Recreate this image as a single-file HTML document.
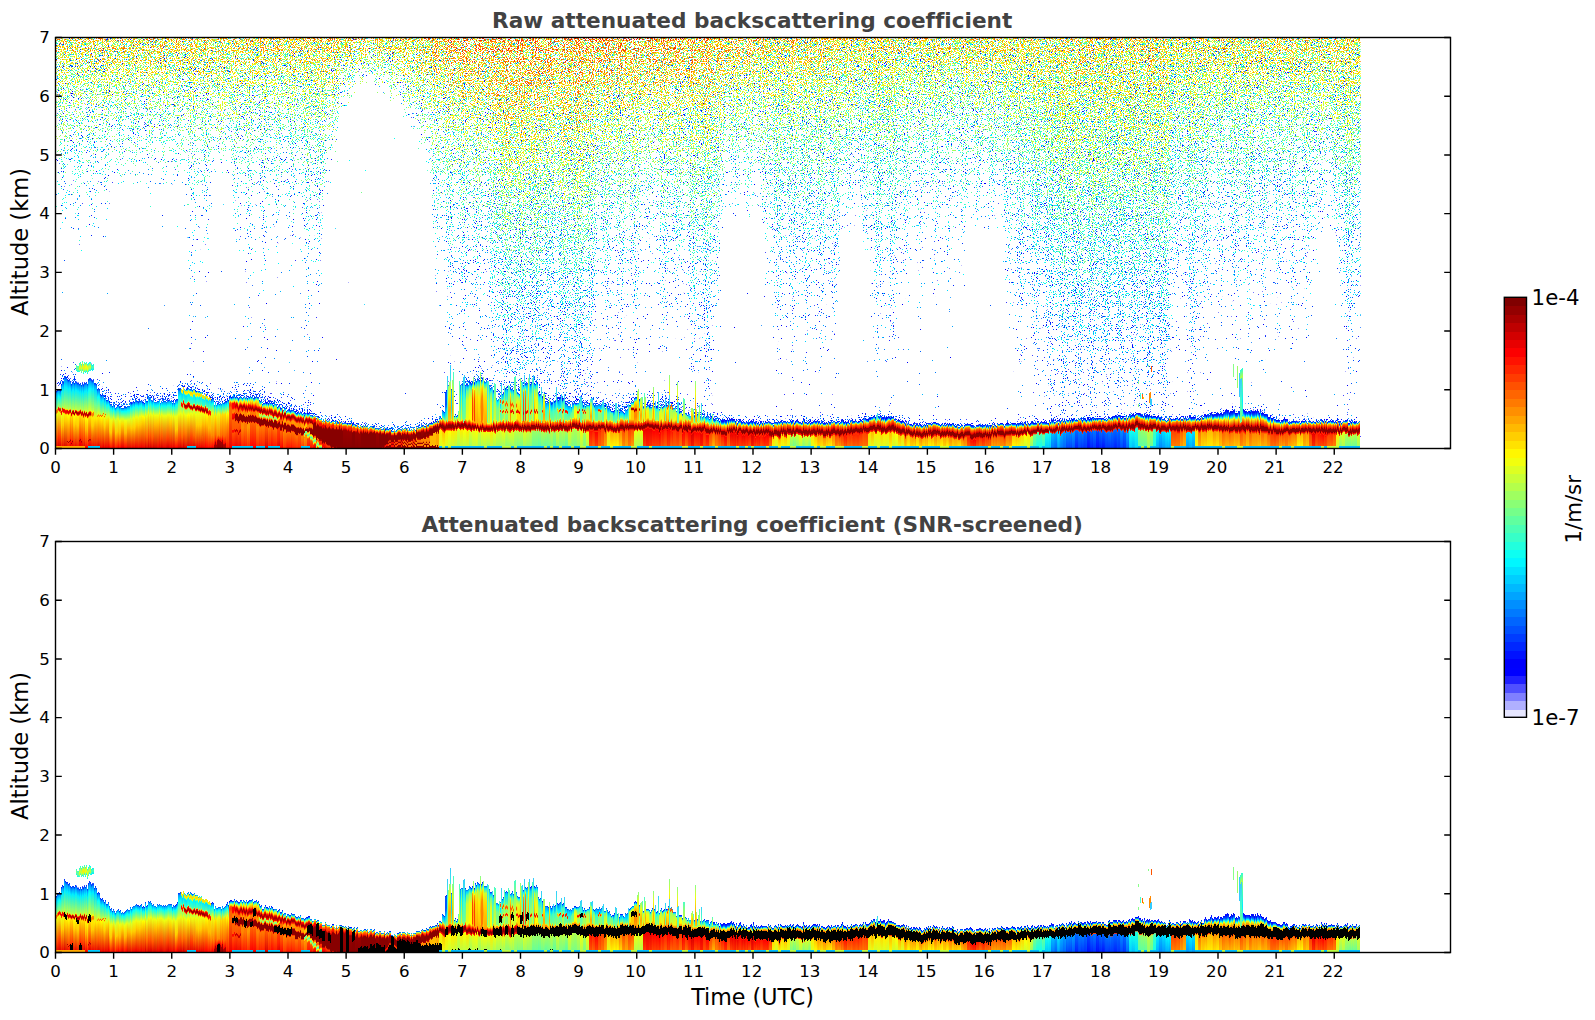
<!DOCTYPE html>
<html><head><meta charset="utf-8"><title>Attenuated backscattering coefficient</title>
<style>html,body{margin:0;padding:0;background:#fff;overflow:hidden}svg{display:block}text{font-family:"DejaVu Sans","Liberation Sans",sans-serif;font-variant-ligatures:none}</style></head><body>
<svg width="1595" height="1020" viewBox="0 0 1595 1020">
<defs>
<linearGradient id="vg" x1="0" y1="0" x2="0" y2="1"/>
<filter id="nz" filterUnits="userSpaceOnUse" x="25.5" y="32.5" width="1365.2" height="421" color-interpolation-filters="sRGB">
<feGaussianBlur in="SourceGraphic" stdDeviation="2.5 0" result="s"/>
<feTurbulence type="fractalNoise" baseFrequency="0.93 0.91" numOctaves="1" seed="11" result="n"/>
<feComponentTransfer in="n" result="n2"><feFuncR type="table" tableValues="1 1 1 1 1 1 1 1 1 1 1 1 1 1 1 1 1 1 1 1 1 1 1 1 1 1 1 1 1 1 1 1 1 1 1 1 1 1 1 1 1 1 1 1 1 1 1 1 1 1 1 1 1 1 1 1 1 1 1 1 1 1 1 0.997 0.993 0.99 0.987 0.984 0.98 0.977 0.973 0.97 0.966 0.962 0.959 0.955 0.951 0.947 0.943 0.939 0.934 0.93 0.926 0.921 0.916 0.912 0.907 0.902 0.897 0.892 0.886 0.881 0.875 0.869 0.863 0.857 0.851 0.844 0.837 0.83 0.823 0.815 0.806 0.796 0.786 0.776 0.765 0.754 0.742 0.73 0.716 0.703 0.688 0.672 0.655 0.637 0.617 0.595 0.572 0.545 0.515 0.481 0.442 0.394 0.335 0.255 0.133 0 0 0.133 0.255 0.335 0.394 0.442 0.481 0.515 0.545 0.572 0.595 0.617 0.637 0.655 0.672 0.688 0.703 0.716 0.73 0.742 0.754 0.765 0.776 0.786 0.796 0.806 0.815 0.823 0.83 0.837 0.844 0.851 0.857 0.863 0.869 0.875 0.881 0.886 0.892 0.897 0.902 0.907 0.912 0.916 0.921 0.926 0.93 0.934 0.939 0.943 0.947 0.951 0.955 0.959 0.962 0.966 0.97 0.973 0.977 0.98 0.984 0.987 0.99 0.993 0.997 1 1 1 1 1 1 1 1 1 1 1 1 1 1 1 1 1 1 1 1 1 1 1 1 1 1 1 1 1 1 1 1 1 1 1 1 1 1 1 1 1 1 1 1 1 1 1 1 1 1 1 1 1 1 1 1 1 1 1 1 1 1 1"/><feFuncA type="linear" slope="0" intercept="1"/></feComponentTransfer>
<feComposite in="n2" in2="s" operator="arithmetic" k1="0" k2="0.5" k3="0.5" k4="0" result="u"/>
<feColorMatrix in="u" type="matrix" values="1 0 0 0 0 1 0 0 0 0 1 0 0 0 0 0 0 0 0 1" result="ur"/>
<feComponentTransfer in="ur" result="col"><feFuncR type="table" tableValues="1 1 1 1 1 1 1 1 1 1 1 1 1 1 1 1 1 1 1 1 1 1 1 1 1 1 1 1 1 1 1 1 1 1 1 1 1 1 1 1 0.902 0.902 0.69 0.69 0.69 0.502 0.502 0.314 0.314 0.314 0.125 0.125 0.125 0 0 0 0 0 0 0 0 0 0 0 0 0 0 0 0 0 0 0 0 0 0 0 0 0 0 0 0 0 0 0 0 0 0 0 0 0.051 0.051 0.051 0.133 0.133 0.216 0.216 0.216 0.294 0.294 0.294 0.376 0.376 0.459 0.459 0.459 0.541 0.541 0.624 0.624 0.624 0.706 0.706 0.706 0.784 0.784 0.867 0.867 0.867 0.949 0.949 1 1 1 1 1 1 1 1 1 1 1 1 1 1 1 1 1 1 1 1 1 1 1 1 1 1 1 1 1 1 1 1 0.988 0.988 0.91 0.91 0.91 0.827 0.827 0.745"/><feFuncG type="table" tableValues="1 1 1 1 1 1 1 1 1 1 1 1 1 1 1 1 1 1 1 1 1 1 1 1 1 1 1 1 1 1 1 1 1 1 1 1 1 1 1 1 0.902 0.902 0.69 0.69 0.69 0.502 0.502 0.314 0.314 0.314 0.125 0.125 0.125 0 0 0 0 0 0.071 0.071 0.153 0.153 0.153 0.235 0.235 0.235 0.318 0.318 0.396 0.396 0.396 0.478 0.478 0.561 0.561 0.561 0.643 0.643 0.643 0.725 0.725 0.808 0.808 0.808 0.886 0.886 0.886 0.969 0.969 1 1 1 1 1 1 1 1 1 1 1 1 1 1 1 1 1 1 1 1 1 1 1 1 1 1 1 1 1 1 1 0.969 0.969 0.969 0.886 0.886 0.886 0.808 0.808 0.725 0.725 0.725 0.643 0.643 0.561 0.561 0.561 0.478 0.478 0.478 0.396 0.396 0.318 0.318 0.318 0.235 0.235 0.153 0.153 0.153 0.071 0.071 0.071 0 0 0 0 0 0 0 0"/><feFuncB type="table" tableValues="1 1 1 1 1 1 1 1 1 1 1 1 1 1 1 1 1 1 1 1 1 1 1 1 1 1 1 1 1 1 1 1 1 1 1 1 1 1 1 1 1 1 1 1 1 1 1 1 1 1 1 1 1 1 1 0.988 0.988 0.988 1 1 1 1 1 1 1 1 1 1 1 1 1 1 1 1 1 1 1 1 1 1 1 1 1 1 1 1 1 1 1 0.949 0.949 0.949 0.867 0.867 0.784 0.784 0.784 0.706 0.706 0.706 0.624 0.624 0.541 0.541 0.541 0.459 0.459 0.376 0.376 0.376 0.294 0.294 0.294 0.216 0.216 0.133 0.133 0.133 0.051 0.051 0 0 0 0 0 0 0 0 0 0 0 0 0 0 0 0 0 0 0 0 0 0 0 0 0 0 0 0 0 0 0 0 0 0 0 0 0 0 0 0"/></feComponentTransfer>
<feColorMatrix in="u" type="matrix" values="0 0 0 0 0 0 0 0 0 0 0 0 0 0 0 0 200 0 0 -80" result="m"/>
<feComposite in="col" in2="m" operator="in"/>
</filter>
<clipPath id="c1"><rect x="55.5" y="37.5" width="1305.2" height="411"/></clipPath>
<linearGradient id="n0" href="#vg"><stop offset="0" stop-color="#cd5200"/><stop offset=".143" stop-color="#944100"/><stop offset=".286" stop-color="#633000"/><stop offset=".429" stop-color="#3d1e00"/><stop offset=".536" stop-color="#270d00"/><stop offset=".571" stop-color="#210000"/><stop offset=".786" stop-color="#020000"/><stop offset=".929" stop-color="#000"/><stop offset="1" stop-color="#000"/></linearGradient>
<linearGradient id="n1" href="#vg"><stop offset="0" stop-color="#cd5200"/><stop offset=".143" stop-color="#914000"/><stop offset=".321" stop-color="#542600"/><stop offset=".429" stop-color="#381400"/><stop offset=".464" stop-color="#310500"/><stop offset=".5" stop-color="#2b0000"/><stop offset=".786" stop-color="#020000"/><stop offset=".929" stop-color="#000"/><stop offset="1" stop-color="#000"/></linearGradient>
<linearGradient id="n2" href="#vg"><stop offset="0" stop-color="#cd5200"/><stop offset=".214" stop-color="#783800"/><stop offset=".321" stop-color="#512300"/><stop offset=".357" stop-color="#451900"/><stop offset=".393" stop-color="#3b0000"/><stop offset=".786" stop-color="#020000"/><stop offset=".929" stop-color="#000"/><stop offset="1" stop-color="#000"/></linearGradient>
<linearGradient id="n3" href="#vg"><stop offset="0" stop-color="#cd5200"/><stop offset=".143" stop-color="#934100"/><stop offset=".321" stop-color="#582b00"/><stop offset=".464" stop-color="#341800"/><stop offset=".536" stop-color="#270c00"/><stop offset=".571" stop-color="#210000"/><stop offset=".786" stop-color="#020000"/><stop offset=".929" stop-color="#000"/><stop offset="1" stop-color="#000"/></linearGradient>
<linearGradient id="n4" href="#vg"><stop offset="0" stop-color="#cd5200"/><stop offset=".143" stop-color="#954200"/><stop offset=".321" stop-color="#5d2f00"/><stop offset=".464" stop-color="#3a2000"/><stop offset=".607" stop-color="#1e1600"/><stop offset=".821" stop-color="#001600"/><stop offset="1" stop-color="#001600"/></linearGradient>
<linearGradient id="n5" href="#vg"><stop offset="0" stop-color="#cd5200"/><stop offset=".143" stop-color="#934100"/><stop offset=".321" stop-color="#582a00"/><stop offset=".464" stop-color="#341700"/><stop offset=".5" stop-color="#2d1100"/><stop offset=".536" stop-color="#260000"/><stop offset=".786" stop-color="#020000"/><stop offset=".929" stop-color="#000"/><stop offset="1" stop-color="#000"/></linearGradient>
<linearGradient id="n6" href="#vg"><stop offset="0" stop-color="#cd5200"/><stop offset=".179" stop-color="#8e3e00"/><stop offset=".25" stop-color="#733100"/><stop offset=".321" stop-color="#571c00"/><stop offset=".357" stop-color="#4c0000"/><stop offset=".857" stop-color="#000"/><stop offset="1" stop-color="#000"/></linearGradient>
<linearGradient id="n7" href="#vg"><stop offset="0" stop-color="#cd5200"/><stop offset=".143" stop-color="#954200"/><stop offset=".321" stop-color="#5d2f00"/><stop offset=".464" stop-color="#3a2000"/><stop offset=".607" stop-color="#1e1500"/><stop offset=".821" stop-color="#001500"/><stop offset="1" stop-color="#001500"/></linearGradient>
<linearGradient id="n8" href="#vg"><stop offset="0" stop-color="#cd5200"/><stop offset=".107" stop-color="#a14500"/><stop offset=".25" stop-color="#703600"/><stop offset=".393" stop-color="#492500"/><stop offset=".536" stop-color="#291700"/><stop offset=".679" stop-color="#131500"/><stop offset=".821" stop-color="#001500"/><stop offset="1" stop-color="#001500"/></linearGradient>
<linearGradient id="n9" href="#vg"><stop offset="0" stop-color="#cd5200"/><stop offset=".143" stop-color="#924100"/><stop offset=".286" stop-color="#633000"/><stop offset=".429" stop-color="#3e2000"/><stop offset=".571" stop-color="#221200"/><stop offset=".786" stop-color="#041200"/><stop offset=".821" stop-color="#001200"/><stop offset="1" stop-color="#001200"/></linearGradient>
<linearGradient id="n10" href="#vg"><stop offset="0" stop-color="#cd5200"/><stop offset=".143" stop-color="#984300"/><stop offset=".286" stop-color="#6a3600"/><stop offset=".429" stop-color="#442700"/><stop offset=".607" stop-color="#1e1600"/><stop offset=".643" stop-color="#181200"/><stop offset=".821" stop-color="#001200"/><stop offset="1" stop-color="#001200"/></linearGradient>
<linearGradient id="n11" href="#vg"><stop offset="0" stop-color="#cd5200"/><stop offset=".179" stop-color="#914300"/><stop offset=".357" stop-color="#5d3400"/><stop offset=".571" stop-color="#2a2100"/><stop offset=".643" stop-color="#1c1c00"/><stop offset=".821" stop-color="#031c00"/><stop offset=".893" stop-color="#001c00"/><stop offset="1" stop-color="#001c00"/></linearGradient>
<linearGradient id="n12" href="#vg"><stop offset="0" stop-color="#cd5200"/><stop offset=".179" stop-color="#8f4200"/><stop offset=".357" stop-color="#583000"/><stop offset=".536" stop-color="#2c1c00"/><stop offset=".607" stop-color="#1d1200"/><stop offset=".643" stop-color="#170700"/><stop offset=".679" stop-color="#100"/><stop offset=".786" stop-color="#020000"/><stop offset=".929" stop-color="#000"/><stop offset="1" stop-color="#000"/></linearGradient>
<linearGradient id="n13" href="#vg"><stop offset="0" stop-color="#cd5200"/><stop offset=".25" stop-color="#753a00"/><stop offset=".393" stop-color="#462300"/><stop offset=".429" stop-color="#3b1a00"/><stop offset=".464" stop-color="#310000"/><stop offset=".786" stop-color="#020000"/><stop offset=".929" stop-color="#000"/><stop offset="1" stop-color="#000"/></linearGradient>
<linearGradient id="n14" href="#vg"><stop offset="0" stop-color="#cd5200"/><stop offset=".25" stop-color="#793600"/><stop offset=".321" stop-color="#602800"/><stop offset=".357" stop-color="#541f00"/><stop offset=".393" stop-color="#470000"/><stop offset=".857" stop-color="#000"/><stop offset="1" stop-color="#000"/></linearGradient>
<linearGradient id="n15" href="#vg"><stop offset="0" stop-color="#cd5200"/><stop offset=".179" stop-color="#8d3d00"/><stop offset=".25" stop-color="#712e00"/><stop offset=".286" stop-color="#612400"/><stop offset=".321" stop-color="#510000"/><stop offset=".857" stop-color="#000"/><stop offset="1" stop-color="#000"/></linearGradient>
<linearGradient id="n16" href="#vg"><stop offset="0" stop-color="#cd5200"/><stop offset=".143" stop-color="#8f3c00"/><stop offset=".179" stop-color="#7e3200"/><stop offset=".214" stop-color="#6c2400"/><stop offset=".25" stop-color="#5b0000"/><stop offset=".643" stop-color="#210000"/><stop offset=".857" stop-color="#000"/><stop offset="1" stop-color="#000"/></linearGradient>
<linearGradient id="n17" href="#vg"><stop offset="0" stop-color="#cd5200"/><stop offset=".107" stop-color="#963d00"/><stop offset=".143" stop-color="#823200"/><stop offset=".179" stop-color="#6c1e00"/><stop offset=".214" stop-color="#600000"/><stop offset=".571" stop-color="#2c0000"/><stop offset=".857" stop-color="#000"/><stop offset="1" stop-color="#000"/></linearGradient>
<linearGradient id="n18" href="#vg"><stop offset="0" stop-color="#cd5200"/><stop offset=".071" stop-color="#a64300"/><stop offset=".107" stop-color="#903a00"/><stop offset=".143" stop-color="#792a00"/><stop offset=".179" stop-color="#640000"/><stop offset=".5" stop-color="#370000"/><stop offset=".857" stop-color="#000"/><stop offset="1" stop-color="#000"/></linearGradient>
<linearGradient id="n19" href="#vg"><stop offset="0" stop-color="#cd5200"/><stop offset=".071" stop-color="#a14100"/><stop offset=".107" stop-color="#893300"/><stop offset=".143" stop-color="#6c1700"/><stop offset=".179" stop-color="#640000"/><stop offset=".5" stop-color="#370000"/><stop offset=".857" stop-color="#000"/><stop offset="1" stop-color="#000"/></linearGradient>
<linearGradient id="n20" href="#vg"><stop offset="0" stop-color="#cd5200"/><stop offset=".071" stop-color="#9a3d00"/><stop offset=".107" stop-color="#7d2900"/><stop offset=".143" stop-color="#690000"/><stop offset=".5" stop-color="#370000"/><stop offset=".857" stop-color="#000"/><stop offset="1" stop-color="#000"/></linearGradient>
<linearGradient id="n21" href="#vg"><stop offset="0" stop-color="#cd5200"/><stop offset=".071" stop-color="#983b00"/><stop offset=".107" stop-color="#792400"/><stop offset=".143" stop-color="#690000"/><stop offset=".5" stop-color="#370000"/><stop offset=".857" stop-color="#000"/><stop offset="1" stop-color="#000"/></linearGradient>
<linearGradient id="n22" href="#vg"><stop offset="0" stop-color="#cd5200"/><stop offset=".071" stop-color="#9b3e00"/><stop offset=".107" stop-color="#7f2b00"/><stop offset=".143" stop-color="#690000"/><stop offset=".5" stop-color="#370000"/><stop offset=".857" stop-color="#000"/><stop offset="1" stop-color="#000"/></linearGradient>
<linearGradient id="n23" href="#vg"><stop offset="0" stop-color="#cd5200"/><stop offset=".071" stop-color="#9e3f00"/><stop offset=".107" stop-color="#853000"/><stop offset=".143" stop-color="#690000"/><stop offset=".5" stop-color="#370000"/><stop offset=".857" stop-color="#000"/><stop offset="1" stop-color="#000"/></linearGradient>
<linearGradient id="n24" href="#vg"><stop offset="0" stop-color="#cd5200"/><stop offset=".071" stop-color="#a14100"/><stop offset=".107" stop-color="#893400"/><stop offset=".143" stop-color="#6d1900"/><stop offset=".179" stop-color="#640000"/><stop offset=".5" stop-color="#370000"/><stop offset=".857" stop-color="#000"/><stop offset="1" stop-color="#000"/></linearGradient>
<linearGradient id="n25" href="#vg"><stop offset="0" stop-color="#cd5200"/><stop offset=".071" stop-color="#a34200"/><stop offset=".107" stop-color="#8d3700"/><stop offset=".143" stop-color="#742300"/><stop offset=".179" stop-color="#640000"/><stop offset=".5" stop-color="#370000"/><stop offset=".857" stop-color="#000"/><stop offset="1" stop-color="#000"/></linearGradient>
<linearGradient id="n26" href="#vg"><stop offset="0" stop-color="#cd5200"/><stop offset=".071" stop-color="#a54300"/><stop offset=".107" stop-color="#903900"/><stop offset=".143" stop-color="#792900"/><stop offset=".179" stop-color="#640000"/><stop offset=".5" stop-color="#370000"/><stop offset=".857" stop-color="#000"/><stop offset="1" stop-color="#000"/></linearGradient>
<linearGradient id="n27" href="#vg"><stop offset="0" stop-color="#cd5200"/><stop offset=".107" stop-color="#953d00"/><stop offset=".143" stop-color="#813000"/><stop offset=".179" stop-color="#6a1b00"/><stop offset=".214" stop-color="#600000"/><stop offset=".571" stop-color="#2c0000"/><stop offset=".857" stop-color="#000"/><stop offset="1" stop-color="#000"/></linearGradient>
<linearGradient id="n28" href="#vg"><stop offset="0" stop-color="#cd5200"/><stop offset=".143" stop-color="#8a3800"/><stop offset=".179" stop-color="#772b00"/><stop offset=".214" stop-color="#600000"/><stop offset=".571" stop-color="#2c0000"/><stop offset=".857" stop-color="#000"/><stop offset="1" stop-color="#000"/></linearGradient>
<linearGradient id="n29" href="#vg"><stop offset="0" stop-color="#cd5200"/><stop offset=".143" stop-color="#903c00"/><stop offset=".179" stop-color="#7f3300"/><stop offset=".214" stop-color="#6d2600"/><stop offset=".25" stop-color="#5b0000"/><stop offset=".643" stop-color="#210000"/><stop offset=".857" stop-color="#000"/><stop offset="1" stop-color="#000"/></linearGradient>
<linearGradient id="n30" href="#vg"><stop offset="0" stop-color="#cd5200"/><stop offset=".179" stop-color="#883a00"/><stop offset=".214" stop-color="#793200"/><stop offset=".25" stop-color="#682500"/><stop offset=".286" stop-color="#560000"/><stop offset=".75" stop-color="#100000"/><stop offset=".857" stop-color="#000"/><stop offset="1" stop-color="#000"/></linearGradient>
<linearGradient id="n31" href="#vg"><stop offset="0" stop-color="#d15200"/><stop offset=".179" stop-color="#923e00"/><stop offset=".25" stop-color="#763100"/><stop offset=".286" stop-color="#672800"/><stop offset=".321" stop-color="#571800"/><stop offset=".357" stop-color="#4e0000"/><stop offset=".857" stop-color="#000"/><stop offset="1" stop-color="#000"/></linearGradient>
<linearGradient id="n32" href="#vg"><stop offset="0" stop-color="#d55200"/><stop offset=".25" stop-color="#7b3a00"/><stop offset=".357" stop-color="#582c00"/><stop offset=".464" stop-color="#371700"/><stop offset=".5" stop-color="#2e0000"/><stop offset=".786" stop-color="#030000"/><stop offset=".857" stop-color="#000"/><stop offset="1" stop-color="#000"/></linearGradient>
<linearGradient id="n33" href="#vg"><stop offset="0" stop-color="#d85200"/><stop offset=".214" stop-color="#8b3f00"/><stop offset=".429" stop-color="#4b2a00"/><stop offset=".607" stop-color="#211600"/><stop offset=".643" stop-color="#1a1100"/><stop offset=".679" stop-color="#130200"/><stop offset=".786" stop-color="#030000"/><stop offset=".857" stop-color="#000"/><stop offset="1" stop-color="#000"/></linearGradient>
<linearGradient id="n34" href="#vg"><stop offset="0" stop-color="#dd5200"/><stop offset=".214" stop-color="#924100"/><stop offset=".429" stop-color="#532f00"/><stop offset=".607" stop-color="#271f00"/><stop offset=".75" stop-color="#0a1200"/><stop offset=".821" stop-color="#001200"/><stop offset="1" stop-color="#001200"/></linearGradient>
<linearGradient id="n35" href="#vg"><stop offset="0" stop-color="#e15200"/><stop offset=".214" stop-color="#974200"/><stop offset=".429" stop-color="#583200"/><stop offset=".607" stop-color="#2b2300"/><stop offset=".75" stop-color="#0e1900"/><stop offset=".821" stop-color="#031900"/><stop offset=".893" stop-color="#001900"/><stop offset="1" stop-color="#001900"/></linearGradient>
<linearGradient id="n36" href="#vg"><stop offset="0" stop-color="#e65200"/><stop offset=".179" stop-color="#a74500"/><stop offset=".429" stop-color="#5b3300"/><stop offset=".643" stop-color="#252100"/><stop offset=".75" stop-color="#0e1900"/><stop offset=".821" stop-color="#031900"/><stop offset=".893" stop-color="#001900"/><stop offset="1" stop-color="#001900"/></linearGradient>
<linearGradient id="n37" href="#vg"><stop offset="0" stop-color="#e85200"/><stop offset=".25" stop-color="#934100"/><stop offset=".464" stop-color="#543100"/><stop offset=".679" stop-color="#1e2000"/><stop offset=".786" stop-color="#091900"/><stop offset=".857" stop-color="#001900"/><stop offset="1" stop-color="#001900"/></linearGradient>
<linearGradient id="n38" href="#vg"><stop offset="0" stop-color="#e85200"/><stop offset=".214" stop-color="#9f4300"/><stop offset=".429" stop-color="#5e3500"/><stop offset=".643" stop-color="#272400"/><stop offset=".75" stop-color="#0f1b00"/><stop offset=".857" stop-color="#001a00"/><stop offset="1" stop-color="#001a00"/></linearGradient>
<linearGradient id="n39" href="#vg"><stop offset="0" stop-color="#e85200"/><stop offset=".429" stop-color="#6e3f00"/><stop offset=".679" stop-color="#2d3000"/><stop offset=".857" stop-color="#022000"/><stop offset=".929" stop-color="#001a00"/><stop offset="1" stop-color="#001a00"/></linearGradient>
<linearGradient id="n40" href="#vg"><stop offset="0" stop-color="#e85200"/><stop offset=".286" stop-color="#a54800"/><stop offset=".643" stop-color="#493900"/><stop offset=".714" stop-color="#373500"/><stop offset="1" stop-color="#043500"/></linearGradient>
<linearGradient id="n41" href="#vg"><stop offset="0" stop-color="#e85200"/><stop offset=".286" stop-color="#a44800"/><stop offset=".607" stop-color="#503a00"/><stop offset=".75" stop-color="#2a3000"/><stop offset="1" stop-color="#003000"/></linearGradient>
<linearGradient id="n42" href="#vg"><stop offset="0" stop-color="#e85200"/><stop offset=".393" stop-color="#763f00"/><stop offset=".643" stop-color="#333000"/><stop offset=".821" stop-color="#082000"/><stop offset=".857" stop-color="#011e00"/><stop offset="1" stop-color="#001e00"/></linearGradient>
<linearGradient id="n43" href="#vg"><stop offset="0" stop-color="#e85200"/><stop offset=".321" stop-color="#9b4600"/><stop offset=".643" stop-color="#463700"/><stop offset=".75" stop-color="#2a3000"/><stop offset="1" stop-color="#003000"/></linearGradient>
<linearGradient id="n44" href="#vg"><stop offset="0" stop-color="#e85200"/><stop offset=".286" stop-color="#a54800"/><stop offset=".643" stop-color="#493900"/><stop offset=".786" stop-color="#243000"/><stop offset="1" stop-color="#003000"/></linearGradient>
<linearGradient id="n45" href="#vg"><stop offset="0" stop-color="#e85200"/><stop offset=".464" stop-color="#653e00"/><stop offset=".679" stop-color="#2e3000"/><stop offset=".893" stop-color="#0b3000"/><stop offset=".964" stop-color="#023000"/><stop offset="1" stop-color="#003000"/></linearGradient>
<linearGradient id="n46" href="#vg"><stop offset="0" stop-color="#e85200"/><stop offset=".25" stop-color="#954200"/><stop offset=".464" stop-color="#563300"/><stop offset=".679" stop-color="#202200"/><stop offset=".786" stop-color="#091900"/><stop offset=".857" stop-color="#001900"/><stop offset="1" stop-color="#001900"/></linearGradient>
<linearGradient id="n47" href="#vg"><stop offset="0" stop-color="#e85200"/><stop offset=".179" stop-color="#a74400"/><stop offset=".357" stop-color="#6e3600"/><stop offset=".536" stop-color="#3c2600"/><stop offset=".714" stop-color="#131600"/><stop offset=".75" stop-color="#0c1200"/><stop offset=".821" stop-color="#011200"/><stop offset="1" stop-color="#001200"/></linearGradient>
<linearGradient id="n48" href="#vg"><stop offset="0" stop-color="#e85200"/><stop offset=".143" stop-color="#af4400"/><stop offset=".321" stop-color="#713300"/><stop offset=".5" stop-color="#3f2200"/><stop offset=".643" stop-color="#1e1400"/><stop offset=".821" stop-color="#011200"/><stop offset="1" stop-color="#001200"/></linearGradient>
<linearGradient id="n49" href="#vg"><stop offset="0" stop-color="#e85200"/><stop offset=".214" stop-color="#9a4100"/><stop offset=".429" stop-color="#582f00"/><stop offset=".607" stop-color="#2a1f00"/><stop offset=".75" stop-color="#0c1200"/><stop offset=".821" stop-color="#011200"/><stop offset="1" stop-color="#001200"/></linearGradient>
<linearGradient id="n50" href="#vg"><stop offset="0" stop-color="#e85200"/><stop offset=".214" stop-color="#9f4300"/><stop offset=".464" stop-color="#543200"/><stop offset=".679" stop-color="#1f2000"/><stop offset=".821" stop-color="#011400"/><stop offset="1" stop-color="#001200"/></linearGradient>
<linearGradient id="n51" href="#vg"><stop offset="0" stop-color="#e85200"/><stop offset=".25" stop-color="#934100"/><stop offset=".5" stop-color="#4a2e00"/><stop offset=".714" stop-color="#171d00"/><stop offset=".821" stop-color="#011400"/><stop offset="1" stop-color="#001200"/></linearGradient>
<linearGradient id="n52" href="#vg"><stop offset="0" stop-color="#e75200"/><stop offset=".25" stop-color="#924100"/><stop offset=".464" stop-color="#533100"/><stop offset=".714" stop-color="#161d00"/><stop offset=".821" stop-color="#011400"/><stop offset="1" stop-color="#001200"/></linearGradient>
<linearGradient id="n53" href="#vg"><stop offset="0" stop-color="#e65200"/><stop offset=".179" stop-color="#a84500"/><stop offset=".357" stop-color="#713a00"/><stop offset=".536" stop-color="#402b00"/><stop offset=".714" stop-color="#161d00"/><stop offset=".821" stop-color="#011300"/><stop offset="1" stop-color="#001200"/></linearGradient>
<linearGradient id="n54" href="#vg"><stop offset="0" stop-color="#e45200"/><stop offset=".25" stop-color="#904100"/><stop offset=".5" stop-color="#482e00"/><stop offset=".679" stop-color="#1d1f00"/><stop offset=".821" stop-color="#011300"/><stop offset="1" stop-color="#001200"/></linearGradient>
<linearGradient id="n55" href="#vg"><stop offset="0" stop-color="#e35200"/><stop offset=".25" stop-color="#8f4000"/><stop offset=".464" stop-color="#513000"/><stop offset=".679" stop-color="#1d1f00"/><stop offset=".821" stop-color="#011300"/><stop offset="1" stop-color="#001200"/></linearGradient>
<linearGradient id="n56" href="#vg"><stop offset="0" stop-color="#e25200"/><stop offset=".286" stop-color="#874000"/><stop offset=".5" stop-color="#4b3100"/><stop offset=".714" stop-color="#182000"/><stop offset=".821" stop-color="#021700"/><stop offset=".893" stop-color="#001200"/><stop offset="1" stop-color="#001200"/></linearGradient>
<linearGradient id="n57" href="#vg"><stop offset="0" stop-color="#df5200"/><stop offset=".393" stop-color="#713f00"/><stop offset=".643" stop-color="#313000"/><stop offset=".857" stop-color="#001e00"/><stop offset="1" stop-color="#001e00"/></linearGradient>
<linearGradient id="n58" href="#vg"><stop offset="0" stop-color="#db5200"/><stop offset=".393" stop-color="#633800"/><stop offset=".536" stop-color="#3b2a00"/><stop offset=".643" stop-color="#1e1b00"/><stop offset=".679" stop-color="#161300"/><stop offset=".714" stop-color="#0e0000"/><stop offset=".786" stop-color="#030000"/><stop offset=".857" stop-color="#000"/><stop offset="1" stop-color="#000"/></linearGradient>
<linearGradient id="n59" href="#vg"><stop offset="0" stop-color="#d65200"/><stop offset=".25" stop-color="#793900"/><stop offset=".393" stop-color="#492000"/><stop offset=".429" stop-color="#3d1700"/><stop offset=".464" stop-color="#340000"/><stop offset=".786" stop-color="#030000"/><stop offset=".857" stop-color="#000"/><stop offset="1" stop-color="#000"/></linearGradient>
<linearGradient id="n60" href="#vg"><stop offset="0" stop-color="#d05200"/><stop offset=".321" stop-color="#6d3b00"/><stop offset=".571" stop-color="#2a2000"/><stop offset=".643" stop-color="#1a1700"/><stop offset=".679" stop-color="#130f00"/><stop offset=".714" stop-color="#0c0000"/><stop offset=".786" stop-color="#020000"/><stop offset=".929" stop-color="#000"/><stop offset="1" stop-color="#000"/></linearGradient>
<linearGradient id="n61" href="#vg"><stop offset="0" stop-color="#cb5200"/><stop offset=".214" stop-color="#8b4300"/><stop offset=".429" stop-color="#523500"/><stop offset=".643" stop-color="#212400"/><stop offset=".821" stop-color="#001400"/><stop offset="1" stop-color="#001200"/></linearGradient>
<linearGradient id="n62" href="#vg"><stop offset="0" stop-color="#c75200"/><stop offset=".321" stop-color="#693b00"/><stop offset=".571" stop-color="#2a2300"/><stop offset=".714" stop-color="#0c0f00"/><stop offset=".786" stop-color="#020f00"/><stop offset=".929" stop-color="#000f00"/><stop offset="1" stop-color="#000f00"/></linearGradient>
<linearGradient id="n63" href="#vg"><stop offset="0" stop-color="#c65200"/><stop offset=".286" stop-color="#673700"/><stop offset=".429" stop-color="#3c2000"/><stop offset=".464" stop-color="#321800"/><stop offset=".5" stop-color="#290000"/><stop offset=".786" stop-color="#010000"/><stop offset="1" stop-color="#000"/></linearGradient>
<linearGradient id="n64" href="#vg"><stop offset="0" stop-color="#c45200"/><stop offset=".357" stop-color="#5e3900"/><stop offset=".607" stop-color="#211e00"/><stop offset=".714" stop-color="#0c0f00"/><stop offset=".786" stop-color="#020f00"/><stop offset=".929" stop-color="#000f00"/><stop offset="1" stop-color="#000f00"/></linearGradient>
<linearGradient id="n65" href="#vg"><stop offset="0" stop-color="#c45200"/><stop offset=".286" stop-color="#733f00"/><stop offset=".571" stop-color="#2e2a00"/><stop offset=".786" stop-color="#051700"/><stop offset=".821" stop-color="#001400"/><stop offset="1" stop-color="#001200"/></linearGradient>
<linearGradient id="n66" href="#vg"><stop offset="0" stop-color="#c45200"/><stop offset=".214" stop-color="#804000"/><stop offset=".393" stop-color="#503100"/><stop offset=".571" stop-color="#282200"/><stop offset=".75" stop-color="#081200"/><stop offset=".821" stop-color="#001200"/><stop offset="1" stop-color="#001200"/></linearGradient>
<linearGradient id="n67" href="#vg"><stop offset="0" stop-color="#c45200"/><stop offset=".143" stop-color="#914300"/><stop offset=".321" stop-color="#5b3200"/><stop offset=".5" stop-color="#322100"/><stop offset=".643" stop-color="#171500"/><stop offset=".714" stop-color="#0c0f00"/><stop offset=".786" stop-color="#020f00"/><stop offset=".929" stop-color="#000f00"/><stop offset="1" stop-color="#000f00"/></linearGradient>
<linearGradient id="n68" href="#vg"><stop offset="0" stop-color="#c45200"/><stop offset=".143" stop-color="#904300"/><stop offset=".321" stop-color="#5b3200"/><stop offset=".5" stop-color="#312100"/><stop offset=".679" stop-color="#110"/><stop offset=".786" stop-color="#020f00"/><stop offset=".929" stop-color="#000f00"/><stop offset="1" stop-color="#000f00"/></linearGradient>
<linearGradient id="n69" href="#vg"><stop offset="0" stop-color="#c45200"/><stop offset=".143" stop-color="#904300"/><stop offset=".286" stop-color="#653500"/><stop offset=".464" stop-color="#392400"/><stop offset=".607" stop-color="#1d1700"/><stop offset=".714" stop-color="#0c0f00"/><stop offset=".786" stop-color="#020f00"/><stop offset=".929" stop-color="#000f00"/><stop offset="1" stop-color="#000f00"/></linearGradient>
<linearGradient id="n70" href="#vg"><stop offset="0" stop-color="#c45200"/><stop offset=".143" stop-color="#904300"/><stop offset=".286" stop-color="#643500"/><stop offset=".464" stop-color="#392400"/><stop offset=".607" stop-color="#1d1700"/><stop offset=".714" stop-color="#0c0f00"/><stop offset=".786" stop-color="#020f00"/><stop offset=".929" stop-color="#000f00"/><stop offset="1" stop-color="#000f00"/></linearGradient>
<linearGradient id="n71" href="#vg"><stop offset="0" stop-color="#c45200"/><stop offset=".143" stop-color="#904300"/><stop offset=".286" stop-color="#643500"/><stop offset=".464" stop-color="#382300"/><stop offset=".679" stop-color="#110"/><stop offset=".786" stop-color="#020f00"/><stop offset=".929" stop-color="#000f00"/><stop offset="1" stop-color="#000f00"/></linearGradient>
<linearGradient id="n72" href="#vg"><stop offset="0" stop-color="#c45200"/><stop offset=".143" stop-color="#904300"/><stop offset=".321" stop-color="#5a3100"/><stop offset=".5" stop-color="#312000"/><stop offset=".679" stop-color="#110"/><stop offset=".786" stop-color="#020f00"/><stop offset=".929" stop-color="#000f00"/><stop offset="1" stop-color="#000f00"/></linearGradient>
<linearGradient id="n73" href="#vg"><stop offset="0" stop-color="#c45200"/><stop offset=".143" stop-color="#904300"/><stop offset=".321" stop-color="#5a3100"/><stop offset=".5" stop-color="#312000"/><stop offset=".643" stop-color="#161300"/><stop offset=".714" stop-color="#0c0f00"/><stop offset=".786" stop-color="#020f00"/><stop offset=".929" stop-color="#000f00"/><stop offset="1" stop-color="#000f00"/></linearGradient>
<linearGradient id="n74" href="#vg"><stop offset="0" stop-color="#c45200"/><stop offset=".143" stop-color="#8f4300"/><stop offset=".286" stop-color="#633500"/><stop offset=".429" stop-color="#402500"/><stop offset=".571" stop-color="#231900"/><stop offset=".714" stop-color="#0c0f00"/><stop offset=".786" stop-color="#020f00"/><stop offset=".929" stop-color="#000f00"/><stop offset="1" stop-color="#000f00"/></linearGradient>
<linearGradient id="n75" href="#vg"><stop offset="0" stop-color="#c45200"/><stop offset=".179" stop-color="#833f00"/><stop offset=".357" stop-color="#502d00"/><stop offset=".536" stop-color="#291c00"/><stop offset=".679" stop-color="#111000"/><stop offset=".786" stop-color="#020f00"/><stop offset=".929" stop-color="#000f00"/><stop offset="1" stop-color="#000f00"/></linearGradient>
<linearGradient id="n76" href="#vg"><stop offset="0" stop-color="#c45200"/><stop offset=".143" stop-color="#8f4200"/><stop offset=".321" stop-color="#593000"/><stop offset=".5" stop-color="#301f00"/><stop offset=".679" stop-color="#111000"/><stop offset=".786" stop-color="#020f00"/><stop offset=".929" stop-color="#000f00"/><stop offset="1" stop-color="#000f00"/></linearGradient>
<linearGradient id="n77" href="#vg"><stop offset="0" stop-color="#c45200"/><stop offset=".179" stop-color="#833f00"/><stop offset=".321" stop-color="#582f00"/><stop offset=".464" stop-color="#351f00"/><stop offset=".607" stop-color="#1a0e00"/><stop offset=".643" stop-color="#140000"/><stop offset=".786" stop-color="#010000"/><stop offset="1" stop-color="#000"/></linearGradient>
<linearGradient id="n78" href="#vg"><stop offset="0" stop-color="#c45200"/><stop offset=".25" stop-color="#763e00"/><stop offset=".464" stop-color="#3d2900"/><stop offset=".679" stop-color="#100f00"/><stop offset=".786" stop-color="#020f00"/><stop offset=".929" stop-color="#000f00"/><stop offset="1" stop-color="#000f00"/></linearGradient>
<linearGradient id="n79" href="#vg"><stop offset="0" stop-color="#c45200"/><stop offset=".25" stop-color="#7c4100"/><stop offset=".5" stop-color="#3d2e00"/><stop offset=".75" stop-color="#0b1a00"/><stop offset=".821" stop-color="#001300"/><stop offset="1" stop-color="#001200"/></linearGradient>
<linearGradient id="n80" href="#vg"><stop offset="0" stop-color="#c45200"/><stop offset=".286" stop-color="#733f00"/><stop offset=".536" stop-color="#362c00"/><stop offset=".786" stop-color="#051800"/><stop offset=".821" stop-color="#001400"/><stop offset="1" stop-color="#001200"/></linearGradient>
<linearGradient id="n81" href="#vg"><stop offset="0" stop-color="#c45200"/><stop offset=".286" stop-color="#743f00"/><stop offset=".5" stop-color="#403000"/><stop offset=".714" stop-color="#121f00"/><stop offset=".821" stop-color="#001600"/><stop offset=".857" stop-color="#001200"/><stop offset="1" stop-color="#001200"/></linearGradient>
<linearGradient id="n82" href="#vg"><stop offset="0" stop-color="#c45200"/><stop offset=".321" stop-color="#6c3e00"/><stop offset=".607" stop-color="#292900"/><stop offset=".786" stop-color="#061a00"/><stop offset=".821" stop-color="#001700"/><stop offset=".893" stop-color="#001200"/><stop offset="1" stop-color="#001200"/></linearGradient>
<linearGradient id="n83" href="#vg"><stop offset="0" stop-color="#c45200"/><stop offset=".429" stop-color="#583b00"/><stop offset=".714" stop-color="#182600"/><stop offset=".821" stop-color="#031d00"/><stop offset=".893" stop-color="#001800"/><stop offset="1" stop-color="#001800"/></linearGradient>
<linearGradient id="n84" href="#vg"><stop offset="0" stop-color="#c45200"/><stop offset=".429" stop-color="#5a3c00"/><stop offset=".714" stop-color="#192800"/><stop offset=".821" stop-color="#031e00"/><stop offset=".893" stop-color="#001e00"/><stop offset="1" stop-color="#001e00"/></linearGradient>
<linearGradient id="n85" href="#vg"><stop offset="0" stop-color="#c45200"/><stop offset=".536" stop-color="#433700"/><stop offset=".786" stop-color="#0c2300"/><stop offset=".857" stop-color="#001e00"/><stop offset="1" stop-color="#001e00"/></linearGradient>
<linearGradient id="n86" href="#vg"><stop offset="0" stop-color="#c45200"/><stop offset=".571" stop-color="#413900"/><stop offset=".714" stop-color="#223000"/><stop offset=".964" stop-color="#023000"/><stop offset="1" stop-color="#003000"/></linearGradient>
<linearGradient id="n87" href="#vg"><stop offset="0" stop-color="#c45200"/><stop offset=".286" stop-color="#904800"/><stop offset=".643" stop-color="#413900"/><stop offset=".893" stop-color="#062500"/><stop offset=".929" stop-color="#012500"/><stop offset="1" stop-color="#002500"/></linearGradient>
<linearGradient id="n88" href="#vg"><stop offset="0" stop-color="#c45200"/><stop offset=".393" stop-color="#613e00"/><stop offset=".679" stop-color="#1f2900"/><stop offset=".821" stop-color="#011a00"/><stop offset="1" stop-color="#001800"/></linearGradient>
<linearGradient id="n89" href="#vg"><stop offset="0" stop-color="#c45200"/><stop offset=".214" stop-color="#824100"/><stop offset=".429" stop-color="#492f00"/><stop offset=".643" stop-color="#1a1c00"/><stop offset=".75" stop-color="#071200"/><stop offset=".821" stop-color="#001200"/><stop offset="1" stop-color="#001200"/></linearGradient>
<linearGradient id="n90" href="#vg"><stop offset="0" stop-color="#c45200"/><stop offset=".321" stop-color="#693c00"/><stop offset=".607" stop-color="#262500"/><stop offset=".786" stop-color="#041500"/><stop offset=".821" stop-color="#001200"/><stop offset="1" stop-color="#001200"/></linearGradient>
<linearGradient id="n91" href="#vg"><stop offset="0" stop-color="#c45200"/><stop offset=".429" stop-color="#5a3c00"/><stop offset=".714" stop-color="#1a2800"/><stop offset=".821" stop-color="#041e00"/><stop offset=".857" stop-color="#001e00"/><stop offset="1" stop-color="#001e00"/></linearGradient>
<linearGradient id="n92" href="#vg"><stop offset="0" stop-color="#c45200"/><stop offset=".25" stop-color="#7c4100"/><stop offset=".464" stop-color="#463100"/><stop offset=".679" stop-color="#182000"/><stop offset=".786" stop-color="#041700"/><stop offset=".821" stop-color="#001300"/><stop offset="1" stop-color="#001200"/></linearGradient>
<linearGradient id="n93" href="#vg"><stop offset="0" stop-color="#c45200"/><stop offset=".25" stop-color="#773e00"/><stop offset=".464" stop-color="#412c00"/><stop offset=".643" stop-color="#1b1e00"/><stop offset=".786" stop-color="#031200"/><stop offset=".857" stop-color="#001200"/><stop offset="1" stop-color="#001200"/></linearGradient>
<linearGradient id="n94" href="#vg"><stop offset="0" stop-color="#c45200"/><stop offset=".25" stop-color="#793f00"/><stop offset=".464" stop-color="#432e00"/><stop offset=".679" stop-color="#161d00"/><stop offset=".786" stop-color="#031400"/><stop offset=".857" stop-color="#001200"/><stop offset="1" stop-color="#001200"/></linearGradient>
<linearGradient id="n95" href="#vg"><stop offset="0" stop-color="#c45200"/><stop offset=".25" stop-color="#7b4000"/><stop offset=".464" stop-color="#453000"/><stop offset=".679" stop-color="#171f00"/><stop offset=".786" stop-color="#041600"/><stop offset=".821" stop-color="#001300"/><stop offset="1" stop-color="#001200"/></linearGradient>
<linearGradient id="n96" href="#vg"><stop offset="0" stop-color="#c45200"/><stop offset=".179" stop-color="#8d4400"/><stop offset=".393" stop-color="#533300"/><stop offset=".643" stop-color="#1c1f00"/><stop offset=".786" stop-color="#031300"/><stop offset=".857" stop-color="#001200"/><stop offset="1" stop-color="#001200"/></linearGradient>
<linearGradient id="n97" href="#vg"><stop offset="0" stop-color="#c45200"/><stop offset=".214" stop-color="#804000"/><stop offset=".393" stop-color="#503200"/><stop offset=".607" stop-color="#211f00"/><stop offset=".786" stop-color="#031200"/><stop offset=".857" stop-color="#001200"/><stop offset="1" stop-color="#001200"/></linearGradient>
<linearGradient id="n98" href="#vg"><stop offset="0" stop-color="#c45200"/><stop offset=".214" stop-color="#7d3f00"/><stop offset=".429" stop-color="#422900"/><stop offset=".607" stop-color="#1c1500"/><stop offset=".643" stop-color="#161000"/><stop offset=".679" stop-color="#100100"/><stop offset=".786" stop-color="#010000"/><stop offset="1" stop-color="#000"/></linearGradient>
<linearGradient id="n99" href="#vg"><stop offset="0" stop-color="#c45200"/><stop offset=".393" stop-color="#573700"/><stop offset=".643" stop-color="#1a1c00"/><stop offset=".714" stop-color="#0c0f00"/><stop offset=".786" stop-color="#020f00"/><stop offset=".929" stop-color="#000f00"/><stop offset="1" stop-color="#000f00"/></linearGradient>
<linearGradient id="n100" href="#vg"><stop offset="0" stop-color="#c45200"/><stop offset=".464" stop-color="#4f3900"/><stop offset=".786" stop-color="#091f00"/><stop offset=".821" stop-color="#021c00"/><stop offset=".857" stop-color="#001800"/><stop offset="1" stop-color="#001800"/></linearGradient>
<linearGradient id="sp0" href="#vg"><stop offset="0" stop-color="#3cf"/><stop offset=".5" stop-color="#4fc"/><stop offset="1" stop-color="#7f8"/></linearGradient>
<linearGradient id="sp1" href="#vg"><stop offset="0" stop-color="#4fc"/><stop offset=".4" stop-color="#9f6"/><stop offset="1" stop-color="#df2"/></linearGradient>
<linearGradient id="sp2" href="#vg"><stop offset="0" stop-color="#8f8"/><stop offset=".3" stop-color="#ef1"/><stop offset=".7" stop-color="#fa0"/><stop offset="1" stop-color="#fc0"/></linearGradient>
<linearGradient id="d0" href="#vg"><stop offset=".005" stop-color="#01f"/><stop offset=".041" stop-color="#0af"/><stop offset=".097" stop-color="#0df"/><stop offset=".281" stop-color="#8f7"/><stop offset=".299" stop-color="#fd0"/><stop offset=".309" stop-color="#f70"/><stop offset=".346" stop-color="#f60"/><stop offset=".373" stop-color="#ef1"/><stop offset=".76" stop-color="#f40"/><stop offset=".917" stop-color="#d00"/></linearGradient>
<linearGradient id="d1" href="#vg"><stop offset=".005" stop-color="#03f"/><stop offset=".033" stop-color="#09f"/><stop offset=".116" stop-color="#0ff"/><stop offset=".284" stop-color="#9f6"/><stop offset=".293" stop-color="#fb0"/><stop offset=".302" stop-color="#f30"/><stop offset=".312" stop-color="#e00"/><stop offset=".339" stop-color="#e00"/><stop offset=".358" stop-color="#fc0"/><stop offset=".367" stop-color="#ef1"/><stop offset=".767" stop-color="#f30"/><stop offset=".916" stop-color="#d00"/></linearGradient>
<linearGradient id="d2" href="#vg"><stop offset=".004" stop-color="#02f"/><stop offset=".037" stop-color="#09f"/><stop offset=".111" stop-color="#0ef"/><stop offset=".358" stop-color="#af5"/><stop offset=".366" stop-color="#ef1"/><stop offset=".383" stop-color="#e00"/><stop offset=".407" stop-color="#e00"/><stop offset=".424" stop-color="#f20"/><stop offset=".44" stop-color="#ef1"/><stop offset=".605" stop-color="#fc0"/><stop offset=".926" stop-color="#e00"/></linearGradient>
<linearGradient id="d3" href="#vg"><stop offset=".004" stop-color="#02f"/><stop offset=".042" stop-color="#09f"/><stop offset=".134" stop-color="#0ef"/><stop offset=".418" stop-color="#bf4"/><stop offset=".425" stop-color="#fd0"/><stop offset=".441" stop-color="#e00"/><stop offset=".464" stop-color="#e00"/><stop offset=".479" stop-color="#f30"/><stop offset=".494" stop-color="#fe0"/><stop offset=".578" stop-color="#fc0"/><stop offset=".931" stop-color="#d00"/></linearGradient>
<linearGradient id="d4" href="#vg"><stop offset=".004" stop-color="#01f"/><stop offset=".043" stop-color="#09f"/><stop offset=".129" stop-color="#0ef"/><stop offset=".404" stop-color="#bf4"/><stop offset=".412" stop-color="#fd0"/><stop offset=".42" stop-color="#f50"/><stop offset=".427" stop-color="#d00"/><stop offset=".459" stop-color="#e00"/><stop offset=".474" stop-color="#fc0"/><stop offset=".482" stop-color="#ff0"/><stop offset=".827" stop-color="#f40"/><stop offset=".835" stop-color="#a00"/><stop offset=".843" stop-color="#a00"/><stop offset=".851" stop-color="#f30"/><stop offset=".929" stop-color="#e00"/></linearGradient>
<linearGradient id="d5" href="#vg"><stop offset=".004" stop-color="#02f"/><stop offset=".037" stop-color="#08f"/><stop offset=".118" stop-color="#0ef"/><stop offset=".388" stop-color="#bf4"/><stop offset=".396" stop-color="#fe0"/><stop offset=".404" stop-color="#f60"/><stop offset=".412" stop-color="#d00"/><stop offset=".42" stop-color="#a00"/><stop offset=".429" stop-color="#a00"/><stop offset=".445" stop-color="#f00"/><stop offset=".461" stop-color="#fd0"/><stop offset=".804" stop-color="#f30"/><stop offset=".82" stop-color="#f00"/><stop offset=".828" stop-color="#900"/><stop offset=".837" stop-color="#900"/><stop offset=".845" stop-color="#e00"/><stop offset=".853" stop-color="#f10"/><stop offset=".926" stop-color="#d00"/></linearGradient>
<linearGradient id="d6" href="#vg"><stop offset=".004" stop-color="#01f"/><stop offset=".045" stop-color="#09f"/><stop offset=".127" stop-color="#0ef"/><stop offset=".396" stop-color="#bf4"/><stop offset=".404" stop-color="#fe0"/><stop offset=".42" stop-color="#d00"/><stop offset=".437" stop-color="#900"/><stop offset=".445" stop-color="#900"/><stop offset=".453" stop-color="#f00"/><stop offset=".461" stop-color="#fc0"/><stop offset=".469" stop-color="#ff0"/><stop offset=".6" stop-color="#fc0"/><stop offset=".926" stop-color="#e00"/></linearGradient>
<linearGradient id="d7" href="#vg"><stop offset=".003" stop-color="#1fe"/><stop offset=".016" stop-color="#5fa"/><stop offset=".043" stop-color="#7f8"/><stop offset=".069" stop-color="#1fe"/><stop offset=".076" stop-color="#fff"/><stop offset=".188" stop-color="#fff"/><stop offset=".195" stop-color="#02f"/><stop offset=".221" stop-color="#08f"/><stop offset=".287" stop-color="#0ef"/><stop offset=".505" stop-color="#bf4"/><stop offset=".511" stop-color="#fe0"/><stop offset=".518" stop-color="#f60"/><stop offset=".525" stop-color="#c00"/><stop offset=".544" stop-color="#900"/><stop offset=".558" stop-color="#f10"/><stop offset=".571" stop-color="#fe0"/><stop offset=".676" stop-color="#fc0"/><stop offset=".94" stop-color="#e00"/></linearGradient>
<linearGradient id="d8" href="#vg"><stop offset=".003" stop-color="#2fd"/><stop offset=".016" stop-color="#7f8"/><stop offset=".042" stop-color="#df2"/><stop offset=".068" stop-color="#bf4"/><stop offset=".094" stop-color="#2fd"/><stop offset=".101" stop-color="#fff"/><stop offset=".225" stop-color="#fff"/><stop offset=".231" stop-color="#03f"/><stop offset=".257" stop-color="#09f"/><stop offset=".322" stop-color="#0ef"/><stop offset=".518" stop-color="#bf4"/><stop offset=".524" stop-color="#fa0"/><stop offset=".531" stop-color="#f10"/><stop offset=".544" stop-color="#c00"/><stop offset=".55" stop-color="#900"/><stop offset=".563" stop-color="#b00"/><stop offset=".57" stop-color="#f40"/><stop offset=".576" stop-color="#fa0"/><stop offset=".583" stop-color="#fd0"/><stop offset=".831" stop-color="#f30"/><stop offset=".85" stop-color="#f10"/><stop offset=".857" stop-color="#900"/><stop offset=".863" stop-color="#900"/><stop offset=".87" stop-color="#f00"/><stop offset=".941" stop-color="#d00"/></linearGradient>
<linearGradient id="d9" href="#vg"><stop offset=".003" stop-color="#1fe"/><stop offset=".029" stop-color="#cf3"/><stop offset=".055" stop-color="#fe0"/><stop offset=".081" stop-color="#cf3"/><stop offset=".107" stop-color="#1fe"/><stop offset=".113" stop-color="#fff"/><stop offset=".223" stop-color="#fff"/><stop offset=".23" stop-color="#01f"/><stop offset=".262" stop-color="#09f"/><stop offset=".327" stop-color="#0ef"/><stop offset=".527" stop-color="#bf4"/><stop offset=".54" stop-color="#fc0"/><stop offset=".547" stop-color="#f40"/><stop offset=".553" stop-color="#b00"/><stop offset=".566" stop-color="#900"/><stop offset=".586" stop-color="#f10"/><stop offset=".599" stop-color="#fd0"/><stop offset=".832" stop-color="#f40"/><stop offset=".942" stop-color="#d00"/></linearGradient>
<linearGradient id="d10" href="#vg"><stop offset=".003" stop-color="#0ff"/><stop offset=".029" stop-color="#cf3"/><stop offset=".055" stop-color="#ff0"/><stop offset=".081" stop-color="#cf3"/><stop offset=".107" stop-color="#0ff"/><stop offset=".113" stop-color="#fff"/><stop offset=".217" stop-color="#fff"/><stop offset=".223" stop-color="#02f"/><stop offset=".249" stop-color="#09f"/><stop offset=".314" stop-color="#0ef"/><stop offset=".534" stop-color="#cf3"/><stop offset=".547" stop-color="#fe0"/><stop offset=".553" stop-color="#f50"/><stop offset=".56" stop-color="#b00"/><stop offset=".566" stop-color="#900"/><stop offset=".579" stop-color="#c00"/><stop offset=".586" stop-color="#c00"/><stop offset=".592" stop-color="#f10"/><stop offset=".605" stop-color="#ff0"/><stop offset=".741" stop-color="#fb0"/><stop offset=".942" stop-color="#f00"/></linearGradient>
<linearGradient id="d11" href="#vg"><stop offset=".003" stop-color="#0ff"/><stop offset=".016" stop-color="#6f9"/><stop offset=".042" stop-color="#cf3"/><stop offset=".068" stop-color="#af5"/><stop offset=".094" stop-color="#0ff"/><stop offset=".101" stop-color="#fff"/><stop offset=".173" stop-color="#fff"/><stop offset=".179" stop-color="#02f"/><stop offset=".212" stop-color="#09f"/><stop offset=".296" stop-color="#0ff"/><stop offset=".537" stop-color="#df2"/><stop offset=".55" stop-color="#f20"/><stop offset=".557" stop-color="#d00"/><stop offset=".57" stop-color="#900"/><stop offset=".576" stop-color="#900"/><stop offset=".583" stop-color="#d00"/><stop offset=".603" stop-color="#fd0"/><stop offset=".85" stop-color="#f30"/><stop offset=".857" stop-color="#a00"/><stop offset=".863" stop-color="#a00"/><stop offset=".87" stop-color="#f20"/><stop offset=".941" stop-color="#d00"/></linearGradient>
<linearGradient id="d12" href="#vg"><stop offset=".003" stop-color="#0ef"/><stop offset=".036" stop-color="#5fa"/><stop offset=".069" stop-color="#0ef"/><stop offset=".076" stop-color="#fff"/><stop offset=".175" stop-color="#fff"/><stop offset=".181" stop-color="#02f"/><stop offset=".214" stop-color="#09f"/><stop offset=".28" stop-color="#0ef"/><stop offset=".518" stop-color="#bf4"/><stop offset=".538" stop-color="#ff0"/><stop offset=".551" stop-color="#f80"/><stop offset=".577" stop-color="#f70"/><stop offset=".597" stop-color="#fe0"/><stop offset=".696" stop-color="#fc0"/><stop offset=".94" stop-color="#e00"/></linearGradient>
<linearGradient id="d13" href="#vg"><stop offset=".004" stop-color="#03f"/><stop offset=".038" stop-color="#09f"/><stop offset=".105" stop-color="#0df"/><stop offset=".297" stop-color="#6f9"/><stop offset=".489" stop-color="#fe0"/><stop offset=".925" stop-color="#e00"/></linearGradient>
<linearGradient id="d14" href="#vg"><stop offset=".005" stop-color="#01f"/><stop offset=".041" stop-color="#08f"/><stop offset=".131" stop-color="#0ff"/><stop offset=".403" stop-color="#df2"/><stop offset=".421" stop-color="#f80"/><stop offset=".43" stop-color="#f80"/><stop offset=".439" stop-color="#fd0"/><stop offset=".448" stop-color="#fe0"/><stop offset=".756" stop-color="#f50"/><stop offset=".918" stop-color="#d00"/></linearGradient>
<linearGradient id="d15" href="#vg"><stop offset=".005" stop-color="#01f"/><stop offset=".034" stop-color="#08f"/><stop offset=".113" stop-color="#0ef"/><stop offset=".34" stop-color="#bf4"/><stop offset=".35" stop-color="#fa0"/><stop offset=".36" stop-color="#f40"/><stop offset=".369" stop-color="#f70"/><stop offset=".379" stop-color="#ff0"/><stop offset=".448" stop-color="#fd0"/><stop offset=".911" stop-color="#e00"/></linearGradient>
<linearGradient id="d16" href="#vg"><stop offset=".005" stop-color="#01f"/><stop offset=".036" stop-color="#09f"/><stop offset=".098" stop-color="#0ef"/><stop offset=".306" stop-color="#af5"/><stop offset=".316" stop-color="#ef1"/><stop offset=".326" stop-color="#f60"/><stop offset=".337" stop-color="#f40"/><stop offset=".347" stop-color="#fd0"/><stop offset=".357" stop-color="#ef1"/><stop offset=".523" stop-color="#fc0"/><stop offset=".907" stop-color="#e00"/></linearGradient>
<linearGradient id="d17" href="#vg"><stop offset=".005" stop-color="#02f"/><stop offset=".038" stop-color="#0af"/><stop offset=".104" stop-color="#0ff"/><stop offset=".322" stop-color="#df2"/><stop offset=".388" stop-color="#fd0"/><stop offset=".901" stop-color="#e00"/></linearGradient>
<linearGradient id="d18" href="#vg"><stop offset=".006" stop-color="#01f"/><stop offset=".029" stop-color="#08f"/><stop offset=".098" stop-color="#0ff"/><stop offset=".318" stop-color="#ef1"/><stop offset=".572" stop-color="#fc0"/><stop offset=".896" stop-color="#f00"/></linearGradient>
<linearGradient id="d19" href="#vg"><stop offset=".006" stop-color="#03f"/><stop offset=".03" stop-color="#0af"/><stop offset=".091" stop-color="#0ff"/><stop offset=".273" stop-color="#df2"/><stop offset=".394" stop-color="#fc0"/><stop offset=".891" stop-color="#e00"/></linearGradient>
<linearGradient id="d20" href="#vg"><stop offset=".006" stop-color="#05f"/><stop offset=".019" stop-color="#08f"/><stop offset=".069" stop-color="#0ef"/><stop offset=".27" stop-color="#df2"/><stop offset=".547" stop-color="#fc0"/><stop offset=".887" stop-color="#f10"/></linearGradient>
<linearGradient id="d21" href="#vg"><stop offset=".006" stop-color="#03f"/><stop offset=".031" stop-color="#0af"/><stop offset=".081" stop-color="#0ef"/><stop offset=".292" stop-color="#ef1"/><stop offset=".553" stop-color="#fb0"/><stop offset=".888" stop-color="#f00"/></linearGradient>
<linearGradient id="d22" href="#vg"><stop offset=".007" stop-color="#02f"/><stop offset=".033" stop-color="#0af"/><stop offset=".085" stop-color="#0ff"/><stop offset=".255" stop-color="#df2"/><stop offset=".359" stop-color="#fd0"/><stop offset=".882" stop-color="#e00"/></linearGradient>
<linearGradient id="d23" href="#vg"><stop offset=".006" stop-color="#04f"/><stop offset=".032" stop-color="#0bf"/><stop offset=".083" stop-color="#0ff"/><stop offset=".287" stop-color="#ef1"/><stop offset=".554" stop-color="#fb0"/><stop offset=".885" stop-color="#f00"/></linearGradient>
<linearGradient id="d24" href="#vg"><stop offset=".006" stop-color="#02f"/><stop offset=".03" stop-color="#09f"/><stop offset=".102" stop-color="#0ff"/><stop offset=".293" stop-color="#df2"/><stop offset=".461" stop-color="#fb0"/><stop offset=".892" stop-color="#d00"/></linearGradient>
<linearGradient id="d25" href="#vg"><stop offset=".006" stop-color="#04f"/><stop offset=".029" stop-color="#0af"/><stop offset=".098" stop-color="#0ff"/><stop offset=".306" stop-color="#df2"/><stop offset=".491" stop-color="#fc0"/><stop offset=".896" stop-color="#e00"/></linearGradient>
<linearGradient id="d26" href="#vg"><stop offset=".006" stop-color="#03f"/><stop offset=".028" stop-color="#09f"/><stop offset=".096" stop-color="#0ff"/><stop offset=".311" stop-color="#ef1"/><stop offset=".503" stop-color="#fc0"/><stop offset=".898" stop-color="#e00"/></linearGradient>
<linearGradient id="d27" href="#vg"><stop offset=".006" stop-color="#02f"/><stop offset=".028" stop-color="#08f"/><stop offset=".095" stop-color="#0ff"/><stop offset=".307" stop-color="#ef1"/><stop offset=".452" stop-color="#fc0"/><stop offset=".899" stop-color="#e00"/></linearGradient>
<linearGradient id="d28" href="#vg"><stop offset=".006" stop-color="#02f"/><stop offset=".028" stop-color="#09f"/><stop offset=".095" stop-color="#0ff"/><stop offset=".296" stop-color="#ef1"/><stop offset=".452" stop-color="#fc0"/><stop offset=".899" stop-color="#e00"/></linearGradient>
<linearGradient id="d29" href="#vg"><stop offset=".006" stop-color="#01f"/><stop offset=".029" stop-color="#09f"/><stop offset=".097" stop-color="#0ff"/><stop offset=".28" stop-color="#ff0"/><stop offset=".897" stop-color="#e00"/></linearGradient>
<linearGradient id="d30" href="#vg"><stop offset=".005" stop-color="#01f"/><stop offset=".038" stop-color="#0af"/><stop offset=".104" stop-color="#0ff"/><stop offset=".29" stop-color="#ef1"/><stop offset=".672" stop-color="#f60"/><stop offset=".901" stop-color="#d00"/></linearGradient>
<linearGradient id="d31" href="#vg"><stop offset=".005" stop-color="#03f"/><stop offset=".026" stop-color="#09f"/><stop offset=".101" stop-color="#0ff"/><stop offset=".302" stop-color="#ef1"/><stop offset=".693" stop-color="#f50"/><stop offset=".905" stop-color="#d00"/></linearGradient>
<linearGradient id="d32" href="#vg"><stop offset=".005" stop-color="#03f"/><stop offset=".027" stop-color="#0af"/><stop offset=".093" stop-color="#0ff"/><stop offset=".279" stop-color="#ef1"/><stop offset=".705" stop-color="#f50"/><stop offset=".901" stop-color="#d00"/></linearGradient>
<linearGradient id="d33" href="#vg"><stop offset=".006" stop-color="#04f"/><stop offset=".028" stop-color="#0bf"/><stop offset=".085" stop-color="#0ff"/><stop offset=".265" stop-color="#ef1"/><stop offset=".446" stop-color="#fb0"/><stop offset=".898" stop-color="#d00"/></linearGradient>
<linearGradient id="d34" href="#vg"><stop offset=".006" stop-color="#04f"/><stop offset=".028" stop-color="#0af"/><stop offset=".084" stop-color="#0ff"/><stop offset=".274" stop-color="#ef1"/><stop offset=".408" stop-color="#fc0"/><stop offset=".899" stop-color="#e00"/></linearGradient>
<linearGradient id="d35" href="#vg"><stop offset=".006" stop-color="#03f"/><stop offset=".028" stop-color="#0af"/><stop offset=".085" stop-color="#0ff"/><stop offset=".265" stop-color="#ef1"/><stop offset=".683" stop-color="#f50"/><stop offset=".898" stop-color="#d00"/></linearGradient>
<linearGradient id="d36" href="#vg"><stop offset=".006" stop-color="#03f"/><stop offset=".028" stop-color="#0af"/><stop offset=".095" stop-color="#0ff"/><stop offset=".285" stop-color="#ef1"/><stop offset=".899" stop-color="#e00"/></linearGradient>
<linearGradient id="d37" href="#vg"><stop offset=".006" stop-color="#04f"/><stop offset=".028" stop-color="#0af"/><stop offset=".096" stop-color="#1fe"/><stop offset=".277" stop-color="#ef1"/><stop offset=".717" stop-color="#f40"/><stop offset=".898" stop-color="#d00"/></linearGradient>
<linearGradient id="d38" href="#vg"><stop offset=".006" stop-color="#03f"/><stop offset=".028" stop-color="#0af"/><stop offset=".095" stop-color="#0ff"/><stop offset=".285" stop-color="#ef1"/><stop offset=".419" stop-color="#fc0"/><stop offset=".899" stop-color="#e00"/></linearGradient>
<linearGradient id="d39" href="#vg"><stop offset=".006" stop-color="#01f"/><stop offset=".028" stop-color="#08f"/><stop offset=".096" stop-color="#0ff"/><stop offset=".277" stop-color="#ef1"/><stop offset=".898" stop-color="#e00"/></linearGradient>
<linearGradient id="d40" href="#vg"><stop offset=".006" stop-color="#02f"/><stop offset=".028" stop-color="#08f"/><stop offset=".094" stop-color="#0ff"/><stop offset=".304" stop-color="#ef1"/><stop offset=".569" stop-color="#fc0"/><stop offset=".9" stop-color="#f00"/></linearGradient>
<linearGradient id="d41" href="#vg"><stop offset=".005" stop-color="#02f"/><stop offset=".041" stop-color="#09f"/><stop offset=".131" stop-color="#0ff"/><stop offset=".394" stop-color="#ef1"/><stop offset=".774" stop-color="#f40"/><stop offset=".918" stop-color="#d00"/></linearGradient>
<linearGradient id="d42" href="#vg"><stop offset=".005" stop-color="#8f7"/><stop offset=".014" stop-color="#fd0"/><stop offset=".023" stop-color="#fd0"/><stop offset=".05" stop-color="#ff0"/><stop offset=".068" stop-color="#2fd"/><stop offset=".077" stop-color="#0cf"/><stop offset=".086" stop-color="#0df"/><stop offset=".195" stop-color="#3fc"/><stop offset=".204" stop-color="#cf3"/><stop offset=".213" stop-color="#f90"/><stop offset=".222" stop-color="#f00"/><stop offset=".267" stop-color="#f00"/><stop offset=".285" stop-color="#ff0"/><stop offset=".294" stop-color="#8f7"/><stop offset=".394" stop-color="#ef1"/><stop offset=".737" stop-color="#f60"/><stop offset=".918" stop-color="#d00"/></linearGradient>
<linearGradient id="d43" href="#vg"><stop offset=".005" stop-color="#01f"/><stop offset=".014" stop-color="#0df"/><stop offset=".023" stop-color="#8f7"/><stop offset=".032" stop-color="#fd0"/><stop offset=".05" stop-color="#fd0"/><stop offset=".068" stop-color="#ff0"/><stop offset=".086" stop-color="#2fd"/><stop offset=".095" stop-color="#0df"/><stop offset=".195" stop-color="#3fc"/><stop offset=".213" stop-color="#6f9"/><stop offset=".222" stop-color="#ff0"/><stop offset=".231" stop-color="#f60"/><stop offset=".24" stop-color="#c00"/><stop offset=".249" stop-color="#900"/><stop offset=".258" stop-color="#900"/><stop offset=".276" stop-color="#c00"/><stop offset=".294" stop-color="#f20"/><stop offset=".312" stop-color="#df2"/><stop offset=".321" stop-color="#9f6"/><stop offset=".394" stop-color="#ef1"/><stop offset=".683" stop-color="#f70"/><stop offset=".918" stop-color="#d00"/></linearGradient>
<linearGradient id="d44" href="#vg"><stop offset=".005" stop-color="#03f"/><stop offset=".023" stop-color="#0af"/><stop offset=".032" stop-color="#4fb"/><stop offset=".041" stop-color="#cf3"/><stop offset=".059" stop-color="#fd0"/><stop offset=".077" stop-color="#ff0"/><stop offset=".095" stop-color="#2fd"/><stop offset=".104" stop-color="#0ef"/><stop offset=".204" stop-color="#3fc"/><stop offset=".213" stop-color="#bf4"/><stop offset=".222" stop-color="#f90"/><stop offset=".231" stop-color="#f00"/><stop offset=".249" stop-color="#e00"/><stop offset=".267" stop-color="#900"/><stop offset=".285" stop-color="#a00"/><stop offset=".294" stop-color="#f00"/><stop offset=".312" stop-color="#ff0"/><stop offset=".321" stop-color="#9f6"/><stop offset=".412" stop-color="#ff0"/><stop offset=".918" stop-color="#d00"/></linearGradient>
<linearGradient id="d45" href="#vg"><stop offset=".005" stop-color="#03f"/><stop offset=".023" stop-color="#07f"/><stop offset=".032" stop-color="#0cf"/><stop offset=".041" stop-color="#6f9"/><stop offset=".05" stop-color="#df2"/><stop offset=".059" stop-color="#fd0"/><stop offset=".086" stop-color="#fd0"/><stop offset=".104" stop-color="#ff0"/><stop offset=".113" stop-color="#9f6"/><stop offset=".131" stop-color="#0ff"/><stop offset=".24" stop-color="#5fa"/><stop offset=".249" stop-color="#cf3"/><stop offset=".258" stop-color="#f90"/><stop offset=".267" stop-color="#f10"/><stop offset=".276" stop-color="#b00"/><stop offset=".294" stop-color="#900"/><stop offset=".312" stop-color="#f00"/><stop offset=".33" stop-color="#fd0"/><stop offset=".339" stop-color="#bf4"/><stop offset=".385" stop-color="#ef1"/><stop offset=".774" stop-color="#f30"/><stop offset=".918" stop-color="#d00"/></linearGradient>
<linearGradient id="d46" href="#vg"><stop offset=".005" stop-color="#08f"/><stop offset=".014" stop-color="#4fb"/><stop offset=".023" stop-color="#df2"/><stop offset=".042" stop-color="#fd0"/><stop offset=".07" stop-color="#ff0"/><stop offset=".088" stop-color="#3fc"/><stop offset=".098" stop-color="#0ef"/><stop offset=".219" stop-color="#4fb"/><stop offset=".228" stop-color="#df2"/><stop offset=".246" stop-color="#f00"/><stop offset=".265" stop-color="#a00"/><stop offset=".284" stop-color="#900"/><stop offset=".293" stop-color="#c00"/><stop offset=".302" stop-color="#f30"/><stop offset=".321" stop-color="#df2"/><stop offset=".33" stop-color="#bf4"/><stop offset=".367" stop-color="#ef1"/><stop offset=".73" stop-color="#f60"/><stop offset=".916" stop-color="#d00"/></linearGradient>
<linearGradient id="d47" href="#vg"><stop offset=".005" stop-color="#03f"/><stop offset=".014" stop-color="#0af"/><stop offset=".024" stop-color="#5fa"/><stop offset=".033" stop-color="#ef1"/><stop offset=".043" stop-color="#fd0"/><stop offset=".062" stop-color="#fd0"/><stop offset=".081" stop-color="#ef1"/><stop offset=".1" stop-color="#3fc"/><stop offset=".109" stop-color="#0ff"/><stop offset=".213" stop-color="#5fa"/><stop offset=".223" stop-color="#ef1"/><stop offset=".242" stop-color="#e00"/><stop offset=".251" stop-color="#e00"/><stop offset=".27" stop-color="#900"/><stop offset=".289" stop-color="#900"/><stop offset=".299" stop-color="#c00"/><stop offset=".308" stop-color="#f30"/><stop offset=".327" stop-color="#ef1"/><stop offset=".336" stop-color="#cf3"/><stop offset=".365" stop-color="#ef1"/><stop offset=".554" stop-color="#fc0"/><stop offset=".915" stop-color="#e00"/></linearGradient>
<linearGradient id="d48" href="#vg"><stop offset=".005" stop-color="#05f"/><stop offset=".014" stop-color="#1fe"/><stop offset=".024" stop-color="#bf4"/><stop offset=".034" stop-color="#fd0"/><stop offset=".063" stop-color="#fd0"/><stop offset=".072" stop-color="#bf4"/><stop offset=".092" stop-color="#0ef"/><stop offset=".208" stop-color="#5fa"/><stop offset=".217" stop-color="#bf4"/><stop offset=".227" stop-color="#fb0"/><stop offset=".237" stop-color="#f20"/><stop offset=".256" stop-color="#e00"/><stop offset=".275" stop-color="#900"/><stop offset=".295" stop-color="#900"/><stop offset=".304" stop-color="#c00"/><stop offset=".314" stop-color="#f30"/><stop offset=".333" stop-color="#ff0"/><stop offset=".353" stop-color="#ef1"/><stop offset=".546" stop-color="#fc0"/><stop offset=".913" stop-color="#e00"/></linearGradient>
<linearGradient id="d49" href="#vg"><stop offset=".005" stop-color="#0ff"/><stop offset=".015" stop-color="#af5"/><stop offset=".025" stop-color="#fd0"/><stop offset=".055" stop-color="#fd0"/><stop offset=".065" stop-color="#af5"/><stop offset=".085" stop-color="#0ef"/><stop offset=".194" stop-color="#4fb"/><stop offset=".204" stop-color="#bf4"/><stop offset=".214" stop-color="#fb0"/><stop offset=".224" stop-color="#f20"/><stop offset=".234" stop-color="#e00"/><stop offset=".254" stop-color="#900"/><stop offset=".274" stop-color="#900"/><stop offset=".293" stop-color="#f00"/><stop offset=".303" stop-color="#f60"/><stop offset=".323" stop-color="#ef1"/><stop offset=".502" stop-color="#fb0"/><stop offset=".91" stop-color="#e00"/></linearGradient>
<linearGradient id="d50" href="#vg"><stop offset=".005" stop-color="#fd0"/><stop offset=".046" stop-color="#fe0"/><stop offset=".066" stop-color="#3fc"/><stop offset=".076" stop-color="#0df"/><stop offset=".198" stop-color="#5fa"/><stop offset=".208" stop-color="#ef1"/><stop offset=".228" stop-color="#f00"/><stop offset=".239" stop-color="#e00"/><stop offset=".259" stop-color="#b00"/><stop offset=".289" stop-color="#a00"/><stop offset=".299" stop-color="#f00"/><stop offset=".31" stop-color="#f70"/><stop offset=".33" stop-color="#ff0"/><stop offset=".513" stop-color="#fb0"/><stop offset=".908" stop-color="#f00"/></linearGradient>
<linearGradient id="d51" href="#vg"><stop offset=".005" stop-color="#fd0"/><stop offset=".036" stop-color="#fe0"/><stop offset=".057" stop-color="#3fc"/><stop offset=".067" stop-color="#0df"/><stop offset=".078" stop-color="#0ef"/><stop offset=".212" stop-color="#7f8"/><stop offset=".223" stop-color="#cf3"/><stop offset=".243" stop-color="#f30"/><stop offset=".254" stop-color="#f10"/><stop offset=".295" stop-color="#f10"/><stop offset=".326" stop-color="#fd0"/><stop offset=".544" stop-color="#fb0"/><stop offset=".907" stop-color="#f00"/></linearGradient>
<linearGradient id="d52" href="#vg"><stop offset=".005" stop-color="#01f"/><stop offset=".027" stop-color="#08f"/><stop offset=".092" stop-color="#0ff"/><stop offset=".276" stop-color="#ef1"/><stop offset=".676" stop-color="#f80"/><stop offset=".903" stop-color="#f00"/></linearGradient>
<linearGradient id="d53" href="#vg"><stop offset=".006" stop-color="#05f"/><stop offset=".017" stop-color="#09f"/><stop offset=".064" stop-color="#0ff"/><stop offset=".237" stop-color="#fe0"/><stop offset=".653" stop-color="#f60"/><stop offset=".78" stop-color="#f00"/><stop offset=".792" stop-color="#a00"/><stop offset=".896" stop-color="#900"/></linearGradient>
<linearGradient id="d54" href="#vg"><stop offset=".006" stop-color="#03f"/><stop offset=".03" stop-color="#0bf"/><stop offset=".065" stop-color="#0ff"/><stop offset=".207" stop-color="#ef1"/><stop offset=".645" stop-color="#f80"/><stop offset=".728" stop-color="#f10"/><stop offset=".74" stop-color="#a00"/><stop offset=".893" stop-color="#800"/></linearGradient>
<linearGradient id="d55" href="#vg"><stop offset=".006" stop-color="#03f"/><stop offset=".017" stop-color="#08f"/><stop offset=".052" stop-color="#0df"/><stop offset=".144" stop-color="#6f9"/><stop offset=".237" stop-color="#fd0"/><stop offset=".653" stop-color="#f60"/><stop offset=".746" stop-color="#f00"/><stop offset=".757" stop-color="#a00"/><stop offset=".896" stop-color="#800"/></linearGradient>
<linearGradient id="d56" href="#vg"><stop offset=".006" stop-color="#02f"/><stop offset=".029" stop-color="#0bf"/><stop offset=".064" stop-color="#0ef"/><stop offset=".191" stop-color="#bf4"/><stop offset=".237" stop-color="#fd0"/><stop offset=".665" stop-color="#f60"/><stop offset=".815" stop-color="#f00"/><stop offset=".826" stop-color="#a00"/><stop offset=".896" stop-color="#a00"/></linearGradient>
<linearGradient id="d57" href="#vg"><stop offset=".006" stop-color="#01f"/><stop offset=".028" stop-color="#09f"/><stop offset=".083" stop-color="#0ff"/><stop offset=".249" stop-color="#ff0"/><stop offset=".47" stop-color="#f90"/><stop offset=".9" stop-color="#f10"/></linearGradient>
<linearGradient id="d58" href="#vg"><stop offset=".005" stop-color="#00f"/><stop offset=".037" stop-color="#0df"/><stop offset=".047" stop-color="#3fc"/><stop offset=".079" stop-color="#ff0"/><stop offset=".11" stop-color="#f50"/><stop offset=".152" stop-color="#f30"/><stop offset=".204" stop-color="#f60"/><stop offset=".33" stop-color="#f60"/><stop offset=".906" stop-color="#e00"/></linearGradient>
<linearGradient id="d59" href="#vg"><stop offset=".005" stop-color="#01f"/><stop offset=".036" stop-color="#0ef"/><stop offset=".067" stop-color="#bf4"/><stop offset=".088" stop-color="#fd0"/><stop offset=".119" stop-color="#f00"/><stop offset=".202" stop-color="#f00"/><stop offset=".233" stop-color="#f70"/><stop offset=".285" stop-color="#f80"/><stop offset=".306" stop-color="#f10"/><stop offset=".389" stop-color="#e00"/><stop offset=".409" stop-color="#f60"/><stop offset=".585" stop-color="#f50"/><stop offset=".596" stop-color="#f00"/><stop offset=".627" stop-color="#f10"/><stop offset=".637" stop-color="#f50"/><stop offset=".907" stop-color="#f00"/></linearGradient>
<linearGradient id="d60" href="#vg"><stop offset=".005" stop-color="#03f"/><stop offset=".037" stop-color="#1fe"/><stop offset=".079" stop-color="#ff0"/><stop offset=".12" stop-color="#e00"/><stop offset=".162" stop-color="#b00"/><stop offset=".194" stop-color="#f00"/><stop offset=".225" stop-color="#f60"/><stop offset=".288" stop-color="#f60"/><stop offset=".298" stop-color="#d00"/><stop offset=".309" stop-color="#800"/><stop offset=".414" stop-color="#900"/><stop offset=".424" stop-color="#f10"/><stop offset=".434" stop-color="#f60"/><stop offset=".571" stop-color="#f50"/><stop offset=".581" stop-color="#f10"/><stop offset=".592" stop-color="#b00"/><stop offset=".612" stop-color="#c00"/><stop offset=".623" stop-color="#f20"/><stop offset=".633" stop-color="#f40"/><stop offset=".906" stop-color="#e00"/></linearGradient>
<linearGradient id="d61" href="#vg"><stop offset=".005" stop-color="#03f"/><stop offset=".037" stop-color="#2fd"/><stop offset=".068" stop-color="#df2"/><stop offset=".089" stop-color="#fd0"/><stop offset=".141" stop-color="#f00"/><stop offset=".152" stop-color="#c00"/><stop offset=".173" stop-color="#900"/><stop offset=".204" stop-color="#e00"/><stop offset=".236" stop-color="#f60"/><stop offset=".288" stop-color="#f70"/><stop offset=".298" stop-color="#f30"/><stop offset=".309" stop-color="#b00"/><stop offset=".319" stop-color="#800"/><stop offset=".414" stop-color="#800"/><stop offset=".424" stop-color="#f00"/><stop offset=".434" stop-color="#f60"/><stop offset=".581" stop-color="#f40"/><stop offset=".592" stop-color="#e00"/><stop offset=".602" stop-color="#b00"/><stop offset=".623" stop-color="#b00"/><stop offset=".633" stop-color="#f10"/><stop offset=".644" stop-color="#f40"/><stop offset=".906" stop-color="#e00"/></linearGradient>
<linearGradient id="d62" href="#vg"><stop offset=".005" stop-color="#01f"/><stop offset=".036" stop-color="#0ff"/><stop offset=".078" stop-color="#ef1"/><stop offset=".109" stop-color="#fc0"/><stop offset=".14" stop-color="#f00"/><stop offset=".15" stop-color="#b00"/><stop offset=".171" stop-color="#900"/><stop offset=".192" stop-color="#c00"/><stop offset=".223" stop-color="#f00"/><stop offset=".254" stop-color="#f80"/><stop offset=".295" stop-color="#f90"/><stop offset=".306" stop-color="#f30"/><stop offset=".316" stop-color="#900"/><stop offset=".326" stop-color="#800"/><stop offset=".42" stop-color="#800"/><stop offset=".43" stop-color="#b00"/><stop offset=".44" stop-color="#f40"/><stop offset=".451" stop-color="#f80"/><stop offset=".544" stop-color="#f80"/><stop offset=".907" stop-color="#f10"/></linearGradient>
<linearGradient id="d63" href="#vg"><stop offset=".005" stop-color="#02f"/><stop offset=".036" stop-color="#1fe"/><stop offset=".078" stop-color="#ff0"/><stop offset=".109" stop-color="#fb0"/><stop offset=".15" stop-color="#f00"/><stop offset=".181" stop-color="#900"/><stop offset=".202" stop-color="#900"/><stop offset=".223" stop-color="#e00"/><stop offset=".264" stop-color="#f80"/><stop offset=".326" stop-color="#f80"/><stop offset=".337" stop-color="#f20"/><stop offset=".347" stop-color="#900"/><stop offset=".357" stop-color="#800"/><stop offset=".43" stop-color="#800"/><stop offset=".44" stop-color="#f00"/><stop offset=".451" stop-color="#f70"/><stop offset=".544" stop-color="#f70"/><stop offset=".907" stop-color="#f10"/></linearGradient>
<linearGradient id="d64" href="#vg"><stop offset=".005" stop-color="#02f"/><stop offset=".037" stop-color="#0ff"/><stop offset=".079" stop-color="#ef1"/><stop offset=".11" stop-color="#fc0"/><stop offset=".141" stop-color="#f10"/><stop offset=".162" stop-color="#e00"/><stop offset=".183" stop-color="#b00"/><stop offset=".204" stop-color="#900"/><stop offset=".236" stop-color="#f10"/><stop offset=".267" stop-color="#fa0"/><stop offset=".319" stop-color="#f90"/><stop offset=".33" stop-color="#f00"/><stop offset=".34" stop-color="#800"/><stop offset=".445" stop-color="#900"/><stop offset=".455" stop-color="#f20"/><stop offset=".466" stop-color="#f90"/><stop offset=".539" stop-color="#f90"/><stop offset=".906" stop-color="#f20"/></linearGradient>
<linearGradient id="d65" href="#vg"><stop offset=".005" stop-color="#01f"/><stop offset=".036" stop-color="#0ef"/><stop offset=".078" stop-color="#ef1"/><stop offset=".14" stop-color="#f80"/><stop offset=".171" stop-color="#f00"/><stop offset=".202" stop-color="#900"/><stop offset=".223" stop-color="#900"/><stop offset=".243" stop-color="#f00"/><stop offset=".275" stop-color="#f70"/><stop offset=".326" stop-color="#f70"/><stop offset=".337" stop-color="#f10"/><stop offset=".347" stop-color="#900"/><stop offset=".44" stop-color="#800"/><stop offset=".451" stop-color="#b00"/><stop offset=".461" stop-color="#f40"/><stop offset=".471" stop-color="#f60"/><stop offset=".907" stop-color="#f00"/></linearGradient>
<linearGradient id="d66" href="#vg"><stop offset=".005" stop-color="#02f"/><stop offset=".037" stop-color="#1fe"/><stop offset=".069" stop-color="#df2"/><stop offset=".09" stop-color="#fe0"/><stop offset=".153" stop-color="#f20"/><stop offset=".175" stop-color="#e00"/><stop offset=".206" stop-color="#900"/><stop offset=".227" stop-color="#a00"/><stop offset=".238" stop-color="#f00"/><stop offset=".259" stop-color="#f70"/><stop offset=".323" stop-color="#f70"/><stop offset=".333" stop-color="#f10"/><stop offset=".344" stop-color="#900"/><stop offset=".439" stop-color="#800"/><stop offset=".45" stop-color="#d00"/><stop offset=".46" stop-color="#f50"/><stop offset=".471" stop-color="#f60"/><stop offset=".905" stop-color="#f00"/></linearGradient>
<linearGradient id="d67" href="#vg"><stop offset=".005" stop-color="#03f"/><stop offset=".016" stop-color="#07f"/><stop offset=".037" stop-color="#3fc"/><stop offset=".068" stop-color="#ef1"/><stop offset=".152" stop-color="#f90"/><stop offset=".183" stop-color="#f00"/><stop offset=".204" stop-color="#a00"/><stop offset=".236" stop-color="#900"/><stop offset=".246" stop-color="#d00"/><stop offset=".257" stop-color="#f40"/><stop offset=".277" stop-color="#f90"/><stop offset=".351" stop-color="#f90"/><stop offset=".372" stop-color="#c00"/><stop offset=".382" stop-color="#800"/><stop offset=".455" stop-color="#800"/><stop offset=".466" stop-color="#d00"/><stop offset=".476" stop-color="#f70"/><stop offset=".539" stop-color="#f80"/><stop offset=".906" stop-color="#f20"/></linearGradient>
<linearGradient id="d68" href="#vg"><stop offset=".006" stop-color="#03f"/><stop offset=".039" stop-color="#1fe"/><stop offset=".072" stop-color="#df2"/><stop offset=".094" stop-color="#fe0"/><stop offset=".127" stop-color="#f20"/><stop offset=".149" stop-color="#e00"/><stop offset=".171" stop-color="#900"/><stop offset=".193" stop-color="#900"/><stop offset=".226" stop-color="#f00"/><stop offset=".249" stop-color="#ef1"/><stop offset=".26" stop-color="#af5"/><stop offset=".282" stop-color="#af5"/><stop offset=".293" stop-color="#df2"/><stop offset=".326" stop-color="#f50"/><stop offset=".337" stop-color="#c00"/><stop offset=".348" stop-color="#800"/><stop offset=".458" stop-color="#800"/><stop offset=".47" stop-color="#e00"/><stop offset=".481" stop-color="#f60"/><stop offset=".503" stop-color="#f70"/><stop offset=".9" stop-color="#f10"/></linearGradient>
<linearGradient id="d69" href="#vg"><stop offset=".006" stop-color="#00f"/><stop offset=".04" stop-color="#0df"/><stop offset=".052" stop-color="#3fc"/><stop offset=".087" stop-color="#fd0"/><stop offset=".098" stop-color="#f80"/><stop offset=".121" stop-color="#e00"/><stop offset=".133" stop-color="#e00"/><stop offset=".156" stop-color="#900"/><stop offset=".191" stop-color="#a00"/><stop offset=".202" stop-color="#f00"/><stop offset=".214" stop-color="#f40"/><stop offset=".237" stop-color="#df2"/><stop offset=".249" stop-color="#8f8"/><stop offset=".272" stop-color="#9f6"/><stop offset=".283" stop-color="#fe0"/><stop offset=".295" stop-color="#f80"/><stop offset=".306" stop-color="#f70"/><stop offset=".318" stop-color="#e00"/><stop offset=".329" stop-color="#800"/><stop offset=".41" stop-color="#800"/><stop offset=".433" stop-color="#f30"/><stop offset=".445" stop-color="#f70"/><stop offset=".48" stop-color="#f70"/><stop offset=".896" stop-color="#f10"/></linearGradient>
<linearGradient id="d70" href="#vg"><stop offset=".006" stop-color="#00f"/><stop offset=".04" stop-color="#0df"/><stop offset=".051" stop-color="#3fc"/><stop offset=".086" stop-color="#ef1"/><stop offset=".109" stop-color="#fc0"/><stop offset=".143" stop-color="#f10"/><stop offset=".166" stop-color="#c00"/><stop offset=".189" stop-color="#900"/><stop offset=".211" stop-color="#c00"/><stop offset=".234" stop-color="#f00"/><stop offset=".246" stop-color="#f50"/><stop offset=".257" stop-color="#ef1"/><stop offset=".269" stop-color="#8f8"/><stop offset=".291" stop-color="#af5"/><stop offset=".303" stop-color="#fc0"/><stop offset=".314" stop-color="#f60"/><stop offset=".326" stop-color="#f50"/><stop offset=".337" stop-color="#d00"/><stop offset=".349" stop-color="#800"/><stop offset=".451" stop-color="#800"/><stop offset=".463" stop-color="#f00"/><stop offset=".474" stop-color="#f50"/><stop offset=".52" stop-color="#f50"/><stop offset=".897" stop-color="#d00"/></linearGradient>
<linearGradient id="d71" href="#vg"><stop offset=".006" stop-color="#00f"/><stop offset=".04" stop-color="#0df"/><stop offset=".052" stop-color="#3fc"/><stop offset=".075" stop-color="#af5"/><stop offset=".098" stop-color="#ff0"/><stop offset=".144" stop-color="#f00"/><stop offset=".168" stop-color="#b00"/><stop offset=".191" stop-color="#900"/><stop offset=".214" stop-color="#d00"/><stop offset=".237" stop-color="#f30"/><stop offset=".249" stop-color="#fa0"/><stop offset=".26" stop-color="#bf4"/><stop offset=".272" stop-color="#8f8"/><stop offset=".295" stop-color="#9f6"/><stop offset=".306" stop-color="#fe0"/><stop offset=".318" stop-color="#f80"/><stop offset=".341" stop-color="#f80"/><stop offset=".353" stop-color="#f10"/><stop offset=".364" stop-color="#800"/><stop offset=".457" stop-color="#800"/><stop offset=".468" stop-color="#d00"/><stop offset=".48" stop-color="#f60"/><stop offset=".491" stop-color="#f70"/><stop offset=".896" stop-color="#f10"/></linearGradient>
<linearGradient id="d72" href="#vg"><stop offset=".006" stop-color="#01f"/><stop offset=".041" stop-color="#0ef"/><stop offset=".088" stop-color="#ef1"/><stop offset=".111" stop-color="#fd0"/><stop offset=".146" stop-color="#f20"/><stop offset=".17" stop-color="#b00"/><stop offset=".193" stop-color="#900"/><stop offset=".216" stop-color="#c00"/><stop offset=".251" stop-color="#f10"/><stop offset=".263" stop-color="#fb0"/><stop offset=".275" stop-color="#9f6"/><stop offset=".298" stop-color="#8f8"/><stop offset=".31" stop-color="#af5"/><stop offset=".322" stop-color="#fc0"/><stop offset=".345" stop-color="#f00"/><stop offset=".357" stop-color="#800"/><stop offset=".474" stop-color="#800"/><stop offset=".485" stop-color="#f00"/><stop offset=".497" stop-color="#f60"/><stop offset=".895" stop-color="#f00"/></linearGradient>
<linearGradient id="d73" href="#vg"><stop offset=".006" stop-color="#03f"/><stop offset=".042" stop-color="#2fd"/><stop offset=".078" stop-color="#df2"/><stop offset=".114" stop-color="#fc0"/><stop offset=".15" stop-color="#f10"/><stop offset=".174" stop-color="#b00"/><stop offset=".21" stop-color="#900"/><stop offset=".245" stop-color="#f00"/><stop offset=".257" stop-color="#f60"/><stop offset=".269" stop-color="#ef1"/><stop offset=".281" stop-color="#8f8"/><stop offset=".305" stop-color="#8f8"/><stop offset=".317" stop-color="#cf3"/><stop offset=".329" stop-color="#f70"/><stop offset=".341" stop-color="#c00"/><stop offset=".353" stop-color="#800"/><stop offset=".473" stop-color="#800"/><stop offset=".485" stop-color="#d00"/><stop offset=".497" stop-color="#f60"/><stop offset=".509" stop-color="#f70"/><stop offset=".892" stop-color="#f10"/></linearGradient>
<linearGradient id="d74" href="#vg"><stop offset=".006" stop-color="#02f"/><stop offset=".043" stop-color="#1fe"/><stop offset=".081" stop-color="#cf3"/><stop offset=".106" stop-color="#fd0"/><stop offset=".143" stop-color="#f00"/><stop offset=".155" stop-color="#c00"/><stop offset=".18" stop-color="#900"/><stop offset=".23" stop-color="#f10"/><stop offset=".255" stop-color="#fe0"/><stop offset=".279" stop-color="#fe0"/><stop offset=".304" stop-color="#f50"/><stop offset=".329" stop-color="#f50"/><stop offset=".342" stop-color="#f00"/><stop offset=".354" stop-color="#800"/><stop offset=".416" stop-color="#800"/><stop offset=".453" stop-color="#a00"/><stop offset=".466" stop-color="#f10"/><stop offset=".478" stop-color="#f40"/><stop offset=".689" stop-color="#f20"/><stop offset=".888" stop-color="#d00"/></linearGradient>
<linearGradient id="d75" href="#vg"><stop offset=".006" stop-color="#02f"/><stop offset=".045" stop-color="#0ff"/><stop offset=".083" stop-color="#df2"/><stop offset=".121" stop-color="#f00"/><stop offset=".146" stop-color="#b00"/><stop offset=".172" stop-color="#900"/><stop offset=".197" stop-color="#b00"/><stop offset=".223" stop-color="#e00"/><stop offset=".261" stop-color="#f60"/><stop offset=".312" stop-color="#f70"/><stop offset=".338" stop-color="#f40"/><stop offset=".35" stop-color="#c00"/><stop offset=".363" stop-color="#800"/><stop offset=".465" stop-color="#800"/><stop offset=".478" stop-color="#d00"/><stop offset=".49" stop-color="#f50"/><stop offset=".503" stop-color="#f60"/><stop offset=".885" stop-color="#f00"/></linearGradient>
<linearGradient id="d76" href="#vg"><stop offset=".007" stop-color="#01f"/><stop offset=".046" stop-color="#0ef"/><stop offset=".085" stop-color="#bf4"/><stop offset=".098" stop-color="#fb0"/><stop offset=".111" stop-color="#f50"/><stop offset=".124" stop-color="#c00"/><stop offset=".137" stop-color="#900"/><stop offset=".176" stop-color="#b00"/><stop offset=".216" stop-color="#f00"/><stop offset=".255" stop-color="#fa0"/><stop offset=".32" stop-color="#fa0"/><stop offset=".333" stop-color="#f50"/><stop offset=".346" stop-color="#b00"/><stop offset=".359" stop-color="#800"/><stop offset=".464" stop-color="#800"/><stop offset=".477" stop-color="#a00"/><stop offset=".49" stop-color="#f40"/><stop offset=".503" stop-color="#f80"/><stop offset=".882" stop-color="#f30"/></linearGradient>
<linearGradient id="d77" href="#vg"><stop offset=".007" stop-color="#01f"/><stop offset=".047" stop-color="#0ef"/><stop offset=".06" stop-color="#4fb"/><stop offset=".087" stop-color="#df2"/><stop offset=".127" stop-color="#f00"/><stop offset=".154" stop-color="#900"/><stop offset=".181" stop-color="#900"/><stop offset=".208" stop-color="#e00"/><stop offset=".262" stop-color="#f90"/><stop offset=".329" stop-color="#f70"/><stop offset=".342" stop-color="#e00"/><stop offset=".356" stop-color="#800"/><stop offset=".49" stop-color="#900"/><stop offset=".503" stop-color="#f10"/><stop offset=".517" stop-color="#f70"/><stop offset=".879" stop-color="#f10"/></linearGradient>
<linearGradient id="d78" href="#vg"><stop offset=".007" stop-color="#03f"/><stop offset=".048" stop-color="#2fd"/><stop offset=".075" stop-color="#bf4"/><stop offset=".088" stop-color="#fa0"/><stop offset=".116" stop-color="#f00"/><stop offset=".143" stop-color="#900"/><stop offset=".17" stop-color="#900"/><stop offset=".211" stop-color="#e00"/><stop offset=".265" stop-color="#f90"/><stop offset=".333" stop-color="#f80"/><stop offset=".347" stop-color="#f30"/><stop offset=".36" stop-color="#a00"/><stop offset=".374" stop-color="#800"/><stop offset=".483" stop-color="#800"/><stop offset=".496" stop-color="#f10"/><stop offset=".51" stop-color="#f70"/><stop offset=".877" stop-color="#f10"/></linearGradient>
<linearGradient id="d79" href="#vg"><stop offset=".007" stop-color="#02f"/><stop offset=".048" stop-color="#1fe"/><stop offset=".062" stop-color="#5fa"/><stop offset=".09" stop-color="#fc0"/><stop offset=".117" stop-color="#f10"/><stop offset=".145" stop-color="#a00"/><stop offset=".172" stop-color="#900"/><stop offset=".214" stop-color="#f10"/><stop offset=".255" stop-color="#f90"/><stop offset=".324" stop-color="#f90"/><stop offset=".338" stop-color="#f50"/><stop offset=".352" stop-color="#c00"/><stop offset=".365" stop-color="#800"/><stop offset=".434" stop-color="#800"/><stop offset=".49" stop-color="#900"/><stop offset=".503" stop-color="#f20"/><stop offset=".517" stop-color="#f70"/><stop offset=".876" stop-color="#f20"/></linearGradient>
<linearGradient id="d80" href="#vg"><stop offset=".007" stop-color="#03f"/><stop offset=".05" stop-color="#1fe"/><stop offset=".078" stop-color="#bf4"/><stop offset=".092" stop-color="#fb0"/><stop offset=".121" stop-color="#f00"/><stop offset=".163" stop-color="#900"/><stop offset=".191" stop-color="#900"/><stop offset=".22" stop-color="#f10"/><stop offset=".248" stop-color="#f80"/><stop offset=".333" stop-color="#f90"/><stop offset=".347" stop-color="#f40"/><stop offset=".362" stop-color="#b00"/><stop offset=".376" stop-color="#800"/><stop offset=".518" stop-color="#800"/><stop offset=".532" stop-color="#f00"/><stop offset=".546" stop-color="#f70"/><stop offset=".872" stop-color="#f20"/></linearGradient>
<linearGradient id="d81" href="#vg"><stop offset=".007" stop-color="#00f"/><stop offset=".049" stop-color="#0df"/><stop offset=".077" stop-color="#7f8"/><stop offset=".105" stop-color="#fd0"/><stop offset=".119" stop-color="#f70"/><stop offset=".147" stop-color="#e00"/><stop offset=".175" stop-color="#900"/><stop offset=".203" stop-color="#900"/><stop offset=".231" stop-color="#e00"/><stop offset=".273" stop-color="#f80"/><stop offset=".357" stop-color="#f80"/><stop offset=".371" stop-color="#f40"/><stop offset=".385" stop-color="#b00"/><stop offset=".399" stop-color="#800"/><stop offset=".496" stop-color="#800"/><stop offset=".51" stop-color="#e00"/><stop offset=".524" stop-color="#f60"/><stop offset=".874" stop-color="#f20"/></linearGradient>
<linearGradient id="d82" href="#vg"><stop offset=".007" stop-color="#02f"/><stop offset=".05" stop-color="#1fe"/><stop offset=".079" stop-color="#af5"/><stop offset=".094" stop-color="#fb0"/><stop offset=".122" stop-color="#f00"/><stop offset=".151" stop-color="#e00"/><stop offset=".18" stop-color="#900"/><stop offset=".209" stop-color="#900"/><stop offset=".237" stop-color="#f20"/><stop offset=".266" stop-color="#f90"/><stop offset=".324" stop-color="#fa0"/><stop offset=".367" stop-color="#f70"/><stop offset=".381" stop-color="#e00"/><stop offset=".396" stop-color="#800"/><stop offset=".511" stop-color="#800"/><stop offset=".525" stop-color="#b00"/><stop offset=".539" stop-color="#f40"/><stop offset=".554" stop-color="#f80"/><stop offset=".87" stop-color="#f30"/></linearGradient>
<linearGradient id="d83" href="#vg"><stop offset=".007" stop-color="#03f"/><stop offset=".051" stop-color="#2fd"/><stop offset=".095" stop-color="#df2"/><stop offset=".139" stop-color="#f20"/><stop offset=".168" stop-color="#a00"/><stop offset=".197" stop-color="#900"/><stop offset=".241" stop-color="#f10"/><stop offset=".285" stop-color="#fc0"/><stop offset=".358" stop-color="#fb0"/><stop offset=".372" stop-color="#f60"/><stop offset=".387" stop-color="#c00"/><stop offset=".401" stop-color="#800"/><stop offset=".431" stop-color="#800"/><stop offset=".445" stop-color="#9f6"/><stop offset=".474" stop-color="#4fb"/><stop offset=".518" stop-color="#fe0"/><stop offset=".547" stop-color="#f70"/><stop offset=".562" stop-color="#f90"/><stop offset=".868" stop-color="#f50"/></linearGradient>
<linearGradient id="d84" href="#vg"><stop offset=".007" stop-color="#00f"/><stop offset=".051" stop-color="#0df"/><stop offset=".066" stop-color="#3fc"/><stop offset=".095" stop-color="#cf3"/><stop offset=".109" stop-color="#fa0"/><stop offset=".139" stop-color="#f00"/><stop offset=".182" stop-color="#a00"/><stop offset=".212" stop-color="#900"/><stop offset=".241" stop-color="#e00"/><stop offset=".299" stop-color="#f80"/><stop offset=".358" stop-color="#f70"/><stop offset=".372" stop-color="#f40"/><stop offset=".387" stop-color="#b00"/><stop offset=".401" stop-color="#800"/><stop offset=".46" stop-color="#800"/><stop offset=".474" stop-color="#f80"/><stop offset=".504" stop-color="#ef1"/><stop offset=".547" stop-color="#3fc"/><stop offset=".591" stop-color="#ff0"/><stop offset=".635" stop-color="#f40"/><stop offset=".868" stop-color="#f10"/></linearGradient>
<linearGradient id="d85" href="#vg"><stop offset=".008" stop-color="#03f"/><stop offset=".054" stop-color="#2fd"/><stop offset=".07" stop-color="#6f9"/><stop offset=".085" stop-color="#ff0"/><stop offset=".116" stop-color="#f20"/><stop offset=".132" stop-color="#e00"/><stop offset=".163" stop-color="#a00"/><stop offset=".209" stop-color="#900"/><stop offset=".225" stop-color="#e00"/><stop offset=".24" stop-color="#f60"/><stop offset=".256" stop-color="#f80"/><stop offset=".333" stop-color="#f80"/><stop offset=".364" stop-color="#c00"/><stop offset=".38" stop-color="#800"/><stop offset=".504" stop-color="#800"/><stop offset=".519" stop-color="#f70"/><stop offset=".55" stop-color="#ff0"/><stop offset=".597" stop-color="#4fb"/><stop offset=".612" stop-color="#5fa"/><stop offset=".643" stop-color="#df2"/><stop offset=".69" stop-color="#f50"/><stop offset=".86" stop-color="#f10"/></linearGradient>
<linearGradient id="d86" href="#vg"><stop offset=".008" stop-color="#04f"/><stop offset=".023" stop-color="#0bf"/><stop offset=".039" stop-color="#8f7"/><stop offset=".054" stop-color="#fe0"/><stop offset=".07" stop-color="#f90"/><stop offset=".132" stop-color="#f00"/><stop offset=".178" stop-color="#f00"/><stop offset=".225" stop-color="#800"/><stop offset=".519" stop-color="#800"/><stop offset=".55" stop-color="#a00"/><stop offset=".566" stop-color="#f40"/><stop offset=".597" stop-color="#f60"/><stop offset=".628" stop-color="#fe0"/><stop offset=".659" stop-color="#9f6"/><stop offset=".69" stop-color="#4fb"/><stop offset=".736" stop-color="#fe0"/><stop offset=".783" stop-color="#f20"/><stop offset=".86" stop-color="#e00"/></linearGradient>
<linearGradient id="d87" href="#vg"><stop offset=".008" stop-color="#05f"/><stop offset=".024" stop-color="#0ef"/><stop offset=".041" stop-color="#bf4"/><stop offset=".057" stop-color="#fd0"/><stop offset=".073" stop-color="#f80"/><stop offset=".106" stop-color="#f40"/><stop offset=".187" stop-color="#f40"/><stop offset=".203" stop-color="#c00"/><stop offset=".236" stop-color="#800"/><stop offset=".561" stop-color="#800"/><stop offset=".593" stop-color="#a00"/><stop offset=".61" stop-color="#f70"/><stop offset=".658" stop-color="#f40"/><stop offset=".707" stop-color="#df2"/><stop offset=".756" stop-color="#3fc"/><stop offset=".805" stop-color="#ff0"/><stop offset=".853" stop-color="#f30"/></linearGradient>
<linearGradient id="d88" href="#vg"><stop offset=".008" stop-color="#05f"/><stop offset=".025" stop-color="#0df"/><stop offset=".042" stop-color="#af5"/><stop offset=".059" stop-color="#fd0"/><stop offset=".076" stop-color="#f80"/><stop offset=".143" stop-color="#f10"/><stop offset=".193" stop-color="#f10"/><stop offset=".244" stop-color="#800"/><stop offset=".58" stop-color="#800"/><stop offset=".63" stop-color="#b00"/><stop offset=".647" stop-color="#f30"/><stop offset=".731" stop-color="#f20"/><stop offset=".781" stop-color="#ff0"/><stop offset=".832" stop-color="#4fb"/><stop offset=".849" stop-color="#6f9"/></linearGradient>
<linearGradient id="d89" href="#vg"><stop offset=".009" stop-color="#03f"/><stop offset=".026" stop-color="#0af"/><stop offset=".043" stop-color="#7f8"/><stop offset=".061" stop-color="#fe0"/><stop offset=".078" stop-color="#f90"/><stop offset=".113" stop-color="#f50"/><stop offset=".148" stop-color="#e00"/><stop offset=".2" stop-color="#e00"/><stop offset=".252" stop-color="#800"/><stop offset=".652" stop-color="#800"/><stop offset=".704" stop-color="#f10"/><stop offset=".808" stop-color="#e00"/><stop offset=".843" stop-color="#fa0"/></linearGradient>
<linearGradient id="d90" href="#vg"><stop offset=".009" stop-color="#03f"/><stop offset=".026" stop-color="#0af"/><stop offset=".043" stop-color="#7f8"/><stop offset=".061" stop-color="#fe0"/><stop offset=".078" stop-color="#f90"/><stop offset=".13" stop-color="#f40"/><stop offset=".217" stop-color="#f20"/><stop offset=".235" stop-color="#b00"/><stop offset=".269" stop-color="#800"/><stop offset=".687" stop-color="#800"/><stop offset=".722" stop-color="#a00"/><stop offset=".739" stop-color="#f40"/><stop offset=".843" stop-color="#f10"/></linearGradient>
<linearGradient id="d91" href="#vg"><stop offset=".009" stop-color="#06f"/><stop offset=".027" stop-color="#1fe"/><stop offset=".045" stop-color="#df2"/><stop offset=".081" stop-color="#f70"/><stop offset=".117" stop-color="#f40"/><stop offset=".189" stop-color="#f30"/><stop offset=".207" stop-color="#b00"/><stop offset=".243" stop-color="#800"/><stop offset=".712" stop-color="#800"/><stop offset=".748" stop-color="#a00"/><stop offset=".766" stop-color="#f40"/><stop offset=".838" stop-color="#f20"/></linearGradient>
<linearGradient id="d92" href="#vg"><stop offset=".009" stop-color="#00f"/><stop offset=".044" stop-color="#2fd"/><stop offset=".062" stop-color="#ef1"/><stop offset=".097" stop-color="#f70"/><stop offset=".15" stop-color="#f10"/><stop offset=".203" stop-color="#f10"/><stop offset=".257" stop-color="#800"/><stop offset=".787" stop-color="#800"/><stop offset=".823" stop-color="#f10"/><stop offset=".84" stop-color="#f00"/></linearGradient>
<linearGradient id="d93" href="#vg"><stop offset=".009" stop-color="#04f"/><stop offset=".028" stop-color="#0cf"/><stop offset=".046" stop-color="#9f6"/><stop offset=".064" stop-color="#fd0"/><stop offset=".101" stop-color="#f60"/><stop offset=".193" stop-color="#f30"/><stop offset=".211" stop-color="#b00"/><stop offset=".248" stop-color="#800"/><stop offset=".798" stop-color="#800"/><stop offset=".835" stop-color="#a00"/></linearGradient>
<linearGradient id="d94" href="#vg"><stop offset=".009" stop-color="#01f"/><stop offset=".028" stop-color="#08f"/><stop offset=".046" stop-color="#4fb"/><stop offset=".064" stop-color="#ff0"/><stop offset=".101" stop-color="#f60"/><stop offset=".193" stop-color="#f30"/><stop offset=".211" stop-color="#c00"/><stop offset=".248" stop-color="#800"/><stop offset=".835" stop-color="#800"/></linearGradient>
<linearGradient id="d95" href="#vg"><stop offset=".009" stop-color="#02f"/><stop offset=".028" stop-color="#09f"/><stop offset=".047" stop-color="#5fa"/><stop offset=".065" stop-color="#ff0"/><stop offset=".103" stop-color="#f60"/><stop offset=".14" stop-color="#f40"/><stop offset=".196" stop-color="#f20"/><stop offset=".252" stop-color="#800"/><stop offset=".832" stop-color="#800"/></linearGradient>
<linearGradient id="d96" href="#vg"><stop offset=".01" stop-color="#02f"/><stop offset=".029" stop-color="#09f"/><stop offset=".048" stop-color="#5fa"/><stop offset=".067" stop-color="#ff0"/><stop offset=".105" stop-color="#f60"/><stop offset=".162" stop-color="#f20"/><stop offset=".2" stop-color="#d00"/><stop offset=".238" stop-color="#900"/><stop offset=".828" stop-color="#800"/></linearGradient>
<linearGradient id="d97" href="#vg"><stop offset=".01" stop-color="#00f"/><stop offset=".048" stop-color="#2fd"/><stop offset=".067" stop-color="#ef1"/><stop offset=".105" stop-color="#f70"/><stop offset=".181" stop-color="#f30"/><stop offset=".219" stop-color="#d00"/><stop offset=".257" stop-color="#900"/><stop offset=".828" stop-color="#800"/></linearGradient>
<linearGradient id="d98" href="#vg"><stop offset=".01" stop-color="#01f"/><stop offset=".029" stop-color="#08f"/><stop offset=".049" stop-color="#4fb"/><stop offset=".068" stop-color="#ff0"/><stop offset=".107" stop-color="#f60"/><stop offset=".165" stop-color="#f20"/><stop offset=".223" stop-color="#f20"/><stop offset=".281" stop-color="#900"/><stop offset=".825" stop-color="#800"/></linearGradient>
<linearGradient id="d99" href="#vg"><stop offset=".01" stop-color="#06f"/><stop offset=".03" stop-color="#0ff"/><stop offset=".05" stop-color="#df2"/><stop offset=".091" stop-color="#f70"/><stop offset=".111" stop-color="#f50"/><stop offset=".212" stop-color="#f30"/><stop offset=".232" stop-color="#b00"/><stop offset=".273" stop-color="#800"/><stop offset=".818" stop-color="#800"/></linearGradient>
<linearGradient id="d100" href="#vg"><stop offset=".01" stop-color="#04f"/><stop offset=".03" stop-color="#0bf"/><stop offset=".05" stop-color="#9f6"/><stop offset=".071" stop-color="#fe0"/><stop offset=".111" stop-color="#f60"/><stop offset=".192" stop-color="#f30"/><stop offset=".212" stop-color="#d00"/><stop offset=".252" stop-color="#900"/><stop offset=".818" stop-color="#800"/></linearGradient>
<linearGradient id="d101" href="#vg"><stop offset=".01" stop-color="#06f"/><stop offset=".031" stop-color="#0ff"/><stop offset=".052" stop-color="#cf3"/><stop offset=".093" stop-color="#f70"/><stop offset=".196" stop-color="#f20"/><stop offset=".258" stop-color="#900"/><stop offset=".814" stop-color="#800"/></linearGradient>
<linearGradient id="d102" href="#vg"><stop offset=".011" stop-color="#04f"/><stop offset=".032" stop-color="#0bf"/><stop offset=".053" stop-color="#8f7"/><stop offset=".074" stop-color="#fe0"/><stop offset=".095" stop-color="#f90"/><stop offset=".179" stop-color="#f20"/><stop offset=".221" stop-color="#c00"/><stop offset=".263" stop-color="#800"/><stop offset=".81" stop-color="#800"/></linearGradient>
<linearGradient id="d103" href="#vg"><stop offset=".011" stop-color="#04f"/><stop offset=".032" stop-color="#0cf"/><stop offset=".054" stop-color="#9f6"/><stop offset=".075" stop-color="#fd0"/><stop offset=".097" stop-color="#f80"/><stop offset=".204" stop-color="#f20"/><stop offset=".269" stop-color="#800"/><stop offset=".806" stop-color="#800"/></linearGradient>
<linearGradient id="d104" href="#vg"><stop offset=".011" stop-color="#05f"/><stop offset=".033" stop-color="#0ef"/><stop offset=".055" stop-color="#bf4"/><stop offset=".077" stop-color="#fd0"/><stop offset=".099" stop-color="#f80"/><stop offset=".187" stop-color="#f10"/><stop offset=".253" stop-color="#800"/><stop offset=".802" stop-color="#800"/></linearGradient>
<linearGradient id="d105" href="#vg"><stop offset=".011" stop-color="#03f"/><stop offset=".033" stop-color="#0af"/><stop offset=".055" stop-color="#6f9"/><stop offset=".077" stop-color="#fe0"/><stop offset=".121" stop-color="#f60"/><stop offset=".187" stop-color="#f20"/><stop offset=".253" stop-color="#800"/><stop offset=".802" stop-color="#800"/></linearGradient>
<linearGradient id="d106" href="#vg"><stop offset=".011" stop-color="#04f"/><stop offset=".034" stop-color="#0cf"/><stop offset=".056" stop-color="#9f6"/><stop offset=".079" stop-color="#fd0"/><stop offset=".101" stop-color="#f80"/><stop offset=".168" stop-color="#f30"/><stop offset=".191" stop-color="#b00"/><stop offset=".236" stop-color="#800"/><stop offset=".797" stop-color="#800"/></linearGradient>
<linearGradient id="d107" href="#vg"><stop offset=".011" stop-color="#03f"/><stop offset=".034" stop-color="#0af"/><stop offset=".057" stop-color="#6f9"/><stop offset=".08" stop-color="#fe0"/><stop offset=".103" stop-color="#fa0"/><stop offset=".149" stop-color="#f50"/><stop offset=".172" stop-color="#d00"/><stop offset=".218" stop-color="#900"/><stop offset=".793" stop-color="#800"/></linearGradient>
<linearGradient id="d108" href="#vg"><stop offset=".011" stop-color="#03f"/><stop offset=".034" stop-color="#0af"/><stop offset=".057" stop-color="#7f8"/><stop offset=".08" stop-color="#fe0"/><stop offset=".103" stop-color="#f90"/><stop offset=".149" stop-color="#f50"/><stop offset=".195" stop-color="#c00"/><stop offset=".241" stop-color="#800"/><stop offset=".793" stop-color="#800"/></linearGradient>
<linearGradient id="d109" href="#vg"><stop offset=".012" stop-color="#00f"/><stop offset=".059" stop-color="#2fd"/><stop offset=".082" stop-color="#ef1"/><stop offset=".129" stop-color="#f70"/><stop offset=".176" stop-color="#f40"/><stop offset=".2" stop-color="#c00"/><stop offset=".247" stop-color="#800"/><stop offset=".717" stop-color="#800"/><stop offset=".788" stop-color="#b00"/></linearGradient>
<linearGradient id="d110" href="#vg"><stop offset=".012" stop-color="#05f"/><stop offset=".036" stop-color="#0cf"/><stop offset=".06" stop-color="#af5"/><stop offset=".084" stop-color="#fd0"/><stop offset=".108" stop-color="#f80"/><stop offset=".157" stop-color="#f50"/><stop offset=".181" stop-color="#c00"/><stop offset=".229" stop-color="#800"/><stop offset=".59" stop-color="#800"/><stop offset=".638" stop-color="#f10"/><stop offset=".686" stop-color="#f10"/><stop offset=".711" stop-color="#800"/><stop offset=".783" stop-color="#800"/></linearGradient>
<linearGradient id="d111" href="#vg"><stop offset=".012" stop-color="#01f"/><stop offset=".036" stop-color="#08f"/><stop offset=".06" stop-color="#3fc"/><stop offset=".084" stop-color="#ef1"/><stop offset=".132" stop-color="#f60"/><stop offset=".157" stop-color="#f50"/><stop offset=".181" stop-color="#d00"/><stop offset=".229" stop-color="#900"/><stop offset=".446" stop-color="#800"/><stop offset=".494" stop-color="#a00"/><stop offset=".518" stop-color="#f40"/><stop offset=".542" stop-color="#f40"/><stop offset=".566" stop-color="#900"/><stop offset=".59" stop-color="#900"/><stop offset=".614" stop-color="#f40"/><stop offset=".686" stop-color="#f40"/><stop offset=".711" stop-color="#800"/><stop offset=".783" stop-color="#800"/></linearGradient>
<linearGradient id="d112" href="#vg"><stop offset=".012" stop-color="#01f"/><stop offset=".037" stop-color="#08f"/><stop offset=".062" stop-color="#3fc"/><stop offset=".086" stop-color="#ef1"/><stop offset=".136" stop-color="#f60"/><stop offset=".16" stop-color="#f50"/><stop offset=".185" stop-color="#d00"/><stop offset=".234" stop-color="#900"/><stop offset=".457" stop-color="#800"/><stop offset=".506" stop-color="#f10"/><stop offset=".531" stop-color="#f10"/><stop offset=".555" stop-color="#900"/><stop offset=".58" stop-color="#900"/><stop offset=".605" stop-color="#f10"/><stop offset=".679" stop-color="#f10"/><stop offset=".703" stop-color="#800"/><stop offset=".777" stop-color="#800"/></linearGradient>
<linearGradient id="d113" href="#vg"><stop offset=".012" stop-color="#05f"/><stop offset=".037" stop-color="#0df"/><stop offset=".062" stop-color="#af5"/><stop offset=".086" stop-color="#fd0"/><stop offset=".111" stop-color="#f80"/><stop offset=".16" stop-color="#f50"/><stop offset=".185" stop-color="#c00"/><stop offset=".234" stop-color="#800"/><stop offset=".407" stop-color="#800"/><stop offset=".457" stop-color="#a00"/><stop offset=".481" stop-color="#f40"/><stop offset=".531" stop-color="#f40"/><stop offset=".555" stop-color="#900"/><stop offset=".58" stop-color="#900"/><stop offset=".605" stop-color="#f40"/><stop offset=".679" stop-color="#f40"/><stop offset=".703" stop-color="#800"/><stop offset=".777" stop-color="#800"/></linearGradient>
<linearGradient id="d114" href="#vg"><stop offset=".012" stop-color="#02f"/><stop offset=".036" stop-color="#09f"/><stop offset=".06" stop-color="#5fa"/><stop offset=".084" stop-color="#ff0"/><stop offset=".108" stop-color="#fa0"/><stop offset=".157" stop-color="#f50"/><stop offset=".181" stop-color="#d00"/><stop offset=".229" stop-color="#900"/><stop offset=".422" stop-color="#800"/><stop offset=".47" stop-color="#a00"/><stop offset=".494" stop-color="#f40"/><stop offset=".542" stop-color="#f40"/><stop offset=".566" stop-color="#900"/><stop offset=".59" stop-color="#900"/><stop offset=".614" stop-color="#f40"/><stop offset=".686" stop-color="#f40"/><stop offset=".711" stop-color="#800"/><stop offset=".783" stop-color="#800"/></linearGradient>
<linearGradient id="d115" href="#vg"><stop offset=".012" stop-color="#06f"/><stop offset=".036" stop-color="#0ff"/><stop offset=".06" stop-color="#cf3"/><stop offset=".084" stop-color="#fc0"/><stop offset=".108" stop-color="#f70"/><stop offset=".181" stop-color="#f30"/><stop offset=".205" stop-color="#c00"/><stop offset=".253" stop-color="#800"/><stop offset=".446" stop-color="#800"/><stop offset=".494" stop-color="#f20"/><stop offset=".542" stop-color="#f20"/><stop offset=".566" stop-color="#900"/><stop offset=".59" stop-color="#900"/><stop offset=".614" stop-color="#f20"/><stop offset=".686" stop-color="#f20"/><stop offset=".711" stop-color="#800"/><stop offset=".783" stop-color="#800"/></linearGradient>
<linearGradient id="d116" href="#vg"><stop offset=".012" stop-color="#00f"/><stop offset=".059" stop-color="#2fd"/><stop offset=".082" stop-color="#ef1"/><stop offset=".129" stop-color="#f70"/><stop offset=".2" stop-color="#f20"/><stop offset=".247" stop-color="#900"/><stop offset=".412" stop-color="#800"/><stop offset=".482" stop-color="#b00"/><stop offset=".506" stop-color="#f60"/><stop offset=".553" stop-color="#f60"/><stop offset=".576" stop-color="#900"/><stop offset=".6" stop-color="#900"/><stop offset=".623" stop-color="#f60"/><stop offset=".694" stop-color="#f60"/><stop offset=".717" stop-color="#800"/><stop offset=".788" stop-color="#800"/></linearGradient>
<linearGradient id="d117" href="#vg"><stop offset=".012" stop-color="#05f"/><stop offset=".035" stop-color="#0df"/><stop offset=".059" stop-color="#af5"/><stop offset=".082" stop-color="#fd0"/><stop offset=".106" stop-color="#f80"/><stop offset=".153" stop-color="#f40"/><stop offset=".2" stop-color="#c00"/><stop offset=".247" stop-color="#800"/><stop offset=".412" stop-color="#800"/><stop offset=".482" stop-color="#b00"/><stop offset=".506" stop-color="#f50"/><stop offset=".553" stop-color="#f50"/><stop offset=".576" stop-color="#900"/><stop offset=".6" stop-color="#900"/><stop offset=".623" stop-color="#f50"/><stop offset=".694" stop-color="#f50"/><stop offset=".717" stop-color="#800"/><stop offset=".788" stop-color="#800"/></linearGradient>
<linearGradient id="d118" href="#vg"><stop offset=".012" stop-color="#02f"/><stop offset=".035" stop-color="#09f"/><stop offset=".059" stop-color="#5fa"/><stop offset=".082" stop-color="#ff0"/><stop offset=".106" stop-color="#fa0"/><stop offset=".153" stop-color="#f50"/><stop offset=".2" stop-color="#d00"/><stop offset=".247" stop-color="#900"/><stop offset=".412" stop-color="#800"/><stop offset=".482" stop-color="#b00"/><stop offset=".506" stop-color="#f70"/><stop offset=".553" stop-color="#f70"/><stop offset=".576" stop-color="#900"/><stop offset=".6" stop-color="#900"/><stop offset=".623" stop-color="#f70"/><stop offset=".694" stop-color="#f70"/><stop offset=".717" stop-color="#800"/><stop offset=".788" stop-color="#800"/></linearGradient>
<linearGradient id="d119" href="#vg"><stop offset=".012" stop-color="#03f"/><stop offset=".035" stop-color="#0af"/><stop offset=".059" stop-color="#6f9"/><stop offset=".082" stop-color="#fe0"/><stop offset=".129" stop-color="#f60"/><stop offset=".176" stop-color="#f40"/><stop offset=".2" stop-color="#b00"/><stop offset=".223" stop-color="#900"/><stop offset=".388" stop-color="#800"/><stop offset=".459" stop-color="#b00"/><stop offset=".482" stop-color="#f40"/><stop offset=".553" stop-color="#f40"/><stop offset=".576" stop-color="#900"/><stop offset=".6" stop-color="#900"/><stop offset=".623" stop-color="#f40"/><stop offset=".694" stop-color="#f40"/><stop offset=".717" stop-color="#800"/><stop offset=".788" stop-color="#800"/></linearGradient>
<linearGradient id="d120" href="#vg"><stop offset=".011" stop-color="#02f"/><stop offset=".034" stop-color="#09f"/><stop offset=".057" stop-color="#6f9"/><stop offset=".08" stop-color="#ff0"/><stop offset=".103" stop-color="#fa0"/><stop offset=".149" stop-color="#f50"/><stop offset=".172" stop-color="#c00"/><stop offset=".218" stop-color="#800"/><stop offset=".379" stop-color="#800"/><stop offset=".448" stop-color="#c00"/><stop offset=".471" stop-color="#f80"/><stop offset=".563" stop-color="#f80"/><stop offset=".586" stop-color="#900"/><stop offset=".609" stop-color="#900"/><stop offset=".632" stop-color="#f80"/><stop offset=".701" stop-color="#f80"/><stop offset=".724" stop-color="#800"/><stop offset=".793" stop-color="#800"/></linearGradient>
<linearGradient id="d121" href="#vg"><stop offset=".011" stop-color="#02f"/><stop offset=".033" stop-color="#09f"/><stop offset=".055" stop-color="#6f9"/><stop offset=".077" stop-color="#ff0"/><stop offset=".121" stop-color="#f60"/><stop offset=".165" stop-color="#f40"/><stop offset=".187" stop-color="#b00"/><stop offset=".231" stop-color="#800"/><stop offset=".406" stop-color="#800"/><stop offset=".472" stop-color="#b00"/><stop offset=".494" stop-color="#f70"/><stop offset=".582" stop-color="#f70"/><stop offset=".604" stop-color="#900"/><stop offset=".626" stop-color="#900"/><stop offset=".648" stop-color="#f70"/><stop offset=".714" stop-color="#f70"/><stop offset=".736" stop-color="#800"/><stop offset=".802" stop-color="#800"/></linearGradient>
<linearGradient id="d122" href="#vg"><stop offset=".011" stop-color="#06f"/><stop offset=".032" stop-color="#1fe"/><stop offset=".054" stop-color="#df2"/><stop offset=".097" stop-color="#f70"/><stop offset=".14" stop-color="#f40"/><stop offset=".161" stop-color="#d00"/><stop offset=".204" stop-color="#900"/><stop offset=".419" stop-color="#800"/><stop offset=".462" stop-color="#a00"/><stop offset=".484" stop-color="#f80"/><stop offset=".591" stop-color="#f80"/><stop offset=".613" stop-color="#900"/><stop offset=".634" stop-color="#900"/><stop offset=".656" stop-color="#f80"/><stop offset=".72" stop-color="#f80"/><stop offset=".742" stop-color="#800"/><stop offset=".806" stop-color="#800"/></linearGradient>
<linearGradient id="d123" href="#vg"><stop offset=".01" stop-color="#00f"/><stop offset=".052" stop-color="#2fd"/><stop offset=".072" stop-color="#ef1"/><stop offset=".113" stop-color="#f70"/><stop offset=".175" stop-color="#f10"/><stop offset=".237" stop-color="#800"/><stop offset=".381" stop-color="#800"/><stop offset=".443" stop-color="#b00"/><stop offset=".464" stop-color="#f80"/><stop offset=".608" stop-color="#f80"/><stop offset=".629" stop-color="#900"/><stop offset=".649" stop-color="#900"/><stop offset=".67" stop-color="#f80"/><stop offset=".732" stop-color="#f80"/><stop offset=".752" stop-color="#800"/><stop offset=".814" stop-color="#800"/></linearGradient>
<linearGradient id="d124" href="#vg"><stop offset=".01" stop-color="#04f"/><stop offset=".03" stop-color="#0bf"/><stop offset=".05" stop-color="#8f7"/><stop offset=".071" stop-color="#fe0"/><stop offset=".091" stop-color="#f90"/><stop offset=".131" stop-color="#f50"/><stop offset=".172" stop-color="#f00"/><stop offset=".232" stop-color="#800"/><stop offset=".353" stop-color="#800"/><stop offset=".414" stop-color="#c00"/><stop offset=".434" stop-color="#f80"/><stop offset=".616" stop-color="#f80"/><stop offset=".636" stop-color="#900"/><stop offset=".656" stop-color="#900"/><stop offset=".677" stop-color="#f80"/><stop offset=".737" stop-color="#f80"/><stop offset=".757" stop-color="#800"/><stop offset=".818" stop-color="#800"/></linearGradient>
<linearGradient id="d125" href="#vg"><stop offset=".01" stop-color="#03f"/><stop offset=".029" stop-color="#0af"/><stop offset=".049" stop-color="#6f9"/><stop offset=".068" stop-color="#fe0"/><stop offset=".107" stop-color="#f60"/><stop offset=".146" stop-color="#f40"/><stop offset=".165" stop-color="#c00"/><stop offset=".204" stop-color="#800"/><stop offset=".359" stop-color="#800"/><stop offset=".398" stop-color="#a00"/><stop offset=".417" stop-color="#fb0"/><stop offset=".747" stop-color="#fb0"/><stop offset=".767" stop-color="#800"/><stop offset=".825" stop-color="#800"/></linearGradient>
<linearGradient id="d126" href="#vg"><stop offset=".009" stop-color="#04f"/><stop offset=".028" stop-color="#0bf"/><stop offset=".047" stop-color="#8f7"/><stop offset=".065" stop-color="#fe0"/><stop offset=".084" stop-color="#f90"/><stop offset=".121" stop-color="#f50"/><stop offset=".14" stop-color="#c00"/><stop offset=".178" stop-color="#800"/><stop offset=".29" stop-color="#800"/><stop offset=".346" stop-color="#900"/><stop offset=".364" stop-color="#fb0"/><stop offset=".757" stop-color="#fb0"/><stop offset=".775" stop-color="#800"/><stop offset=".832" stop-color="#800"/></linearGradient>
<linearGradient id="d127" href="#vg"><stop offset=".009" stop-color="#00f"/><stop offset=".044" stop-color="#2fd"/><stop offset=".062" stop-color="#ef1"/><stop offset=".097" stop-color="#f70"/><stop offset=".133" stop-color="#f40"/><stop offset=".15" stop-color="#c00"/><stop offset=".186" stop-color="#800"/><stop offset=".31" stop-color="#800"/><stop offset=".363" stop-color="#b00"/><stop offset=".38" stop-color="#fa0"/><stop offset=".77" stop-color="#fa0"/><stop offset=".787" stop-color="#800"/><stop offset=".84" stop-color="#800"/></linearGradient>
<linearGradient id="d128" href="#vg"><stop offset=".008" stop-color="#01f"/><stop offset=".041" stop-color="#1fe"/><stop offset=".058" stop-color="#9f6"/><stop offset=".074" stop-color="#ef1"/><stop offset=".091" stop-color="#fb0"/><stop offset=".174" stop-color="#e00"/><stop offset=".207" stop-color="#800"/><stop offset=".273" stop-color="#800"/><stop offset=".289" stop-color="#d00"/><stop offset=".322" stop-color="#f20"/><stop offset=".339" stop-color="#fc0"/><stop offset=".355" stop-color="#fe0"/><stop offset=".851" stop-color="#df2"/></linearGradient>
<linearGradient id="d129" href="#vg"><stop offset=".007" stop-color="#01f"/><stop offset=".034" stop-color="#09f"/><stop offset=".117" stop-color="#0df"/><stop offset=".186" stop-color="#7f8"/><stop offset=".214" stop-color="#fe0"/><stop offset=".228" stop-color="#fa0"/><stop offset=".31" stop-color="#e00"/><stop offset=".352" stop-color="#800"/><stop offset=".421" stop-color="#800"/><stop offset=".448" stop-color="#c00"/><stop offset=".49" stop-color="#f30"/><stop offset=".503" stop-color="#fa0"/><stop offset=".517" stop-color="#fc0"/><stop offset=".876" stop-color="#ef1"/></linearGradient>
<linearGradient id="d130" href="#vg"><stop offset=".005" stop-color="#01f"/><stop offset=".023" stop-color="#05f"/><stop offset=".211" stop-color="#05f"/><stop offset=".343" stop-color="#0df"/><stop offset=".465" stop-color="#8f7"/><stop offset=".483" stop-color="#fd0"/><stop offset=".53" stop-color="#f00"/><stop offset=".559" stop-color="#800"/><stop offset=".596" stop-color="#900"/><stop offset=".606" stop-color="#d00"/><stop offset=".624" stop-color="#f20"/><stop offset=".634" stop-color="#fc0"/><stop offset=".643" stop-color="#fe0"/><stop offset=".915" stop-color="#df2"/></linearGradient>
<linearGradient id="d131" href="#vg"><stop offset=".005" stop-color="#02f"/><stop offset=".023" stop-color="#0af"/><stop offset=".267" stop-color="#0ef"/><stop offset=".475" stop-color="#7f8"/><stop offset=".493" stop-color="#ff0"/><stop offset=".502" stop-color="#fa0"/><stop offset=".547" stop-color="#f00"/><stop offset=".575" stop-color="#800"/><stop offset=".62" stop-color="#800"/><stop offset=".638" stop-color="#e00"/><stop offset=".656" stop-color="#f30"/><stop offset=".665" stop-color="#fe0"/><stop offset=".674" stop-color="#ff0"/><stop offset=".918" stop-color="#cf3"/></linearGradient>
<linearGradient id="d132" href="#vg"><stop offset=".005" stop-color="#03f"/><stop offset=".023" stop-color="#0af"/><stop offset=".251" stop-color="#0df"/><stop offset=".461" stop-color="#7f8"/><stop offset=".479" stop-color="#ff0"/><stop offset=".489" stop-color="#fb0"/><stop offset=".534" stop-color="#f00"/><stop offset=".562" stop-color="#800"/><stop offset=".607" stop-color="#800"/><stop offset=".625" stop-color="#e00"/><stop offset=".644" stop-color="#f30"/><stop offset=".653" stop-color="#fd0"/><stop offset=".662" stop-color="#fe0"/><stop offset=".918" stop-color="#cf3"/></linearGradient>
<linearGradient id="d133" href="#vg"><stop offset=".008" stop-color="#00f"/><stop offset=".023" stop-color="#04f"/><stop offset=".038" stop-color="#3fc"/><stop offset=".053" stop-color="#6f9"/><stop offset=".13" stop-color="#af5"/><stop offset=".145" stop-color="#ef1"/><stop offset=".16" stop-color="#fb0"/><stop offset=".237" stop-color="#e00"/><stop offset=".267" stop-color="#800"/><stop offset=".328" stop-color="#900"/><stop offset=".343" stop-color="#d00"/><stop offset=".374" stop-color="#f30"/><stop offset=".389" stop-color="#fe0"/><stop offset=".862" stop-color="#bf4"/></linearGradient>
<linearGradient id="d134" href="#vg"><stop offset=".008" stop-color="#01f"/><stop offset=".038" stop-color="#0af"/><stop offset=".053" stop-color="#0bf"/><stop offset=".084" stop-color="#2fd"/><stop offset=".13" stop-color="#ff0"/><stop offset=".145" stop-color="#fa0"/><stop offset=".206" stop-color="#f10"/><stop offset=".252" stop-color="#800"/><stop offset=".313" stop-color="#800"/><stop offset=".328" stop-color="#d00"/><stop offset=".359" stop-color="#f20"/><stop offset=".374" stop-color="#ff0"/><stop offset=".389" stop-color="#df2"/><stop offset=".862" stop-color="#af5"/></linearGradient>
<linearGradient id="d135" href="#vg"><stop offset=".004" stop-color="#01f"/><stop offset=".021" stop-color="#0af"/><stop offset=".047" stop-color="#0af"/><stop offset=".174" stop-color="#0ef"/><stop offset=".506" stop-color="#7f8"/><stop offset=".523" stop-color="#fd0"/><stop offset=".566" stop-color="#f00"/><stop offset=".591" stop-color="#800"/><stop offset=".625" stop-color="#800"/><stop offset=".642" stop-color="#d00"/><stop offset=".659" stop-color="#f20"/><stop offset=".668" stop-color="#fe0"/><stop offset=".923" stop-color="#bf4"/></linearGradient>
<linearGradient id="d136" href="#vg"><stop offset=".004" stop-color="#02f"/><stop offset=".021" stop-color="#0af"/><stop offset=".047" stop-color="#0af"/><stop offset=".133" stop-color="#0df"/><stop offset=".219" stop-color="#4fb"/><stop offset=".485" stop-color="#8f7"/><stop offset=".493" stop-color="#df2"/><stop offset=".502" stop-color="#fc0"/><stop offset=".545" stop-color="#f00"/><stop offset=".571" stop-color="#800"/><stop offset=".605" stop-color="#800"/><stop offset=".622" stop-color="#d00"/><stop offset=".639" stop-color="#f20"/><stop offset=".648" stop-color="#fd0"/><stop offset=".657" stop-color="#ff0"/><stop offset=".923" stop-color="#bf4"/></linearGradient>
<linearGradient id="d137" href="#vg"><stop offset=".004" stop-color="#03f"/><stop offset=".021" stop-color="#0bf"/><stop offset=".038" stop-color="#0df"/><stop offset=".089" stop-color="#6f9"/><stop offset=".217" stop-color="#cf3"/><stop offset=".506" stop-color="#ef1"/><stop offset=".566" stop-color="#f00"/><stop offset=".591" stop-color="#800"/><stop offset=".625" stop-color="#900"/><stop offset=".634" stop-color="#d00"/><stop offset=".651" stop-color="#f20"/><stop offset=".659" stop-color="#fe0"/><stop offset=".923" stop-color="#bf4"/></linearGradient>
<linearGradient id="d138" href="#vg"><stop offset=".004" stop-color="#03f"/><stop offset=".013" stop-color="#07f"/><stop offset=".038" stop-color="#0df"/><stop offset=".096" stop-color="#8f7"/><stop offset=".222" stop-color="#ef1"/><stop offset=".523" stop-color="#ff0"/><stop offset=".582" stop-color="#f00"/><stop offset=".607" stop-color="#800"/><stop offset=".64" stop-color="#800"/><stop offset=".657" stop-color="#e00"/><stop offset=".674" stop-color="#f40"/><stop offset=".682" stop-color="#df2"/><stop offset=".925" stop-color="#9f6"/></linearGradient>
<linearGradient id="d139" href="#vg"><stop offset=".004" stop-color="#01f"/><stop offset=".013" stop-color="#05f"/><stop offset=".038" stop-color="#0ff"/><stop offset=".088" stop-color="#ff0"/><stop offset=".105" stop-color="#fa0"/><stop offset=".23" stop-color="#f40"/><stop offset=".531" stop-color="#f30"/><stop offset=".556" stop-color="#fa0"/><stop offset=".59" stop-color="#f00"/><stop offset=".615" stop-color="#800"/><stop offset=".64" stop-color="#800"/><stop offset=".657" stop-color="#e00"/><stop offset=".674" stop-color="#f40"/><stop offset=".682" stop-color="#ef1"/><stop offset=".925" stop-color="#bf4"/></linearGradient>
<linearGradient id="d140" href="#vg"><stop offset=".004" stop-color="#03f"/><stop offset=".012" stop-color="#07f"/><stop offset=".036" stop-color="#0ef"/><stop offset=".108" stop-color="#cf3"/><stop offset=".237" stop-color="#fd0"/><stop offset=".59" stop-color="#fa0"/><stop offset=".614" stop-color="#f10"/><stop offset=".622" stop-color="#d00"/><stop offset=".63" stop-color="#800"/><stop offset=".655" stop-color="#800"/><stop offset=".663" stop-color="#e00"/><stop offset=".671" stop-color="#f20"/><stop offset=".679" stop-color="#ff0"/><stop offset=".928" stop-color="#bf4"/></linearGradient>
<linearGradient id="d141" href="#vg"><stop offset=".004" stop-color="#04f"/><stop offset=".012" stop-color="#08f"/><stop offset=".036" stop-color="#0df"/><stop offset=".107" stop-color="#af5"/><stop offset=".241" stop-color="#fe0"/><stop offset=".494" stop-color="#fc0"/><stop offset=".605" stop-color="#fa0"/><stop offset=".636" stop-color="#f00"/><stop offset=".652" stop-color="#800"/><stop offset=".676" stop-color="#800"/><stop offset=".692" stop-color="#e00"/><stop offset=".7" stop-color="#f20"/><stop offset=".707" stop-color="#ef1"/><stop offset=".715" stop-color="#cf3"/><stop offset=".929" stop-color="#9f6"/></linearGradient>
<linearGradient id="d142" href="#vg"><stop offset=".004" stop-color="#01f"/><stop offset=".012" stop-color="#05f"/><stop offset=".036" stop-color="#0ef"/><stop offset=".083" stop-color="#af5"/><stop offset=".115" stop-color="#fd0"/><stop offset=".241" stop-color="#f80"/><stop offset=".557" stop-color="#f70"/><stop offset=".589" stop-color="#fa0"/><stop offset=".62" stop-color="#f00"/><stop offset=".636" stop-color="#900"/><stop offset=".668" stop-color="#800"/><stop offset=".676" stop-color="#d00"/><stop offset=".692" stop-color="#f30"/><stop offset=".7" stop-color="#ef1"/><stop offset=".929" stop-color="#af5"/></linearGradient>
<linearGradient id="d143" href="#vg"><stop offset=".004" stop-color="#03f"/><stop offset=".012" stop-color="#07f"/><stop offset=".037" stop-color="#0ef"/><stop offset=".11" stop-color="#cf3"/><stop offset=".241" stop-color="#fd0"/><stop offset=".592" stop-color="#fa0"/><stop offset=".616" stop-color="#f40"/><stop offset=".633" stop-color="#e00"/><stop offset=".649" stop-color="#800"/><stop offset=".673" stop-color="#800"/><stop offset=".69" stop-color="#e00"/><stop offset=".698" stop-color="#f20"/><stop offset=".706" stop-color="#fe0"/><stop offset=".714" stop-color="#ef1"/><stop offset=".926" stop-color="#af5"/></linearGradient>
<linearGradient id="d144" href="#vg"><stop offset=".004" stop-color="#02f"/><stop offset=".021" stop-color="#0af"/><stop offset=".064" stop-color="#0df"/><stop offset=".226" stop-color="#6f9"/><stop offset=".557" stop-color="#af5"/><stop offset=".566" stop-color="#ef1"/><stop offset=".608" stop-color="#f00"/><stop offset=".634" stop-color="#800"/><stop offset=".659" stop-color="#800"/><stop offset=".668" stop-color="#d00"/><stop offset=".685" stop-color="#f30"/><stop offset=".694" stop-color="#ef1"/><stop offset=".923" stop-color="#9f6"/></linearGradient>
<linearGradient id="d145" href="#vg"><stop offset=".004" stop-color="#04f"/><stop offset=".013" stop-color="#08f"/><stop offset=".04" stop-color="#0ef"/><stop offset=".093" stop-color="#7f8"/><stop offset=".227" stop-color="#df2"/><stop offset=".52" stop-color="#ff0"/><stop offset=".547" stop-color="#fb0"/><stop offset=".582" stop-color="#f00"/><stop offset=".6" stop-color="#900"/><stop offset=".609" stop-color="#800"/><stop offset=".635" stop-color="#900"/><stop offset=".644" stop-color="#e00"/><stop offset=".653" stop-color="#f10"/><stop offset=".662" stop-color="#fe0"/><stop offset=".92" stop-color="#bf4"/></linearGradient>
<linearGradient id="d146" href="#vg"><stop offset=".005" stop-color="#04f"/><stop offset=".015" stop-color="#08f"/><stop offset=".054" stop-color="#0ef"/><stop offset=".19" stop-color="#7f8"/><stop offset=".463" stop-color="#9f6"/><stop offset=".473" stop-color="#df2"/><stop offset=".532" stop-color="#f00"/><stop offset=".561" stop-color="#800"/><stop offset=".61" stop-color="#800"/><stop offset=".629" stop-color="#f00"/><stop offset=".649" stop-color="#f40"/><stop offset=".658" stop-color="#ef1"/><stop offset=".912" stop-color="#af5"/></linearGradient>
<linearGradient id="d147" href="#vg"><stop offset=".005" stop-color="#04f"/><stop offset=".016" stop-color="#08f"/><stop offset=".059" stop-color="#0ff"/><stop offset=".176" stop-color="#7f8"/><stop offset=".401" stop-color="#8f7"/><stop offset=".422" stop-color="#ff0"/><stop offset=".433" stop-color="#fa0"/><stop offset=".476" stop-color="#f10"/><stop offset=".508" stop-color="#800"/><stop offset=".54" stop-color="#800"/><stop offset=".561" stop-color="#d00"/><stop offset=".583" stop-color="#f30"/><stop offset=".593" stop-color="#df2"/><stop offset=".904" stop-color="#9f6"/></linearGradient>
<linearGradient id="d148" href="#vg"><stop offset=".005" stop-color="#01f"/><stop offset=".016" stop-color="#06f"/><stop offset=".027" stop-color="#5fa"/><stop offset=".037" stop-color="#fe0"/><stop offset=".048" stop-color="#f40"/><stop offset=".07" stop-color="#f40"/><stop offset=".091" stop-color="#f60"/><stop offset=".102" stop-color="#ef1"/><stop offset=".112" stop-color="#4fb"/><stop offset=".123" stop-color="#0cf"/><stop offset=".209" stop-color="#2fd"/><stop offset=".219" stop-color="#df2"/><stop offset=".23" stop-color="#f30"/><stop offset=".251" stop-color="#f10"/><stop offset=".262" stop-color="#f60"/><stop offset=".273" stop-color="#bf4"/><stop offset=".283" stop-color="#4fb"/><stop offset=".401" stop-color="#8f7"/><stop offset=".412" stop-color="#df2"/><stop offset=".422" stop-color="#fc0"/><stop offset=".476" stop-color="#f00"/><stop offset=".497" stop-color="#900"/><stop offset=".54" stop-color="#800"/><stop offset=".561" stop-color="#e00"/><stop offset=".583" stop-color="#f40"/><stop offset=".593" stop-color="#df2"/><stop offset=".904" stop-color="#9f6"/></linearGradient>
<linearGradient id="d149" href="#vg"><stop offset=".005" stop-color="#02f"/><stop offset=".025" stop-color="#0af"/><stop offset=".044" stop-color="#0cf"/><stop offset=".103" stop-color="#3fc"/><stop offset=".123" stop-color="#fd0"/><stop offset=".133" stop-color="#f50"/><stop offset=".163" stop-color="#f50"/><stop offset=".172" stop-color="#fc0"/><stop offset=".182" stop-color="#cf3"/><stop offset=".192" stop-color="#7f8"/><stop offset=".271" stop-color="#8f7"/><stop offset=".281" stop-color="#ef1"/><stop offset=".291" stop-color="#f60"/><stop offset=".3" stop-color="#f10"/><stop offset=".31" stop-color="#f10"/><stop offset=".32" stop-color="#f40"/><stop offset=".33" stop-color="#fe0"/><stop offset=".34" stop-color="#8f7"/><stop offset=".389" stop-color="#8f7"/><stop offset=".438" stop-color="#af5"/><stop offset=".448" stop-color="#ff0"/><stop offset=".458" stop-color="#fb0"/><stop offset=".507" stop-color="#f00"/><stop offset=".537" stop-color="#800"/><stop offset=".586" stop-color="#900"/><stop offset=".596" stop-color="#c00"/><stop offset=".626" stop-color="#f40"/><stop offset=".635" stop-color="#ef1"/><stop offset=".911" stop-color="#9f6"/></linearGradient>
<linearGradient id="d150" href="#vg"><stop offset=".004" stop-color="#02f"/><stop offset=".022" stop-color="#0af"/><stop offset=".058" stop-color="#0df"/><stop offset=".202" stop-color="#6f9"/><stop offset=".211" stop-color="#df2"/><stop offset=".229" stop-color="#f50"/><stop offset=".256" stop-color="#f50"/><stop offset=".274" stop-color="#df2"/><stop offset=".282" stop-color="#8f7"/><stop offset=".318" stop-color="#8f7"/><stop offset=".327" stop-color="#cf3"/><stop offset=".336" stop-color="#f80"/><stop offset=".345" stop-color="#f10"/><stop offset=".363" stop-color="#f10"/><stop offset=".372" stop-color="#fc0"/><stop offset=".381" stop-color="#8f7"/><stop offset=".489" stop-color="#8f7"/><stop offset=".507" stop-color="#fc0"/><stop offset=".551" stop-color="#f00"/><stop offset=".569" stop-color="#900"/><stop offset=".605" stop-color="#800"/><stop offset=".623" stop-color="#e00"/><stop offset=".641" stop-color="#f40"/><stop offset=".65" stop-color="#cf3"/><stop offset=".919" stop-color="#8f7"/></linearGradient>
<linearGradient id="d151" href="#vg"><stop offset=".005" stop-color="#04f"/><stop offset=".032" stop-color="#0ef"/><stop offset=".086" stop-color="#ef1"/><stop offset=".176" stop-color="#fb0"/><stop offset=".213" stop-color="#f70"/><stop offset=".24" stop-color="#f40"/><stop offset=".276" stop-color="#f80"/><stop offset=".321" stop-color="#f80"/><stop offset=".339" stop-color="#f20"/><stop offset=".366" stop-color="#f20"/><stop offset=".385" stop-color="#f80"/><stop offset=".502" stop-color="#fa0"/><stop offset=".547" stop-color="#f00"/><stop offset=".575" stop-color="#900"/><stop offset=".629" stop-color="#800"/><stop offset=".647" stop-color="#e00"/><stop offset=".674" stop-color="#f40"/><stop offset=".683" stop-color="#df2"/><stop offset=".918" stop-color="#8f7"/></linearGradient>
<linearGradient id="d152" href="#vg"><stop offset=".005" stop-color="#04f"/><stop offset=".014" stop-color="#08f"/><stop offset=".041" stop-color="#0df"/><stop offset=".087" stop-color="#5fa"/><stop offset=".196" stop-color="#af5"/><stop offset=".215" stop-color="#df2"/><stop offset=".242" stop-color="#f40"/><stop offset=".26" stop-color="#f50"/><stop offset=".278" stop-color="#fe0"/><stop offset=".288" stop-color="#cf3"/><stop offset=".315" stop-color="#cf3"/><stop offset=".324" stop-color="#fb0"/><stop offset=".333" stop-color="#f10"/><stop offset=".361" stop-color="#d00"/><stop offset=".37" stop-color="#f80"/><stop offset=".379" stop-color="#df2"/><stop offset=".479" stop-color="#cf3"/><stop offset=".498" stop-color="#ff0"/><stop offset=".552" stop-color="#f00"/><stop offset=".58" stop-color="#800"/><stop offset=".616" stop-color="#800"/><stop offset=".625" stop-color="#d00"/><stop offset=".644" stop-color="#f20"/><stop offset=".653" stop-color="#ef1"/><stop offset=".662" stop-color="#df2"/><stop offset=".918" stop-color="#9f6"/></linearGradient>
<linearGradient id="d153" href="#vg"><stop offset=".005" stop-color="#02f"/><stop offset=".023" stop-color="#0af"/><stop offset=".041" stop-color="#0df"/><stop offset=".086" stop-color="#7f8"/><stop offset=".222" stop-color="#ef1"/><stop offset=".249" stop-color="#f40"/><stop offset=".276" stop-color="#f50"/><stop offset=".303" stop-color="#ef1"/><stop offset=".33" stop-color="#ef1"/><stop offset=".348" stop-color="#f00"/><stop offset=".366" stop-color="#d00"/><stop offset=".376" stop-color="#f60"/><stop offset=".385" stop-color="#ff0"/><stop offset=".466" stop-color="#ef1"/><stop offset=".538" stop-color="#f00"/><stop offset=".566" stop-color="#800"/><stop offset=".611" stop-color="#800"/><stop offset=".629" stop-color="#e00"/><stop offset=".647" stop-color="#f30"/><stop offset=".656" stop-color="#df2"/><stop offset=".665" stop-color="#bf4"/><stop offset=".918" stop-color="#8f7"/></linearGradient>
<linearGradient id="d154" href="#vg"><stop offset=".005" stop-color="#02f"/><stop offset=".014" stop-color="#06f"/><stop offset=".043" stop-color="#0ff"/><stop offset=".082" stop-color="#9f6"/><stop offset=".14" stop-color="#df2"/><stop offset=".285" stop-color="#fd0"/><stop offset=".304" stop-color="#d00"/><stop offset=".324" stop-color="#f00"/><stop offset=".343" stop-color="#fd0"/><stop offset=".449" stop-color="#fd0"/><stop offset=".517" stop-color="#f00"/><stop offset=".546" stop-color="#800"/><stop offset=".584" stop-color="#800"/><stop offset=".604" stop-color="#e00"/><stop offset=".623" stop-color="#f30"/><stop offset=".633" stop-color="#cf3"/><stop offset=".642" stop-color="#bf4"/><stop offset=".913" stop-color="#7f8"/></linearGradient>
<linearGradient id="d155" href="#vg"><stop offset=".005" stop-color="#03f"/><stop offset=".032" stop-color="#0df"/><stop offset=".095" stop-color="#ff0"/><stop offset=".185" stop-color="#fb0"/><stop offset=".33" stop-color="#f90"/><stop offset=".348" stop-color="#e00"/><stop offset=".366" stop-color="#d00"/><stop offset=".385" stop-color="#f90"/><stop offset=".511" stop-color="#fa0"/><stop offset=".538" stop-color="#f60"/><stop offset=".575" stop-color="#d00"/><stop offset=".584" stop-color="#800"/><stop offset=".62" stop-color="#800"/><stop offset=".629" stop-color="#d00"/><stop offset=".647" stop-color="#f30"/><stop offset=".656" stop-color="#bf4"/><stop offset=".918" stop-color="#7f8"/></linearGradient>
<linearGradient id="d156" href="#vg"><stop offset=".004" stop-color="#02f"/><stop offset=".013" stop-color="#06f"/><stop offset=".038" stop-color="#0ff"/><stop offset=".089" stop-color="#ff0"/><stop offset=".105" stop-color="#fa0"/><stop offset=".215" stop-color="#f60"/><stop offset=".375" stop-color="#f40"/><stop offset=".392" stop-color="#f10"/><stop offset=".418" stop-color="#d00"/><stop offset=".435" stop-color="#f40"/><stop offset=".519" stop-color="#f40"/><stop offset=".544" stop-color="#fa0"/><stop offset=".603" stop-color="#d00"/><stop offset=".612" stop-color="#800"/><stop offset=".654" stop-color="#800"/><stop offset=".662" stop-color="#e00"/><stop offset=".679" stop-color="#f40"/><stop offset=".688" stop-color="#df2"/><stop offset=".924" stop-color="#9f6"/></linearGradient>
<linearGradient id="d157" href="#vg"><stop offset=".004" stop-color="#01f"/><stop offset=".021" stop-color="#0af"/><stop offset=".079" stop-color="#1fe"/><stop offset=".212" stop-color="#8f7"/><stop offset=".378" stop-color="#af5"/><stop offset=".386" stop-color="#fb0"/><stop offset=".394" stop-color="#f00"/><stop offset=".402" stop-color="#d00"/><stop offset=".419" stop-color="#e00"/><stop offset=".427" stop-color="#fa0"/><stop offset=".436" stop-color="#af5"/><stop offset=".519" stop-color="#bf4"/><stop offset=".527" stop-color="#ff0"/><stop offset=".543" stop-color="#f90"/><stop offset=".602" stop-color="#d00"/><stop offset=".61" stop-color="#800"/><stop offset=".651" stop-color="#800"/><stop offset=".668" stop-color="#f00"/><stop offset=".685" stop-color="#f40"/><stop offset=".693" stop-color="#cf3"/><stop offset=".925" stop-color="#8f7"/></linearGradient>
<linearGradient id="d158" href="#vg"><stop offset=".004" stop-color="#00f"/><stop offset=".021" stop-color="#08f"/><stop offset=".063" stop-color="#0df"/><stop offset=".172" stop-color="#5fa"/><stop offset=".381" stop-color="#af5"/><stop offset=".389" stop-color="#f80"/><stop offset=".397" stop-color="#d00"/><stop offset=".423" stop-color="#f20"/><stop offset=".431" stop-color="#fd0"/><stop offset=".439" stop-color="#8f7"/><stop offset=".523" stop-color="#9f6"/><stop offset=".531" stop-color="#df2"/><stop offset=".54" stop-color="#fc0"/><stop offset=".582" stop-color="#f30"/><stop offset=".607" stop-color="#c00"/><stop offset=".615" stop-color="#800"/><stop offset=".657" stop-color="#800"/><stop offset=".665" stop-color="#d00"/><stop offset=".682" stop-color="#f30"/><stop offset=".69" stop-color="#df2"/><stop offset=".699" stop-color="#bf4"/><stop offset=".925" stop-color="#8f7"/></linearGradient>
<linearGradient id="d159" href="#vg"><stop offset=".004" stop-color="#01f"/><stop offset=".021" stop-color="#09f"/><stop offset=".046" stop-color="#0ff"/><stop offset=".105" stop-color="#cf3"/><stop offset=".205" stop-color="#fe0"/><stop offset=".364" stop-color="#fb0"/><stop offset=".381" stop-color="#f90"/><stop offset=".389" stop-color="#f20"/><stop offset=".397" stop-color="#d00"/><stop offset=".423" stop-color="#f00"/><stop offset=".439" stop-color="#fb0"/><stop offset=".54" stop-color="#fb0"/><stop offset=".607" stop-color="#e00"/><stop offset=".615" stop-color="#800"/><stop offset=".657" stop-color="#800"/><stop offset=".665" stop-color="#d00"/><stop offset=".682" stop-color="#f30"/><stop offset=".69" stop-color="#bf4"/><stop offset=".699" stop-color="#9f6"/><stop offset=".925" stop-color="#6f9"/></linearGradient>
<linearGradient id="d160" href="#vg"><stop offset=".004" stop-color="#00f"/><stop offset=".021" stop-color="#09f"/><stop offset=".046" stop-color="#0ef"/><stop offset=".095" stop-color="#6f9"/><stop offset=".22" stop-color="#df2"/><stop offset=".394" stop-color="#ef1"/><stop offset=".411" stop-color="#e00"/><stop offset=".427" stop-color="#d00"/><stop offset=".444" stop-color="#ff0"/><stop offset=".535" stop-color="#ff0"/><stop offset=".585" stop-color="#f40"/><stop offset=".61" stop-color="#d00"/><stop offset=".618" stop-color="#800"/><stop offset=".651" stop-color="#800"/><stop offset=".668" stop-color="#f00"/><stop offset=".676" stop-color="#f20"/><stop offset=".685" stop-color="#bf4"/><stop offset=".693" stop-color="#9f6"/><stop offset=".925" stop-color="#6f9"/></linearGradient>
<linearGradient id="d161" href="#vg"><stop offset=".005" stop-color="#02f"/><stop offset=".025" stop-color="#0af"/><stop offset=".054" stop-color="#0ef"/><stop offset=".182" stop-color="#7f8"/><stop offset=".429" stop-color="#9f6"/><stop offset=".438" stop-color="#ef1"/><stop offset=".448" stop-color="#fc0"/><stop offset=".517" stop-color="#e00"/><stop offset=".527" stop-color="#800"/><stop offset=".576" stop-color="#800"/><stop offset=".586" stop-color="#e00"/><stop offset=".606" stop-color="#f30"/><stop offset=".616" stop-color="#9f6"/><stop offset=".911" stop-color="#5fa"/></linearGradient>
<linearGradient id="d162" href="#vg"><stop offset=".005" stop-color="#01f"/><stop offset=".026" stop-color="#0af"/><stop offset=".047" stop-color="#0af"/><stop offset=".12" stop-color="#0df"/><stop offset=".215" stop-color="#7f8"/><stop offset=".225" stop-color="#fb0"/><stop offset=".236" stop-color="#f10"/><stop offset=".257" stop-color="#f10"/><stop offset=".267" stop-color="#f80"/><stop offset=".277" stop-color="#af5"/><stop offset=".288" stop-color="#6f9"/><stop offset=".393" stop-color="#7f8"/><stop offset=".414" stop-color="#fd0"/><stop offset=".424" stop-color="#fa0"/><stop offset=".445" stop-color="#f60"/><stop offset=".497" stop-color="#d00"/><stop offset=".508" stop-color="#800"/><stop offset=".56" stop-color="#800"/><stop offset=".571" stop-color="#d00"/><stop offset=".592" stop-color="#f30"/><stop offset=".602" stop-color="#cf3"/><stop offset=".612" stop-color="#af5"/><stop offset=".906" stop-color="#6f9"/></linearGradient>
<linearGradient id="d163" href="#vg"><stop offset=".006" stop-color="#01f"/><stop offset=".028" stop-color="#0af"/><stop offset=".085" stop-color="#0cf"/><stop offset=".153" stop-color="#2fd"/><stop offset=".345" stop-color="#7f8"/><stop offset=".367" stop-color="#fd0"/><stop offset=".378" stop-color="#f90"/><stop offset=".458" stop-color="#d00"/><stop offset=".469" stop-color="#800"/><stop offset=".525" stop-color="#800"/><stop offset=".548" stop-color="#f00"/><stop offset=".571" stop-color="#f40"/><stop offset=".582" stop-color="#af5"/><stop offset=".898" stop-color="#5fa"/></linearGradient>
<linearGradient id="d164" href="#vg"><stop offset=".006" stop-color="#02f"/><stop offset=".029" stop-color="#0af"/><stop offset=".051" stop-color="#0af"/><stop offset=".109" stop-color="#0ef"/><stop offset=".166" stop-color="#4fb"/><stop offset=".36" stop-color="#9f6"/><stop offset=".371" stop-color="#ef1"/><stop offset=".383" stop-color="#fc0"/><stop offset=".463" stop-color="#e00"/><stop offset=".474" stop-color="#800"/><stop offset=".531" stop-color="#800"/><stop offset=".543" stop-color="#d00"/><stop offset=".566" stop-color="#f30"/><stop offset=".577" stop-color="#af5"/><stop offset=".588" stop-color="#9f6"/><stop offset=".897" stop-color="#6f9"/></linearGradient>
<linearGradient id="d165" href="#vg"><stop offset=".006" stop-color="#03f"/><stop offset=".029" stop-color="#0af"/><stop offset=".041" stop-color="#0af"/><stop offset=".099" stop-color="#0ef"/><stop offset=".158" stop-color="#4fb"/><stop offset=".333" stop-color="#7f8"/><stop offset=".357" stop-color="#ff0"/><stop offset=".368" stop-color="#fa0"/><stop offset=".439" stop-color="#e00"/><stop offset=".45" stop-color="#900"/><stop offset=".462" stop-color="#800"/><stop offset=".509" stop-color="#800"/><stop offset=".52" stop-color="#e00"/><stop offset=".544" stop-color="#f40"/><stop offset=".555" stop-color="#bf4"/><stop offset=".895" stop-color="#7f8"/></linearGradient>
<linearGradient id="d166" href="#vg"><stop offset=".006" stop-color="#01f"/><stop offset=".028" stop-color="#0af"/><stop offset=".095" stop-color="#0cf"/><stop offset=".162" stop-color="#4fb"/><stop offset=".363" stop-color="#9f6"/><stop offset=".374" stop-color="#ef1"/><stop offset=".385" stop-color="#fb0"/><stop offset=".464" stop-color="#e00"/><stop offset=".475" stop-color="#900"/><stop offset=".486" stop-color="#800"/><stop offset=".542" stop-color="#900"/><stop offset=".553" stop-color="#f00"/><stop offset=".575" stop-color="#f40"/><stop offset=".586" stop-color="#9f6"/><stop offset=".899" stop-color="#5fa"/></linearGradient>
<linearGradient id="d167" href="#vg"><stop offset=".005" stop-color="#01f"/><stop offset=".027" stop-color="#09f"/><stop offset=".059" stop-color="#0af"/><stop offset=".113" stop-color="#0ef"/><stop offset=".178" stop-color="#5fa"/><stop offset=".189" stop-color="#df2"/><stop offset=".2" stop-color="#fb0"/><stop offset=".211" stop-color="#fb0"/><stop offset=".232" stop-color="#fd0"/><stop offset=".254" stop-color="#7f8"/><stop offset=".384" stop-color="#8f7"/><stop offset=".395" stop-color="#cf3"/><stop offset=".416" stop-color="#f90"/><stop offset=".481" stop-color="#e00"/><stop offset=".492" stop-color="#800"/><stop offset=".546" stop-color="#800"/><stop offset=".557" stop-color="#d00"/><stop offset=".578" stop-color="#f30"/><stop offset=".589" stop-color="#df2"/><stop offset=".6" stop-color="#cf3"/><stop offset=".903" stop-color="#8f7"/></linearGradient>
<linearGradient id="d168" href="#vg"><stop offset=".005" stop-color="#04f"/><stop offset=".027" stop-color="#0af"/><stop offset=".178" stop-color="#1fe"/><stop offset=".189" stop-color="#cf3"/><stop offset=".2" stop-color="#f30"/><stop offset=".211" stop-color="#e00"/><stop offset=".222" stop-color="#e00"/><stop offset=".232" stop-color="#fb0"/><stop offset=".243" stop-color="#5fa"/><stop offset=".254" stop-color="#4fb"/><stop offset=".362" stop-color="#8f7"/><stop offset=".373" stop-color="#df2"/><stop offset=".395" stop-color="#f90"/><stop offset=".47" stop-color="#e00"/><stop offset=".481" stop-color="#800"/><stop offset=".546" stop-color="#800"/><stop offset=".557" stop-color="#d00"/><stop offset=".578" stop-color="#f20"/><stop offset=".589" stop-color="#cf3"/><stop offset=".6" stop-color="#af5"/><stop offset=".903" stop-color="#7f8"/></linearGradient>
<linearGradient id="d169" href="#vg"><stop offset=".005" stop-color="#02f"/><stop offset=".027" stop-color="#0af"/><stop offset=".07" stop-color="#3fc"/><stop offset=".178" stop-color="#9f6"/><stop offset=".189" stop-color="#fe0"/><stop offset=".2" stop-color="#f40"/><stop offset=".211" stop-color="#e00"/><stop offset=".232" stop-color="#f00"/><stop offset=".243" stop-color="#fa0"/><stop offset=".254" stop-color="#af5"/><stop offset=".362" stop-color="#af5"/><stop offset=".384" stop-color="#df2"/><stop offset=".405" stop-color="#fa0"/><stop offset=".47" stop-color="#e00"/><stop offset=".481" stop-color="#900"/><stop offset=".492" stop-color="#800"/><stop offset=".535" stop-color="#800"/><stop offset=".546" stop-color="#d00"/><stop offset=".567" stop-color="#f30"/><stop offset=".578" stop-color="#bf4"/><stop offset=".903" stop-color="#6f9"/></linearGradient>
<linearGradient id="d170" href="#vg"><stop offset=".006" stop-color="#02f"/><stop offset=".029" stop-color="#0af"/><stop offset=".041" stop-color="#0af"/><stop offset=".123" stop-color="#0ff"/><stop offset=".134" stop-color="#fe0"/><stop offset=".146" stop-color="#e00"/><stop offset=".181" stop-color="#f10"/><stop offset=".193" stop-color="#ff0"/><stop offset=".205" stop-color="#4fb"/><stop offset=".322" stop-color="#7f8"/><stop offset=".345" stop-color="#ff0"/><stop offset=".357" stop-color="#fa0"/><stop offset=".439" stop-color="#e00"/><stop offset=".462" stop-color="#800"/><stop offset=".52" stop-color="#800"/><stop offset=".532" stop-color="#d00"/><stop offset=".555" stop-color="#f30"/><stop offset=".567" stop-color="#af5"/><stop offset=".579" stop-color="#9f6"/><stop offset=".895" stop-color="#5fa"/></linearGradient>
<linearGradient id="d171" href="#vg"><stop offset=".006" stop-color="#03f"/><stop offset=".03" stop-color="#0af"/><stop offset=".102" stop-color="#0ef"/><stop offset=".293" stop-color="#8f7"/><stop offset=".305" stop-color="#df2"/><stop offset=".317" stop-color="#fc0"/><stop offset=".401" stop-color="#e00"/><stop offset=".425" stop-color="#800"/><stop offset=".485" stop-color="#900"/><stop offset=".497" stop-color="#f00"/><stop offset=".521" stop-color="#f40"/><stop offset=".533" stop-color="#df2"/><stop offset=".892" stop-color="#9f6"/></linearGradient>
<linearGradient id="d172" href="#vg"><stop offset=".006" stop-color="#02f"/><stop offset=".03" stop-color="#0af"/><stop offset=".078" stop-color="#0df"/><stop offset=".138" stop-color="#6f9"/><stop offset=".233" stop-color="#7f8"/><stop offset=".293" stop-color="#9f6"/><stop offset=".305" stop-color="#ef1"/><stop offset=".317" stop-color="#fb0"/><stop offset=".341" stop-color="#f70"/><stop offset=".401" stop-color="#d00"/><stop offset=".413" stop-color="#800"/><stop offset=".473" stop-color="#800"/><stop offset=".485" stop-color="#f00"/><stop offset=".509" stop-color="#f40"/><stop offset=".521" stop-color="#bf4"/><stop offset=".892" stop-color="#7f8"/></linearGradient>
<linearGradient id="d173" href="#vg"><stop offset=".006" stop-color="#02f"/><stop offset=".041" stop-color="#0ff"/><stop offset=".064" stop-color="#9f6"/><stop offset=".134" stop-color="#ef1"/><stop offset=".298" stop-color="#ff0"/><stop offset=".368" stop-color="#f50"/><stop offset=".415" stop-color="#d00"/><stop offset=".427" stop-color="#800"/><stop offset=".45" stop-color="#800"/><stop offset=".485" stop-color="#900"/><stop offset=".497" stop-color="#f00"/><stop offset=".509" stop-color="#f20"/><stop offset=".52" stop-color="#cf3"/><stop offset=".532" stop-color="#af5"/><stop offset=".895" stop-color="#7f8"/></linearGradient>
<linearGradient id="d174" href="#vg"><stop offset=".006" stop-color="#03f"/><stop offset=".017" stop-color="#07f"/><stop offset=".051" stop-color="#2fd"/><stop offset=".153" stop-color="#af5"/><stop offset=".164" stop-color="#fc0"/><stop offset=".175" stop-color="#f10"/><stop offset=".198" stop-color="#e00"/><stop offset=".209" stop-color="#f70"/><stop offset=".22" stop-color="#cf3"/><stop offset=".232" stop-color="#af5"/><stop offset=".311" stop-color="#af5"/><stop offset=".322" stop-color="#df2"/><stop offset=".345" stop-color="#fa0"/><stop offset=".424" stop-color="#e00"/><stop offset=".435" stop-color="#800"/><stop offset=".503" stop-color="#800"/><stop offset=".514" stop-color="#e00"/><stop offset=".537" stop-color="#f30"/><stop offset=".548" stop-color="#df2"/><stop offset=".559" stop-color="#bf4"/><stop offset=".898" stop-color="#8f7"/></linearGradient>
<linearGradient id="d175" href="#vg"><stop offset=".006" stop-color="#01f"/><stop offset=".029" stop-color="#0af"/><stop offset=".04" stop-color="#0af"/><stop offset=".121" stop-color="#1fe"/><stop offset=".133" stop-color="#5fa"/><stop offset=".144" stop-color="#f90"/><stop offset=".156" stop-color="#b00"/><stop offset=".168" stop-color="#b00"/><stop offset=".179" stop-color="#f00"/><stop offset=".191" stop-color="#fe0"/><stop offset=".202" stop-color="#7f8"/><stop offset=".341" stop-color="#8f7"/><stop offset=".353" stop-color="#df2"/><stop offset=".376" stop-color="#f90"/><stop offset=".445" stop-color="#e00"/><stop offset=".457" stop-color="#800"/><stop offset=".514" stop-color="#800"/><stop offset=".526" stop-color="#f00"/><stop offset=".537" stop-color="#f20"/><stop offset=".549" stop-color="#ff0"/><stop offset=".561" stop-color="#ef1"/><stop offset=".896" stop-color="#af5"/></linearGradient>
<linearGradient id="d176" href="#vg"><stop offset=".006" stop-color="#01f"/><stop offset=".041" stop-color="#0df"/><stop offset=".065" stop-color="#3fc"/><stop offset=".101" stop-color="#6f9"/><stop offset=".112" stop-color="#fb0"/><stop offset=".124" stop-color="#d00"/><stop offset=".148" stop-color="#f00"/><stop offset=".16" stop-color="#fb0"/><stop offset=".172" stop-color="#9f6"/><stop offset=".314" stop-color="#af5"/><stop offset=".337" stop-color="#fc0"/><stop offset=".42" stop-color="#f00"/><stop offset=".444" stop-color="#800"/><stop offset=".503" stop-color="#800"/><stop offset=".515" stop-color="#e00"/><stop offset=".538" stop-color="#f30"/><stop offset=".55" stop-color="#cf3"/><stop offset=".562" stop-color="#af5"/><stop offset=".893" stop-color="#7f8"/></linearGradient>
<linearGradient id="d177" href="#vg"><stop offset=".006" stop-color="#03f"/><stop offset=".042" stop-color="#1fe"/><stop offset=".054" stop-color="#5fa"/><stop offset=".126" stop-color="#bf4"/><stop offset=".293" stop-color="#cf3"/><stop offset=".317" stop-color="#fc0"/><stop offset=".365" stop-color="#f50"/><stop offset=".425" stop-color="#d00"/><stop offset=".437" stop-color="#800"/><stop offset=".509" stop-color="#800"/><stop offset=".521" stop-color="#e00"/><stop offset=".545" stop-color="#f20"/><stop offset=".557" stop-color="#ff0"/><stop offset=".569" stop-color="#ef1"/><stop offset=".892" stop-color="#af5"/></linearGradient>
<linearGradient id="d178" href="#vg"><stop offset=".006" stop-color="#01f"/><stop offset=".055" stop-color="#0ff"/><stop offset=".139" stop-color="#7f8"/><stop offset=".309" stop-color="#8f7"/><stop offset=".333" stop-color="#ff0"/><stop offset=".345" stop-color="#fb0"/><stop offset=".418" stop-color="#f00"/><stop offset=".442" stop-color="#800"/><stop offset=".491" stop-color="#800"/><stop offset=".503" stop-color="#d00"/><stop offset=".527" stop-color="#f30"/><stop offset=".539" stop-color="#f10"/><stop offset=".891" stop-color="#f50"/></linearGradient>
<linearGradient id="d179" href="#vg"><stop offset=".006" stop-color="#03f"/><stop offset=".042" stop-color="#0ff"/><stop offset=".055" stop-color="#4fb"/><stop offset=".127" stop-color="#af5"/><stop offset=".297" stop-color="#bf4"/><stop offset=".309" stop-color="#ef1"/><stop offset=".358" stop-color="#f60"/><stop offset=".418" stop-color="#d00"/><stop offset=".43" stop-color="#800"/><stop offset=".491" stop-color="#800"/><stop offset=".503" stop-color="#d00"/><stop offset=".527" stop-color="#f30"/><stop offset=".539" stop-color="#f00"/><stop offset=".551" stop-color="#f20"/><stop offset=".891" stop-color="#f60"/></linearGradient>
<linearGradient id="d180" href="#vg"><stop offset=".006" stop-color="#02f"/><stop offset=".03" stop-color="#0af"/><stop offset=".09" stop-color="#0cf"/><stop offset=".15" stop-color="#3fc"/><stop offset=".329" stop-color="#7f8"/><stop offset=".353" stop-color="#ef1"/><stop offset=".365" stop-color="#fb0"/><stop offset=".401" stop-color="#f50"/><stop offset=".449" stop-color="#d00"/><stop offset=".461" stop-color="#800"/><stop offset=".521" stop-color="#800"/><stop offset=".533" stop-color="#f00"/><stop offset=".557" stop-color="#f40"/><stop offset=".569" stop-color="#f00"/><stop offset=".892" stop-color="#f40"/></linearGradient>
<linearGradient id="d181" href="#vg"><stop offset=".006" stop-color="#01f"/><stop offset=".03" stop-color="#09f"/><stop offset=".054" stop-color="#0af"/><stop offset=".102" stop-color="#0ef"/><stop offset=".114" stop-color="#ff0"/><stop offset=".126" stop-color="#f10"/><stop offset=".15" stop-color="#f10"/><stop offset=".162" stop-color="#fb0"/><stop offset=".174" stop-color="#8f7"/><stop offset=".329" stop-color="#8f7"/><stop offset=".341" stop-color="#df2"/><stop offset=".365" stop-color="#f90"/><stop offset=".437" stop-color="#d00"/><stop offset=".449" stop-color="#800"/><stop offset=".497" stop-color="#800"/><stop offset=".521" stop-color="#f00"/><stop offset=".533" stop-color="#f30"/><stop offset=".545" stop-color="#f10"/><stop offset=".557" stop-color="#f30"/><stop offset=".892" stop-color="#f60"/></linearGradient>
<linearGradient id="d182" href="#vg"><stop offset=".006" stop-color="#03f"/><stop offset=".03" stop-color="#0af"/><stop offset=".041" stop-color="#0af"/><stop offset=".101" stop-color="#0ff"/><stop offset=".124" stop-color="#fe0"/><stop offset=".148" stop-color="#fa0"/><stop offset=".16" stop-color="#ff0"/><stop offset=".172" stop-color="#9f6"/><stop offset=".183" stop-color="#7f8"/><stop offset=".314" stop-color="#9f6"/><stop offset=".325" stop-color="#ef1"/><stop offset=".337" stop-color="#fc0"/><stop offset=".408" stop-color="#f00"/><stop offset=".432" stop-color="#800"/><stop offset=".479" stop-color="#800"/><stop offset=".491" stop-color="#e00"/><stop offset=".515" stop-color="#f40"/><stop offset=".893" stop-color="#f70"/></linearGradient>
<linearGradient id="d183" href="#vg"><stop offset=".006" stop-color="#02f"/><stop offset=".043" stop-color="#0ff"/><stop offset=".055" stop-color="#5fa"/><stop offset=".129" stop-color="#bf4"/><stop offset=".264" stop-color="#df2"/><stop offset=".313" stop-color="#ef1"/><stop offset=".374" stop-color="#f50"/><stop offset=".423" stop-color="#d00"/><stop offset=".435" stop-color="#800"/><stop offset=".497" stop-color="#800"/><stop offset=".509" stop-color="#e00"/><stop offset=".558" stop-color="#f70"/><stop offset=".889" stop-color="#fa0"/></linearGradient>
<linearGradient id="d184" href="#vg"><stop offset=".006" stop-color="#01f"/><stop offset=".031" stop-color="#09f"/><stop offset=".082" stop-color="#0df"/><stop offset=".132" stop-color="#3fc"/><stop offset=".283" stop-color="#7f8"/><stop offset=".296" stop-color="#cf3"/><stop offset=".321" stop-color="#f90"/><stop offset=".396" stop-color="#e00"/><stop offset=".421" stop-color="#800"/><stop offset=".446" stop-color="#800"/><stop offset=".484" stop-color="#a00"/><stop offset=".497" stop-color="#f00"/><stop offset=".522" stop-color="#f40"/><stop offset=".534" stop-color="#fd0"/><stop offset=".887" stop-color="#df2"/></linearGradient>
<linearGradient id="d185" href="#vg"><stop offset=".007" stop-color="#00f"/><stop offset=".02" stop-color="#04f"/><stop offset=".047" stop-color="#0ff"/><stop offset=".06" stop-color="#4fb"/><stop offset=".101" stop-color="#7f8"/><stop offset=".221" stop-color="#9f6"/><stop offset=".248" stop-color="#fe0"/><stop offset=".262" stop-color="#fa0"/><stop offset=".302" stop-color="#f50"/><stop offset=".356" stop-color="#d00"/><stop offset=".369" stop-color="#800"/><stop offset=".436" stop-color="#800"/><stop offset=".45" stop-color="#e00"/><stop offset=".476" stop-color="#f40"/><stop offset=".49" stop-color="#fa0"/><stop offset=".879" stop-color="#ff0"/></linearGradient>
<linearGradient id="d186" href="#vg"><stop offset=".007" stop-color="#01f"/><stop offset=".034" stop-color="#09f"/><stop offset=".116" stop-color="#2fd"/><stop offset=".252" stop-color="#7f8"/><stop offset=".279" stop-color="#fe0"/><stop offset=".292" stop-color="#fa0"/><stop offset=".374" stop-color="#f00"/><stop offset=".401" stop-color="#800"/><stop offset=".442" stop-color="#800"/><stop offset=".469" stop-color="#a00"/><stop offset=".483" stop-color="#f00"/><stop offset=".496" stop-color="#f20"/><stop offset=".51" stop-color="#fa0"/><stop offset=".524" stop-color="#fb0"/><stop offset=".877" stop-color="#ff0"/></linearGradient>
<linearGradient id="d187" href="#vg"><stop offset=".007" stop-color="#03f"/><stop offset=".034" stop-color="#0af"/><stop offset=".076" stop-color="#0df"/><stop offset=".214" stop-color="#7f8"/><stop offset=".241" stop-color="#ef1"/><stop offset=".255" stop-color="#fb0"/><stop offset=".352" stop-color="#e00"/><stop offset=".379" stop-color="#800"/><stop offset=".448" stop-color="#800"/><stop offset=".462" stop-color="#d00"/><stop offset=".49" stop-color="#f30"/><stop offset=".503" stop-color="#fa0"/><stop offset=".517" stop-color="#fb0"/><stop offset=".876" stop-color="#ff0"/></linearGradient>
<linearGradient id="d188" href="#vg"><stop offset=".007" stop-color="#00f"/><stop offset=".034" stop-color="#09f"/><stop offset=".103" stop-color="#0ef"/><stop offset=".186" stop-color="#7f8"/><stop offset=".214" stop-color="#ef1"/><stop offset=".228" stop-color="#fb0"/><stop offset=".338" stop-color="#e00"/><stop offset=".352" stop-color="#800"/><stop offset=".434" stop-color="#800"/><stop offset=".462" stop-color="#f00"/><stop offset=".49" stop-color="#f30"/><stop offset=".503" stop-color="#f80"/><stop offset=".876" stop-color="#fd0"/></linearGradient>
<linearGradient id="d189" href="#vg"><stop offset=".007" stop-color="#03f"/><stop offset=".021" stop-color="#08f"/><stop offset=".064" stop-color="#0ef"/><stop offset=".177" stop-color="#8f7"/><stop offset=".191" stop-color="#cf3"/><stop offset=".22" stop-color="#f90"/><stop offset=".319" stop-color="#e00"/><stop offset=".333" stop-color="#800"/><stop offset=".418" stop-color="#800"/><stop offset=".433" stop-color="#d00"/><stop offset=".489" stop-color="#f50"/><stop offset=".872" stop-color="#f90"/></linearGradient>
<linearGradient id="d190" href="#vg"><stop offset=".007" stop-color="#03f"/><stop offset=".034" stop-color="#0af"/><stop offset=".114" stop-color="#0df"/><stop offset=".221" stop-color="#7f8"/><stop offset=".248" stop-color="#fe0"/><stop offset=".262" stop-color="#fa0"/><stop offset=".289" stop-color="#f70"/><stop offset=".356" stop-color="#d00"/><stop offset=".369" stop-color="#800"/><stop offset=".436" stop-color="#800"/><stop offset=".45" stop-color="#e00"/><stop offset=".503" stop-color="#f70"/><stop offset=".879" stop-color="#fa0"/></linearGradient>
<linearGradient id="d191" href="#vg"><stop offset=".006" stop-color="#03f"/><stop offset=".03" stop-color="#0cf"/><stop offset=".055" stop-color="#af5"/><stop offset=".103" stop-color="#df2"/><stop offset=".285" stop-color="#fe0"/><stop offset=".406" stop-color="#e00"/><stop offset=".418" stop-color="#800"/><stop offset=".479" stop-color="#800"/><stop offset=".491" stop-color="#e00"/><stop offset=".527" stop-color="#f40"/><stop offset=".891" stop-color="#f80"/></linearGradient>
<linearGradient id="d192" href="#vg"><stop offset=".006" stop-color="#02f"/><stop offset=".04" stop-color="#0ff"/><stop offset=".073" stop-color="#cf3"/><stop offset=".107" stop-color="#ef1"/><stop offset=".119" stop-color="#f50"/><stop offset=".13" stop-color="#a00"/><stop offset=".153" stop-color="#900"/><stop offset=".164" stop-color="#f20"/><stop offset=".175" stop-color="#fb0"/><stop offset=".186" stop-color="#fc0"/><stop offset=".345" stop-color="#fc0"/><stop offset=".446" stop-color="#e00"/><stop offset=".458" stop-color="#800"/><stop offset=".514" stop-color="#800"/><stop offset=".525" stop-color="#e00"/><stop offset=".559" stop-color="#f50"/><stop offset=".898" stop-color="#fa0"/></linearGradient>
<linearGradient id="d193" href="#vg"><stop offset=".005" stop-color="#02f"/><stop offset=".037" stop-color="#0ff"/><stop offset=".079" stop-color="#fe0"/><stop offset=".183" stop-color="#f90"/><stop offset=".194" stop-color="#f40"/><stop offset=".204" stop-color="#b00"/><stop offset=".215" stop-color="#900"/><stop offset=".236" stop-color="#c00"/><stop offset=".246" stop-color="#f40"/><stop offset=".257" stop-color="#f80"/><stop offset=".34" stop-color="#f80"/><stop offset=".424" stop-color="#fa0"/><stop offset=".487" stop-color="#f00"/><stop offset=".508" stop-color="#800"/><stop offset=".55" stop-color="#800"/><stop offset=".56" stop-color="#e00"/><stop offset=".581" stop-color="#f40"/><stop offset=".592" stop-color="#ef1"/><stop offset=".906" stop-color="#af5"/></linearGradient>
<linearGradient id="d194" href="#vg"><stop offset=".005" stop-color="#01f"/><stop offset=".027" stop-color="#0af"/><stop offset=".049" stop-color="#0ef"/><stop offset=".148" stop-color="#7f8"/><stop offset=".158" stop-color="#fa0"/><stop offset=".169" stop-color="#b00"/><stop offset=".191" stop-color="#900"/><stop offset=".202" stop-color="#f50"/><stop offset=".213" stop-color="#cf3"/><stop offset=".224" stop-color="#9f6"/><stop offset=".377" stop-color="#9f6"/><stop offset=".388" stop-color="#df2"/><stop offset=".41" stop-color="#f90"/><stop offset=".475" stop-color="#e00"/><stop offset=".486" stop-color="#800"/><stop offset=".541" stop-color="#800"/><stop offset=".552" stop-color="#f00"/><stop offset=".563" stop-color="#f20"/><stop offset=".574" stop-color="#ff0"/><stop offset=".585" stop-color="#df2"/><stop offset=".901" stop-color="#af5"/></linearGradient>
<linearGradient id="d195" href="#vg"><stop offset=".006" stop-color="#02f"/><stop offset=".018" stop-color="#06f"/><stop offset=".041" stop-color="#3fc"/><stop offset=".053" stop-color="#bf4"/><stop offset=".065" stop-color="#fc0"/><stop offset=".136" stop-color="#f80"/><stop offset=".302" stop-color="#f60"/><stop offset=".337" stop-color="#f90"/><stop offset=".42" stop-color="#e00"/><stop offset=".432" stop-color="#800"/><stop offset=".491" stop-color="#800"/><stop offset=".503" stop-color="#f00"/><stop offset=".515" stop-color="#f20"/><stop offset=".527" stop-color="#fe0"/><stop offset=".538" stop-color="#ef1"/><stop offset=".893" stop-color="#af5"/></linearGradient>
<linearGradient id="d196" href="#vg"><stop offset=".006" stop-color="#01f"/><stop offset=".031" stop-color="#09f"/><stop offset=".044" stop-color="#4fb"/><stop offset=".057" stop-color="#bf4"/><stop offset=".094" stop-color="#ef1"/><stop offset=".245" stop-color="#fd0"/><stop offset=".371" stop-color="#e00"/><stop offset=".396" stop-color="#800"/><stop offset=".459" stop-color="#800"/><stop offset=".472" stop-color="#d00"/><stop offset=".497" stop-color="#f30"/><stop offset=".509" stop-color="#e00"/><stop offset=".887" stop-color="#f40"/></linearGradient>
<linearGradient id="d197" href="#vg"><stop offset=".006" stop-color="#00f"/><stop offset=".043" stop-color="#0ef"/><stop offset=".055" stop-color="#7f8"/><stop offset=".067" stop-color="#af5"/><stop offset=".117" stop-color="#ef1"/><stop offset=".276" stop-color="#fe0"/><stop offset=".386" stop-color="#e00"/><stop offset=".399" stop-color="#800"/><stop offset=".448" stop-color="#800"/><stop offset=".46" stop-color="#d00"/><stop offset=".485" stop-color="#f30"/><stop offset=".497" stop-color="#e00"/><stop offset=".889" stop-color="#f20"/></linearGradient>
<linearGradient id="d198" href="#vg"><stop offset=".006" stop-color="#03f"/><stop offset=".019" stop-color="#07f"/><stop offset=".044" stop-color="#2fd"/><stop offset=".057" stop-color="#5fa"/><stop offset=".107" stop-color="#9f6"/><stop offset=".233" stop-color="#bf4"/><stop offset=".27" stop-color="#df2"/><stop offset=".296" stop-color="#fa0"/><stop offset=".371" stop-color="#e00"/><stop offset=".384" stop-color="#800"/><stop offset=".434" stop-color="#800"/><stop offset=".446" stop-color="#d00"/><stop offset=".472" stop-color="#f30"/><stop offset=".484" stop-color="#e00"/><stop offset=".887" stop-color="#f30"/></linearGradient>
<linearGradient id="d199" href="#vg"><stop offset=".006" stop-color="#03f"/><stop offset=".031" stop-color="#0df"/><stop offset=".056" stop-color="#af5"/><stop offset=".106" stop-color="#ef1"/><stop offset=".267" stop-color="#fe0"/><stop offset=".391" stop-color="#e00"/><stop offset=".416" stop-color="#800"/><stop offset=".478" stop-color="#800"/><stop offset=".491" stop-color="#e00"/><stop offset=".515" stop-color="#f30"/><stop offset=".528" stop-color="#f00"/><stop offset=".888" stop-color="#f40"/></linearGradient>
<linearGradient id="d200" href="#vg"><stop offset=".006" stop-color="#03f"/><stop offset=".045" stop-color="#0ff"/><stop offset=".108" stop-color="#6f9"/><stop offset=".274" stop-color="#9f6"/><stop offset=".287" stop-color="#ef1"/><stop offset=".299" stop-color="#fb0"/><stop offset=".376" stop-color="#e00"/><stop offset=".388" stop-color="#a00"/><stop offset=".401" stop-color="#800"/><stop offset=".452" stop-color="#800"/><stop offset=".465" stop-color="#f00"/><stop offset=".478" stop-color="#f20"/><stop offset=".49" stop-color="#d00"/><stop offset=".503" stop-color="#f00"/><stop offset=".885" stop-color="#f40"/></linearGradient>
<linearGradient id="d201" href="#vg"><stop offset=".006" stop-color="#03f"/><stop offset=".031" stop-color="#0df"/><stop offset=".057" stop-color="#bf4"/><stop offset=".094" stop-color="#df2"/><stop offset=".27" stop-color="#fe0"/><stop offset=".396" stop-color="#e00"/><stop offset=".421" stop-color="#800"/><stop offset=".484" stop-color="#800"/><stop offset=".509" stop-color="#f00"/><stop offset=".534" stop-color="#f30"/><stop offset=".547" stop-color="#f00"/><stop offset=".887" stop-color="#f40"/></linearGradient>
<linearGradient id="d202" href="#vg"><stop offset=".006" stop-color="#02f"/><stop offset=".043" stop-color="#1fe"/><stop offset=".056" stop-color="#6f9"/><stop offset=".13" stop-color="#cf3"/><stop offset=".304" stop-color="#ef1"/><stop offset=".404" stop-color="#e00"/><stop offset=".416" stop-color="#900"/><stop offset=".478" stop-color="#800"/><stop offset=".491" stop-color="#f00"/><stop offset=".503" stop-color="#f20"/><stop offset=".515" stop-color="#f00"/><stop offset=".528" stop-color="#f10"/><stop offset=".888" stop-color="#f50"/></linearGradient>
<linearGradient id="d203" href="#vg"><stop offset=".006" stop-color="#00f"/><stop offset=".042" stop-color="#0ef"/><stop offset=".067" stop-color="#df2"/><stop offset=".115" stop-color="#fe0"/><stop offset=".212" stop-color="#fb0"/><stop offset=".345" stop-color="#f90"/><stop offset=".418" stop-color="#d00"/><stop offset=".43" stop-color="#800"/><stop offset=".479" stop-color="#800"/><stop offset=".503" stop-color="#f10"/><stop offset=".515" stop-color="#f30"/><stop offset=".527" stop-color="#f10"/><stop offset=".539" stop-color="#f20"/><stop offset=".891" stop-color="#f60"/></linearGradient>
<linearGradient id="d204" href="#vg"><stop offset=".006" stop-color="#03f"/><stop offset=".03" stop-color="#0bf"/><stop offset=".041" stop-color="#af5"/><stop offset=".053" stop-color="#f70"/><stop offset=".077" stop-color="#f40"/><stop offset=".101" stop-color="#fd0"/><stop offset=".112" stop-color="#ff0"/><stop offset=".136" stop-color="#fe0"/><stop offset=".325" stop-color="#fc0"/><stop offset=".408" stop-color="#f00"/><stop offset=".432" stop-color="#800"/><stop offset=".479" stop-color="#800"/><stop offset=".491" stop-color="#e00"/><stop offset=".503" stop-color="#f20"/><stop offset=".515" stop-color="#d00"/><stop offset=".527" stop-color="#f00"/><stop offset=".893" stop-color="#f40"/></linearGradient>
<linearGradient id="d205" href="#vg"><stop offset=".006" stop-color="#01f"/><stop offset=".018" stop-color="#06f"/><stop offset=".03" stop-color="#7f8"/><stop offset=".042" stop-color="#f70"/><stop offset=".054" stop-color="#f40"/><stop offset=".078" stop-color="#f40"/><stop offset=".09" stop-color="#fb0"/><stop offset=".102" stop-color="#af5"/><stop offset=".114" stop-color="#8f7"/><stop offset=".138" stop-color="#af5"/><stop offset=".317" stop-color="#cf3"/><stop offset=".341" stop-color="#fb0"/><stop offset=".425" stop-color="#d00"/><stop offset=".437" stop-color="#800"/><stop offset=".497" stop-color="#800"/><stop offset=".509" stop-color="#e00"/><stop offset=".533" stop-color="#f30"/><stop offset=".545" stop-color="#f10"/><stop offset=".892" stop-color="#f60"/></linearGradient>
<linearGradient id="d206" href="#vg"><stop offset=".006" stop-color="#04f"/><stop offset=".031" stop-color="#0df"/><stop offset=".057" stop-color="#7f8"/><stop offset=".107" stop-color="#bf4"/><stop offset=".283" stop-color="#ef1"/><stop offset=".384" stop-color="#e00"/><stop offset=".396" stop-color="#800"/><stop offset=".459" stop-color="#800"/><stop offset=".472" stop-color="#f00"/><stop offset=".509" stop-color="#f30"/><stop offset=".887" stop-color="#f60"/></linearGradient>
<linearGradient id="d207" href="#vg"><stop offset=".007" stop-color="#04f"/><stop offset=".021" stop-color="#08f"/><stop offset=".034" stop-color="#5fa"/><stop offset=".048" stop-color="#cf3"/><stop offset=".09" stop-color="#fe0"/><stop offset=".214" stop-color="#fd0"/><stop offset=".352" stop-color="#e00"/><stop offset=".365" stop-color="#800"/><stop offset=".448" stop-color="#800"/><stop offset=".462" stop-color="#e00"/><stop offset=".49" stop-color="#f30"/><stop offset=".503" stop-color="#f20"/><stop offset=".876" stop-color="#f60"/></linearGradient>
<linearGradient id="d208" href="#vg"><stop offset=".007" stop-color="#01f"/><stop offset=".035" stop-color="#09f"/><stop offset=".05" stop-color="#9f6"/><stop offset=".092" stop-color="#ef1"/><stop offset=".191" stop-color="#ff0"/><stop offset=".319" stop-color="#f00"/><stop offset=".347" stop-color="#800"/><stop offset=".404" stop-color="#800"/><stop offset=".418" stop-color="#d00"/><stop offset=".447" stop-color="#f30"/><stop offset=".872" stop-color="#f70"/></linearGradient>
<linearGradient id="d209" href="#vg"><stop offset=".007" stop-color="#02f"/><stop offset=".035" stop-color="#0af"/><stop offset=".05" stop-color="#7f8"/><stop offset=".092" stop-color="#cf3"/><stop offset=".206" stop-color="#df2"/><stop offset=".234" stop-color="#fc0"/><stop offset=".333" stop-color="#f00"/><stop offset=".362" stop-color="#800"/><stop offset=".433" stop-color="#800"/><stop offset=".447" stop-color="#e00"/><stop offset=".475" stop-color="#f40"/><stop offset=".489" stop-color="#f00"/><stop offset=".872" stop-color="#f40"/></linearGradient>
<linearGradient id="d210" href="#vg"><stop offset=".007" stop-color="#03f"/><stop offset=".022" stop-color="#07f"/><stop offset=".037" stop-color="#4fb"/><stop offset=".067" stop-color="#8f7"/><stop offset=".141" stop-color="#af5"/><stop offset=".156" stop-color="#ef1"/><stop offset=".185" stop-color="#f90"/><stop offset=".304" stop-color="#d00"/><stop offset=".318" stop-color="#800"/><stop offset=".422" stop-color="#800"/><stop offset=".437" stop-color="#d00"/><stop offset=".467" stop-color="#f20"/><stop offset=".866" stop-color="#f70"/></linearGradient>
<linearGradient id="d211" href="#vg"><stop offset=".008" stop-color="#03f"/><stop offset=".023" stop-color="#0bf"/><stop offset=".039" stop-color="#0df"/><stop offset=".116" stop-color="#8f7"/><stop offset=".132" stop-color="#df2"/><stop offset=".163" stop-color="#f90"/><stop offset=".271" stop-color="#d00"/><stop offset=".287" stop-color="#800"/><stop offset=".364" stop-color="#800"/><stop offset=".395" stop-color="#f00"/><stop offset=".426" stop-color="#f40"/><stop offset=".442" stop-color="#f00"/><stop offset=".86" stop-color="#f40"/></linearGradient>
<linearGradient id="d212" href="#vg"><stop offset=".008" stop-color="#03f"/><stop offset=".038" stop-color="#0bf"/><stop offset=".084" stop-color="#3fc"/><stop offset=".176" stop-color="#7f8"/><stop offset=".206" stop-color="#fe0"/><stop offset=".221" stop-color="#fa0"/><stop offset=".313" stop-color="#f00"/><stop offset=".343" stop-color="#800"/><stop offset=".404" stop-color="#800"/><stop offset=".435" stop-color="#f00"/><stop offset=".45" stop-color="#f20"/><stop offset=".466" stop-color="#d00"/><stop offset=".862" stop-color="#f20"/></linearGradient>
<linearGradient id="d213" href="#vg"><stop offset=".008" stop-color="#03f"/><stop offset=".055" stop-color="#0ef"/><stop offset=".165" stop-color="#8f7"/><stop offset=".181" stop-color="#df2"/><stop offset=".197" stop-color="#fc0"/><stop offset=".291" stop-color="#e00"/><stop offset=".307" stop-color="#800"/><stop offset=".37" stop-color="#800"/><stop offset=".401" stop-color="#f10"/><stop offset=".417" stop-color="#f30"/><stop offset=".433" stop-color="#f00"/><stop offset=".858" stop-color="#f50"/></linearGradient>
<linearGradient id="d214" href="#vg"><stop offset=".008" stop-color="#02f"/><stop offset=".023" stop-color="#06f"/><stop offset=".069" stop-color="#1fe"/><stop offset=".099" stop-color="#6f9"/><stop offset=".191" stop-color="#7f8"/><stop offset=".221" stop-color="#ff0"/><stop offset=".237" stop-color="#fa0"/><stop offset=".328" stop-color="#e00"/><stop offset=".343" stop-color="#800"/><stop offset=".404" stop-color="#800"/><stop offset=".42" stop-color="#d00"/><stop offset=".45" stop-color="#f40"/><stop offset=".466" stop-color="#f00"/><stop offset=".862" stop-color="#f40"/></linearGradient>
<linearGradient id="d215" href="#vg"><stop offset=".008" stop-color="#02f"/><stop offset=".024" stop-color="#0af"/><stop offset=".056" stop-color="#0bf"/><stop offset=".088" stop-color="#2fd"/><stop offset=".136" stop-color="#ef1"/><stop offset=".152" stop-color="#fb0"/><stop offset=".264" stop-color="#e00"/><stop offset=".296" stop-color="#800"/><stop offset=".376" stop-color="#800"/><stop offset=".408" stop-color="#f00"/><stop offset=".44" stop-color="#f40"/><stop offset=".456" stop-color="#e00"/><stop offset=".856" stop-color="#f20"/></linearGradient>
<linearGradient id="d216" href="#vg"><stop offset=".008" stop-color="#03f"/><stop offset=".039" stop-color="#0df"/><stop offset=".071" stop-color="#4fb"/><stop offset=".134" stop-color="#7f8"/><stop offset=".165" stop-color="#ef1"/><stop offset=".181" stop-color="#fb0"/><stop offset=".276" stop-color="#f00"/><stop offset=".307" stop-color="#800"/><stop offset=".37" stop-color="#800"/><stop offset=".386" stop-color="#d00"/><stop offset=".417" stop-color="#f30"/><stop offset=".433" stop-color="#f10"/><stop offset=".449" stop-color="#f20"/><stop offset=".858" stop-color="#f50"/></linearGradient>
<linearGradient id="d217" href="#vg"><stop offset=".008" stop-color="#03f"/><stop offset=".039" stop-color="#0af"/><stop offset=".071" stop-color="#0af"/><stop offset=".118" stop-color="#0ff"/><stop offset=".165" stop-color="#6f9"/><stop offset=".197" stop-color="#ff0"/><stop offset=".213" stop-color="#fa0"/><stop offset=".323" stop-color="#e00"/><stop offset=".354" stop-color="#800"/><stop offset=".433" stop-color="#800"/><stop offset=".464" stop-color="#f00"/><stop offset=".496" stop-color="#f40"/><stop offset=".512" stop-color="#f00"/><stop offset=".858" stop-color="#f40"/></linearGradient>
<linearGradient id="d218" href="#vg"><stop offset=".008" stop-color="#03f"/><stop offset=".058" stop-color="#0ff"/><stop offset=".157" stop-color="#7f8"/><stop offset=".19" stop-color="#fd0"/><stop offset=".207" stop-color="#f90"/><stop offset=".306" stop-color="#e00"/><stop offset=".322" stop-color="#800"/><stop offset=".405" stop-color="#800"/><stop offset=".421" stop-color="#e00"/><stop offset=".454" stop-color="#f40"/><stop offset=".851" stop-color="#f80"/></linearGradient>
<linearGradient id="d219" href="#vg"><stop offset=".008" stop-color="#00f"/><stop offset=".076" stop-color="#06f"/><stop offset=".109" stop-color="#0ff"/><stop offset=".16" stop-color="#ff0"/><stop offset=".176" stop-color="#fb0"/><stop offset=".277" stop-color="#e00"/><stop offset=".294" stop-color="#800"/><stop offset=".361" stop-color="#800"/><stop offset=".395" stop-color="#f10"/><stop offset=".428" stop-color="#f60"/><stop offset=".849" stop-color="#fb0"/></linearGradient>
<linearGradient id="d220" href="#vg"><stop offset=".008" stop-color="#00f"/><stop offset=".025" stop-color="#04f"/><stop offset=".042" stop-color="#0cf"/><stop offset=".059" stop-color="#1fe"/><stop offset=".076" stop-color="#6f9"/><stop offset=".143" stop-color="#7f8"/><stop offset=".176" stop-color="#fe0"/><stop offset=".193" stop-color="#fa0"/><stop offset=".294" stop-color="#e00"/><stop offset=".311" stop-color="#800"/><stop offset=".395" stop-color="#800"/><stop offset=".412" stop-color="#e00"/><stop offset=".462" stop-color="#f50"/><stop offset=".849" stop-color="#f80"/></linearGradient>
<linearGradient id="d221" href="#vg"><stop offset=".009" stop-color="#00f"/><stop offset=".044" stop-color="#0bf"/><stop offset=".08" stop-color="#0ff"/><stop offset=".115" stop-color="#8f7"/><stop offset=".15" stop-color="#fc0"/><stop offset=".203" stop-color="#f60"/><stop offset=".274" stop-color="#d00"/><stop offset=".292" stop-color="#800"/><stop offset=".363" stop-color="#800"/><stop offset=".38" stop-color="#d00"/><stop offset=".416" stop-color="#f30"/><stop offset=".84" stop-color="#f70"/></linearGradient>
<linearGradient id="d222" href="#vg"><stop offset=".009" stop-color="#11f"/><stop offset=".027" stop-color="#00f"/><stop offset=".08" stop-color="#06f"/><stop offset=".115" stop-color="#0ff"/><stop offset=".15" stop-color="#df2"/><stop offset=".186" stop-color="#fb0"/><stop offset=".31" stop-color="#e00"/><stop offset=".327" stop-color="#800"/><stop offset=".416" stop-color="#800"/><stop offset=".451" stop-color="#f00"/><stop offset=".469" stop-color="#f20"/><stop offset=".487" stop-color="#f10"/><stop offset=".504" stop-color="#f20"/><stop offset=".84" stop-color="#f60"/></linearGradient>
<linearGradient id="d223" href="#vg"><stop offset=".009" stop-color="#00f"/><stop offset=".077" stop-color="#05f"/><stop offset=".128" stop-color="#2fd"/><stop offset=".162" stop-color="#ef1"/><stop offset=".248" stop-color="#f60"/><stop offset=".333" stop-color="#d00"/><stop offset=".35" stop-color="#800"/><stop offset=".436" stop-color="#800"/><stop offset=".453" stop-color="#e00"/><stop offset=".487" stop-color="#f30"/><stop offset=".504" stop-color="#f00"/><stop offset=".846" stop-color="#f40"/></linearGradient>
<linearGradient id="d224" href="#vg"><stop offset=".009" stop-color="#00f"/><stop offset=".077" stop-color="#06f"/><stop offset=".111" stop-color="#0ff"/><stop offset=".145" stop-color="#df2"/><stop offset=".162" stop-color="#fe0"/><stop offset=".282" stop-color="#e00"/><stop offset=".299" stop-color="#900"/><stop offset=".367" stop-color="#800"/><stop offset=".402" stop-color="#f10"/><stop offset=".419" stop-color="#f30"/><stop offset=".846" stop-color="#f70"/></linearGradient>
<linearGradient id="d225" href="#vg"><stop offset=".009" stop-color="#11f"/><stop offset=".026" stop-color="#00f"/><stop offset=".077" stop-color="#07f"/><stop offset=".111" stop-color="#3fc"/><stop offset=".145" stop-color="#ff0"/><stop offset=".162" stop-color="#fc0"/><stop offset=".282" stop-color="#e00"/><stop offset=".299" stop-color="#900"/><stop offset=".385" stop-color="#800"/><stop offset=".419" stop-color="#f00"/><stop offset=".436" stop-color="#f20"/><stop offset=".453" stop-color="#e00"/><stop offset=".846" stop-color="#f40"/></linearGradient>
<linearGradient id="d226" href="#vg"><stop offset=".009" stop-color="#00e"/><stop offset=".044" stop-color="#04f"/><stop offset=".08" stop-color="#0cf"/><stop offset=".097" stop-color="#4fb"/><stop offset=".115" stop-color="#cf3"/><stop offset=".133" stop-color="#fe0"/><stop offset=".15" stop-color="#fb0"/><stop offset=".239" stop-color="#e00"/><stop offset=".257" stop-color="#800"/><stop offset=".274" stop-color="#800"/><stop offset=".327" stop-color="#a00"/><stop offset=".345" stop-color="#f10"/><stop offset=".363" stop-color="#f30"/><stop offset=".38" stop-color="#e00"/><stop offset=".84" stop-color="#f30"/></linearGradient>
<linearGradient id="d227" href="#vg"><stop offset=".009" stop-color="#00f"/><stop offset=".063" stop-color="#08f"/><stop offset=".081" stop-color="#0ff"/><stop offset=".117" stop-color="#ff0"/><stop offset=".135" stop-color="#fb0"/><stop offset=".243" stop-color="#e00"/><stop offset=".261" stop-color="#800"/><stop offset=".351" stop-color="#800"/><stop offset=".369" stop-color="#f00"/><stop offset=".387" stop-color="#f20"/><stop offset=".405" stop-color="#e00"/><stop offset=".838" stop-color="#f40"/></linearGradient>
<linearGradient id="d228" href="#vg"><stop offset=".009" stop-color="#11f"/><stop offset=".027" stop-color="#00f"/><stop offset=".08" stop-color="#07f"/><stop offset=".097" stop-color="#0df"/><stop offset=".115" stop-color="#5fa"/><stop offset=".133" stop-color="#df2"/><stop offset=".15" stop-color="#fd0"/><stop offset=".257" stop-color="#e00"/><stop offset=".274" stop-color="#800"/><stop offset=".327" stop-color="#800"/><stop offset=".363" stop-color="#f10"/><stop offset=".38" stop-color="#f40"/><stop offset=".398" stop-color="#f00"/><stop offset=".84" stop-color="#f40"/></linearGradient>
<linearGradient id="d229" href="#vg"><stop offset=".009" stop-color="#00f"/><stop offset=".028" stop-color="#01f"/><stop offset=".064" stop-color="#07f"/><stop offset=".083" stop-color="#0df"/><stop offset=".119" stop-color="#ef1"/><stop offset=".156" stop-color="#f90"/><stop offset=".266" stop-color="#e00"/><stop offset=".284" stop-color="#800"/><stop offset=".376" stop-color="#800"/><stop offset=".394" stop-color="#d00"/><stop offset=".431" stop-color="#f30"/><stop offset=".449" stop-color="#e00"/><stop offset=".835" stop-color="#f40"/></linearGradient>
<linearGradient id="d230" href="#vg"><stop offset=".01" stop-color="#01f"/><stop offset=".048" stop-color="#0af"/><stop offset=".067" stop-color="#5fa"/><stop offset=".086" stop-color="#ff0"/><stop offset=".105" stop-color="#fa0"/><stop offset=".2" stop-color="#f00"/><stop offset=".238" stop-color="#800"/><stop offset=".314" stop-color="#800"/><stop offset=".333" stop-color="#d00"/><stop offset=".371" stop-color="#f30"/><stop offset=".39" stop-color="#f00"/><stop offset=".828" stop-color="#f40"/></linearGradient>
<linearGradient id="d231" href="#vg"><stop offset=".009" stop-color="#00f"/><stop offset=".047" stop-color="#04f"/><stop offset=".084" stop-color="#1fe"/><stop offset=".103" stop-color="#bf4"/><stop offset=".121" stop-color="#fd0"/><stop offset=".14" stop-color="#f90"/><stop offset=".252" stop-color="#e00"/><stop offset=".29" stop-color="#800"/><stop offset=".383" stop-color="#800"/><stop offset=".402" stop-color="#e00"/><stop offset=".439" stop-color="#f30"/><stop offset=".458" stop-color="#f10"/><stop offset=".832" stop-color="#f60"/></linearGradient>
<linearGradient id="d232" href="#vg"><stop offset=".009" stop-color="#11f"/><stop offset=".027" stop-color="#00f"/><stop offset=".08" stop-color="#06f"/><stop offset=".115" stop-color="#0ef"/><stop offset=".15" stop-color="#cf3"/><stop offset=".168" stop-color="#fe0"/><stop offset=".292" stop-color="#e00"/><stop offset=".31" stop-color="#800"/><stop offset=".38" stop-color="#800"/><stop offset=".398" stop-color="#f00"/><stop offset=".416" stop-color="#f20"/><stop offset=".434" stop-color="#d00"/><stop offset=".84" stop-color="#f20"/></linearGradient>
<linearGradient id="d233" href="#vg"><stop offset=".009" stop-color="#00f"/><stop offset=".028" stop-color="#02f"/><stop offset=".065" stop-color="#0bf"/><stop offset=".084" stop-color="#5fa"/><stop offset=".103" stop-color="#ef1"/><stop offset=".14" stop-color="#f80"/><stop offset=".252" stop-color="#e00"/><stop offset=".29" stop-color="#800"/><stop offset=".383" stop-color="#800"/><stop offset=".42" stop-color="#f00"/><stop offset=".458" stop-color="#f40"/><stop offset=".476" stop-color="#f00"/><stop offset=".832" stop-color="#f50"/></linearGradient>
<linearGradient id="d234" href="#vg"><stop offset=".01" stop-color="#00f"/><stop offset=".049" stop-color="#0af"/><stop offset=".068" stop-color="#6f9"/><stop offset=".087" stop-color="#fe0"/><stop offset=".107" stop-color="#f90"/><stop offset=".146" stop-color="#f50"/><stop offset=".223" stop-color="#d00"/><stop offset=".243" stop-color="#800"/><stop offset=".34" stop-color="#800"/><stop offset=".359" stop-color="#e00"/><stop offset=".398" stop-color="#f40"/><stop offset=".417" stop-color="#f00"/><stop offset=".825" stop-color="#f40"/></linearGradient>
<linearGradient id="d235" href="#vg"><stop offset=".009" stop-color="#11f"/><stop offset=".028" stop-color="#01f"/><stop offset=".047" stop-color="#04f"/><stop offset=".084" stop-color="#1fe"/><stop offset=".103" stop-color="#cf3"/><stop offset=".121" stop-color="#fd0"/><stop offset=".178" stop-color="#f50"/><stop offset=".252" stop-color="#d00"/><stop offset=".271" stop-color="#800"/><stop offset=".364" stop-color="#800"/><stop offset=".383" stop-color="#f00"/><stop offset=".42" stop-color="#f40"/><stop offset=".439" stop-color="#f10"/><stop offset=".832" stop-color="#f50"/></linearGradient>
<linearGradient id="d236" href="#vg"><stop offset=".009" stop-color="#00f"/><stop offset=".028" stop-color="#02f"/><stop offset=".064" stop-color="#0cf"/><stop offset=".083" stop-color="#5fa"/><stop offset=".101" stop-color="#ef1"/><stop offset=".138" stop-color="#f80"/><stop offset=".248" stop-color="#d00"/><stop offset=".266" stop-color="#800"/><stop offset=".358" stop-color="#800"/><stop offset=".394" stop-color="#f00"/><stop offset=".431" stop-color="#f40"/><stop offset=".449" stop-color="#f00"/><stop offset=".835" stop-color="#f40"/></linearGradient>
<linearGradient id="d237" href="#vg"><stop offset=".009" stop-color="#00f"/><stop offset=".028" stop-color="#01f"/><stop offset=".083" stop-color="#2fd"/><stop offset=".101" stop-color="#cf3"/><stop offset=".119" stop-color="#fd0"/><stop offset=".138" stop-color="#f90"/><stop offset=".248" stop-color="#e00"/><stop offset=".266" stop-color="#800"/><stop offset=".358" stop-color="#800"/><stop offset=".394" stop-color="#f00"/><stop offset=".413" stop-color="#f20"/><stop offset=".431" stop-color="#d00"/><stop offset=".449" stop-color="#f00"/><stop offset=".835" stop-color="#f40"/></linearGradient>
<linearGradient id="d238" href="#vg"><stop offset=".009" stop-color="#00e"/><stop offset=".028" stop-color="#02f"/><stop offset=".083" stop-color="#2fd"/><stop offset=".101" stop-color="#cf3"/><stop offset=".119" stop-color="#fd0"/><stop offset=".174" stop-color="#f60"/><stop offset=".284" stop-color="#d00"/><stop offset=".303" stop-color="#800"/><stop offset=".358" stop-color="#800"/><stop offset=".431" stop-color="#900"/><stop offset=".449" stop-color="#e00"/><stop offset=".523" stop-color="#f40"/><stop offset=".835" stop-color="#f80"/></linearGradient>
<linearGradient id="d239" href="#vg"><stop offset=".01" stop-color="#00f"/><stop offset=".048" stop-color="#07f"/><stop offset=".067" stop-color="#0ef"/><stop offset=".086" stop-color="#af5"/><stop offset=".105" stop-color="#fe0"/><stop offset=".124" stop-color="#f90"/><stop offset=".257" stop-color="#d00"/><stop offset=".276" stop-color="#800"/><stop offset=".39" stop-color="#800"/><stop offset=".409" stop-color="#e00"/><stop offset=".447" stop-color="#f30"/><stop offset=".467" stop-color="#fb0"/><stop offset=".486" stop-color="#fd0"/><stop offset=".828" stop-color="#ef1"/></linearGradient>
<linearGradient id="d240" href="#vg"><stop offset=".009" stop-color="#00f"/><stop offset=".046" stop-color="#04f"/><stop offset=".083" stop-color="#1fe"/><stop offset=".101" stop-color="#bf4"/><stop offset=".119" stop-color="#fe0"/><stop offset=".138" stop-color="#fa0"/><stop offset=".266" stop-color="#d00"/><stop offset=".284" stop-color="#800"/><stop offset=".394" stop-color="#800"/><stop offset=".413" stop-color="#e00"/><stop offset=".449" stop-color="#f30"/><stop offset=".468" stop-color="#fc0"/><stop offset=".486" stop-color="#fe0"/><stop offset=".835" stop-color="#cf3"/></linearGradient>
<linearGradient id="d241" href="#vg"><stop offset=".009" stop-color="#00e"/><stop offset=".027" stop-color="#02f"/><stop offset=".081" stop-color="#1fe"/><stop offset=".099" stop-color="#bf4"/><stop offset=".117" stop-color="#fe0"/><stop offset=".135" stop-color="#fa0"/><stop offset=".279" stop-color="#e00"/><stop offset=".315" stop-color="#800"/><stop offset=".441" stop-color="#800"/><stop offset=".477" stop-color="#e00"/><stop offset=".531" stop-color="#f40"/><stop offset=".549" stop-color="#fb0"/><stop offset=".838" stop-color="#ff0"/></linearGradient>
<linearGradient id="d242" href="#vg"><stop offset=".009" stop-color="#00f"/><stop offset=".047" stop-color="#09f"/><stop offset=".065" stop-color="#4fb"/><stop offset=".084" stop-color="#ff0"/><stop offset=".103" stop-color="#fa0"/><stop offset=".215" stop-color="#e00"/><stop offset=".252" stop-color="#800"/><stop offset=".346" stop-color="#800"/><stop offset=".364" stop-color="#e00"/><stop offset=".402" stop-color="#f30"/><stop offset=".42" stop-color="#fc0"/><stop offset=".439" stop-color="#fd0"/><stop offset=".832" stop-color="#ef1"/></linearGradient>
<linearGradient id="d243" href="#vg"><stop offset=".009" stop-color="#00f"/><stop offset=".045" stop-color="#06f"/><stop offset=".063" stop-color="#0df"/><stop offset=".099" stop-color="#fe0"/><stop offset=".117" stop-color="#fa0"/><stop offset=".261" stop-color="#e00"/><stop offset=".279" stop-color="#900"/><stop offset=".405" stop-color="#800"/><stop offset=".441" stop-color="#e00"/><stop offset=".495" stop-color="#f40"/><stop offset=".513" stop-color="#fc0"/><stop offset=".838" stop-color="#ef1"/></linearGradient>
<linearGradient id="d244" href="#vg"><stop offset=".009" stop-color="#00f"/><stop offset=".046" stop-color="#07f"/><stop offset=".064" stop-color="#2fd"/><stop offset=".083" stop-color="#ef1"/><stop offset=".119" stop-color="#f70"/><stop offset=".229" stop-color="#d00"/><stop offset=".248" stop-color="#800"/><stop offset=".358" stop-color="#900"/><stop offset=".376" stop-color="#e00"/><stop offset=".413" stop-color="#f30"/><stop offset=".431" stop-color="#fd0"/><stop offset=".449" stop-color="#fe0"/><stop offset=".835" stop-color="#df2"/></linearGradient>
<linearGradient id="d245" href="#vg"><stop offset=".009" stop-color="#11f"/><stop offset=".027" stop-color="#00f"/><stop offset=".063" stop-color="#07f"/><stop offset=".081" stop-color="#0ff"/><stop offset=".099" stop-color="#af5"/><stop offset=".117" stop-color="#fe0"/><stop offset=".135" stop-color="#fa0"/><stop offset=".261" stop-color="#d00"/><stop offset=".279" stop-color="#800"/><stop offset=".387" stop-color="#800"/><stop offset=".405" stop-color="#d00"/><stop offset=".459" stop-color="#f40"/><stop offset=".477" stop-color="#bf4"/><stop offset=".838" stop-color="#7f8"/></linearGradient>
<linearGradient id="d246" href="#vg"><stop offset=".009" stop-color="#11f"/><stop offset=".028" stop-color="#01f"/><stop offset=".064" stop-color="#0af"/><stop offset=".083" stop-color="#4fb"/><stop offset=".101" stop-color="#ef1"/><stop offset=".138" stop-color="#f80"/><stop offset=".248" stop-color="#e00"/><stop offset=".284" stop-color="#800"/><stop offset=".394" stop-color="#800"/><stop offset=".413" stop-color="#e00"/><stop offset=".449" stop-color="#f20"/><stop offset=".468" stop-color="#cf3"/><stop offset=".486" stop-color="#af5"/><stop offset=".835" stop-color="#6f9"/></linearGradient>
<linearGradient id="d247" href="#vg"><stop offset=".009" stop-color="#11f"/><stop offset=".027" stop-color="#01f"/><stop offset=".063" stop-color="#07f"/><stop offset=".081" stop-color="#0ef"/><stop offset=".117" stop-color="#ff0"/><stop offset=".153" stop-color="#f80"/><stop offset=".243" stop-color="#f00"/><stop offset=".279" stop-color="#800"/><stop offset=".369" stop-color="#800"/><stop offset=".387" stop-color="#e00"/><stop offset=".423" stop-color="#f40"/><stop offset=".441" stop-color="#cf3"/><stop offset=".838" stop-color="#8f7"/></linearGradient>
<linearGradient id="d248" href="#vg"><stop offset=".009" stop-color="#11f"/><stop offset=".028" stop-color="#01f"/><stop offset=".064" stop-color="#09f"/><stop offset=".083" stop-color="#3fc"/><stop offset=".101" stop-color="#ef1"/><stop offset=".138" stop-color="#f70"/><stop offset=".229" stop-color="#f00"/><stop offset=".266" stop-color="#800"/><stop offset=".358" stop-color="#800"/><stop offset=".376" stop-color="#e00"/><stop offset=".413" stop-color="#f30"/><stop offset=".431" stop-color="#ef1"/><stop offset=".835" stop-color="#af5"/></linearGradient>
<linearGradient id="d249" href="#vg"><stop offset=".009" stop-color="#11f"/><stop offset=".027" stop-color="#00f"/><stop offset=".044" stop-color="#03f"/><stop offset=".097" stop-color="#1fe"/><stop offset=".115" stop-color="#af5"/><stop offset=".133" stop-color="#fe0"/><stop offset=".168" stop-color="#f80"/><stop offset=".292" stop-color="#e00"/><stop offset=".31" stop-color="#800"/><stop offset=".434" stop-color="#800"/><stop offset=".451" stop-color="#e00"/><stop offset=".487" stop-color="#f30"/><stop offset=".504" stop-color="#df2"/><stop offset=".522" stop-color="#bf4"/><stop offset=".84" stop-color="#8f7"/></linearGradient>
<linearGradient id="d250" href="#vg"><stop offset=".009" stop-color="#00f"/><stop offset=".047" stop-color="#0af"/><stop offset=".065" stop-color="#6f9"/><stop offset=".084" stop-color="#fe0"/><stop offset=".103" stop-color="#f90"/><stop offset=".234" stop-color="#e00"/><stop offset=".252" stop-color="#800"/><stop offset=".308" stop-color="#800"/><stop offset=".383" stop-color="#900"/><stop offset=".402" stop-color="#e00"/><stop offset=".439" stop-color="#f30"/><stop offset=".458" stop-color="#ef1"/><stop offset=".476" stop-color="#cf3"/><stop offset=".832" stop-color="#9f6"/></linearGradient>
<linearGradient id="d251" href="#vg"><stop offset=".009" stop-color="#11f"/><stop offset=".028" stop-color="#01f"/><stop offset=".064" stop-color="#07f"/><stop offset=".083" stop-color="#0ff"/><stop offset=".101" stop-color="#9f6"/><stop offset=".119" stop-color="#fe0"/><stop offset=".156" stop-color="#f80"/><stop offset=".266" stop-color="#d00"/><stop offset=".284" stop-color="#800"/><stop offset=".394" stop-color="#800"/><stop offset=".413" stop-color="#e00"/><stop offset=".449" stop-color="#f30"/><stop offset=".468" stop-color="#cf3"/><stop offset=".835" stop-color="#7f8"/></linearGradient>
<linearGradient id="d252" href="#vg"><stop offset=".009" stop-color="#00f"/><stop offset=".047" stop-color="#06f"/><stop offset=".065" stop-color="#0df"/><stop offset=".084" stop-color="#9f6"/><stop offset=".103" stop-color="#fe0"/><stop offset=".121" stop-color="#f90"/><stop offset=".234" stop-color="#e00"/><stop offset=".252" stop-color="#900"/><stop offset=".364" stop-color="#800"/><stop offset=".383" stop-color="#e00"/><stop offset=".42" stop-color="#f30"/><stop offset=".439" stop-color="#fd0"/><stop offset=".458" stop-color="#fe0"/><stop offset=".832" stop-color="#df2"/></linearGradient>
<linearGradient id="d253" href="#vg"><stop offset=".009" stop-color="#11f"/><stop offset=".027" stop-color="#00f"/><stop offset=".045" stop-color="#03f"/><stop offset=".081" stop-color="#0bf"/><stop offset=".099" stop-color="#4fb"/><stop offset=".117" stop-color="#df2"/><stop offset=".153" stop-color="#f90"/><stop offset=".261" stop-color="#f00"/><stop offset=".315" stop-color="#800"/><stop offset=".423" stop-color="#800"/><stop offset=".441" stop-color="#e00"/><stop offset=".477" stop-color="#f30"/><stop offset=".495" stop-color="#fa0"/><stop offset=".513" stop-color="#fc0"/><stop offset=".838" stop-color="#ff0"/></linearGradient>
<linearGradient id="d254" href="#vg"><stop offset=".009" stop-color="#11f"/><stop offset=".028" stop-color="#01f"/><stop offset=".065" stop-color="#0af"/><stop offset=".084" stop-color="#4fb"/><stop offset=".103" stop-color="#ff0"/><stop offset=".14" stop-color="#f80"/><stop offset=".252" stop-color="#d00"/><stop offset=".271" stop-color="#800"/><stop offset=".364" stop-color="#800"/><stop offset=".402" stop-color="#f00"/><stop offset=".439" stop-color="#f40"/><stop offset=".458" stop-color="#f90"/><stop offset=".832" stop-color="#fd0"/></linearGradient>
<linearGradient id="d255" href="#vg"><stop offset=".009" stop-color="#11f"/><stop offset=".028" stop-color="#01f"/><stop offset=".064" stop-color="#0bf"/><stop offset=".083" stop-color="#6f9"/><stop offset=".101" stop-color="#ff0"/><stop offset=".119" stop-color="#fa0"/><stop offset=".229" stop-color="#e00"/><stop offset=".266" stop-color="#800"/><stop offset=".358" stop-color="#800"/><stop offset=".376" stop-color="#d00"/><stop offset=".413" stop-color="#f30"/><stop offset=".431" stop-color="#f90"/><stop offset=".449" stop-color="#fa0"/><stop offset=".835" stop-color="#fe0"/></linearGradient>
<linearGradient id="d256" href="#vg"><stop offset=".009" stop-color="#00f"/><stop offset=".047" stop-color="#07f"/><stop offset=".065" stop-color="#1fe"/><stop offset=".084" stop-color="#cf3"/><stop offset=".103" stop-color="#fc0"/><stop offset=".121" stop-color="#f80"/><stop offset=".252" stop-color="#e00"/><stop offset=".271" stop-color="#900"/><stop offset=".402" stop-color="#800"/><stop offset=".42" stop-color="#d00"/><stop offset=".476" stop-color="#f40"/><stop offset=".495" stop-color="#f90"/><stop offset=".832" stop-color="#fd0"/></linearGradient>
<linearGradient id="d257" href="#vg"><stop offset=".009" stop-color="#00e"/><stop offset=".047" stop-color="#08f"/><stop offset=".065" stop-color="#4fb"/><stop offset=".084" stop-color="#ff0"/><stop offset=".103" stop-color="#fa0"/><stop offset=".234" stop-color="#d00"/><stop offset=".252" stop-color="#800"/><stop offset=".364" stop-color="#800"/><stop offset=".402" stop-color="#f00"/><stop offset=".439" stop-color="#f30"/><stop offset=".458" stop-color="#fa0"/><stop offset=".832" stop-color="#fe0"/></linearGradient>
<linearGradient id="d258" href="#vg"><stop offset=".009" stop-color="#11f"/><stop offset=".027" stop-color="#00f"/><stop offset=".045" stop-color="#03f"/><stop offset=".081" stop-color="#0cf"/><stop offset=".099" stop-color="#5fa"/><stop offset=".117" stop-color="#ef1"/><stop offset=".153" stop-color="#f80"/><stop offset=".261" stop-color="#f00"/><stop offset=".315" stop-color="#800"/><stop offset=".423" stop-color="#800"/><stop offset=".441" stop-color="#d00"/><stop offset=".459" stop-color="#f00"/><stop offset=".495" stop-color="#f30"/><stop offset=".513" stop-color="#fb0"/><stop offset=".838" stop-color="#ff0"/></linearGradient>
<linearGradient id="d259" href="#vg"><stop offset=".009" stop-color="#00e"/><stop offset=".046" stop-color="#08f"/><stop offset=".064" stop-color="#4fb"/><stop offset=".083" stop-color="#ff0"/><stop offset=".101" stop-color="#fa0"/><stop offset=".211" stop-color="#f00"/><stop offset=".266" stop-color="#800"/><stop offset=".376" stop-color="#800"/><stop offset=".394" stop-color="#e00"/><stop offset=".449" stop-color="#f40"/><stop offset=".468" stop-color="#f80"/><stop offset=".835" stop-color="#fc0"/></linearGradient>
<linearGradient id="d260" href="#vg"><stop offset=".009" stop-color="#00f"/><stop offset=".027" stop-color="#02f"/><stop offset=".063" stop-color="#0af"/><stop offset=".081" stop-color="#4fb"/><stop offset=".099" stop-color="#ef1"/><stop offset=".135" stop-color="#f80"/><stop offset=".243" stop-color="#e00"/><stop offset=".279" stop-color="#800"/><stop offset=".369" stop-color="#800"/><stop offset=".405" stop-color="#f00"/><stop offset=".459" stop-color="#f50"/><stop offset=".838" stop-color="#f90"/></linearGradient>
<linearGradient id="d261" href="#vg"><stop offset=".009" stop-color="#00f"/><stop offset=".028" stop-color="#01f"/><stop offset=".064" stop-color="#0bf"/><stop offset=".083" stop-color="#6f9"/><stop offset=".101" stop-color="#ff0"/><stop offset=".138" stop-color="#f80"/><stop offset=".266" stop-color="#d00"/><stop offset=".284" stop-color="#800"/><stop offset=".413" stop-color="#800"/><stop offset=".431" stop-color="#d00"/><stop offset=".504" stop-color="#f50"/><stop offset=".835" stop-color="#fa0"/></linearGradient>
<linearGradient id="d262" href="#vg"><stop offset=".009" stop-color="#00e"/><stop offset=".062" stop-color="#06f"/><stop offset=".097" stop-color="#0ef"/><stop offset=".133" stop-color="#df2"/><stop offset=".168" stop-color="#fb0"/><stop offset=".292" stop-color="#e00"/><stop offset=".31" stop-color="#900"/><stop offset=".416" stop-color="#800"/><stop offset=".434" stop-color="#e00"/><stop offset=".469" stop-color="#f30"/><stop offset=".84" stop-color="#f80"/></linearGradient>
<linearGradient id="d263" href="#vg"><stop offset=".009" stop-color="#00f"/><stop offset=".028" stop-color="#01f"/><stop offset=".065" stop-color="#08f"/><stop offset=".084" stop-color="#0ff"/><stop offset=".103" stop-color="#af5"/><stop offset=".121" stop-color="#fe0"/><stop offset=".14" stop-color="#fa0"/><stop offset=".252" stop-color="#e00"/><stop offset=".271" stop-color="#800"/><stop offset=".364" stop-color="#800"/><stop offset=".383" stop-color="#e00"/><stop offset=".42" stop-color="#f30"/><stop offset=".439" stop-color="#f10"/><stop offset=".832" stop-color="#f60"/></linearGradient>
<linearGradient id="d264" href="#vg"><stop offset=".009" stop-color="#11f"/><stop offset=".028" stop-color="#01f"/><stop offset=".046" stop-color="#06f"/><stop offset=".064" stop-color="#0ef"/><stop offset=".083" stop-color="#bf4"/><stop offset=".101" stop-color="#fc0"/><stop offset=".138" stop-color="#f60"/><stop offset=".229" stop-color="#d00"/><stop offset=".248" stop-color="#800"/><stop offset=".339" stop-color="#800"/><stop offset=".358" stop-color="#d00"/><stop offset=".376" stop-color="#f10"/><stop offset=".431" stop-color="#f30"/><stop offset=".835" stop-color="#f70"/></linearGradient>
<linearGradient id="d265" href="#vg"><stop offset=".009" stop-color="#01f"/><stop offset=".027" stop-color="#05f"/><stop offset=".045" stop-color="#0bf"/><stop offset=".063" stop-color="#8f7"/><stop offset=".081" stop-color="#fd0"/><stop offset=".099" stop-color="#f80"/><stop offset=".225" stop-color="#e00"/><stop offset=".243" stop-color="#800"/><stop offset=".369" stop-color="#800"/><stop offset=".387" stop-color="#e00"/><stop offset=".441" stop-color="#f40"/><stop offset=".459" stop-color="#f30"/><stop offset=".838" stop-color="#f70"/></linearGradient>
<linearGradient id="d266" href="#vg"><stop offset=".009" stop-color="#11f"/><stop offset=".027" stop-color="#01f"/><stop offset=".063" stop-color="#0af"/><stop offset=".081" stop-color="#5fa"/><stop offset=".099" stop-color="#ff0"/><stop offset=".117" stop-color="#fa0"/><stop offset=".225" stop-color="#e00"/><stop offset=".261" stop-color="#800"/><stop offset=".351" stop-color="#800"/><stop offset=".369" stop-color="#e00"/><stop offset=".405" stop-color="#f40"/><stop offset=".423" stop-color="#f20"/><stop offset=".838" stop-color="#f60"/></linearGradient>
<linearGradient id="d267" href="#vg"><stop offset=".009" stop-color="#00f"/><stop offset=".046" stop-color="#07f"/><stop offset=".064" stop-color="#1fe"/><stop offset=".083" stop-color="#ef1"/><stop offset=".119" stop-color="#f70"/><stop offset=".211" stop-color="#e00"/><stop offset=".229" stop-color="#800"/><stop offset=".321" stop-color="#800"/><stop offset=".358" stop-color="#f00"/><stop offset=".394" stop-color="#f40"/><stop offset=".413" stop-color="#f20"/><stop offset=".835" stop-color="#f60"/></linearGradient>
<linearGradient id="d268" href="#vg"><stop offset=".009" stop-color="#11f"/><stop offset=".026" stop-color="#01f"/><stop offset=".061" stop-color="#0cf"/><stop offset=".078" stop-color="#8f7"/><stop offset=".096" stop-color="#fe0"/><stop offset=".113" stop-color="#f90"/><stop offset=".235" stop-color="#d00"/><stop offset=".252" stop-color="#800"/><stop offset=".356" stop-color="#800"/><stop offset=".374" stop-color="#e00"/><stop offset=".443" stop-color="#f30"/><stop offset=".843" stop-color="#f70"/></linearGradient>
<linearGradient id="d269" href="#vg"><stop offset=".008" stop-color="#11f"/><stop offset=".025" stop-color="#01f"/><stop offset=".042" stop-color="#04f"/><stop offset=".076" stop-color="#2fd"/><stop offset=".092" stop-color="#ef1"/><stop offset=".126" stop-color="#f80"/><stop offset=".227" stop-color="#d00"/><stop offset=".244" stop-color="#800"/><stop offset=".328" stop-color="#800"/><stop offset=".361" stop-color="#f00"/><stop offset=".395" stop-color="#f40"/><stop offset=".849" stop-color="#f70"/></linearGradient>
<linearGradient id="d270" href="#vg"><stop offset=".008" stop-color="#00f"/><stop offset=".025" stop-color="#01f"/><stop offset=".058" stop-color="#07f"/><stop offset=".074" stop-color="#0df"/><stop offset=".107" stop-color="#ef1"/><stop offset=".14" stop-color="#f90"/><stop offset=".24" stop-color="#e00"/><stop offset=".256" stop-color="#800"/><stop offset=".355" stop-color="#800"/><stop offset=".372" stop-color="#e00"/><stop offset=".438" stop-color="#f40"/><stop offset=".851" stop-color="#f70"/></linearGradient>
<linearGradient id="d271" href="#vg"><stop offset=".009" stop-color="#00e"/><stop offset=".043" stop-color="#07f"/><stop offset=".06" stop-color="#1fe"/><stop offset=".077" stop-color="#df2"/><stop offset=".111" stop-color="#f70"/><stop offset=".214" stop-color="#e00"/><stop offset=".231" stop-color="#800"/><stop offset=".333" stop-color="#800"/><stop offset=".35" stop-color="#e00"/><stop offset=".385" stop-color="#f30"/><stop offset=".402" stop-color="#fb0"/><stop offset=".419" stop-color="#fd0"/><stop offset=".846" stop-color="#df2"/></linearGradient>
<linearGradient id="d272" href="#vg"><stop offset=".008" stop-color="#00f"/><stop offset=".056" stop-color="#08f"/><stop offset=".072" stop-color="#0ef"/><stop offset=".104" stop-color="#ef1"/><stop offset=".168" stop-color="#f60"/><stop offset=".248" stop-color="#d00"/><stop offset=".264" stop-color="#800"/><stop offset=".344" stop-color="#800"/><stop offset=".376" stop-color="#f00"/><stop offset=".408" stop-color="#f30"/><stop offset=".424" stop-color="#fb0"/><stop offset=".856" stop-color="#ef1"/></linearGradient>
<linearGradient id="d273" href="#vg"><stop offset=".008" stop-color="#00f"/><stop offset=".055" stop-color="#06f"/><stop offset=".087" stop-color="#3fc"/><stop offset=".102" stop-color="#bf4"/><stop offset=".118" stop-color="#fe0"/><stop offset=".15" stop-color="#f80"/><stop offset=".26" stop-color="#d00"/><stop offset=".276" stop-color="#800"/><stop offset=".291" stop-color="#800"/><stop offset=".386" stop-color="#900"/><stop offset=".401" stop-color="#e00"/><stop offset=".433" stop-color="#f30"/><stop offset=".449" stop-color="#fd0"/><stop offset=".464" stop-color="#fe0"/><stop offset=".858" stop-color="#cf3"/></linearGradient>
<linearGradient id="d274" href="#vg"><stop offset=".008" stop-color="#00f"/><stop offset=".056" stop-color="#08f"/><stop offset=".072" stop-color="#0ff"/><stop offset=".104" stop-color="#ff0"/><stop offset=".136" stop-color="#f80"/><stop offset=".232" stop-color="#e00"/><stop offset=".264" stop-color="#800"/><stop offset=".36" stop-color="#800"/><stop offset=".376" stop-color="#e00"/><stop offset=".408" stop-color="#f30"/><stop offset=".424" stop-color="#fc0"/><stop offset=".44" stop-color="#fe0"/><stop offset=".856" stop-color="#df2"/></linearGradient>
<linearGradient id="d275" href="#vg"><stop offset=".008" stop-color="#11f"/><stop offset=".024" stop-color="#01f"/><stop offset=".041" stop-color="#04f"/><stop offset=".073" stop-color="#1fe"/><stop offset=".089" stop-color="#cf3"/><stop offset=".106" stop-color="#fd0"/><stop offset=".122" stop-color="#f90"/><stop offset=".252" stop-color="#d00"/><stop offset=".268" stop-color="#800"/><stop offset=".382" stop-color="#800"/><stop offset=".415" stop-color="#f00"/><stop offset=".447" stop-color="#f30"/><stop offset=".463" stop-color="#fc0"/><stop offset=".48" stop-color="#fd0"/><stop offset=".853" stop-color="#df2"/></linearGradient>
<linearGradient id="d276" href="#vg"><stop offset=".008" stop-color="#11f"/><stop offset=".024" stop-color="#00f"/><stop offset=".073" stop-color="#07f"/><stop offset=".089" stop-color="#0df"/><stop offset=".106" stop-color="#4fb"/><stop offset=".122" stop-color="#bf4"/><stop offset=".138" stop-color="#fe0"/><stop offset=".154" stop-color="#fb0"/><stop offset=".268" stop-color="#e00"/><stop offset=".301" stop-color="#800"/><stop offset=".382" stop-color="#800"/><stop offset=".398" stop-color="#d00"/><stop offset=".431" stop-color="#f30"/><stop offset=".447" stop-color="#fc0"/><stop offset=".463" stop-color="#fe0"/><stop offset=".853" stop-color="#df2"/></linearGradient>
<linearGradient id="d277" href="#vg"><stop offset=".008" stop-color="#00f"/><stop offset=".057" stop-color="#08f"/><stop offset=".073" stop-color="#0ef"/><stop offset=".106" stop-color="#ff0"/><stop offset=".138" stop-color="#f90"/><stop offset=".252" stop-color="#e00"/><stop offset=".268" stop-color="#900"/><stop offset=".284" stop-color="#800"/><stop offset=".382" stop-color="#900"/><stop offset=".398" stop-color="#e00"/><stop offset=".431" stop-color="#f30"/><stop offset=".447" stop-color="#fd0"/><stop offset=".463" stop-color="#fe0"/><stop offset=".853" stop-color="#cf3"/></linearGradient>
<linearGradient id="d278" href="#vg"><stop offset=".008" stop-color="#00e"/><stop offset=".041" stop-color="#08f"/><stop offset=".057" stop-color="#3fc"/><stop offset=".073" stop-color="#ff0"/><stop offset=".089" stop-color="#fa0"/><stop offset=".203" stop-color="#e00"/><stop offset=".236" stop-color="#800"/><stop offset=".333" stop-color="#800"/><stop offset=".35" stop-color="#d00"/><stop offset=".398" stop-color="#f40"/><stop offset=".415" stop-color="#fb0"/><stop offset=".853" stop-color="#ff0"/></linearGradient>
<linearGradient id="d279" href="#vg"><stop offset=".008" stop-color="#00f"/><stop offset=".04" stop-color="#07f"/><stop offset=".056" stop-color="#2fd"/><stop offset=".072" stop-color="#ef1"/><stop offset=".104" stop-color="#f70"/><stop offset=".2" stop-color="#e00"/><stop offset=".232" stop-color="#800"/><stop offset=".328" stop-color="#800"/><stop offset=".36" stop-color="#f00"/><stop offset=".392" stop-color="#f30"/><stop offset=".408" stop-color="#fe0"/><stop offset=".856" stop-color="#cf3"/></linearGradient>
<linearGradient id="d280" href="#vg"><stop offset=".009" stop-color="#01f"/><stop offset=".043" stop-color="#09f"/><stop offset=".061" stop-color="#3fc"/><stop offset=".078" stop-color="#ef1"/><stop offset=".113" stop-color="#f80"/><stop offset=".217" stop-color="#d00"/><stop offset=".235" stop-color="#800"/><stop offset=".322" stop-color="#800"/><stop offset=".339" stop-color="#d00"/><stop offset=".374" stop-color="#f20"/><stop offset=".391" stop-color="#fd0"/><stop offset=".409" stop-color="#ff0"/><stop offset=".843" stop-color="#cf3"/></linearGradient>
<linearGradient id="d281" href="#vg"><stop offset=".009" stop-color="#00e"/><stop offset=".044" stop-color="#08f"/><stop offset=".062" stop-color="#3fc"/><stop offset=".08" stop-color="#ff0"/><stop offset=".097" stop-color="#fa0"/><stop offset=".221" stop-color="#e00"/><stop offset=".257" stop-color="#800"/><stop offset=".363" stop-color="#800"/><stop offset=".38" stop-color="#d00"/><stop offset=".434" stop-color="#f40"/><stop offset=".451" stop-color="#fb0"/><stop offset=".84" stop-color="#ef1"/></linearGradient>
<linearGradient id="d282" href="#vg"><stop offset=".009" stop-color="#00e"/><stop offset=".047" stop-color="#07f"/><stop offset=".065" stop-color="#3fc"/><stop offset=".084" stop-color="#ff0"/><stop offset=".103" stop-color="#fa0"/><stop offset=".215" stop-color="#f00"/><stop offset=".252" stop-color="#800"/><stop offset=".346" stop-color="#800"/><stop offset=".383" stop-color="#f00"/><stop offset=".42" stop-color="#f40"/><stop offset=".439" stop-color="#fd0"/><stop offset=".832" stop-color="#df2"/></linearGradient>
<linearGradient id="d283" href="#vg"><stop offset=".009" stop-color="#11f"/><stop offset=".028" stop-color="#02f"/><stop offset=".047" stop-color="#06f"/><stop offset=".065" stop-color="#0ef"/><stop offset=".084" stop-color="#cf3"/><stop offset=".103" stop-color="#fc0"/><stop offset=".121" stop-color="#f70"/><stop offset=".234" stop-color="#e00"/><stop offset=".271" stop-color="#800"/><stop offset=".383" stop-color="#800"/><stop offset=".402" stop-color="#d00"/><stop offset=".458" stop-color="#f40"/><stop offset=".476" stop-color="#f90"/><stop offset=".832" stop-color="#fd0"/></linearGradient>
<linearGradient id="d284" href="#vg"><stop offset=".01" stop-color="#01f"/><stop offset=".03" stop-color="#05f"/><stop offset=".049" stop-color="#0df"/><stop offset=".069" stop-color="#af5"/><stop offset=".089" stop-color="#fc0"/><stop offset=".109" stop-color="#f80"/><stop offset=".208" stop-color="#e00"/><stop offset=".228" stop-color="#800"/><stop offset=".327" stop-color="#800"/><stop offset=".346" stop-color="#e00"/><stop offset=".386" stop-color="#f40"/><stop offset=".406" stop-color="#fb0"/><stop offset=".822" stop-color="#ff0"/></linearGradient>
<linearGradient id="d285" href="#vg"><stop offset=".01" stop-color="#00f"/><stop offset=".05" stop-color="#0af"/><stop offset=".071" stop-color="#6f9"/><stop offset=".091" stop-color="#fe0"/><stop offset=".111" stop-color="#f90"/><stop offset=".232" stop-color="#d00"/><stop offset=".252" stop-color="#800"/><stop offset=".353" stop-color="#800"/><stop offset=".374" stop-color="#d00"/><stop offset=".414" stop-color="#f30"/><stop offset=".434" stop-color="#f80"/><stop offset=".454" stop-color="#fa0"/><stop offset=".818" stop-color="#fd0"/></linearGradient>
<linearGradient id="d286" href="#vg"><stop offset=".01" stop-color="#11f"/><stop offset=".029" stop-color="#01f"/><stop offset=".068" stop-color="#0af"/><stop offset=".087" stop-color="#4fb"/><stop offset=".107" stop-color="#ef1"/><stop offset=".146" stop-color="#f80"/><stop offset=".243" stop-color="#f00"/><stop offset=".281" stop-color="#800"/><stop offset=".379" stop-color="#800"/><stop offset=".398" stop-color="#e00"/><stop offset=".437" stop-color="#f30"/><stop offset=".456" stop-color="#f90"/><stop offset=".825" stop-color="#fe0"/></linearGradient>
<linearGradient id="d287" href="#vg"><stop offset=".01" stop-color="#01f"/><stop offset=".03" stop-color="#05f"/><stop offset=".05" stop-color="#0df"/><stop offset=".071" stop-color="#af5"/><stop offset=".091" stop-color="#fc0"/><stop offset=".111" stop-color="#f70"/><stop offset=".232" stop-color="#d00"/><stop offset=".252" stop-color="#800"/><stop offset=".353" stop-color="#800"/><stop offset=".374" stop-color="#d00"/><stop offset=".414" stop-color="#f20"/><stop offset=".434" stop-color="#fa0"/><stop offset=".454" stop-color="#fc0"/><stop offset=".818" stop-color="#ff0"/></linearGradient>
<linearGradient id="d288" href="#vg"><stop offset=".01" stop-color="#00f"/><stop offset=".03" stop-color="#02f"/><stop offset=".071" stop-color="#0bf"/><stop offset=".091" stop-color="#4fb"/><stop offset=".111" stop-color="#ef1"/><stop offset=".151" stop-color="#f90"/><stop offset=".273" stop-color="#d00"/><stop offset=".293" stop-color="#800"/><stop offset=".394" stop-color="#800"/><stop offset=".414" stop-color="#d00"/><stop offset=".454" stop-color="#f30"/><stop offset=".475" stop-color="#f80"/><stop offset=".818" stop-color="#fd0"/></linearGradient>
<linearGradient id="d289" href="#vg"><stop offset=".01" stop-color="#01f"/><stop offset=".031" stop-color="#05f"/><stop offset=".052" stop-color="#0cf"/><stop offset=".072" stop-color="#af5"/><stop offset=".093" stop-color="#fc0"/><stop offset=".113" stop-color="#f80"/><stop offset=".237" stop-color="#d00"/><stop offset=".258" stop-color="#800"/><stop offset=".381" stop-color="#900"/><stop offset=".402" stop-color="#e00"/><stop offset=".443" stop-color="#f30"/><stop offset=".464" stop-color="#fa0"/><stop offset=".814" stop-color="#fe0"/></linearGradient>
<linearGradient id="d290" href="#vg"><stop offset=".01" stop-color="#00f"/><stop offset=".05" stop-color="#06f"/><stop offset=".071" stop-color="#0df"/><stop offset=".091" stop-color="#9f6"/><stop offset=".111" stop-color="#fe0"/><stop offset=".131" stop-color="#f90"/><stop offset=".252" stop-color="#e00"/><stop offset=".273" stop-color="#800"/><stop offset=".374" stop-color="#800"/><stop offset=".394" stop-color="#d00"/><stop offset=".434" stop-color="#f30"/><stop offset=".454" stop-color="#f80"/><stop offset=".475" stop-color="#fa0"/><stop offset=".818" stop-color="#fd0"/></linearGradient>
<linearGradient id="d291" href="#vg"><stop offset=".01" stop-color="#00f"/><stop offset=".049" stop-color="#07f"/><stop offset=".069" stop-color="#2fd"/><stop offset=".089" stop-color="#ff0"/><stop offset=".109" stop-color="#fa0"/><stop offset=".228" stop-color="#e00"/><stop offset=".247" stop-color="#900"/><stop offset=".366" stop-color="#900"/><stop offset=".386" stop-color="#f00"/><stop offset=".426" stop-color="#f40"/><stop offset=".445" stop-color="#fb0"/><stop offset=".822" stop-color="#ff0"/></linearGradient>
<linearGradient id="d292" href="#vg"><stop offset=".01" stop-color="#11f"/><stop offset=".029" stop-color="#01f"/><stop offset=".048" stop-color="#06f"/><stop offset=".067" stop-color="#0ef"/><stop offset=".086" stop-color="#cf3"/><stop offset=".124" stop-color="#f80"/><stop offset=".257" stop-color="#d00"/><stop offset=".276" stop-color="#800"/><stop offset=".409" stop-color="#800"/><stop offset=".428" stop-color="#d00"/><stop offset=".486" stop-color="#f30"/><stop offset=".505" stop-color="#fb0"/><stop offset=".828" stop-color="#ff0"/></linearGradient>
<linearGradient id="d293" href="#vg"><stop offset=".01" stop-color="#00f"/><stop offset=".049" stop-color="#08f"/><stop offset=".068" stop-color="#4fb"/><stop offset=".087" stop-color="#ff0"/><stop offset=".107" stop-color="#fa0"/><stop offset=".146" stop-color="#f60"/><stop offset=".243" stop-color="#d00"/><stop offset=".262" stop-color="#800"/><stop offset=".379" stop-color="#900"/><stop offset=".398" stop-color="#e00"/><stop offset=".437" stop-color="#f30"/><stop offset=".456" stop-color="#f80"/><stop offset=".825" stop-color="#fd0"/></linearGradient>
<linearGradient id="d294" href="#vg"><stop offset=".01" stop-color="#00f"/><stop offset=".049" stop-color="#08f"/><stop offset=".069" stop-color="#4fb"/><stop offset=".089" stop-color="#ff0"/><stop offset=".129" stop-color="#f70"/><stop offset=".228" stop-color="#d00"/><stop offset=".247" stop-color="#800"/><stop offset=".346" stop-color="#800"/><stop offset=".366" stop-color="#e00"/><stop offset=".406" stop-color="#f30"/><stop offset=".426" stop-color="#fa0"/><stop offset=".822" stop-color="#fe0"/></linearGradient>
<linearGradient id="d295" href="#vg"><stop offset=".01" stop-color="#00f"/><stop offset=".03" stop-color="#01f"/><stop offset=".069" stop-color="#0cf"/><stop offset=".089" stop-color="#7f8"/><stop offset=".109" stop-color="#fe0"/><stop offset=".148" stop-color="#f70"/><stop offset=".267" stop-color="#d00"/><stop offset=".287" stop-color="#800"/><stop offset=".406" stop-color="#800"/><stop offset=".426" stop-color="#e00"/><stop offset=".465" stop-color="#f30"/><stop offset=".485" stop-color="#fa0"/><stop offset=".505" stop-color="#fc0"/><stop offset=".822" stop-color="#ff0"/></linearGradient>
<linearGradient id="d296" href="#vg"><stop offset=".01" stop-color="#00f"/><stop offset=".049" stop-color="#0af"/><stop offset=".069" stop-color="#6f9"/><stop offset=".089" stop-color="#fe0"/><stop offset=".109" stop-color="#f90"/><stop offset=".228" stop-color="#e00"/><stop offset=".267" stop-color="#800"/><stop offset=".366" stop-color="#800"/><stop offset=".386" stop-color="#d00"/><stop offset=".426" stop-color="#f30"/><stop offset=".445" stop-color="#f80"/><stop offset=".465" stop-color="#fa0"/><stop offset=".822" stop-color="#fd0"/></linearGradient>
<linearGradient id="d297" href="#vg"><stop offset=".01" stop-color="#01f"/><stop offset=".03" stop-color="#05f"/><stop offset=".05" stop-color="#0df"/><stop offset=".071" stop-color="#af5"/><stop offset=".091" stop-color="#fc0"/><stop offset=".111" stop-color="#f70"/><stop offset=".212" stop-color="#f00"/><stop offset=".252" stop-color="#800"/><stop offset=".353" stop-color="#800"/><stop offset=".374" stop-color="#e00"/><stop offset=".414" stop-color="#f30"/><stop offset=".434" stop-color="#fa0"/><stop offset=".818" stop-color="#ff0"/></linearGradient>
<linearGradient id="d298" href="#vg"><stop offset=".01" stop-color="#00f"/><stop offset=".05" stop-color="#06f"/><stop offset=".071" stop-color="#0df"/><stop offset=".091" stop-color="#8f7"/><stop offset=".111" stop-color="#fe0"/><stop offset=".131" stop-color="#fa0"/><stop offset=".252" stop-color="#e00"/><stop offset=".273" stop-color="#800"/><stop offset=".374" stop-color="#800"/><stop offset=".414" stop-color="#f00"/><stop offset=".475" stop-color="#f80"/><stop offset=".818" stop-color="#fc0"/></linearGradient>
<linearGradient id="d299" href="#vg"><stop offset=".01" stop-color="#00f"/><stop offset=".03" stop-color="#02f"/><stop offset=".069" stop-color="#0cf"/><stop offset=".089" stop-color="#6f9"/><stop offset=".109" stop-color="#ff0"/><stop offset=".129" stop-color="#fa0"/><stop offset=".267" stop-color="#e00"/><stop offset=".287" stop-color="#800"/><stop offset=".406" stop-color="#800"/><stop offset=".426" stop-color="#d00"/><stop offset=".485" stop-color="#f40"/><stop offset=".505" stop-color="#fa0"/><stop offset=".822" stop-color="#fd0"/></linearGradient>
<linearGradient id="d300" href="#vg"><stop offset=".01" stop-color="#00e"/><stop offset=".052" stop-color="#08f"/><stop offset=".072" stop-color="#4fb"/><stop offset=".093" stop-color="#ff0"/><stop offset=".113" stop-color="#fa0"/><stop offset=".237" stop-color="#e00"/><stop offset=".278" stop-color="#800"/><stop offset=".381" stop-color="#800"/><stop offset=".402" stop-color="#d00"/><stop offset=".443" stop-color="#f30"/><stop offset=".464" stop-color="#f80"/><stop offset=".484" stop-color="#fa0"/><stop offset=".814" stop-color="#fd0"/></linearGradient>
<linearGradient id="d301" href="#vg"><stop offset=".011" stop-color="#00f"/><stop offset=".053" stop-color="#08f"/><stop offset=".074" stop-color="#2fd"/><stop offset=".095" stop-color="#ef1"/><stop offset=".137" stop-color="#f80"/><stop offset=".263" stop-color="#e00"/><stop offset=".284" stop-color="#800"/><stop offset=".41" stop-color="#800"/><stop offset=".431" stop-color="#d00"/><stop offset=".474" stop-color="#f30"/><stop offset=".495" stop-color="#fa0"/><stop offset=".516" stop-color="#fb0"/><stop offset=".81" stop-color="#ff0"/></linearGradient>
<linearGradient id="d302" href="#vg"><stop offset=".011" stop-color="#00f"/><stop offset=".053" stop-color="#09f"/><stop offset=".074" stop-color="#5fa"/><stop offset=".095" stop-color="#ff0"/><stop offset=".137" stop-color="#f70"/><stop offset=".263" stop-color="#d00"/><stop offset=".284" stop-color="#800"/><stop offset=".41" stop-color="#800"/><stop offset=".431" stop-color="#e00"/><stop offset=".452" stop-color="#f10"/><stop offset=".516" stop-color="#f80"/><stop offset=".81" stop-color="#fc0"/></linearGradient>
<linearGradient id="d303" href="#vg"><stop offset=".01" stop-color="#00f"/><stop offset=".052" stop-color="#06f"/><stop offset=".072" stop-color="#0ff"/><stop offset=".093" stop-color="#cf3"/><stop offset=".113" stop-color="#fc0"/><stop offset=".134" stop-color="#f80"/><stop offset=".155" stop-color="#f60"/><stop offset=".258" stop-color="#d00"/><stop offset=".278" stop-color="#800"/><stop offset=".381" stop-color="#800"/><stop offset=".402" stop-color="#d00"/><stop offset=".484" stop-color="#f70"/><stop offset=".814" stop-color="#fa0"/></linearGradient>
<linearGradient id="d304" href="#vg"><stop offset=".01" stop-color="#11f"/><stop offset=".03" stop-color="#01f"/><stop offset=".049" stop-color="#06f"/><stop offset=".069" stop-color="#0ef"/><stop offset=".089" stop-color="#cf3"/><stop offset=".109" stop-color="#fc0"/><stop offset=".129" stop-color="#f80"/><stop offset=".247" stop-color="#d00"/><stop offset=".267" stop-color="#800"/><stop offset=".366" stop-color="#800"/><stop offset=".406" stop-color="#f00"/><stop offset=".445" stop-color="#f40"/><stop offset=".465" stop-color="#f20"/><stop offset=".822" stop-color="#f60"/></linearGradient>
<linearGradient id="d305" href="#vg"><stop offset=".01" stop-color="#00f"/><stop offset=".05" stop-color="#04f"/><stop offset=".091" stop-color="#1fe"/><stop offset=".111" stop-color="#cf3"/><stop offset=".131" stop-color="#fd0"/><stop offset=".151" stop-color="#f90"/><stop offset=".293" stop-color="#e00"/><stop offset=".333" stop-color="#800"/><stop offset=".454" stop-color="#800"/><stop offset=".495" stop-color="#f00"/><stop offset=".535" stop-color="#f30"/><stop offset=".555" stop-color="#f10"/><stop offset=".818" stop-color="#f50"/></linearGradient>
<linearGradient id="d306" href="#vg"><stop offset=".011" stop-color="#01f"/><stop offset=".032" stop-color="#05f"/><stop offset=".053" stop-color="#0cf"/><stop offset=".074" stop-color="#9f6"/><stop offset=".095" stop-color="#fd0"/><stop offset=".116" stop-color="#f80"/><stop offset=".242" stop-color="#e00"/><stop offset=".263" stop-color="#900"/><stop offset=".389" stop-color="#800"/><stop offset=".41" stop-color="#d00"/><stop offset=".431" stop-color="#f00"/><stop offset=".474" stop-color="#f40"/><stop offset=".495" stop-color="#f00"/><stop offset=".81" stop-color="#f40"/></linearGradient>
<linearGradient id="d307" href="#vg"><stop offset=".01" stop-color="#00f"/><stop offset=".031" stop-color="#02f"/><stop offset=".052" stop-color="#07f"/><stop offset=".072" stop-color="#1fe"/><stop offset=".093" stop-color="#ef1"/><stop offset=".134" stop-color="#f70"/><stop offset=".258" stop-color="#d00"/><stop offset=".278" stop-color="#800"/><stop offset=".402" stop-color="#800"/><stop offset=".423" stop-color="#d00"/><stop offset=".464" stop-color="#f30"/><stop offset=".484" stop-color="#f00"/><stop offset=".505" stop-color="#f20"/><stop offset=".814" stop-color="#f60"/></linearGradient>
<linearGradient id="d308" href="#vg"><stop offset=".01" stop-color="#11f"/><stop offset=".031" stop-color="#01f"/><stop offset=".052" stop-color="#06f"/><stop offset=".072" stop-color="#0ef"/><stop offset=".093" stop-color="#bf4"/><stop offset=".113" stop-color="#fc0"/><stop offset=".134" stop-color="#f80"/><stop offset=".258" stop-color="#e00"/><stop offset=".299" stop-color="#800"/><stop offset=".34" stop-color="#800"/><stop offset=".423" stop-color="#900"/><stop offset=".443" stop-color="#e00"/><stop offset=".484" stop-color="#f30"/><stop offset=".814" stop-color="#f70"/></linearGradient>
<linearGradient id="d309" href="#vg"><stop offset=".01" stop-color="#00f"/><stop offset=".031" stop-color="#03f"/><stop offset=".072" stop-color="#0cf"/><stop offset=".093" stop-color="#6f9"/><stop offset=".113" stop-color="#ef1"/><stop offset=".155" stop-color="#f80"/><stop offset=".278" stop-color="#d00"/><stop offset=".299" stop-color="#800"/><stop offset=".402" stop-color="#800"/><stop offset=".423" stop-color="#d00"/><stop offset=".464" stop-color="#f30"/><stop offset=".484" stop-color="#f10"/><stop offset=".505" stop-color="#f20"/><stop offset=".814" stop-color="#f60"/></linearGradient>
<linearGradient id="d310" href="#vg"><stop offset=".01" stop-color="#00f"/><stop offset=".052" stop-color="#07f"/><stop offset=".072" stop-color="#0ff"/><stop offset=".093" stop-color="#af5"/><stop offset=".113" stop-color="#fe0"/><stop offset=".134" stop-color="#fa0"/><stop offset=".258" stop-color="#d00"/><stop offset=".278" stop-color="#800"/><stop offset=".381" stop-color="#800"/><stop offset=".402" stop-color="#e00"/><stop offset=".443" stop-color="#f30"/><stop offset=".814" stop-color="#f70"/></linearGradient>
<linearGradient id="d311" href="#vg"><stop offset=".011" stop-color="#01f"/><stop offset=".053" stop-color="#09f"/><stop offset=".074" stop-color="#4fb"/><stop offset=".095" stop-color="#ff0"/><stop offset=".137" stop-color="#f70"/><stop offset=".263" stop-color="#e00"/><stop offset=".284" stop-color="#800"/><stop offset=".41" stop-color="#800"/><stop offset=".431" stop-color="#d00"/><stop offset=".495" stop-color="#f40"/><stop offset=".81" stop-color="#f70"/></linearGradient>
<linearGradient id="d312" href="#vg"><stop offset=".01" stop-color="#00f"/><stop offset=".052" stop-color="#09f"/><stop offset=".072" stop-color="#5fa"/><stop offset=".093" stop-color="#ff0"/><stop offset=".113" stop-color="#fa0"/><stop offset=".175" stop-color="#f40"/><stop offset=".237" stop-color="#d00"/><stop offset=".258" stop-color="#800"/><stop offset=".361" stop-color="#900"/><stop offset=".381" stop-color="#f00"/><stop offset=".443" stop-color="#f60"/><stop offset=".814" stop-color="#fa0"/></linearGradient>
<linearGradient id="d313" href="#vg"><stop offset=".01" stop-color="#00f"/><stop offset=".052" stop-color="#0af"/><stop offset=".072" stop-color="#6f9"/><stop offset=".093" stop-color="#fe0"/><stop offset=".113" stop-color="#f90"/><stop offset=".155" stop-color="#f50"/><stop offset=".237" stop-color="#d00"/><stop offset=".258" stop-color="#800"/><stop offset=".361" stop-color="#800"/><stop offset=".381" stop-color="#e00"/><stop offset=".443" stop-color="#f60"/><stop offset=".814" stop-color="#fa0"/></linearGradient>
<linearGradient id="d314" href="#vg"><stop offset=".01" stop-color="#00f"/><stop offset=".049" stop-color="#0af"/><stop offset=".069" stop-color="#6f9"/><stop offset=".089" stop-color="#fe0"/><stop offset=".109" stop-color="#f90"/><stop offset=".228" stop-color="#e00"/><stop offset=".247" stop-color="#800"/><stop offset=".346" stop-color="#800"/><stop offset=".386" stop-color="#f00"/><stop offset=".445" stop-color="#f60"/><stop offset=".822" stop-color="#fa0"/></linearGradient>
<linearGradient id="d315" href="#vg"><stop offset=".01" stop-color="#01f"/><stop offset=".029" stop-color="#05f"/><stop offset=".049" stop-color="#0df"/><stop offset=".068" stop-color="#bf4"/><stop offset=".087" stop-color="#fc0"/><stop offset=".107" stop-color="#f70"/><stop offset=".223" stop-color="#e00"/><stop offset=".262" stop-color="#800"/><stop offset=".379" stop-color="#800"/><stop offset=".398" stop-color="#e00"/><stop offset=".476" stop-color="#f60"/><stop offset=".825" stop-color="#f90"/></linearGradient>
<linearGradient id="d316" href="#vg"><stop offset=".01" stop-color="#00f"/><stop offset=".052" stop-color="#09f"/><stop offset=".072" stop-color="#6f9"/><stop offset=".093" stop-color="#fe0"/><stop offset=".113" stop-color="#f90"/><stop offset=".237" stop-color="#e00"/><stop offset=".278" stop-color="#800"/><stop offset=".381" stop-color="#800"/><stop offset=".423" stop-color="#f00"/><stop offset=".484" stop-color="#f50"/><stop offset=".814" stop-color="#f90"/></linearGradient>
<linearGradient id="d317" href="#vg"><stop offset=".01" stop-color="#00e"/><stop offset=".068" stop-color="#08f"/><stop offset=".087" stop-color="#0ff"/><stop offset=".107" stop-color="#9f6"/><stop offset=".126" stop-color="#fe0"/><stop offset=".184" stop-color="#f60"/><stop offset=".262" stop-color="#d00"/><stop offset=".281" stop-color="#800"/><stop offset=".359" stop-color="#800"/><stop offset=".379" stop-color="#e00"/><stop offset=".437" stop-color="#f70"/><stop offset=".825" stop-color="#fb0"/></linearGradient>
<linearGradient id="d318" href="#vg"><stop offset=".01" stop-color="#01f"/><stop offset=".049" stop-color="#0bf"/><stop offset=".069" stop-color="#7f8"/><stop offset=".089" stop-color="#fe0"/><stop offset=".109" stop-color="#f90"/><stop offset=".148" stop-color="#f50"/><stop offset=".228" stop-color="#d00"/><stop offset=".247" stop-color="#800"/><stop offset=".346" stop-color="#800"/><stop offset=".366" stop-color="#e00"/><stop offset=".426" stop-color="#f60"/><stop offset=".822" stop-color="#fb0"/></linearGradient>
<linearGradient id="d319" href="#vg"><stop offset=".01" stop-color="#00f"/><stop offset=".05" stop-color="#06f"/><stop offset=".071" stop-color="#0ef"/><stop offset=".091" stop-color="#af5"/><stop offset=".111" stop-color="#fd0"/><stop offset=".131" stop-color="#f80"/><stop offset=".232" stop-color="#f00"/><stop offset=".273" stop-color="#800"/><stop offset=".353" stop-color="#800"/><stop offset=".394" stop-color="#f00"/><stop offset=".414" stop-color="#f20"/><stop offset=".434" stop-color="#fa0"/><stop offset=".454" stop-color="#fc0"/><stop offset=".818" stop-color="#ff0"/></linearGradient>
<linearGradient id="d320" href="#vg"><stop offset=".01" stop-color="#00e"/><stop offset=".069" stop-color="#08f"/><stop offset=".089" stop-color="#0ff"/><stop offset=".109" stop-color="#9f6"/><stop offset=".129" stop-color="#fe0"/><stop offset=".148" stop-color="#fb0"/><stop offset=".247" stop-color="#f00"/><stop offset=".287" stop-color="#800"/><stop offset=".346" stop-color="#800"/><stop offset=".386" stop-color="#f00"/><stop offset=".406" stop-color="#f30"/><stop offset=".426" stop-color="#fb0"/><stop offset=".822" stop-color="#ff0"/></linearGradient>
<linearGradient id="d321" href="#vg"><stop offset=".01" stop-color="#00e"/><stop offset=".067" stop-color="#07f"/><stop offset=".086" stop-color="#0ef"/><stop offset=".124" stop-color="#ef1"/><stop offset=".162" stop-color="#f90"/><stop offset=".276" stop-color="#d00"/><stop offset=".295" stop-color="#800"/><stop offset=".39" stop-color="#800"/><stop offset=".409" stop-color="#e00"/><stop offset=".447" stop-color="#f30"/><stop offset=".467" stop-color="#fc0"/><stop offset=".828" stop-color="#ef1"/></linearGradient>
<linearGradient id="d322" href="#vg"><stop offset=".01" stop-color="#00e"/><stop offset=".03" stop-color="#02f"/><stop offset=".069" stop-color="#0cf"/><stop offset=".089" stop-color="#6f9"/><stop offset=".109" stop-color="#ff0"/><stop offset=".129" stop-color="#fb0"/><stop offset=".208" stop-color="#f20"/><stop offset=".247" stop-color="#d00"/><stop offset=".267" stop-color="#800"/><stop offset=".346" stop-color="#800"/><stop offset=".366" stop-color="#e00"/><stop offset=".406" stop-color="#f40"/><stop offset=".426" stop-color="#fd0"/><stop offset=".822" stop-color="#df2"/></linearGradient>
<linearGradient id="d323" href="#vg"><stop offset=".01" stop-color="#01f"/><stop offset=".029" stop-color="#05f"/><stop offset=".049" stop-color="#0cf"/><stop offset=".068" stop-color="#9f6"/><stop offset=".087" stop-color="#fd0"/><stop offset=".107" stop-color="#f80"/><stop offset=".204" stop-color="#e00"/><stop offset=".243" stop-color="#800"/><stop offset=".32" stop-color="#800"/><stop offset=".359" stop-color="#f00"/><stop offset=".379" stop-color="#f20"/><stop offset=".398" stop-color="#fd0"/><stop offset=".417" stop-color="#ff0"/><stop offset=".825" stop-color="#cf3"/></linearGradient>
<linearGradient id="d324" href="#vg"><stop offset=".01" stop-color="#01f"/><stop offset=".049" stop-color="#09f"/><stop offset=".068" stop-color="#3fc"/><stop offset=".087" stop-color="#ef1"/><stop offset=".126" stop-color="#f70"/><stop offset=".204" stop-color="#e00"/><stop offset=".223" stop-color="#800"/><stop offset=".301" stop-color="#800"/><stop offset=".32" stop-color="#f00"/><stop offset=".34" stop-color="#f30"/><stop offset=".359" stop-color="#fc0"/><stop offset=".379" stop-color="#fe0"/><stop offset=".825" stop-color="#df2"/></linearGradient>
<linearGradient id="d325" href="#vg"><stop offset=".009" stop-color="#00e"/><stop offset=".047" stop-color="#05f"/><stop offset=".084" stop-color="#1fe"/><stop offset=".103" stop-color="#af5"/><stop offset=".121" stop-color="#fe0"/><stop offset=".14" stop-color="#fa0"/><stop offset=".252" stop-color="#e00"/><stop offset=".29" stop-color="#800"/><stop offset=".383" stop-color="#900"/><stop offset=".402" stop-color="#f00"/><stop offset=".439" stop-color="#f40"/><stop offset=".458" stop-color="#cf3"/><stop offset=".832" stop-color="#8f7"/></linearGradient>
<linearGradient id="d326" href="#vg"><stop offset=".01" stop-color="#00f"/><stop offset=".049" stop-color="#09f"/><stop offset=".068" stop-color="#5fa"/><stop offset=".087" stop-color="#ff0"/><stop offset=".107" stop-color="#f90"/><stop offset=".204" stop-color="#e00"/><stop offset=".223" stop-color="#800"/><stop offset=".301" stop-color="#800"/><stop offset=".32" stop-color="#e00"/><stop offset=".359" stop-color="#f40"/><stop offset=".379" stop-color="#7f8"/><stop offset=".825" stop-color="#3fc"/></linearGradient>
<linearGradient id="d327" href="#vg"><stop offset=".009" stop-color="#00f"/><stop offset=".047" stop-color="#09f"/><stop offset=".065" stop-color="#5fa"/><stop offset=".084" stop-color="#fe0"/><stop offset=".103" stop-color="#f90"/><stop offset=".196" stop-color="#e00"/><stop offset=".215" stop-color="#800"/><stop offset=".308" stop-color="#800"/><stop offset=".327" stop-color="#e00"/><stop offset=".346" stop-color="#f20"/><stop offset=".364" stop-color="#7f8"/><stop offset=".383" stop-color="#5fa"/><stop offset=".832" stop-color="#1fe"/></linearGradient>
<linearGradient id="d328" href="#vg"><stop offset=".009" stop-color="#11f"/><stop offset=".028" stop-color="#01f"/><stop offset=".047" stop-color="#06f"/><stop offset=".065" stop-color="#0ff"/><stop offset=".084" stop-color="#df2"/><stop offset=".121" stop-color="#f80"/><stop offset=".215" stop-color="#d00"/><stop offset=".234" stop-color="#800"/><stop offset=".327" stop-color="#900"/><stop offset=".346" stop-color="#f00"/><stop offset=".364" stop-color="#f20"/><stop offset=".383" stop-color="#6f9"/><stop offset=".402" stop-color="#4fb"/><stop offset=".832" stop-color="#1fe"/></linearGradient>
<linearGradient id="d329" href="#vg"><stop offset=".009" stop-color="#00f"/><stop offset=".028" stop-color="#03f"/><stop offset=".065" stop-color="#0bf"/><stop offset=".084" stop-color="#4fb"/><stop offset=".103" stop-color="#df2"/><stop offset=".14" stop-color="#f90"/><stop offset=".234" stop-color="#e00"/><stop offset=".252" stop-color="#800"/><stop offset=".327" stop-color="#800"/><stop offset=".346" stop-color="#d00"/><stop offset=".383" stop-color="#f40"/><stop offset=".402" stop-color="#6f9"/><stop offset=".832" stop-color="#2fd"/></linearGradient>
<linearGradient id="d330" href="#vg"><stop offset=".01" stop-color="#00f"/><stop offset=".048" stop-color="#08f"/><stop offset=".067" stop-color="#4fb"/><stop offset=".086" stop-color="#ff0"/><stop offset=".105" stop-color="#fa0"/><stop offset=".2" stop-color="#d00"/><stop offset=".219" stop-color="#800"/><stop offset=".295" stop-color="#800"/><stop offset=".314" stop-color="#f00"/><stop offset=".333" stop-color="#f20"/><stop offset=".352" stop-color="#2fd"/><stop offset=".371" stop-color="#1fe"/><stop offset=".828" stop-color="#0cf"/></linearGradient>
<linearGradient id="d331" href="#vg"><stop offset=".009" stop-color="#00f"/><stop offset=".028" stop-color="#01f"/><stop offset=".065" stop-color="#0cf"/><stop offset=".084" stop-color="#6f9"/><stop offset=".103" stop-color="#ff0"/><stop offset=".121" stop-color="#fa0"/><stop offset=".178" stop-color="#f30"/><stop offset=".215" stop-color="#d00"/><stop offset=".234" stop-color="#800"/><stop offset=".29" stop-color="#800"/><stop offset=".308" stop-color="#e00"/><stop offset=".327" stop-color="#f20"/><stop offset=".346" stop-color="#2fd"/><stop offset=".364" stop-color="#1fe"/><stop offset=".832" stop-color="#0cf"/></linearGradient>
<linearGradient id="d332" href="#vg"><stop offset=".009" stop-color="#11f"/><stop offset=".026" stop-color="#00f"/><stop offset=".06" stop-color="#04f"/><stop offset=".111" stop-color="#1fe"/><stop offset=".145" stop-color="#ef1"/><stop offset=".265" stop-color="#f00"/><stop offset=".282" stop-color="#a00"/><stop offset=".299" stop-color="#800"/><stop offset=".35" stop-color="#800"/><stop offset=".367" stop-color="#d00"/><stop offset=".402" stop-color="#f40"/><stop offset=".419" stop-color="#0bf"/><stop offset=".846" stop-color="#07f"/></linearGradient>
<linearGradient id="d333" href="#vg"><stop offset=".009" stop-color="#00f"/><stop offset=".046" stop-color="#0af"/><stop offset=".064" stop-color="#6f9"/><stop offset=".083" stop-color="#fe0"/><stop offset=".101" stop-color="#f90"/><stop offset=".193" stop-color="#e00"/><stop offset=".211" stop-color="#900"/><stop offset=".303" stop-color="#800"/><stop offset=".321" stop-color="#e00"/><stop offset=".358" stop-color="#f40"/><stop offset=".376" stop-color="#0af"/><stop offset=".835" stop-color="#06f"/></linearGradient>
<linearGradient id="d334" href="#vg"><stop offset=".009" stop-color="#11f"/><stop offset=".027" stop-color="#01f"/><stop offset=".063" stop-color="#0bf"/><stop offset=".081" stop-color="#6f9"/><stop offset=".099" stop-color="#ff0"/><stop offset=".135" stop-color="#f70"/><stop offset=".207" stop-color="#d00"/><stop offset=".225" stop-color="#800"/><stop offset=".279" stop-color="#800"/><stop offset=".315" stop-color="#f10"/><stop offset=".333" stop-color="#f30"/><stop offset=".351" stop-color="#0df"/><stop offset=".838" stop-color="#09f"/></linearGradient>
<linearGradient id="d335" href="#vg"><stop offset=".009" stop-color="#00f"/><stop offset=".043" stop-color="#06f"/><stop offset=".061" stop-color="#0df"/><stop offset=".078" stop-color="#9f6"/><stop offset=".096" stop-color="#fe0"/><stop offset=".113" stop-color="#f90"/><stop offset=".183" stop-color="#f30"/><stop offset=".235" stop-color="#c00"/><stop offset=".252" stop-color="#800"/><stop offset=".356" stop-color="#900"/><stop offset=".374" stop-color="#e00"/><stop offset=".409" stop-color="#f30"/><stop offset=".426" stop-color="#0cf"/><stop offset=".443" stop-color="#0af"/><stop offset=".843" stop-color="#07f"/></linearGradient>
<linearGradient id="d336" href="#vg"><stop offset=".009" stop-color="#00e"/><stop offset=".045" stop-color="#07f"/><stop offset=".063" stop-color="#1fe"/><stop offset=".081" stop-color="#ef1"/><stop offset=".099" stop-color="#fb0"/><stop offset=".189" stop-color="#e00"/><stop offset=".207" stop-color="#900"/><stop offset=".261" stop-color="#800"/><stop offset=".297" stop-color="#a00"/><stop offset=".315" stop-color="#f00"/><stop offset=".333" stop-color="#f30"/><stop offset=".351" stop-color="#0af"/><stop offset=".369" stop-color="#09f"/><stop offset=".838" stop-color="#06f"/></linearGradient>
<linearGradient id="d337" href="#vg"><stop offset=".009" stop-color="#00f"/><stop offset=".026" stop-color="#02f"/><stop offset=".078" stop-color="#1fe"/><stop offset=".096" stop-color="#bf4"/><stop offset=".113" stop-color="#fe0"/><stop offset=".13" stop-color="#fa0"/><stop offset=".217" stop-color="#f00"/><stop offset=".252" stop-color="#800"/><stop offset=".322" stop-color="#800"/><stop offset=".339" stop-color="#e00"/><stop offset=".356" stop-color="#f20"/><stop offset=".374" stop-color="#09f"/><stop offset=".391" stop-color="#08f"/><stop offset=".843" stop-color="#04f"/></linearGradient>
<linearGradient id="d338" href="#vg"><stop offset=".009" stop-color="#00f"/><stop offset=".06" stop-color="#07f"/><stop offset=".077" stop-color="#0ef"/><stop offset=".111" stop-color="#ff0"/><stop offset=".128" stop-color="#fb0"/><stop offset=".231" stop-color="#e00"/><stop offset=".248" stop-color="#800"/><stop offset=".333" stop-color="#800"/><stop offset=".35" stop-color="#e00"/><stop offset=".385" stop-color="#f40"/><stop offset=".402" stop-color="#08f"/><stop offset=".846" stop-color="#04f"/></linearGradient>
<linearGradient id="d339" href="#vg"><stop offset=".009" stop-color="#00f"/><stop offset=".026" stop-color="#01f"/><stop offset=".06" stop-color="#08f"/><stop offset=".077" stop-color="#0ff"/><stop offset=".094" stop-color="#af5"/><stop offset=".111" stop-color="#fe0"/><stop offset=".128" stop-color="#fa0"/><stop offset=".197" stop-color="#f20"/><stop offset=".231" stop-color="#d00"/><stop offset=".248" stop-color="#800"/><stop offset=".316" stop-color="#800"/><stop offset=".333" stop-color="#d00"/><stop offset=".367" stop-color="#f40"/><stop offset=".385" stop-color="#09f"/><stop offset=".846" stop-color="#05f"/></linearGradient>
<linearGradient id="d340" href="#vg"><stop offset=".009" stop-color="#00f"/><stop offset=".043" stop-color="#07f"/><stop offset=".061" stop-color="#2fd"/><stop offset=".078" stop-color="#ef1"/><stop offset=".096" stop-color="#fa0"/><stop offset=".183" stop-color="#e00"/><stop offset=".2" stop-color="#800"/><stop offset=".269" stop-color="#800"/><stop offset=".287" stop-color="#e00"/><stop offset=".304" stop-color="#f20"/><stop offset=".322" stop-color="#07f"/><stop offset=".339" stop-color="#06f"/><stop offset=".843" stop-color="#02f"/></linearGradient>
<linearGradient id="d341" href="#vg"><stop offset=".008" stop-color="#00f"/><stop offset=".042" stop-color="#0af"/><stop offset=".059" stop-color="#6f9"/><stop offset=".076" stop-color="#fe0"/><stop offset=".092" stop-color="#f90"/><stop offset=".193" stop-color="#e00"/><stop offset=".227" stop-color="#800"/><stop offset=".26" stop-color="#800"/><stop offset=".328" stop-color="#900"/><stop offset=".344" stop-color="#e00"/><stop offset=".378" stop-color="#f30"/><stop offset=".395" stop-color="#08f"/><stop offset=".412" stop-color="#07f"/><stop offset=".849" stop-color="#04f"/></linearGradient>
<linearGradient id="d342" href="#vg"><stop offset=".008" stop-color="#11f"/><stop offset=".041" stop-color="#03f"/><stop offset=".074" stop-color="#0cf"/><stop offset=".091" stop-color="#5fa"/><stop offset=".107" stop-color="#ef1"/><stop offset=".157" stop-color="#f70"/><stop offset=".24" stop-color="#d00"/><stop offset=".256" stop-color="#800"/><stop offset=".339" stop-color="#800"/><stop offset=".355" stop-color="#e00"/><stop offset=".388" stop-color="#f40"/><stop offset=".405" stop-color="#07f"/><stop offset=".851" stop-color="#03f"/></linearGradient>
<linearGradient id="d343" href="#vg"><stop offset=".009" stop-color="#00f"/><stop offset=".026" stop-color="#02f"/><stop offset=".06" stop-color="#0af"/><stop offset=".077" stop-color="#3fc"/><stop offset=".094" stop-color="#df2"/><stop offset=".128" stop-color="#f90"/><stop offset=".214" stop-color="#f00"/><stop offset=".248" stop-color="#800"/><stop offset=".316" stop-color="#800"/><stop offset=".333" stop-color="#c00"/><stop offset=".367" stop-color="#f30"/><stop offset=".385" stop-color="#07f"/><stop offset=".402" stop-color="#06f"/><stop offset=".846" stop-color="#03f"/></linearGradient>
<linearGradient id="d344" href="#vg"><stop offset=".008" stop-color="#00f"/><stop offset=".041" stop-color="#03f"/><stop offset=".074" stop-color="#0cf"/><stop offset=".091" stop-color="#5fa"/><stop offset=".107" stop-color="#ef1"/><stop offset=".223" stop-color="#f00"/><stop offset=".256" stop-color="#800"/><stop offset=".322" stop-color="#800"/><stop offset=".339" stop-color="#f00"/><stop offset=".355" stop-color="#f20"/><stop offset=".372" stop-color="#06f"/><stop offset=".388" stop-color="#04f"/><stop offset=".851" stop-color="#01f"/></linearGradient>
<linearGradient id="d345" href="#vg"><stop offset=".008" stop-color="#11f"/><stop offset=".025" stop-color="#00f"/><stop offset=".058" stop-color="#07f"/><stop offset=".074" stop-color="#0ef"/><stop offset=".107" stop-color="#fe0"/><stop offset=".124" stop-color="#fa0"/><stop offset=".207" stop-color="#f00"/><stop offset=".24" stop-color="#800"/><stop offset=".306" stop-color="#800"/><stop offset=".322" stop-color="#d00"/><stop offset=".355" stop-color="#f40"/><stop offset=".372" stop-color="#06f"/><stop offset=".851" stop-color="#02f"/></linearGradient>
<linearGradient id="d346" href="#vg"><stop offset=".008" stop-color="#11f"/><stop offset=".025" stop-color="#01f"/><stop offset=".042" stop-color="#05f"/><stop offset=".059" stop-color="#0df"/><stop offset=".076" stop-color="#bf4"/><stop offset=".092" stop-color="#fc0"/><stop offset=".109" stop-color="#f80"/><stop offset=".193" stop-color="#e00"/><stop offset=".21" stop-color="#800"/><stop offset=".294" stop-color="#800"/><stop offset=".311" stop-color="#f00"/><stop offset=".344" stop-color="#f40"/><stop offset=".361" stop-color="#07f"/><stop offset=".849" stop-color="#03f"/></linearGradient>
<linearGradient id="d347" href="#vg"><stop offset=".008" stop-color="#00f"/><stop offset=".025" stop-color="#02f"/><stop offset=".059" stop-color="#0bf"/><stop offset=".076" stop-color="#5fa"/><stop offset=".092" stop-color="#ef1"/><stop offset=".126" stop-color="#f80"/><stop offset=".21" stop-color="#f00"/><stop offset=".244" stop-color="#800"/><stop offset=".311" stop-color="#800"/><stop offset=".344" stop-color="#f00"/><stop offset=".361" stop-color="#f20"/><stop offset=".378" stop-color="#06f"/><stop offset=".395" stop-color="#04f"/><stop offset=".849" stop-color="#01f"/></linearGradient>
<linearGradient id="d348" href="#vg"><stop offset=".008" stop-color="#11f"/><stop offset=".025" stop-color="#01f"/><stop offset=".042" stop-color="#06f"/><stop offset=".059" stop-color="#0ef"/><stop offset=".076" stop-color="#cf3"/><stop offset=".092" stop-color="#fc0"/><stop offset=".109" stop-color="#f80"/><stop offset=".21" stop-color="#d00"/><stop offset=".227" stop-color="#800"/><stop offset=".311" stop-color="#800"/><stop offset=".328" stop-color="#d00"/><stop offset=".361" stop-color="#f20"/><stop offset=".378" stop-color="#07f"/><stop offset=".395" stop-color="#06f"/><stop offset=".849" stop-color="#02f"/></linearGradient>
<linearGradient id="d349" href="#vg"><stop offset=".008" stop-color="#00e"/><stop offset=".041" stop-color="#08f"/><stop offset=".058" stop-color="#4fb"/><stop offset=".074" stop-color="#ff0"/><stop offset=".091" stop-color="#fa0"/><stop offset=".174" stop-color="#f00"/><stop offset=".207" stop-color="#800"/><stop offset=".273" stop-color="#800"/><stop offset=".289" stop-color="#d00"/><stop offset=".322" stop-color="#f30"/><stop offset=".339" stop-color="#06f"/><stop offset=".851" stop-color="#01f"/></linearGradient>
<linearGradient id="d350" href="#vg"><stop offset=".008" stop-color="#00f"/><stop offset=".042" stop-color="#07f"/><stop offset=".059" stop-color="#2fd"/><stop offset=".076" stop-color="#ef1"/><stop offset=".109" stop-color="#f70"/><stop offset=".21" stop-color="#d00"/><stop offset=".227" stop-color="#800"/><stop offset=".328" stop-color="#800"/><stop offset=".344" stop-color="#e00"/><stop offset=".378" stop-color="#f30"/><stop offset=".395" stop-color="#08f"/><stop offset=".412" stop-color="#06f"/><stop offset=".849" stop-color="#03f"/></linearGradient>
<linearGradient id="d351" href="#vg"><stop offset=".008" stop-color="#00f"/><stop offset=".024" stop-color="#02f"/><stop offset=".056" stop-color="#0cf"/><stop offset=".072" stop-color="#7f8"/><stop offset=".088" stop-color="#fe0"/><stop offset=".104" stop-color="#fa0"/><stop offset=".216" stop-color="#e00"/><stop offset=".248" stop-color="#800"/><stop offset=".344" stop-color="#800"/><stop offset=".36" stop-color="#e00"/><stop offset=".392" stop-color="#f30"/><stop offset=".408" stop-color="#08f"/><stop offset=".424" stop-color="#07f"/><stop offset=".856" stop-color="#03f"/></linearGradient>
<linearGradient id="d352" href="#vg"><stop offset=".008" stop-color="#11f"/><stop offset=".024" stop-color="#01f"/><stop offset=".04" stop-color="#04f"/><stop offset=".072" stop-color="#2fd"/><stop offset=".088" stop-color="#cf3"/><stop offset=".12" stop-color="#f90"/><stop offset=".216" stop-color="#e00"/><stop offset=".248" stop-color="#800"/><stop offset=".296" stop-color="#800"/><stop offset=".344" stop-color="#900"/><stop offset=".36" stop-color="#e00"/><stop offset=".392" stop-color="#f30"/><stop offset=".408" stop-color="#07f"/><stop offset=".424" stop-color="#06f"/><stop offset=".856" stop-color="#03f"/></linearGradient>
<linearGradient id="d353" href="#vg"><stop offset=".008" stop-color="#00f"/><stop offset=".024" stop-color="#01f"/><stop offset=".055" stop-color="#07f"/><stop offset=".071" stop-color="#0df"/><stop offset=".102" stop-color="#ef1"/><stop offset=".118" stop-color="#fc0"/><stop offset=".213" stop-color="#f00"/><stop offset=".244" stop-color="#800"/><stop offset=".307" stop-color="#800"/><stop offset=".338" stop-color="#f00"/><stop offset=".354" stop-color="#f20"/><stop offset=".37" stop-color="#07f"/><stop offset=".386" stop-color="#06f"/><stop offset=".858" stop-color="#02f"/></linearGradient>
<linearGradient id="d354" href="#vg"><stop offset=".008" stop-color="#00f"/><stop offset=".039" stop-color="#06f"/><stop offset=".055" stop-color="#0ff"/><stop offset=".071" stop-color="#bf4"/><stop offset=".087" stop-color="#fc0"/><stop offset=".102" stop-color="#f80"/><stop offset=".197" stop-color="#e00"/><stop offset=".213" stop-color="#800"/><stop offset=".307" stop-color="#800"/><stop offset=".323" stop-color="#e00"/><stop offset=".354" stop-color="#f30"/><stop offset=".37" stop-color="#08f"/><stop offset=".386" stop-color="#06f"/><stop offset=".858" stop-color="#03f"/></linearGradient>
<linearGradient id="d355" href="#vg"><stop offset=".008" stop-color="#11f"/><stop offset=".024" stop-color="#01f"/><stop offset=".056" stop-color="#0af"/><stop offset=".072" stop-color="#5fa"/><stop offset=".088" stop-color="#ff0"/><stop offset=".104" stop-color="#fb0"/><stop offset=".2" stop-color="#f00"/><stop offset=".232" stop-color="#800"/><stop offset=".312" stop-color="#800"/><stop offset=".328" stop-color="#d00"/><stop offset=".36" stop-color="#f30"/><stop offset=".376" stop-color="#09f"/><stop offset=".392" stop-color="#08f"/><stop offset=".856" stop-color="#04f"/></linearGradient>
<linearGradient id="d356" href="#vg"><stop offset=".008" stop-color="#01f"/><stop offset=".041" stop-color="#09f"/><stop offset=".057" stop-color="#4fb"/><stop offset=".073" stop-color="#ef1"/><stop offset=".106" stop-color="#f80"/><stop offset=".203" stop-color="#e00"/><stop offset=".236" stop-color="#800"/><stop offset=".317" stop-color="#800"/><stop offset=".35" stop-color="#f00"/><stop offset=".382" stop-color="#f30"/><stop offset=".398" stop-color="#07f"/><stop offset=".415" stop-color="#06f"/><stop offset=".853" stop-color="#03f"/></linearGradient>
<linearGradient id="d357" href="#vg"><stop offset=".008" stop-color="#00e"/><stop offset=".04" stop-color="#05f"/><stop offset=".072" stop-color="#1fe"/><stop offset=".088" stop-color="#af5"/><stop offset=".104" stop-color="#fe0"/><stop offset=".12" stop-color="#fa0"/><stop offset=".216" stop-color="#f00"/><stop offset=".264" stop-color="#800"/><stop offset=".344" stop-color="#800"/><stop offset=".376" stop-color="#f00"/><stop offset=".408" stop-color="#f30"/><stop offset=".424" stop-color="#0af"/><stop offset=".856" stop-color="#06f"/></linearGradient>
<linearGradient id="d358" href="#vg"><stop offset=".008" stop-color="#00f"/><stop offset=".038" stop-color="#04f"/><stop offset=".069" stop-color="#0cf"/><stop offset=".084" stop-color="#3fc"/><stop offset=".099" stop-color="#bf4"/><stop offset=".114" stop-color="#fe0"/><stop offset=".13" stop-color="#fb0"/><stop offset=".237" stop-color="#e00"/><stop offset=".252" stop-color="#800"/><stop offset=".328" stop-color="#800"/><stop offset=".359" stop-color="#f00"/><stop offset=".374" stop-color="#f20"/><stop offset=".389" stop-color="#2fd"/><stop offset=".404" stop-color="#1fe"/><stop offset=".862" stop-color="#0cf"/></linearGradient>
<linearGradient id="d359" href="#vg"><stop offset=".008" stop-color="#11f"/><stop offset=".023" stop-color="#01f"/><stop offset=".038" stop-color="#03f"/><stop offset=".068" stop-color="#0cf"/><stop offset=".083" stop-color="#5fa"/><stop offset=".098" stop-color="#ef1"/><stop offset=".128" stop-color="#f90"/><stop offset=".233" stop-color="#e00"/><stop offset=".263" stop-color="#800"/><stop offset=".353" stop-color="#800"/><stop offset=".383" stop-color="#e00"/><stop offset=".413" stop-color="#f30"/><stop offset=".428" stop-color="#1fe"/><stop offset=".864" stop-color="#0bf"/></linearGradient>
<linearGradient id="d360" href="#vg"><stop offset=".008" stop-color="#01f"/><stop offset=".023" stop-color="#05f"/><stop offset=".038" stop-color="#0cf"/><stop offset=".053" stop-color="#8f7"/><stop offset=".068" stop-color="#fd0"/><stop offset=".083" stop-color="#f90"/><stop offset=".188" stop-color="#d00"/><stop offset=".203" stop-color="#800"/><stop offset=".293" stop-color="#800"/><stop offset=".308" stop-color="#d00"/><stop offset=".323" stop-color="#f00"/><stop offset=".353" stop-color="#f40"/><stop offset=".368" stop-color="#2fd"/><stop offset=".864" stop-color="#0df"/></linearGradient>
<linearGradient id="d361" href="#vg"><stop offset=".007" stop-color="#00f"/><stop offset=".036" stop-color="#03f"/><stop offset=".08" stop-color="#2fd"/><stop offset=".095" stop-color="#af5"/><stop offset=".109" stop-color="#fe0"/><stop offset=".139" stop-color="#f80"/><stop offset=".241" stop-color="#e00"/><stop offset=".255" stop-color="#800"/><stop offset=".358" stop-color="#900"/><stop offset=".372" stop-color="#e00"/><stop offset=".401" stop-color="#f30"/><stop offset=".416" stop-color="#af5"/><stop offset=".431" stop-color="#8f7"/><stop offset=".868" stop-color="#5fa"/></linearGradient>
<linearGradient id="d362" href="#vg"><stop offset=".008" stop-color="#11f"/><stop offset=".023" stop-color="#01f"/><stop offset=".053" stop-color="#07f"/><stop offset=".069" stop-color="#0ff"/><stop offset=".084" stop-color="#af5"/><stop offset=".099" stop-color="#fe0"/><stop offset=".114" stop-color="#fa0"/><stop offset=".16" stop-color="#f40"/><stop offset=".221" stop-color="#d00"/><stop offset=".237" stop-color="#800"/><stop offset=".313" stop-color="#800"/><stop offset=".343" stop-color="#f00"/><stop offset=".374" stop-color="#f40"/><stop offset=".389" stop-color="#9f6"/><stop offset=".862" stop-color="#5fa"/></linearGradient>
<linearGradient id="d363" href="#vg"><stop offset=".008" stop-color="#00f"/><stop offset=".038" stop-color="#03f"/><stop offset=".084" stop-color="#1fe"/><stop offset=".114" stop-color="#ff0"/><stop offset=".13" stop-color="#fc0"/><stop offset=".237" stop-color="#e00"/><stop offset=".267" stop-color="#800"/><stop offset=".343" stop-color="#800"/><stop offset=".359" stop-color="#e00"/><stop offset=".389" stop-color="#f30"/><stop offset=".404" stop-color="#af5"/><stop offset=".42" stop-color="#9f6"/><stop offset=".862" stop-color="#5fa"/></linearGradient>
<linearGradient id="d364" href="#vg"><stop offset=".008" stop-color="#00f"/><stop offset=".053" stop-color="#05f"/><stop offset=".098" stop-color="#2fd"/><stop offset=".128" stop-color="#ef1"/><stop offset=".158" stop-color="#fa0"/><stop offset=".263" stop-color="#d00"/><stop offset=".278" stop-color="#800"/><stop offset=".353" stop-color="#800"/><stop offset=".383" stop-color="#f00"/><stop offset=".398" stop-color="#f20"/><stop offset=".413" stop-color="#df2"/><stop offset=".428" stop-color="#bf4"/><stop offset=".864" stop-color="#8f7"/></linearGradient>
<linearGradient id="d365" href="#vg"><stop offset=".008" stop-color="#00f"/><stop offset=".04" stop-color="#06f"/><stop offset=".056" stop-color="#0ff"/><stop offset=".072" stop-color="#cf3"/><stop offset=".088" stop-color="#fc0"/><stop offset=".104" stop-color="#f80"/><stop offset=".216" stop-color="#d00"/><stop offset=".232" stop-color="#800"/><stop offset=".328" stop-color="#800"/><stop offset=".36" stop-color="#f00"/><stop offset=".392" stop-color="#f30"/><stop offset=".408" stop-color="#bf4"/><stop offset=".424" stop-color="#9f6"/><stop offset=".856" stop-color="#6f9"/></linearGradient>
<linearGradient id="d366" href="#vg"><stop offset=".008" stop-color="#00f"/><stop offset=".041" stop-color="#07f"/><stop offset=".057" stop-color="#0ff"/><stop offset=".073" stop-color="#bf4"/><stop offset=".089" stop-color="#fd0"/><stop offset=".106" stop-color="#f90"/><stop offset=".203" stop-color="#d00"/><stop offset=".219" stop-color="#800"/><stop offset=".301" stop-color="#800"/><stop offset=".317" stop-color="#d00"/><stop offset=".35" stop-color="#f30"/><stop offset=".366" stop-color="#6f9"/><stop offset=".382" stop-color="#4fb"/><stop offset=".853" stop-color="#1fe"/></linearGradient>
<linearGradient id="d367" href="#vg"><stop offset=".008" stop-color="#11f"/><stop offset=".024" stop-color="#00f"/><stop offset=".055" stop-color="#05f"/><stop offset=".087" stop-color="#0ff"/><stop offset=".118" stop-color="#ef1"/><stop offset=".134" stop-color="#fc0"/><stop offset=".244" stop-color="#e00"/><stop offset=".26" stop-color="#800"/><stop offset=".338" stop-color="#800"/><stop offset=".37" stop-color="#f00"/><stop offset=".386" stop-color="#f20"/><stop offset=".401" stop-color="#0ff"/><stop offset=".417" stop-color="#0ef"/><stop offset=".858" stop-color="#0af"/></linearGradient>
<linearGradient id="d368" href="#vg"><stop offset=".008" stop-color="#00f"/><stop offset=".025" stop-color="#02f"/><stop offset=".058" stop-color="#0af"/><stop offset=".074" stop-color="#4fb"/><stop offset=".091" stop-color="#ef1"/><stop offset=".124" stop-color="#f80"/><stop offset=".24" stop-color="#d00"/><stop offset=".256" stop-color="#800"/><stop offset=".355" stop-color="#800"/><stop offset=".388" stop-color="#e00"/><stop offset=".421" stop-color="#f30"/><stop offset=".438" stop-color="#0df"/><stop offset=".454" stop-color="#0bf"/><stop offset=".851" stop-color="#08f"/></linearGradient>
<linearGradient id="d369" href="#vg"><stop offset=".008" stop-color="#00f"/><stop offset=".042" stop-color="#07f"/><stop offset=".059" stop-color="#2fd"/><stop offset=".076" stop-color="#ff0"/><stop offset=".092" stop-color="#fa0"/><stop offset=".193" stop-color="#e00"/><stop offset=".21" stop-color="#800"/><stop offset=".244" stop-color="#800"/><stop offset=".311" stop-color="#900"/><stop offset=".328" stop-color="#f00"/><stop offset=".361" stop-color="#f40"/><stop offset=".378" stop-color="#0df"/><stop offset=".849" stop-color="#09f"/></linearGradient>
<linearGradient id="d370" href="#vg"><stop offset=".009" stop-color="#00f"/><stop offset=".043" stop-color="#0bf"/><stop offset=".061" stop-color="#8f7"/><stop offset=".078" stop-color="#fd0"/><stop offset=".096" stop-color="#f80"/><stop offset=".183" stop-color="#f00"/><stop offset=".217" stop-color="#800"/><stop offset=".304" stop-color="#800"/><stop offset=".322" stop-color="#e00"/><stop offset=".356" stop-color="#f40"/><stop offset=".374" stop-color="#0ef"/><stop offset=".843" stop-color="#0af"/></linearGradient>
<linearGradient id="d371" href="#vg"><stop offset=".008" stop-color="#00f"/><stop offset=".041" stop-color="#09f"/><stop offset=".058" stop-color="#3fc"/><stop offset=".074" stop-color="#ff0"/><stop offset=".107" stop-color="#f70"/><stop offset=".207" stop-color="#d00"/><stop offset=".223" stop-color="#800"/><stop offset=".322" stop-color="#800"/><stop offset=".339" stop-color="#e00"/><stop offset=".372" stop-color="#f30"/><stop offset=".388" stop-color="#0ff"/><stop offset=".851" stop-color="#0af"/></linearGradient>
<linearGradient id="d372" href="#vg"><stop offset=".008" stop-color="#00f"/><stop offset=".042" stop-color="#08f"/><stop offset=".059" stop-color="#2fd"/><stop offset=".076" stop-color="#ef1"/><stop offset=".109" stop-color="#f80"/><stop offset=".193" stop-color="#e00"/><stop offset=".227" stop-color="#800"/><stop offset=".311" stop-color="#900"/><stop offset=".328" stop-color="#f00"/><stop offset=".361" stop-color="#f40"/><stop offset=".849" stop-color="#f80"/></linearGradient>
<linearGradient id="d373" href="#vg"><stop offset=".008" stop-color="#01f"/><stop offset=".025" stop-color="#05f"/><stop offset=".041" stop-color="#0cf"/><stop offset=".058" stop-color="#8f7"/><stop offset=".074" stop-color="#fd0"/><stop offset=".091" stop-color="#f80"/><stop offset=".19" stop-color="#e00"/><stop offset=".223" stop-color="#800"/><stop offset=".306" stop-color="#800"/><stop offset=".339" stop-color="#f00"/><stop offset=".372" stop-color="#f40"/><stop offset=".851" stop-color="#f80"/></linearGradient>
<linearGradient id="d374" href="#vg"><stop offset=".008" stop-color="#01f"/><stop offset=".025" stop-color="#05f"/><stop offset=".041" stop-color="#0df"/><stop offset=".058" stop-color="#af5"/><stop offset=".074" stop-color="#fc0"/><stop offset=".091" stop-color="#f80"/><stop offset=".207" stop-color="#d00"/><stop offset=".223" stop-color="#800"/><stop offset=".339" stop-color="#900"/><stop offset=".355" stop-color="#e00"/><stop offset=".421" stop-color="#f50"/><stop offset=".851" stop-color="#f80"/></linearGradient>
<linearGradient id="d375" href="#vg"><stop offset=".008" stop-color="#00f"/><stop offset=".041" stop-color="#07f"/><stop offset=".058" stop-color="#1fe"/><stop offset=".074" stop-color="#ef1"/><stop offset=".107" stop-color="#f70"/><stop offset=".207" stop-color="#d00"/><stop offset=".223" stop-color="#800"/><stop offset=".273" stop-color="#800"/><stop offset=".322" stop-color="#a00"/><stop offset=".339" stop-color="#f00"/><stop offset=".388" stop-color="#f60"/><stop offset=".851" stop-color="#fa0"/></linearGradient>
<linearGradient id="d376" href="#vg"><stop offset=".008" stop-color="#11f"/><stop offset=".025" stop-color="#01f"/><stop offset=".058" stop-color="#0af"/><stop offset=".074" stop-color="#4fb"/><stop offset=".091" stop-color="#ef1"/><stop offset=".124" stop-color="#f70"/><stop offset=".14" stop-color="#f60"/><stop offset=".223" stop-color="#d00"/><stop offset=".24" stop-color="#800"/><stop offset=".322" stop-color="#800"/><stop offset=".339" stop-color="#d00"/><stop offset=".405" stop-color="#f80"/><stop offset=".851" stop-color="#fb0"/></linearGradient>
<linearGradient id="d377" href="#vg"><stop offset=".008" stop-color="#01f"/><stop offset=".025" stop-color="#05f"/><stop offset=".042" stop-color="#0cf"/><stop offset=".059" stop-color="#9f6"/><stop offset=".076" stop-color="#fd0"/><stop offset=".092" stop-color="#f80"/><stop offset=".193" stop-color="#e00"/><stop offset=".21" stop-color="#900"/><stop offset=".311" stop-color="#800"/><stop offset=".328" stop-color="#d00"/><stop offset=".344" stop-color="#f00"/><stop offset=".378" stop-color="#f40"/><stop offset=".395" stop-color="#0df"/><stop offset=".849" stop-color="#09f"/></linearGradient>
<linearGradient id="d378" href="#vg"><stop offset=".008" stop-color="#11f"/><stop offset=".024" stop-color="#00f"/><stop offset=".055" stop-color="#04f"/><stop offset=".102" stop-color="#1fe"/><stop offset=".134" stop-color="#ef1"/><stop offset=".165" stop-color="#fa0"/><stop offset=".276" stop-color="#d00"/><stop offset=".291" stop-color="#800"/><stop offset=".37" stop-color="#800"/><stop offset=".401" stop-color="#f00"/><stop offset=".433" stop-color="#f40"/><stop offset=".449" stop-color="#0ef"/><stop offset=".858" stop-color="#0af"/></linearGradient>
<linearGradient id="d379" href="#vg"><stop offset=".008" stop-color="#00f"/><stop offset=".057" stop-color="#07f"/><stop offset=".073" stop-color="#0df"/><stop offset=".106" stop-color="#ef1"/><stop offset=".138" stop-color="#f90"/><stop offset=".236" stop-color="#e00"/><stop offset=".252" stop-color="#800"/><stop offset=".333" stop-color="#800"/><stop offset=".35" stop-color="#c00"/><stop offset=".382" stop-color="#f30"/><stop offset=".398" stop-color="#0ef"/><stop offset=".415" stop-color="#0df"/><stop offset=".853" stop-color="#09f"/></linearGradient>
<linearGradient id="d380" href="#vg"><stop offset=".008" stop-color="#00f"/><stop offset=".041" stop-color="#07f"/><stop offset=".058" stop-color="#0ff"/><stop offset=".074" stop-color="#bf4"/><stop offset=".091" stop-color="#fd0"/><stop offset=".107" stop-color="#f90"/><stop offset=".19" stop-color="#e00"/><stop offset=".207" stop-color="#800"/><stop offset=".273" stop-color="#800"/><stop offset=".306" stop-color="#f00"/><stop offset=".322" stop-color="#f30"/><stop offset=".339" stop-color="#fb0"/><stop offset=".355" stop-color="#fd0"/><stop offset=".851" stop-color="#ef1"/></linearGradient>
<linearGradient id="d381" href="#vg"><stop offset=".008" stop-color="#00f"/><stop offset=".041" stop-color="#06f"/><stop offset=".058" stop-color="#0ff"/><stop offset=".074" stop-color="#df2"/><stop offset=".107" stop-color="#f80"/><stop offset=".207" stop-color="#e00"/><stop offset=".223" stop-color="#900"/><stop offset=".322" stop-color="#800"/><stop offset=".355" stop-color="#f00"/><stop offset=".405" stop-color="#f70"/><stop offset=".851" stop-color="#fb0"/></linearGradient>
<linearGradient id="d382" href="#vg"><stop offset=".008" stop-color="#00e"/><stop offset=".04" stop-color="#08f"/><stop offset=".056" stop-color="#3fc"/><stop offset=".072" stop-color="#ff0"/><stop offset=".088" stop-color="#fa0"/><stop offset=".2" stop-color="#e00"/><stop offset=".216" stop-color="#800"/><stop offset=".264" stop-color="#800"/><stop offset=".328" stop-color="#900"/><stop offset=".344" stop-color="#e00"/><stop offset=".376" stop-color="#f30"/><stop offset=".392" stop-color="#f80"/><stop offset=".408" stop-color="#fa0"/><stop offset=".856" stop-color="#fd0"/></linearGradient>
<linearGradient id="d383" href="#vg"><stop offset=".008" stop-color="#11f"/><stop offset=".023" stop-color="#00f"/><stop offset=".053" stop-color="#04f"/><stop offset=".098" stop-color="#1fe"/><stop offset=".128" stop-color="#ef1"/><stop offset=".158" stop-color="#fb0"/><stop offset=".263" stop-color="#e00"/><stop offset=".293" stop-color="#800"/><stop offset=".368" stop-color="#800"/><stop offset=".398" stop-color="#f00"/><stop offset=".428" stop-color="#f30"/><stop offset=".444" stop-color="#f90"/><stop offset=".864" stop-color="#fe0"/></linearGradient>
<linearGradient id="d384" href="#vg"><stop offset=".008" stop-color="#00f"/><stop offset=".054" stop-color="#08f"/><stop offset=".07" stop-color="#0ef"/><stop offset=".101" stop-color="#ef1"/><stop offset=".132" stop-color="#fa0"/><stop offset=".24" stop-color="#d00"/><stop offset=".256" stop-color="#800"/><stop offset=".349" stop-color="#900"/><stop offset=".364" stop-color="#e00"/><stop offset=".395" stop-color="#f30"/><stop offset=".411" stop-color="#fa0"/><stop offset=".426" stop-color="#fb0"/><stop offset=".86" stop-color="#fe0"/></linearGradient>
<linearGradient id="d385" href="#vg"><stop offset=".007" stop-color="#11f"/><stop offset=".022" stop-color="#00f"/><stop offset=".095" stop-color="#09f"/><stop offset=".124" stop-color="#3fc"/><stop offset=".153" stop-color="#ef1"/><stop offset=".285" stop-color="#e00"/><stop offset=".314" stop-color="#800"/><stop offset=".372" stop-color="#800"/><stop offset=".387" stop-color="#d00"/><stop offset=".416" stop-color="#f30"/><stop offset=".431" stop-color="#f90"/><stop offset=".445" stop-color="#fb0"/><stop offset=".868" stop-color="#fe0"/></linearGradient>
<linearGradient id="d386" href="#vg"><stop offset=".008" stop-color="#11f"/><stop offset=".023" stop-color="#00f"/><stop offset=".053" stop-color="#04f"/><stop offset=".099" stop-color="#0ff"/><stop offset=".13" stop-color="#ef1"/><stop offset=".176" stop-color="#f80"/><stop offset=".282" stop-color="#d00"/><stop offset=".298" stop-color="#800"/><stop offset=".389" stop-color="#800"/><stop offset=".404" stop-color="#e00"/><stop offset=".435" stop-color="#f30"/><stop offset=".45" stop-color="#f80"/><stop offset=".466" stop-color="#f90"/><stop offset=".862" stop-color="#fd0"/></linearGradient>
<linearGradient id="d387" href="#vg"><stop offset=".007" stop-color="#11f"/><stop offset=".022" stop-color="#00f"/><stop offset=".067" stop-color="#05f"/><stop offset=".111" stop-color="#2fd"/><stop offset=".141" stop-color="#ef1"/><stop offset=".244" stop-color="#f30"/><stop offset=".289" stop-color="#d00"/><stop offset=".304" stop-color="#800"/><stop offset=".378" stop-color="#800"/><stop offset=".407" stop-color="#f00"/><stop offset=".437" stop-color="#f40"/><stop offset=".452" stop-color="#fa0"/><stop offset=".866" stop-color="#fe0"/></linearGradient>
<linearGradient id="d388" href="#vg"><stop offset=".007" stop-color="#00f"/><stop offset=".022" stop-color="#00f"/><stop offset=".079" stop-color="#06f"/><stop offset=".122" stop-color="#1fe"/><stop offset=".165" stop-color="#ff0"/><stop offset=".309" stop-color="#e00"/><stop offset=".324" stop-color="#800"/><stop offset=".338" stop-color="#800"/><stop offset=".41" stop-color="#900"/><stop offset=".424" stop-color="#f00"/><stop offset=".439" stop-color="#f20"/><stop offset=".468" stop-color="#f80"/><stop offset=".87" stop-color="#fc0"/></linearGradient>
<linearGradient id="d389" href="#vg"><stop offset=".007" stop-color="#00f"/><stop offset=".065" stop-color="#05f"/><stop offset=".122" stop-color="#2fd"/><stop offset=".165" stop-color="#ff0"/><stop offset=".209" stop-color="#f90"/><stop offset=".324" stop-color="#d00"/><stop offset=".338" stop-color="#800"/><stop offset=".424" stop-color="#800"/><stop offset=".453" stop-color="#f00"/><stop offset=".496" stop-color="#f60"/><stop offset=".87" stop-color="#fa0"/></linearGradient>
<linearGradient id="d390" href="#vg"><stop offset=".007" stop-color="#11f"/><stop offset=".02" stop-color="#00f"/><stop offset=".099" stop-color="#05f"/><stop offset=".166" stop-color="#1fe"/><stop offset=".218" stop-color="#ef1"/><stop offset=".324" stop-color="#f50"/><stop offset=".377" stop-color="#d00"/><stop offset=".391" stop-color="#800"/><stop offset=".457" stop-color="#800"/><stop offset=".47" stop-color="#e00"/><stop offset=".51" stop-color="#f70"/><stop offset=".881" stop-color="#fb0"/></linearGradient>
<linearGradient id="d391" href="#vg"><stop offset=".007" stop-color="#11f"/><stop offset=".021" stop-color="#00f"/><stop offset=".091" stop-color="#05f"/><stop offset=".147" stop-color="#1fe"/><stop offset=".189" stop-color="#ef1"/><stop offset=".203" stop-color="#ff0"/><stop offset=".357" stop-color="#e00"/><stop offset=".371" stop-color="#800"/><stop offset=".454" stop-color="#800"/><stop offset=".482" stop-color="#f00"/><stop offset=".524" stop-color="#f60"/><stop offset=".874" stop-color="#fb0"/></linearGradient>
<linearGradient id="d392" href="#vg"><stop offset=".007" stop-color="#11f"/><stop offset=".021" stop-color="#00e"/><stop offset=".09" stop-color="#05f"/><stop offset=".145" stop-color="#0ef"/><stop offset=".2" stop-color="#ef1"/><stop offset=".365" stop-color="#e00"/><stop offset=".379" stop-color="#800"/><stop offset=".462" stop-color="#800"/><stop offset=".476" stop-color="#e00"/><stop offset=".531" stop-color="#f70"/><stop offset=".876" stop-color="#fb0"/></linearGradient>
<linearGradient id="d393" href="#vg"><stop offset=".007" stop-color="#11f"/><stop offset=".021" stop-color="#00e"/><stop offset=".077" stop-color="#05f"/><stop offset=".133" stop-color="#2fd"/><stop offset=".175" stop-color="#ff0"/><stop offset=".189" stop-color="#fd0"/><stop offset=".329" stop-color="#e00"/><stop offset=".357" stop-color="#800"/><stop offset=".44" stop-color="#800"/><stop offset=".454" stop-color="#d00"/><stop offset=".482" stop-color="#f20"/><stop offset=".51" stop-color="#f80"/><stop offset=".874" stop-color="#fc0"/></linearGradient>
<linearGradient id="d394" href="#vg"><stop offset=".007" stop-color="#00f"/><stop offset=".077" stop-color="#06f"/><stop offset=".119" stop-color="#0ff"/><stop offset=".161" stop-color="#df2"/><stop offset=".189" stop-color="#fd0"/><stop offset=".329" stop-color="#e00"/><stop offset=".357" stop-color="#800"/><stop offset=".44" stop-color="#800"/><stop offset=".468" stop-color="#e00"/><stop offset=".482" stop-color="#f10"/><stop offset=".524" stop-color="#f80"/><stop offset=".874" stop-color="#fc0"/></linearGradient>
<linearGradient id="d395" href="#vg"><stop offset=".003" stop-color="#2fd"/><stop offset=".1" stop-color="#af5"/><stop offset=".204" stop-color="#5fa"/><stop offset=".398" stop-color="#0ef"/><stop offset=".557" stop-color="#4fb"/><stop offset=".564" stop-color="#0ef"/><stop offset=".585" stop-color="#df2"/><stop offset=".619" stop-color="#f80"/><stop offset=".668" stop-color="#d00"/><stop offset=".675" stop-color="#800"/><stop offset=".723" stop-color="#900"/><stop offset=".73" stop-color="#e00"/><stop offset=".758" stop-color="#f50"/><stop offset=".938" stop-color="#f90"/></linearGradient>
<linearGradient id="d396" href="#vg"><stop offset=".007" stop-color="#11f"/><stop offset=".02" stop-color="#00f"/><stop offset=".088" stop-color="#06f"/><stop offset=".129" stop-color="#0ef"/><stop offset=".184" stop-color="#ef1"/><stop offset=".292" stop-color="#f40"/><stop offset=".36" stop-color="#d00"/><stop offset=".374" stop-color="#800"/><stop offset=".469" stop-color="#800"/><stop offset=".483" stop-color="#d00"/><stop offset=".496" stop-color="#f00"/><stop offset=".551" stop-color="#f70"/><stop offset=".877" stop-color="#fa0"/></linearGradient>
<linearGradient id="d397" href="#vg"><stop offset=".007" stop-color="#00f"/><stop offset=".077" stop-color="#06f"/><stop offset=".119" stop-color="#0ff"/><stop offset=".161" stop-color="#ef1"/><stop offset=".315" stop-color="#e00"/><stop offset=".343" stop-color="#800"/><stop offset=".426" stop-color="#800"/><stop offset=".44" stop-color="#e00"/><stop offset=".454" stop-color="#f10"/><stop offset=".496" stop-color="#f80"/><stop offset=".874" stop-color="#fc0"/></linearGradient>
<linearGradient id="d398" href="#vg"><stop offset=".007" stop-color="#00f"/><stop offset=".021" stop-color="#00f"/><stop offset=".09" stop-color="#06f"/><stop offset=".131" stop-color="#0ff"/><stop offset=".186" stop-color="#ff0"/><stop offset=".352" stop-color="#d00"/><stop offset=".365" stop-color="#800"/><stop offset=".462" stop-color="#800"/><stop offset=".476" stop-color="#d00"/><stop offset=".531" stop-color="#f60"/><stop offset=".876" stop-color="#fa0"/></linearGradient>
<linearGradient id="d399" href="#vg"><stop offset=".007" stop-color="#11f"/><stop offset=".02" stop-color="#00e"/><stop offset=".088" stop-color="#05f"/><stop offset=".143" stop-color="#1fe"/><stop offset=".184" stop-color="#ef1"/><stop offset=".347" stop-color="#e00"/><stop offset=".36" stop-color="#900"/><stop offset=".442" stop-color="#800"/><stop offset=".469" stop-color="#e00"/><stop offset=".524" stop-color="#f80"/><stop offset=".877" stop-color="#fb0"/></linearGradient>
<linearGradient id="d400" href="#vg"><stop offset=".007" stop-color="#11f"/><stop offset=".02" stop-color="#00f"/><stop offset=".088" stop-color="#05f"/><stop offset=".143" stop-color="#1fe"/><stop offset=".184" stop-color="#ef1"/><stop offset=".333" stop-color="#f00"/><stop offset=".374" stop-color="#800"/><stop offset=".456" stop-color="#800"/><stop offset=".483" stop-color="#f00"/><stop offset=".537" stop-color="#f80"/><stop offset=".877" stop-color="#fb0"/></linearGradient>
<linearGradient id="d401" href="#vg"><stop offset=".007" stop-color="#00f"/><stop offset=".076" stop-color="#05f"/><stop offset=".131" stop-color="#0ff"/><stop offset=".159" stop-color="#8f7"/><stop offset=".186" stop-color="#ff0"/><stop offset=".214" stop-color="#fb0"/><stop offset=".352" stop-color="#d00"/><stop offset=".365" stop-color="#800"/><stop offset=".462" stop-color="#800"/><stop offset=".476" stop-color="#e00"/><stop offset=".503" stop-color="#f20"/><stop offset=".531" stop-color="#f80"/><stop offset=".876" stop-color="#fc0"/></linearGradient>
<linearGradient id="d402" href="#vg"><stop offset=".007" stop-color="#11f"/><stop offset=".022" stop-color="#00f"/><stop offset=".065" stop-color="#04f"/><stop offset=".108" stop-color="#0ef"/><stop offset=".151" stop-color="#ef1"/><stop offset=".194" stop-color="#f90"/><stop offset=".309" stop-color="#e00"/><stop offset=".338" stop-color="#800"/><stop offset=".439" stop-color="#800"/><stop offset=".453" stop-color="#d00"/><stop offset=".511" stop-color="#f60"/><stop offset=".87" stop-color="#fb0"/></linearGradient>
<linearGradient id="d403" href="#vg"><stop offset=".007" stop-color="#11f"/><stop offset=".022" stop-color="#00f"/><stop offset=".067" stop-color="#05f"/><stop offset=".111" stop-color="#0ef"/><stop offset=".156" stop-color="#ef1"/><stop offset=".215" stop-color="#f80"/><stop offset=".318" stop-color="#d00"/><stop offset=".333" stop-color="#800"/><stop offset=".422" stop-color="#800"/><stop offset=".452" stop-color="#f00"/><stop offset=".511" stop-color="#f80"/><stop offset=".866" stop-color="#fb0"/></linearGradient>
<linearGradient id="d404" href="#vg"><stop offset=".008" stop-color="#00f"/><stop offset=".024" stop-color="#00f"/><stop offset=".071" stop-color="#05f"/><stop offset=".118" stop-color="#0ff"/><stop offset=".165" stop-color="#ff0"/><stop offset=".307" stop-color="#e00"/><stop offset=".338" stop-color="#800"/><stop offset=".417" stop-color="#800"/><stop offset=".433" stop-color="#e00"/><stop offset=".496" stop-color="#f60"/><stop offset=".858" stop-color="#fa0"/></linearGradient>
<linearGradient id="d405" href="#vg"><stop offset=".008" stop-color="#00f"/><stop offset=".057" stop-color="#04f"/><stop offset=".106" stop-color="#0ef"/><stop offset=".154" stop-color="#ff0"/><stop offset=".171" stop-color="#fd0"/><stop offset=".301" stop-color="#e00"/><stop offset=".317" stop-color="#800"/><stop offset=".415" stop-color="#900"/><stop offset=".431" stop-color="#f00"/><stop offset=".463" stop-color="#f40"/><stop offset=".853" stop-color="#f70"/></linearGradient>
<linearGradient id="d406" href="#vg"><stop offset=".008" stop-color="#00f"/><stop offset=".059" stop-color="#05f"/><stop offset=".092" stop-color="#0ef"/><stop offset=".126" stop-color="#df2"/><stop offset=".143" stop-color="#fe0"/><stop offset=".193" stop-color="#f70"/><stop offset=".277" stop-color="#d00"/><stop offset=".294" stop-color="#800"/><stop offset=".378" stop-color="#800"/><stop offset=".395" stop-color="#d00"/><stop offset=".462" stop-color="#f30"/><stop offset=".849" stop-color="#f70"/></linearGradient>
<linearGradient id="d407" href="#vg"><stop offset=".009" stop-color="#00f"/><stop offset=".044" stop-color="#05f"/><stop offset=".08" stop-color="#2fd"/><stop offset=".097" stop-color="#cf3"/><stop offset=".115" stop-color="#fd0"/><stop offset=".133" stop-color="#fa0"/><stop offset=".257" stop-color="#e00"/><stop offset=".292" stop-color="#800"/><stop offset=".398" stop-color="#800"/><stop offset=".416" stop-color="#e00"/><stop offset=".469" stop-color="#f40"/><stop offset=".84" stop-color="#f80"/></linearGradient>
<linearGradient id="d408" href="#vg"><stop offset=".009" stop-color="#11f"/><stop offset=".027" stop-color="#00f"/><stop offset=".045" stop-color="#03f"/><stop offset=".081" stop-color="#0cf"/><stop offset=".099" stop-color="#5fa"/><stop offset=".117" stop-color="#ef1"/><stop offset=".153" stop-color="#f90"/><stop offset=".261" stop-color="#e00"/><stop offset=".279" stop-color="#800"/><stop offset=".369" stop-color="#800"/><stop offset=".405" stop-color="#f00"/><stop offset=".459" stop-color="#f60"/><stop offset=".838" stop-color="#fa0"/></linearGradient>
<linearGradient id="d409" href="#vg"><stop offset=".009" stop-color="#00e"/><stop offset=".06" stop-color="#05f"/><stop offset=".094" stop-color="#0df"/><stop offset=".128" stop-color="#bf4"/><stop offset=".145" stop-color="#fe0"/><stop offset=".162" stop-color="#fc0"/><stop offset=".282" stop-color="#e00"/><stop offset=".316" stop-color="#800"/><stop offset=".402" stop-color="#800"/><stop offset=".419" stop-color="#e00"/><stop offset=".47" stop-color="#f50"/><stop offset=".846" stop-color="#fa0"/></linearGradient>
<linearGradient id="d410" href="#vg"><stop offset=".009" stop-color="#11f"/><stop offset=".027" stop-color="#00f"/><stop offset=".062" stop-color="#07f"/><stop offset=".08" stop-color="#0ef"/><stop offset=".115" stop-color="#ff0"/><stop offset=".15" stop-color="#f70"/><stop offset=".239" stop-color="#e00"/><stop offset=".257" stop-color="#800"/><stop offset=".345" stop-color="#800"/><stop offset=".363" stop-color="#f00"/><stop offset=".416" stop-color="#f50"/><stop offset=".84" stop-color="#f80"/></linearGradient>
<linearGradient id="d411" href="#vg"><stop offset=".009" stop-color="#01f"/><stop offset=".028" stop-color="#05f"/><stop offset=".047" stop-color="#0cf"/><stop offset=".065" stop-color="#9f6"/><stop offset=".084" stop-color="#fd0"/><stop offset=".103" stop-color="#f80"/><stop offset=".215" stop-color="#d00"/><stop offset=".234" stop-color="#800"/><stop offset=".346" stop-color="#900"/><stop offset=".364" stop-color="#e00"/><stop offset=".42" stop-color="#f60"/><stop offset=".832" stop-color="#fb0"/></linearGradient>
<linearGradient id="d412" href="#vg"><stop offset=".009" stop-color="#00f"/><stop offset=".047" stop-color="#07f"/><stop offset=".065" stop-color="#1fe"/><stop offset=".084" stop-color="#ef1"/><stop offset=".121" stop-color="#f80"/><stop offset=".215" stop-color="#e00"/><stop offset=".234" stop-color="#800"/><stop offset=".327" stop-color="#800"/><stop offset=".346" stop-color="#d00"/><stop offset=".402" stop-color="#f70"/><stop offset=".832" stop-color="#fb0"/></linearGradient>
<linearGradient id="d413" href="#vg"><stop offset=".009" stop-color="#00f"/><stop offset=".047" stop-color="#0af"/><stop offset=".065" stop-color="#7f8"/><stop offset=".084" stop-color="#fe0"/><stop offset=".103" stop-color="#f90"/><stop offset=".215" stop-color="#e00"/><stop offset=".234" stop-color="#800"/><stop offset=".346" stop-color="#800"/><stop offset=".364" stop-color="#e00"/><stop offset=".383" stop-color="#f10"/><stop offset=".42" stop-color="#f70"/><stop offset=".832" stop-color="#fc0"/></linearGradient>
<linearGradient id="d414" href="#vg"><stop offset=".009" stop-color="#00f"/><stop offset=".046" stop-color="#07f"/><stop offset=".064" stop-color="#2fd"/><stop offset=".083" stop-color="#ef1"/><stop offset=".119" stop-color="#f70"/><stop offset=".211" stop-color="#d00"/><stop offset=".229" stop-color="#800"/><stop offset=".321" stop-color="#800"/><stop offset=".339" stop-color="#e00"/><stop offset=".376" stop-color="#f40"/><stop offset=".394" stop-color="#fb0"/><stop offset=".835" stop-color="#ff0"/></linearGradient>
<linearGradient id="d415" href="#vg"><stop offset=".009" stop-color="#11f"/><stop offset=".028" stop-color="#01f"/><stop offset=".046" stop-color="#06f"/><stop offset=".064" stop-color="#0ef"/><stop offset=".083" stop-color="#cf3"/><stop offset=".101" stop-color="#fc0"/><stop offset=".119" stop-color="#f80"/><stop offset=".211" stop-color="#f00"/><stop offset=".248" stop-color="#800"/><stop offset=".339" stop-color="#800"/><stop offset=".358" stop-color="#e00"/><stop offset=".394" stop-color="#f30"/><stop offset=".413" stop-color="#fa0"/><stop offset=".431" stop-color="#fb0"/><stop offset=".835" stop-color="#ff0"/></linearGradient>
<linearGradient id="d416" href="#vg"><stop offset=".009" stop-color="#00f"/><stop offset=".027" stop-color="#02f"/><stop offset=".045" stop-color="#06f"/><stop offset=".063" stop-color="#0ef"/><stop offset=".081" stop-color="#bf4"/><stop offset=".099" stop-color="#fc0"/><stop offset=".117" stop-color="#f80"/><stop offset=".135" stop-color="#f60"/><stop offset=".225" stop-color="#d00"/><stop offset=".243" stop-color="#800"/><stop offset=".333" stop-color="#800"/><stop offset=".351" stop-color="#d00"/><stop offset=".423" stop-color="#f80"/><stop offset=".838" stop-color="#fb0"/></linearGradient>
<linearGradient id="d417" href="#vg"><stop offset=".009" stop-color="#01f"/><stop offset=".028" stop-color="#05f"/><stop offset=".046" stop-color="#0df"/><stop offset=".064" stop-color="#af5"/><stop offset=".083" stop-color="#fc0"/><stop offset=".101" stop-color="#f70"/><stop offset=".193" stop-color="#e00"/><stop offset=".211" stop-color="#900"/><stop offset=".303" stop-color="#800"/><stop offset=".339" stop-color="#f00"/><stop offset=".376" stop-color="#f70"/><stop offset=".394" stop-color="#f90"/><stop offset=".835" stop-color="#fc0"/></linearGradient>
<linearGradient id="d418" href="#vg"><stop offset=".009" stop-color="#00f"/><stop offset=".045" stop-color="#0af"/><stop offset=".063" stop-color="#6f9"/><stop offset=".081" stop-color="#fe0"/><stop offset=".099" stop-color="#f90"/><stop offset=".207" stop-color="#e00"/><stop offset=".225" stop-color="#800"/><stop offset=".333" stop-color="#800"/><stop offset=".351" stop-color="#e00"/><stop offset=".423" stop-color="#f40"/><stop offset=".838" stop-color="#f70"/></linearGradient>
<linearGradient id="d419" href="#vg"><stop offset=".009" stop-color="#00f"/><stop offset=".028" stop-color="#02f"/><stop offset=".046" stop-color="#07f"/><stop offset=".064" stop-color="#1fe"/><stop offset=".083" stop-color="#ef1"/><stop offset=".119" stop-color="#f70"/><stop offset=".211" stop-color="#e00"/><stop offset=".229" stop-color="#800"/><stop offset=".321" stop-color="#800"/><stop offset=".358" stop-color="#f00"/><stop offset=".376" stop-color="#f20"/><stop offset=".394" stop-color="#d00"/><stop offset=".413" stop-color="#e00"/><stop offset=".835" stop-color="#f30"/></linearGradient>
<linearGradient id="d420" href="#vg"><stop offset=".009" stop-color="#00f"/><stop offset=".027" stop-color="#02f"/><stop offset=".045" stop-color="#06f"/><stop offset=".063" stop-color="#1fe"/><stop offset=".081" stop-color="#ef1"/><stop offset=".117" stop-color="#f70"/><stop offset=".225" stop-color="#d00"/><stop offset=".243" stop-color="#800"/><stop offset=".333" stop-color="#800"/><stop offset=".369" stop-color="#f00"/><stop offset=".405" stop-color="#f30"/><stop offset=".423" stop-color="#f20"/><stop offset=".838" stop-color="#f60"/></linearGradient>
<linearGradient id="d421" href="#vg"><stop offset=".009" stop-color="#01f"/><stop offset=".028" stop-color="#05f"/><stop offset=".046" stop-color="#0cf"/><stop offset=".064" stop-color="#af5"/><stop offset=".083" stop-color="#fd0"/><stop offset=".101" stop-color="#f80"/><stop offset=".193" stop-color="#f00"/><stop offset=".229" stop-color="#800"/><stop offset=".321" stop-color="#800"/><stop offset=".339" stop-color="#e00"/><stop offset=".376" stop-color="#f30"/><stop offset=".394" stop-color="#f10"/><stop offset=".835" stop-color="#f50"/></linearGradient>
<linearGradient id="d422" href="#vg"><stop offset=".009" stop-color="#11f"/><stop offset=".027" stop-color="#01f"/><stop offset=".044" stop-color="#06f"/><stop offset=".062" stop-color="#0ef"/><stop offset=".08" stop-color="#cf3"/><stop offset=".097" stop-color="#fc0"/><stop offset=".115" stop-color="#f80"/><stop offset=".221" stop-color="#d00"/><stop offset=".239" stop-color="#800"/><stop offset=".345" stop-color="#900"/><stop offset=".363" stop-color="#e00"/><stop offset=".398" stop-color="#f30"/><stop offset=".416" stop-color="#f00"/><stop offset=".84" stop-color="#f50"/></linearGradient>
<linearGradient id="d423" href="#vg"><stop offset=".009" stop-color="#00f"/><stop offset=".044" stop-color="#0af"/><stop offset=".062" stop-color="#6f9"/><stop offset=".08" stop-color="#fe0"/><stop offset=".097" stop-color="#f90"/><stop offset=".221" stop-color="#e00"/><stop offset=".257" stop-color="#800"/><stop offset=".363" stop-color="#800"/><stop offset=".398" stop-color="#f00"/><stop offset=".434" stop-color="#f30"/><stop offset=".451" stop-color="#f00"/><stop offset=".469" stop-color="#f20"/><stop offset=".84" stop-color="#f50"/></linearGradient>
<linearGradient id="d424" href="#vg"><stop offset=".009" stop-color="#00f"/><stop offset=".045" stop-color="#07f"/><stop offset=".063" stop-color="#0ff"/><stop offset=".081" stop-color="#bf4"/><stop offset=".099" stop-color="#fd0"/><stop offset=".117" stop-color="#f90"/><stop offset=".225" stop-color="#e00"/><stop offset=".261" stop-color="#800"/><stop offset=".351" stop-color="#800"/><stop offset=".369" stop-color="#d00"/><stop offset=".441" stop-color="#f40"/><stop offset=".838" stop-color="#f70"/></linearGradient>
<linearGradient id="d425" href="#vg"><stop offset=".009" stop-color="#00f"/><stop offset=".027" stop-color="#02f"/><stop offset=".063" stop-color="#0bf"/><stop offset=".081" stop-color="#4fb"/><stop offset=".099" stop-color="#ef1"/><stop offset=".135" stop-color="#f90"/><stop offset=".243" stop-color="#e00"/><stop offset=".261" stop-color="#900"/><stop offset=".369" stop-color="#800"/><stop offset=".387" stop-color="#e00"/><stop offset=".423" stop-color="#f30"/><stop offset=".838" stop-color="#f70"/></linearGradient>
<linearGradient id="d426" href="#vg"><stop offset=".009" stop-color="#00f"/><stop offset=".045" stop-color="#07f"/><stop offset=".063" stop-color="#1fe"/><stop offset=".081" stop-color="#ef1"/><stop offset=".117" stop-color="#f70"/><stop offset=".207" stop-color="#e00"/><stop offset=".243" stop-color="#800"/><stop offset=".333" stop-color="#800"/><stop offset=".351" stop-color="#e00"/><stop offset=".423" stop-color="#f50"/><stop offset=".838" stop-color="#f80"/></linearGradient>
<linearGradient id="d427" href="#vg"><stop offset=".009" stop-color="#11f"/><stop offset=".027" stop-color="#01f"/><stop offset=".045" stop-color="#06f"/><stop offset=".063" stop-color="#0ef"/><stop offset=".081" stop-color="#cf3"/><stop offset=".099" stop-color="#fc0"/><stop offset=".117" stop-color="#f80"/><stop offset=".153" stop-color="#f50"/><stop offset=".225" stop-color="#d00"/><stop offset=".243" stop-color="#800"/><stop offset=".333" stop-color="#800"/><stop offset=".351" stop-color="#d00"/><stop offset=".387" stop-color="#f30"/><stop offset=".405" stop-color="#fd0"/><stop offset=".423" stop-color="#fe0"/><stop offset=".838" stop-color="#cf3"/></linearGradient>
<linearGradient id="d428" href="#vg"><stop offset=".009" stop-color="#00f"/><stop offset=".047" stop-color="#09f"/><stop offset=".065" stop-color="#5fa"/><stop offset=".084" stop-color="#fe0"/><stop offset=".103" stop-color="#f90"/><stop offset=".196" stop-color="#f00"/><stop offset=".234" stop-color="#800"/><stop offset=".308" stop-color="#800"/><stop offset=".346" stop-color="#f00"/><stop offset=".364" stop-color="#f30"/><stop offset=".383" stop-color="#df2"/><stop offset=".402" stop-color="#cf3"/><stop offset=".832" stop-color="#8f7"/></linearGradient>
<linearGradient id="d429" href="#vg"><stop offset=".009" stop-color="#01f"/><stop offset=".028" stop-color="#05f"/><stop offset=".046" stop-color="#0cf"/><stop offset=".064" stop-color="#9f6"/><stop offset=".083" stop-color="#fd0"/><stop offset=".101" stop-color="#f80"/><stop offset=".193" stop-color="#e00"/><stop offset=".211" stop-color="#800"/><stop offset=".229" stop-color="#800"/><stop offset=".303" stop-color="#900"/><stop offset=".321" stop-color="#f00"/><stop offset=".339" stop-color="#f20"/><stop offset=".358" stop-color="#ff0"/><stop offset=".376" stop-color="#df2"/><stop offset=".835" stop-color="#af5"/></linearGradient>
<linearGradient id="d430" href="#vg"><stop offset=".009" stop-color="#11f"/><stop offset=".027" stop-color="#01f"/><stop offset=".044" stop-color="#06f"/><stop offset=".062" stop-color="#0ef"/><stop offset=".08" stop-color="#cf3"/><stop offset=".097" stop-color="#fc0"/><stop offset=".115" stop-color="#f80"/><stop offset=".221" stop-color="#d00"/><stop offset=".239" stop-color="#800"/><stop offset=".345" stop-color="#800"/><stop offset=".363" stop-color="#e00"/><stop offset=".398" stop-color="#f30"/><stop offset=".416" stop-color="#cf3"/><stop offset=".434" stop-color="#af5"/><stop offset=".84" stop-color="#7f8"/></linearGradient>
<linearGradient id="d431" href="#vg"><stop offset=".009" stop-color="#00f"/><stop offset=".047" stop-color="#06f"/><stop offset=".065" stop-color="#0df"/><stop offset=".103" stop-color="#fe0"/><stop offset=".121" stop-color="#fa0"/><stop offset=".234" stop-color="#e00"/><stop offset=".252" stop-color="#900"/><stop offset=".271" stop-color="#800"/><stop offset=".364" stop-color="#800"/><stop offset=".383" stop-color="#e00"/><stop offset=".42" stop-color="#f40"/><stop offset=".439" stop-color="#af5"/><stop offset=".832" stop-color="#6f9"/></linearGradient>
<linearGradient id="d432" href="#vg"><stop offset=".009" stop-color="#00f"/><stop offset=".046" stop-color="#06f"/><stop offset=".064" stop-color="#0ef"/><stop offset=".101" stop-color="#fe0"/><stop offset=".119" stop-color="#fa0"/><stop offset=".229" stop-color="#e00"/><stop offset=".266" stop-color="#800"/><stop offset=".358" stop-color="#800"/><stop offset=".376" stop-color="#e00"/><stop offset=".413" stop-color="#f30"/><stop offset=".431" stop-color="#bf4"/><stop offset=".835" stop-color="#6f9"/></linearGradient>
<linearGradient id="d433" href="#vg"><stop offset=".009" stop-color="#00f"/><stop offset=".047" stop-color="#06f"/><stop offset=".065" stop-color="#0ef"/><stop offset=".103" stop-color="#fe0"/><stop offset=".121" stop-color="#fa0"/><stop offset=".215" stop-color="#f00"/><stop offset=".252" stop-color="#800"/><stop offset=".327" stop-color="#800"/><stop offset=".346" stop-color="#e00"/><stop offset=".383" stop-color="#f40"/><stop offset=".402" stop-color="#af5"/><stop offset=".832" stop-color="#6f9"/></linearGradient>
<linearGradient id="d434" href="#vg"><stop offset=".009" stop-color="#01f"/><stop offset=".028" stop-color="#05f"/><stop offset=".046" stop-color="#0cf"/><stop offset=".064" stop-color="#9f6"/><stop offset=".083" stop-color="#fd0"/><stop offset=".101" stop-color="#f80"/><stop offset=".211" stop-color="#e00"/><stop offset=".248" stop-color="#800"/><stop offset=".303" stop-color="#800"/><stop offset=".358" stop-color="#a00"/><stop offset=".376" stop-color="#e00"/><stop offset=".413" stop-color="#f30"/><stop offset=".431" stop-color="#df2"/><stop offset=".449" stop-color="#cf3"/><stop offset=".835" stop-color="#9f6"/></linearGradient>
<g id="base" shape-rendering="crispEdges"><rect x="55" y="389.8" width="3" height="63.7" fill="url(#d0)"/><rect x="58" y="390.4" width="3" height="63.1" fill="url(#d1)"/><rect x="61" y="382.2" width="3" height="71.3" fill="url(#d2)"/><rect x="64" y="376.9" width="3" height="76.6" fill="url(#d3)"/><rect x="67" y="378.6" width="3" height="74.9" fill="url(#d4)"/><rect x="70" y="381.6" width="3" height="71.9" fill="url(#d5)"/><rect x="73" y="381.6" width="3" height="71.9" fill="url(#d6)"/><rect x="76" y="364.5" width="3" height="89" fill="url(#d7)"/><rect x="79" y="363.4" width="3" height="90.1" fill="url(#d8)"/><rect x="82" y="362.8" width="3" height="90.7" fill="url(#d9)"/><rect x="85" y="362.8" width="3" height="90.7" fill="url(#d10)"/><rect x="88" y="363.4" width="3" height="90.1" fill="url(#d11)"/><rect x="91" y="364.5" width="3" height="89" fill="url(#d12)"/><rect x="94" y="383.3" width="3" height="70.2" fill="url(#d13)"/><rect x="97" y="388.6" width="3" height="64.9" fill="url(#d14)"/><rect x="100" y="393.9" width="3" height="59.6" fill="url(#d15)"/><rect x="103" y="396.8" width="3" height="56.7" fill="url(#d16)"/><rect x="106" y="399.8" width="3" height="53.7" fill="url(#d17)"/><rect x="109" y="402.7" width="3" height="50.8" fill="url(#d18)"/><rect x="112" y="405.1" width="3" height="48.4" fill="url(#d19)"/><rect x="115" y="406.8" width="3" height="46.7" fill="url(#d20)"/><rect x="118" y="406.2" width="3" height="47.3" fill="url(#d21)"/><rect x="121" y="408.6" width="3" height="44.9" fill="url(#d22)"/><rect x="124" y="407.4" width="3" height="46.1" fill="url(#d23)"/><rect x="127" y="404.5" width="3" height="49" fill="url(#d24)"/><rect x="130" y="402.7" width="3" height="50.8" fill="url(#d25)"/><rect x="133" y="401.5" width="3" height="52" fill="url(#d26)"/><rect x="136" y="400.9" width="3" height="52.6" fill="url(#d27)"/><rect x="139" y="400.9" width="3" height="52.6" fill="url(#d28)"/><rect x="142" y="402.1" width="3" height="51.4" fill="url(#d29)"/><rect x="145" y="399.8" width="3" height="53.7" fill="url(#d30)"/><rect x="148" y="398" width="3" height="55.5" fill="url(#d31)"/><rect x="151" y="399.8" width="3" height="53.7" fill="url(#d32)"/><rect x="154" y="401.5" width="3" height="52" fill="url(#d33)"/><rect x="157" y="400.9" width="3" height="52.6" fill="url(#d34)"/><rect x="160" y="401.5" width="3" height="52" fill="url(#d35)"/><rect x="163" y="400.9" width="3" height="52.6" fill="url(#d36)"/><rect x="166" y="401.5" width="3" height="52" fill="url(#d37)"/><rect x="169" y="400.9" width="3" height="52.6" fill="url(#d38)"/><rect x="172" y="401.5" width="3" height="52" fill="url(#d39)"/><rect x="175" y="400.4" width="3" height="53.1" fill="url(#d40)"/><rect x="178" y="388.6" width="3" height="64.9" fill="url(#d41)"/><rect x="181" y="388.6" width="3" height="64.9" fill="url(#d42)"/><rect x="184" y="388.6" width="3" height="64.9" fill="url(#d43)"/><rect x="187" y="388.6" width="3" height="64.9" fill="url(#d44)"/><rect x="190" y="388.6" width="3" height="64.9" fill="url(#d45)"/><rect x="193" y="390.4" width="3" height="63.1" fill="url(#d46)"/><rect x="196" y="391.5" width="3" height="62" fill="url(#d47)"/><rect x="199" y="392.7" width="3" height="60.8" fill="url(#d48)"/><rect x="202" y="394.5" width="3" height="59" fill="url(#d49)"/><rect x="205" y="395.7" width="3" height="57.8" fill="url(#d50)"/><rect x="208" y="396.8" width="3" height="56.7" fill="url(#d51)"/><rect x="211" y="399.2" width="3" height="54.3" fill="url(#d52)"/><rect x="214" y="402.7" width="3" height="50.8" fill="url(#d53)"/><rect x="217" y="403.9" width="3" height="49.6" fill="url(#d54)"/><rect x="220" y="402.7" width="3" height="50.8" fill="url(#d55)"/><rect x="223" y="402.7" width="3" height="50.8" fill="url(#d56)"/><rect x="226" y="400.4" width="3" height="53.1" fill="url(#d57)"/><rect x="229" y="397.4" width="3" height="56.1" fill="url(#d58)"/><rect x="232" y="396.8" width="3" height="56.7" fill="url(#d59)"/><rect x="235" y="397.4" width="3" height="56.1" fill="url(#d60)"/><rect x="238" y="397.4" width="3" height="56.1" fill="url(#d61)"/><rect x="241" y="396.8" width="3" height="56.7" fill="url(#d62)"/><rect x="244" y="396.8" width="3" height="56.7" fill="url(#d63)"/><rect x="247" y="397.4" width="3" height="56.1" fill="url(#d64)"/><rect x="250" y="396.8" width="3" height="56.7" fill="url(#d65)"/><rect x="253" y="398" width="3" height="55.5" fill="url(#d66)"/><rect x="256" y="397.4" width="3" height="56.1" fill="url(#d67)"/><rect x="259" y="400.4" width="3" height="53.1" fill="url(#d68)"/><rect x="262" y="402.7" width="3" height="50.8" fill="url(#d69)"/><rect x="265" y="402.1" width="3" height="51.4" fill="url(#d70)"/><rect x="268" y="402.7" width="3" height="50.8" fill="url(#d71)"/><rect x="271" y="403.3" width="3" height="50.2" fill="url(#d72)"/><rect x="274" y="404.5" width="3" height="49" fill="url(#d73)"/><rect x="277" y="406.2" width="3" height="47.3" fill="url(#d74)"/><rect x="280" y="407.4" width="3" height="46.1" fill="url(#d75)"/><rect x="283" y="408.6" width="3" height="44.9" fill="url(#d76)"/><rect x="286" y="409.7" width="3" height="43.8" fill="url(#d77)"/><rect x="289" y="410.3" width="3" height="43.2" fill="url(#d78)"/><rect x="292" y="410.9" width="3" height="42.6" fill="url(#d79)"/><rect x="295" y="412.1" width="3" height="41.4" fill="url(#d80)"/><rect x="298" y="411.5" width="3" height="42" fill="url(#d81)"/><rect x="301" y="412.7" width="3" height="40.8" fill="url(#d82)"/><rect x="304" y="413.3" width="3" height="40.2" fill="url(#d83)"/><rect x="307" y="413.3" width="3" height="40.2" fill="url(#d84)"/><rect x="310" y="415.6" width="3" height="37.9" fill="url(#d85)"/><rect x="313" y="415.6" width="3" height="37.9" fill="url(#d86)"/><rect x="316" y="417.4" width="3" height="36.1" fill="url(#d87)"/><rect x="319" y="418.6" width="3" height="34.9" fill="url(#d88)"/><rect x="322" y="419.7" width="3" height="33.8" fill="url(#d89)"/><rect x="325" y="419.7" width="3" height="33.8" fill="url(#d90)"/><rect x="328" y="420.9" width="3" height="32.6" fill="url(#d91)"/><rect x="331" y="420.3" width="3" height="33.2" fill="url(#d92)"/><rect x="334" y="421.5" width="3" height="32" fill="url(#d93)"/><rect x="337" y="421.5" width="3" height="32" fill="url(#d94)"/><rect x="340" y="422.1" width="3" height="31.4" fill="url(#d95)"/><rect x="343" y="422.7" width="3" height="30.8" fill="url(#d96)"/><rect x="346" y="422.7" width="3" height="30.8" fill="url(#d97)"/><rect x="349" y="423.3" width="3" height="30.2" fill="url(#d98)"/><rect x="352" y="424.4" width="3" height="29.1" fill="url(#d99)"/><rect x="355" y="424.4" width="3" height="29.1" fill="url(#d100)"/><rect x="358" y="425" width="3" height="28.5" fill="url(#d101)"/><rect x="361" y="425.6" width="3" height="27.9" fill="url(#d102)"/><rect x="364" y="426.2" width="3" height="27.3" fill="url(#d103)"/><rect x="367" y="426.8" width="3" height="26.7" fill="url(#d104)"/><rect x="370" y="426.8" width="3" height="26.7" fill="url(#d105)"/><rect x="373" y="427.4" width="3" height="26.1" fill="url(#d106)"/><rect x="376" y="427.9" width="3" height="25.6" fill="url(#d107)"/><rect x="379" y="427.9" width="3" height="25.6" fill="url(#d108)"/><rect x="382" y="428.5" width="3" height="25" fill="url(#d109)"/><rect x="385" y="429.1" width="3" height="24.4" fill="url(#d110)"/><rect x="388" y="429.1" width="3" height="24.4" fill="url(#d111)"/><rect x="391" y="429.7" width="3" height="23.8" fill="url(#d112)"/><rect x="394" y="429.7" width="3" height="23.8" fill="url(#d113)"/><rect x="397" y="429.1" width="3" height="24.4" fill="url(#d114)"/><rect x="400" y="429.1" width="3" height="24.4" fill="url(#d115)"/><rect x="403" y="428.5" width="3" height="25" fill="url(#d116)"/><rect x="406" y="428.5" width="3" height="25" fill="url(#d117)"/><rect x="409" y="428.5" width="3" height="25" fill="url(#d118)"/><rect x="412" y="428.5" width="3" height="25" fill="url(#d119)"/><rect x="415" y="427.9" width="3" height="25.6" fill="url(#d120)"/><rect x="418" y="426.8" width="3" height="26.7" fill="url(#d121)"/><rect x="421" y="426.2" width="3" height="27.3" fill="url(#d122)"/><rect x="424" y="425" width="3" height="28.5" fill="url(#d123)"/><rect x="427" y="424.4" width="3" height="29.1" fill="url(#d124)"/><rect x="430" y="423.3" width="3" height="30.2" fill="url(#d125)"/><rect x="433" y="422.1" width="3" height="31.4" fill="url(#d126)"/><rect x="436" y="420.3" width="3" height="33.2" fill="url(#d127)"/><rect x="439" y="418" width="3" height="35.5" fill="url(#d128)"/><rect x="442" y="410.9" width="3" height="42.6" fill="url(#d129)"/><rect x="445" y="391" width="3" height="62.5" fill="url(#d130)"/><rect x="448" y="388.6" width="3" height="64.9" fill="url(#d131)"/><rect x="451" y="389.2" width="3" height="64.3" fill="url(#d132)"/><rect x="454" y="415" width="3" height="38.5" fill="url(#d133)"/><rect x="457" y="415" width="3" height="38.5" fill="url(#d134)"/><rect x="460" y="384.5" width="3" height="69" fill="url(#d135)"/><rect x="463" y="385.1" width="3" height="68.4" fill="url(#d136)"/><rect x="466" y="384.5" width="3" height="69" fill="url(#d137)"/><rect x="469" y="383.3" width="3" height="70.2" fill="url(#d138)"/><rect x="472" y="383.3" width="3" height="70.2" fill="url(#d139)"/><rect x="475" y="380.4" width="3" height="73.1" fill="url(#d140)"/><rect x="478" y="379.2" width="3" height="74.3" fill="url(#d141)"/><rect x="481" y="379.2" width="3" height="74.3" fill="url(#d142)"/><rect x="484" y="381.6" width="3" height="71.9" fill="url(#d143)"/><rect x="487" y="384.5" width="3" height="69" fill="url(#d144)"/><rect x="490" y="387.4" width="3" height="66.1" fill="url(#d145)"/><rect x="493" y="393.3" width="3" height="60.2" fill="url(#d146)"/><rect x="496" y="398.6" width="3" height="54.9" fill="url(#d147)"/><rect x="499" y="398.6" width="3" height="54.9" fill="url(#d148)"/><rect x="502" y="393.9" width="3" height="59.6" fill="url(#d149)"/><rect x="505" y="388" width="3" height="65.5" fill="url(#d150)"/><rect x="508" y="388.6" width="3" height="64.9" fill="url(#d151)"/><rect x="511" y="389.2" width="3" height="64.3" fill="url(#d152)"/><rect x="514" y="388.6" width="3" height="64.9" fill="url(#d153)"/><rect x="517" y="392.7" width="3" height="60.8" fill="url(#d154)"/><rect x="520" y="388.6" width="3" height="64.9" fill="url(#d155)"/><rect x="523" y="383.9" width="3" height="69.6" fill="url(#d156)"/><rect x="526" y="382.7" width="3" height="70.8" fill="url(#d157)"/><rect x="529" y="383.3" width="3" height="70.2" fill="url(#d158)"/><rect x="532" y="383.3" width="3" height="70.2" fill="url(#d159)"/><rect x="535" y="382.7" width="3" height="70.8" fill="url(#d160)"/><rect x="538" y="393.9" width="3" height="59.6" fill="url(#d161)"/><rect x="541" y="397.4" width="3" height="56.1" fill="url(#d162)"/><rect x="544" y="401.5" width="3" height="52" fill="url(#d163)"/><rect x="547" y="402.1" width="3" height="51.4" fill="url(#d164)"/><rect x="550" y="403.3" width="3" height="50.2" fill="url(#d165)"/><rect x="553" y="400.9" width="3" height="52.6" fill="url(#d166)"/><rect x="556" y="399.2" width="3" height="54.3" fill="url(#d167)"/><rect x="559" y="399.2" width="3" height="54.3" fill="url(#d168)"/><rect x="562" y="399.2" width="3" height="54.3" fill="url(#d169)"/><rect x="565" y="403.3" width="3" height="50.2" fill="url(#d170)"/><rect x="568" y="404.5" width="3" height="49" fill="url(#d171)"/><rect x="571" y="404.5" width="3" height="49" fill="url(#d172)"/><rect x="574" y="403.3" width="3" height="50.2" fill="url(#d173)"/><rect x="577" y="401.5" width="3" height="52" fill="url(#d174)"/><rect x="580" y="402.7" width="3" height="50.8" fill="url(#d175)"/><rect x="583" y="403.9" width="3" height="49.6" fill="url(#d176)"/><rect x="586" y="404.5" width="3" height="49" fill="url(#d177)"/><rect x="589" y="405.1" width="3" height="48.4" fill="url(#d178)"/><rect x="592" y="405.1" width="3" height="48.4" fill="url(#d179)"/><rect x="595" y="404.5" width="3" height="49" fill="url(#d180)"/><rect x="598" y="404.5" width="3" height="49" fill="url(#d181)"/><rect x="601" y="403.9" width="3" height="49.6" fill="url(#d182)"/><rect x="604" y="405.6" width="3" height="47.9" fill="url(#d183)"/><rect x="607" y="406.8" width="3" height="46.7" fill="url(#d184)"/><rect x="610" y="409.7" width="3" height="43.8" fill="url(#d185)"/><rect x="613" y="410.3" width="3" height="43.2" fill="url(#d186)"/><rect x="616" y="410.9" width="3" height="42.6" fill="url(#d187)"/><rect x="619" y="410.9" width="3" height="42.6" fill="url(#d188)"/><rect x="622" y="412.1" width="3" height="41.4" fill="url(#d189)"/><rect x="625" y="409.7" width="3" height="43.8" fill="url(#d190)"/><rect x="628" y="405.1" width="3" height="48.4" fill="url(#d191)"/><rect x="631" y="401.5" width="3" height="52" fill="url(#d192)"/><rect x="634" y="397.4" width="3" height="56.1" fill="url(#d193)"/><rect x="637" y="399.8" width="3" height="53.7" fill="url(#d194)"/><rect x="640" y="403.9" width="3" height="49.6" fill="url(#d195)"/><rect x="643" y="406.8" width="3" height="46.7" fill="url(#d196)"/><rect x="646" y="405.6" width="3" height="47.9" fill="url(#d197)"/><rect x="649" y="406.8" width="3" height="46.7" fill="url(#d198)"/><rect x="652" y="406.2" width="3" height="47.3" fill="url(#d199)"/><rect x="655" y="407.4" width="3" height="46.1" fill="url(#d200)"/><rect x="658" y="406.8" width="3" height="46.7" fill="url(#d201)"/><rect x="661" y="406.2" width="3" height="47.3" fill="url(#d202)"/><rect x="664" y="405.1" width="3" height="48.4" fill="url(#d203)"/><rect x="667" y="403.9" width="3" height="49.6" fill="url(#d204)"/><rect x="670" y="404.5" width="3" height="49" fill="url(#d205)"/><rect x="673" y="406.8" width="3" height="46.7" fill="url(#d206)"/><rect x="676" y="410.9" width="3" height="42.6" fill="url(#d207)"/><rect x="679" y="412.1" width="3" height="41.4" fill="url(#d208)"/><rect x="682" y="412.1" width="3" height="41.4" fill="url(#d209)"/><rect x="685" y="413.9" width="3" height="39.6" fill="url(#d210)"/><rect x="688" y="415.6" width="3" height="37.9" fill="url(#d211)"/><rect x="691" y="415" width="3" height="38.5" fill="url(#d212)"/><rect x="694" y="416.2" width="3" height="37.3" fill="url(#d213)"/><rect x="697" y="415" width="3" height="38.5" fill="url(#d214)"/><rect x="700" y="416.8" width="3" height="36.7" fill="url(#d215)"/><rect x="703" y="416.2" width="3" height="37.3" fill="url(#d216)"/><rect x="706" y="416.2" width="3" height="37.3" fill="url(#d217)"/><rect x="709" y="418" width="3" height="35.5" fill="url(#d218)"/><rect x="712" y="418.6" width="3" height="34.9" fill="url(#d219)"/><rect x="715" y="418.6" width="3" height="34.9" fill="url(#d220)"/><rect x="718" y="420.3" width="3" height="33.2" fill="url(#d221)"/><rect x="721" y="420.3" width="3" height="33.2" fill="url(#d222)"/><rect x="724" y="419.1" width="3" height="34.4" fill="url(#d223)"/><rect x="727" y="419.1" width="3" height="34.4" fill="url(#d224)"/><rect x="730" y="419.1" width="3" height="34.4" fill="url(#d225)"/><rect x="733" y="420.3" width="3" height="33.2" fill="url(#d226)"/><rect x="736" y="420.9" width="3" height="32.6" fill="url(#d227)"/><rect x="739" y="420.3" width="3" height="33.2" fill="url(#d228)"/><rect x="742" y="421.5" width="3" height="32" fill="url(#d229)"/><rect x="745" y="422.7" width="3" height="30.8" fill="url(#d230)"/><rect x="748" y="422.1" width="3" height="31.4" fill="url(#d231)"/><rect x="751" y="420.3" width="3" height="33.2" fill="url(#d232)"/><rect x="754" y="422.1" width="3" height="31.4" fill="url(#d233)"/><rect x="757" y="423.3" width="3" height="30.2" fill="url(#d234)"/><rect x="760" y="422.1" width="3" height="31.4" fill="url(#d235)"/><rect x="763" y="421.5" width="3" height="32" fill="url(#d236)"/><rect x="766" y="421.5" width="3" height="32" fill="url(#d237)"/><rect x="769" y="421.5" width="3" height="32" fill="url(#d238)"/><rect x="772" y="422.7" width="3" height="30.8" fill="url(#d239)"/><rect x="775" y="421.5" width="3" height="32" fill="url(#d240)"/><rect x="778" y="420.9" width="3" height="32.6" fill="url(#d241)"/><rect x="781" y="422.1" width="3" height="31.4" fill="url(#d242)"/><rect x="784" y="420.9" width="3" height="32.6" fill="url(#d243)"/><rect x="787" y="421.5" width="3" height="32" fill="url(#d244)"/><rect x="790" y="420.9" width="3" height="32.6" fill="url(#d245)"/><rect x="793" y="421.5" width="3" height="32" fill="url(#d246)"/><rect x="796" y="420.9" width="3" height="32.6" fill="url(#d247)"/><rect x="799" y="421.5" width="3" height="32" fill="url(#d248)"/><rect x="802" y="420.3" width="3" height="33.2" fill="url(#d249)"/><rect x="805" y="422.1" width="3" height="31.4" fill="url(#d250)"/><rect x="808" y="421.5" width="3" height="32" fill="url(#d251)"/><rect x="811" y="422.1" width="3" height="31.4" fill="url(#d252)"/><rect x="814" y="420.9" width="3" height="32.6" fill="url(#d253)"/><rect x="817" y="422.1" width="3" height="31.4" fill="url(#d254)"/><rect x="820" y="421.5" width="3" height="32" fill="url(#d255)"/><rect x="823" y="422.1" width="3" height="31.4" fill="url(#d256)"/><rect x="826" y="422.1" width="3" height="31.4" fill="url(#d257)"/><rect x="829" y="420.9" width="3" height="32.6" fill="url(#d258)"/><rect x="832" y="421.5" width="3" height="32" fill="url(#d259)"/><rect x="835" y="420.9" width="3" height="32.6" fill="url(#d260)"/><rect x="838" y="421.5" width="3" height="32" fill="url(#d261)"/><rect x="841" y="420.3" width="3" height="33.2" fill="url(#d262)"/><rect x="844" y="422.1" width="3" height="31.4" fill="url(#d263)"/><rect x="847" y="421.5" width="3" height="32" fill="url(#d264)"/><rect x="850" y="420.9" width="3" height="32.6" fill="url(#d265)"/><rect x="853" y="420.9" width="3" height="32.6" fill="url(#d266)"/><rect x="856" y="421.5" width="3" height="32" fill="url(#d267)"/><rect x="859" y="419.7" width="3" height="33.8" fill="url(#d268)"/><rect x="862" y="418.6" width="3" height="34.9" fill="url(#d269)"/><rect x="865" y="418" width="3" height="35.5" fill="url(#d270)"/><rect x="868" y="419.1" width="3" height="34.4" fill="url(#d271)"/><rect x="871" y="416.8" width="3" height="36.7" fill="url(#d272)"/><rect x="874" y="416.2" width="3" height="37.3" fill="url(#d273)"/><rect x="877" y="416.8" width="3" height="36.7" fill="url(#d274)"/><rect x="880" y="417.4" width="3" height="36.1" fill="url(#d275)"/><rect x="883" y="417.4" width="3" height="36.1" fill="url(#d276)"/><rect x="886" y="417.4" width="3" height="36.1" fill="url(#d277)"/><rect x="889" y="417.4" width="3" height="36.1" fill="url(#d278)"/><rect x="892" y="416.8" width="3" height="36.7" fill="url(#d279)"/><rect x="895" y="419.7" width="3" height="33.8" fill="url(#d280)"/><rect x="898" y="420.3" width="3" height="33.2" fill="url(#d281)"/><rect x="901" y="422.1" width="3" height="31.4" fill="url(#d282)"/><rect x="904" y="422.1" width="3" height="31.4" fill="url(#d283)"/><rect x="907" y="423.8" width="3" height="29.7" fill="url(#d284)"/><rect x="910" y="424.4" width="3" height="29.1" fill="url(#d285)"/><rect x="913" y="423.3" width="3" height="30.2" fill="url(#d286)"/><rect x="916" y="424.4" width="3" height="29.1" fill="url(#d287)"/><rect x="919" y="424.4" width="3" height="29.1" fill="url(#d288)"/><rect x="922" y="425" width="3" height="28.5" fill="url(#d289)"/><rect x="925" y="424.4" width="3" height="29.1" fill="url(#d290)"/><rect x="928" y="423.8" width="3" height="29.7" fill="url(#d291)"/><rect x="931" y="422.7" width="3" height="30.8" fill="url(#d292)"/><rect x="934" y="423.3" width="3" height="30.2" fill="url(#d293)"/><rect x="937" y="423.8" width="3" height="29.7" fill="url(#d294)"/><rect x="940" y="423.8" width="3" height="29.7" fill="url(#d295)"/><rect x="943" y="423.8" width="3" height="29.7" fill="url(#d296)"/><rect x="946" y="424.4" width="3" height="29.1" fill="url(#d297)"/><rect x="949" y="424.4" width="3" height="29.1" fill="url(#d298)"/><rect x="952" y="423.8" width="3" height="29.7" fill="url(#d299)"/><rect x="955" y="425" width="3" height="28.5" fill="url(#d300)"/><rect x="958" y="425.6" width="3" height="27.9" fill="url(#d301)"/><rect x="961" y="425.6" width="3" height="27.9" fill="url(#d302)"/><rect x="964" y="425" width="3" height="28.5" fill="url(#d303)"/><rect x="967" y="423.8" width="3" height="29.7" fill="url(#d304)"/><rect x="970" y="424.4" width="3" height="29.1" fill="url(#d305)"/><rect x="973" y="425.6" width="3" height="27.9" fill="url(#d306)"/><rect x="976" y="425" width="3" height="28.5" fill="url(#d307)"/><rect x="979" y="425" width="3" height="28.5" fill="url(#d308)"/><rect x="982" y="425" width="3" height="28.5" fill="url(#d309)"/><rect x="985" y="425" width="3" height="28.5" fill="url(#d310)"/><rect x="988" y="425.6" width="3" height="27.9" fill="url(#d311)"/><rect x="991" y="425" width="3" height="28.5" fill="url(#d312)"/><rect x="994" y="425" width="3" height="28.5" fill="url(#d313)"/><rect x="997" y="423.8" width="3" height="29.7" fill="url(#d314)"/><rect x="1000" y="423.3" width="3" height="30.2" fill="url(#d315)"/><rect x="1003" y="425" width="3" height="28.5" fill="url(#d316)"/><rect x="1006" y="423.3" width="3" height="30.2" fill="url(#d317)"/><rect x="1009" y="423.8" width="3" height="29.7" fill="url(#d318)"/><rect x="1012" y="424.4" width="3" height="29.1" fill="url(#d319)"/><rect x="1015" y="423.8" width="3" height="29.7" fill="url(#d320)"/><rect x="1018" y="422.7" width="3" height="30.8" fill="url(#d321)"/><rect x="1021" y="423.8" width="3" height="29.7" fill="url(#d322)"/><rect x="1024" y="423.3" width="3" height="30.2" fill="url(#d323)"/><rect x="1027" y="423.3" width="3" height="30.2" fill="url(#d324)"/><rect x="1030" y="422.1" width="3" height="31.4" fill="url(#d325)"/><rect x="1033" y="423.3" width="3" height="30.2" fill="url(#d326)"/><rect x="1036" y="422.1" width="3" height="31.4" fill="url(#d327)"/><rect x="1039" y="422.1" width="3" height="31.4" fill="url(#d328)"/><rect x="1042" y="422.1" width="3" height="31.4" fill="url(#d329)"/><rect x="1045" y="422.7" width="3" height="30.8" fill="url(#d330)"/><rect x="1048" y="422.1" width="3" height="31.4" fill="url(#d331)"/><rect x="1051" y="419.1" width="3" height="34.4" fill="url(#d332)"/><rect x="1054" y="421.5" width="3" height="32" fill="url(#d333)"/><rect x="1057" y="420.9" width="3" height="32.6" fill="url(#d334)"/><rect x="1060" y="419.7" width="3" height="33.8" fill="url(#d335)"/><rect x="1063" y="420.9" width="3" height="32.6" fill="url(#d336)"/><rect x="1066" y="419.7" width="3" height="33.8" fill="url(#d337)"/><rect x="1069" y="419.1" width="3" height="34.4" fill="url(#d338)"/><rect x="1072" y="419.1" width="3" height="34.4" fill="url(#d339)"/><rect x="1075" y="419.7" width="3" height="33.8" fill="url(#d340)"/><rect x="1078" y="418.6" width="3" height="34.9" fill="url(#d341)"/><rect x="1081" y="418" width="3" height="35.5" fill="url(#d342)"/><rect x="1084" y="419.1" width="3" height="34.4" fill="url(#d343)"/><rect x="1087" y="418" width="3" height="35.5" fill="url(#d344)"/><rect x="1090" y="418" width="3" height="35.5" fill="url(#d345)"/><rect x="1093" y="418.6" width="3" height="34.9" fill="url(#d346)"/><rect x="1096" y="418.6" width="3" height="34.9" fill="url(#d347)"/><rect x="1099" y="418.6" width="3" height="34.9" fill="url(#d348)"/><rect x="1102" y="418" width="3" height="35.5" fill="url(#d349)"/><rect x="1105" y="418.6" width="3" height="34.9" fill="url(#d350)"/><rect x="1108" y="416.8" width="3" height="36.7" fill="url(#d351)"/><rect x="1111" y="416.8" width="3" height="36.7" fill="url(#d352)"/><rect x="1114" y="416.2" width="3" height="37.3" fill="url(#d353)"/><rect x="1117" y="416.2" width="3" height="37.3" fill="url(#d354)"/><rect x="1120" y="416.8" width="3" height="36.7" fill="url(#d355)"/><rect x="1123" y="417.4" width="3" height="36.1" fill="url(#d356)"/><rect x="1126" y="416.8" width="3" height="36.7" fill="url(#d357)"/><rect x="1129" y="415" width="3" height="38.5" fill="url(#d358)"/><rect x="1132" y="414.4" width="3" height="39.1" fill="url(#d359)"/><rect x="1135" y="414.4" width="3" height="39.1" fill="url(#d360)"/><rect x="1138" y="413.3" width="3" height="40.2" fill="url(#d361)"/><rect x="1141" y="415" width="3" height="38.5" fill="url(#d362)"/><rect x="1144" y="415" width="3" height="38.5" fill="url(#d363)"/><rect x="1147" y="414.4" width="3" height="39.1" fill="url(#d364)"/><rect x="1150" y="416.8" width="3" height="36.7" fill="url(#d365)"/><rect x="1153" y="417.4" width="3" height="36.1" fill="url(#d366)"/><rect x="1156" y="416.2" width="3" height="37.3" fill="url(#d367)"/><rect x="1159" y="418" width="3" height="35.5" fill="url(#d368)"/><rect x="1162" y="418.6" width="3" height="34.9" fill="url(#d369)"/><rect x="1165" y="419.7" width="3" height="33.8" fill="url(#d370)"/><rect x="1168" y="418" width="3" height="35.5" fill="url(#d371)"/><rect x="1171" y="418.6" width="3" height="34.9" fill="url(#d372)"/><rect x="1174" y="418" width="3" height="35.5" fill="url(#d373)"/><rect x="1177" y="418" width="3" height="35.5" fill="url(#d374)"/><rect x="1180" y="418" width="3" height="35.5" fill="url(#d375)"/><rect x="1183" y="418" width="3" height="35.5" fill="url(#d376)"/><rect x="1186" y="418.6" width="3" height="34.9" fill="url(#d377)"/><rect x="1189" y="416.2" width="3" height="37.3" fill="url(#d378)"/><rect x="1192" y="417.4" width="3" height="36.1" fill="url(#d379)"/><rect x="1195" y="418" width="3" height="35.5" fill="url(#d380)"/><rect x="1198" y="418" width="3" height="35.5" fill="url(#d381)"/><rect x="1201" y="416.8" width="3" height="36.7" fill="url(#d382)"/><rect x="1204" y="414.4" width="3" height="39.1" fill="url(#d383)"/><rect x="1207" y="415.6" width="3" height="37.9" fill="url(#d384)"/><rect x="1210" y="413.3" width="3" height="40.2" fill="url(#d385)"/><rect x="1213" y="415" width="3" height="38.5" fill="url(#d386)"/><rect x="1216" y="413.9" width="3" height="39.6" fill="url(#d387)"/><rect x="1219" y="412.7" width="3" height="40.8" fill="url(#d388)"/><rect x="1222" y="412.7" width="3" height="40.8" fill="url(#d389)"/><rect x="1225" y="409.2" width="3" height="44.3" fill="url(#d390)"/><rect x="1228" y="411.5" width="3" height="42" fill="url(#d391)"/><rect x="1231" y="410.9" width="3" height="42.6" fill="url(#d392)"/><rect x="1234" y="411.5" width="3" height="42" fill="url(#d393)"/><rect x="1237" y="411.5" width="3" height="42" fill="url(#d394)"/><rect x="1240" y="368.6" width="3" height="84.9" fill="url(#d395)"/><rect x="1243" y="410.3" width="3" height="43.2" fill="url(#d396)"/><rect x="1246" y="411.5" width="3" height="42" fill="url(#d397)"/><rect x="1249" y="410.9" width="3" height="42.6" fill="url(#d398)"/><rect x="1252" y="410.3" width="3" height="43.2" fill="url(#d399)"/><rect x="1255" y="410.3" width="3" height="43.2" fill="url(#d400)"/><rect x="1258" y="410.9" width="3" height="42.6" fill="url(#d401)"/><rect x="1261" y="412.7" width="3" height="40.8" fill="url(#d402)"/><rect x="1264" y="413.9" width="3" height="39.6" fill="url(#d403)"/><rect x="1267" y="416.2" width="3" height="37.3" fill="url(#d404)"/><rect x="1270" y="417.4" width="3" height="36.1" fill="url(#d405)"/><rect x="1273" y="418.6" width="3" height="34.9" fill="url(#d406)"/><rect x="1276" y="420.3" width="3" height="33.2" fill="url(#d407)"/><rect x="1279" y="420.9" width="3" height="32.6" fill="url(#d408)"/><rect x="1282" y="419.1" width="3" height="34.4" fill="url(#d409)"/><rect x="1285" y="420.3" width="3" height="33.2" fill="url(#d410)"/><rect x="1288" y="422.1" width="3" height="31.4" fill="url(#d411)"/><rect x="1291" y="422.1" width="3" height="31.4" fill="url(#d412)"/><rect x="1294" y="422.1" width="3" height="31.4" fill="url(#d413)"/><rect x="1297" y="421.5" width="3" height="32" fill="url(#d414)"/><rect x="1300" y="421.5" width="3" height="32" fill="url(#d415)"/><rect x="1303" y="420.9" width="3" height="32.6" fill="url(#d416)"/><rect x="1306" y="421.5" width="3" height="32" fill="url(#d417)"/><rect x="1309" y="420.9" width="3" height="32.6" fill="url(#d418)"/><rect x="1312" y="421.5" width="3" height="32" fill="url(#d419)"/><rect x="1315" y="420.9" width="3" height="32.6" fill="url(#d420)"/><rect x="1318" y="421.5" width="3" height="32" fill="url(#d421)"/><rect x="1321" y="420.3" width="3" height="33.2" fill="url(#d422)"/><rect x="1324" y="420.3" width="3" height="33.2" fill="url(#d423)"/><rect x="1327" y="420.9" width="3" height="32.6" fill="url(#d424)"/><rect x="1330" y="420.9" width="3" height="32.6" fill="url(#d425)"/><rect x="1333" y="420.9" width="3" height="32.6" fill="url(#d426)"/><rect x="1336" y="420.9" width="3" height="32.6" fill="url(#d427)"/><rect x="1339" y="422.1" width="3" height="31.4" fill="url(#d428)"/><rect x="1342" y="421.5" width="3" height="32" fill="url(#d429)"/><rect x="1345" y="420.3" width="3" height="33.2" fill="url(#d430)"/><rect x="1348" y="422.1" width="3" height="31.4" fill="url(#d431)"/><rect x="1351" y="421.5" width="3" height="32" fill="url(#d432)"/><rect x="1354" y="422.1" width="3" height="31.4" fill="url(#d433)"/><rect x="1357" y="421.5" width="3" height="32" fill="url(#d434)"/><rect x="446.9" y="375.1" width="1" height="47" fill="url(#sp0)"/><rect x="449.7" y="366.3" width="1.2" height="55.8" fill="url(#sp0)"/><rect x="452.6" y="372.2" width="1.3" height="49.9" fill="url(#sp1)"/><rect x="458.6" y="381" width="0.9" height="41.1" fill="url(#sp1)"/><rect x="472.9" y="376.9" width="1.5" height="45.2" fill="url(#sp2)"/><rect x="487" y="381" width="1.3" height="41.1" fill="url(#sp0)"/><rect x="494.4" y="382.7" width="1.3" height="39.3" fill="url(#sp1)"/><rect x="501.2" y="383.9" width="0.9" height="38.2" fill="url(#sp0)"/><rect x="523.5" y="381" width="1.1" height="41.1" fill="url(#sp2)"/><rect x="527.6" y="378" width="1.1" height="44" fill="url(#sp2)"/><rect x="532.4" y="379.2" width="1.5" height="42.9" fill="url(#sp1)"/><rect x="555.6" y="386.9" width="0.9" height="35.2" fill="url(#sp0)"/><rect x="564.1" y="392.7" width="1.1" height="29.4" fill="url(#sp0)"/><rect x="580.1" y="395.7" width="1.4" height="26.4" fill="url(#sp0)"/><rect x="590.3" y="398.6" width="1.1" height="23.5" fill="url(#sp1)"/><rect x="602.1" y="401.5" width="1.4" height="20.6" fill="url(#sp0)"/><rect x="615" y="401.5" width="1.5" height="20.6" fill="url(#sp0)"/><rect x="628.4" y="402.7" width="0.9" height="19.4" fill="url(#sp0)"/><rect x="637.2" y="389.8" width="1.5" height="32.3" fill="url(#sp2)"/><rect x="643.9" y="392.7" width="1.3" height="29.4" fill="url(#sp1)"/><rect x="652.7" y="386.9" width="1.5" height="35.2" fill="url(#sp2)"/><rect x="657.5" y="392.7" width="1.4" height="29.4" fill="url(#sp0)"/><rect x="669.2" y="375.1" width="1.2" height="47" fill="url(#sp2)"/><rect x="676.6" y="381" width="1.5" height="41.1" fill="url(#sp2)"/><rect x="683.4" y="398.6" width="1.2" height="23.5" fill="url(#sp1)"/><rect x="695" y="381" width="1.2" height="41.1" fill="url(#sp2)"/><rect x="700.8" y="401.5" width="1.1" height="20.6" fill="url(#sp0)"/><rect x="863.6" y="419.1" width="1.1" height="2.9" fill="url(#sp0)"/><rect x="876.3" y="414.4" width="1.5" height="7.6" fill="url(#sp0)"/><rect x="1240.3" y="378" width="1.2" height="44" fill="url(#sp0)"/><rect x="691.1" y="407" width="1.5" height="15" fill="url(#sp2)"/><rect x="482.6" y="375.9" width="0.9" height="46.2" fill="url(#sp2)"/><rect x="532.5" y="375.8" width="1.2" height="46.3" fill="url(#sp0)"/><rect x="591.1" y="398.8" width="1.4" height="23.3" fill="url(#sp1)"/><rect x="668.8" y="395.2" width="1.5" height="26.9" fill="url(#sp0)"/><rect x="520.2" y="380.6" width="1.4" height="41.5" fill="url(#sp1)"/><rect x="460.5" y="385.5" width="1.3" height="36.6" fill="url(#sp1)"/><rect x="492.2" y="385.6" width="1.2" height="36.5" fill="url(#sp0)"/><rect x="463.2" y="375.5" width="1.4" height="46.6" fill="url(#sp0)"/><rect x="560.5" y="393.9" width="1.2" height="28.2" fill="url(#sp0)"/><rect x="591.4" y="398.3" width="1.3" height="23.7" fill="url(#sp0)"/><rect x="665.2" y="400.1" width="0.9" height="22" fill="url(#sp0)"/><rect x="617.6" y="407.6" width="1" height="14.5" fill="url(#sp1)"/><rect x="548.5" y="396.4" width="1" height="25.7" fill="url(#sp2)"/><rect x="640.4" y="396.7" width="1.2" height="25.3" fill="url(#sp2)"/><rect x="654.8" y="402.3" width="1.3" height="19.8" fill="url(#sp0)"/><rect x="480" y="373.1" width="0.9" height="49" fill="url(#sp2)"/><rect x="543.3" y="393" width="1.2" height="29.1" fill="url(#sp2)"/><rect x="698.3" y="411.6" width="1.3" height="10.5" fill="url(#sp1)"/><rect x="458.3" y="412.4" width="1" height="9.6" fill="url(#sp1)"/><rect x="602.7" y="399.8" width="0.9" height="22.3" fill="url(#sp0)"/><rect x="514.2" y="376.7" width="1.4" height="45.3" fill="url(#sp1)"/><rect x="712.1" y="412.9" width="1" height="9.2" fill="url(#sp1)"/><rect x="677.2" y="400.9" width="1.4" height="21.2" fill="url(#sp0)"/><rect x="590.3" y="402" width="1.2" height="20.1" fill="url(#sp2)"/><rect x="504.1" y="385.2" width="1" height="36.9" fill="url(#sp1)"/><rect x="519.5" y="379.7" width="1" height="42.3" fill="url(#sp1)"/><rect x="698.9" y="406" width="1.3" height="16.1" fill="url(#sp1)"/><rect x="448.1" y="387.4" width="1.4" height="34.7" fill="url(#sp2)"/><rect x="553.2" y="400.1" width="0.9" height="22" fill="url(#sp0)"/><rect x="520.2" y="378.1" width="1" height="44" fill="url(#sp2)"/><rect x="499.2" y="397.6" width="1.2" height="24.5" fill="url(#sp1)"/><rect x="644.7" y="397.6" width="1.1" height="24.5" fill="url(#sp2)"/><rect x="696.1" y="408.2" width="1" height="13.9" fill="url(#sp2)"/><rect x="528.6" y="373.7" width="1.4" height="48.4" fill="url(#sp0)"/><rect x="522.1" y="382.9" width="1" height="39.2" fill="url(#sp0)"/><rect x="449.1" y="381.6" width="1.5" height="40.5" fill="url(#sp2)"/><rect x="514.6" y="376.6" width="1.2" height="45.5" fill="url(#sp1)"/><rect x="488.2" y="381.3" width="1.1" height="40.8" fill="url(#sp1)"/><rect x="642.1" y="396.6" width="1.2" height="25.5" fill="url(#sp1)"/><rect x="692.7" y="409.2" width="1.3" height="12.9" fill="url(#sp1)"/><rect x="541.1" y="386.4" width="0.9" height="35.6" fill="url(#sp0)"/><rect x="508.2" y="385.8" width="1.3" height="36.3" fill="url(#sp1)"/><rect x="523.9" y="376.1" width="1.4" height="45.9" fill="url(#sp0)"/><rect x="452.1" y="380.6" width="1.3" height="41.5" fill="url(#sp2)"/><rect x="1140.1" y="391.5" width="1.2" height="6.5" fill="#4fc"/><rect x="1141.9" y="393.9" width="1.2" height="5.3" fill="#f60"/><rect x="1143" y="395.7" width="1.2" height="2.3" fill="#fc0"/><rect x="1149.4" y="392.7" width="1.2" height="10" fill="#f80"/><rect x="1150.3" y="399.2" width="1.2" height="7" fill="#3cf"/><rect x="1150.6" y="366.3" width="1.2" height="5.9" fill="#f50"/><rect x="1148.2" y="362.8" width="1.2" height="2.3" fill="#8f8"/><rect x="1137.8" y="381" width="1.2" height="2.9" fill="#8f8"/><rect x="1137.8" y="403.9" width="1.2" height="3.5" fill="#8f8"/><rect x="1237.2" y="365.1" width="1.2" height="21.7" fill="#9f6"/><rect x="1238.9" y="372.2" width="1.2" height="23.5" fill="#3cf"/><rect x="1232.5" y="365.1" width="1.2" height="12.9" fill="#8f8"/></g>
<g id="gg" shape-rendering="crispEdges"><path d="M55 445.9h3v2.3h-3zM58 445.9h3v2.3h-3zM61 445.9h3v2.3h-3zM64 445.9h3v2.3h-3zM67 445.9h3v2.3h-3zM70 445.9h3v2.3h-3zM73 445.9h3v2.3h-3zM76 445.9h3v2.3h-3zM79 445.9h3v2.3h-3zM82 445.9h3v2.3h-3z" fill="#fa0"/><path d="M88 445.9h3v2.3h-3zM91 445.9h3v2.3h-3zM94 445.9h3v2.3h-3zM97 445.9h3v2.3h-3zM187 445.9h3v2.3h-3zM190 445.9h3v2.3h-3zM193 445.9h3v2.3h-3zM232 445.9h3v2.3h-3zM235 445.9h3v2.3h-3zM238 445.9h3v2.3h-3zM241 445.9h3v2.3h-3zM244 445.9h3v2.3h-3zM247 445.9h3v2.3h-3zM250 445.9h3v2.3h-3zM256 445.9h3v2.3h-3zM259 445.9h3v2.3h-3zM262 445.9h3v2.3h-3zM268 445.9h3v2.3h-3zM271 445.9h3v2.3h-3zM274 445.9h3v2.3h-3zM277 445.9h3v2.3h-3zM301 445.9h3v2.3h-3zM304 445.9h3v2.3h-3zM307 445.9h3v2.3h-3z" fill="#0cf"/><path d="M439 445.9h3v2.3h-3zM445 445.9h3v2.3h-3zM451 445.9h3v2.3h-3zM454 445.9h3v2.3h-3zM457 445.9h3v2.3h-3zM460 445.9h3v2.3h-3zM463 445.9h3v2.3h-3zM466 445.9h3v2.3h-3zM469 445.9h3v2.3h-3zM472 445.9h3v2.3h-3zM475 445.9h3v2.3h-3zM478 445.9h3v2.3h-3zM481 445.9h3v2.3h-3zM487 445.9h3v2.3h-3zM490 445.9h3v2.3h-3zM493 445.9h3v2.3h-3zM496 445.9h3v2.3h-3zM499 445.9h3v2.3h-3zM511 445.9h3v2.3h-3zM517 445.9h3v2.3h-3zM520 445.9h3v2.3h-3zM523 445.9h3v2.3h-3zM526 445.9h3v2.3h-3zM529 445.9h3v2.3h-3zM532 445.9h3v2.3h-3zM535 445.9h3v2.3h-3zM538 445.9h3v2.3h-3zM541 445.9h3v2.3h-3zM547 445.9h3v2.3h-3zM553 445.9h3v2.3h-3zM556 445.9h3v2.3h-3zM562 445.9h3v2.3h-3zM565 445.9h3v2.3h-3zM568 445.9h3v2.3h-3zM574 445.9h3v2.3h-3zM577 445.9h3v2.3h-3zM586 445.9h3v2.3h-3zM589 445.9h3v2.3h-3zM592 445.9h3v2.3h-3zM595 445.9h3v2.3h-3zM601 445.9h3v2.3h-3zM604 445.9h3v2.3h-3zM607 445.9h3v2.3h-3zM613 445.9h3v2.3h-3zM616 445.9h3v2.3h-3zM619 445.9h3v2.3h-3zM622 445.9h3v2.3h-3zM625 445.9h3v2.3h-3zM628 445.9h3v2.3h-3zM637 445.9h3v2.3h-3zM640 445.9h3v2.3h-3zM643 445.9h3v2.3h-3zM646 445.9h3v2.3h-3zM652 445.9h3v2.3h-3zM655 445.9h3v2.3h-3zM658 445.9h3v2.3h-3zM661 445.9h3v2.3h-3zM664 445.9h3v2.3h-3zM667 445.9h3v2.3h-3zM670 445.9h3v2.3h-3zM673 445.9h3v2.3h-3zM676 445.9h3v2.3h-3zM679 445.9h3v2.3h-3zM688 445.9h3v2.3h-3zM691 445.9h3v2.3h-3zM694 445.9h3v2.3h-3zM697 445.9h3v2.3h-3zM703 445.9h3v2.3h-3zM706 445.9h3v2.3h-3zM709 445.9h3v2.3h-3zM712 445.9h3v2.3h-3zM718 445.9h3v2.3h-3zM721 445.9h3v2.3h-3zM724 445.9h3v2.3h-3zM727 445.9h3v2.3h-3zM730 445.9h3v2.3h-3zM733 445.9h3v2.3h-3zM739 445.9h3v2.3h-3zM742 445.9h3v2.3h-3zM748 445.9h3v2.3h-3zM754 445.9h3v2.3h-3zM757 445.9h3v2.3h-3zM760 445.9h3v2.3h-3zM763 445.9h3v2.3h-3zM769 445.9h3v2.3h-3zM772 445.9h3v2.3h-3zM775 445.9h3v2.3h-3zM781 445.9h3v2.3h-3zM784 445.9h3v2.3h-3zM787 445.9h3v2.3h-3zM796 445.9h3v2.3h-3zM799 445.9h3v2.3h-3zM802 445.9h3v2.3h-3zM805 445.9h3v2.3h-3zM808 445.9h3v2.3h-3zM811 445.9h3v2.3h-3zM817 445.9h3v2.3h-3zM826 445.9h3v2.3h-3zM829 445.9h3v2.3h-3zM832 445.9h3v2.3h-3zM844 445.9h3v2.3h-3zM847 445.9h3v2.3h-3zM850 445.9h3v2.3h-3zM853 445.9h3v2.3h-3zM856 445.9h3v2.3h-3zM859 445.9h3v2.3h-3zM868 445.9h3v2.3h-3zM871 445.9h3v2.3h-3zM874 445.9h3v2.3h-3zM880 445.9h3v2.3h-3zM883 445.9h3v2.3h-3zM886 445.9h3v2.3h-3zM892 445.9h3v2.3h-3zM895 445.9h3v2.3h-3zM898 445.9h3v2.3h-3zM901 445.9h3v2.3h-3zM904 445.9h3v2.3h-3zM907 445.9h3v2.3h-3zM910 445.9h3v2.3h-3zM913 445.9h3v2.3h-3zM916 445.9h3v2.3h-3zM922 445.9h3v2.3h-3zM925 445.9h3v2.3h-3zM928 445.9h3v2.3h-3zM931 445.9h3v2.3h-3zM934 445.9h3v2.3h-3zM937 445.9h3v2.3h-3zM949 445.9h3v2.3h-3zM952 445.9h3v2.3h-3zM955 445.9h3v2.3h-3zM958 445.9h3v2.3h-3zM961 445.9h3v2.3h-3zM964 445.9h3v2.3h-3zM967 445.9h3v2.3h-3zM970 445.9h3v2.3h-3zM973 445.9h3v2.3h-3zM976 445.9h3v2.3h-3zM979 445.9h3v2.3h-3zM982 445.9h3v2.3h-3zM985 445.9h3v2.3h-3zM991 445.9h3v2.3h-3zM994 445.9h3v2.3h-3zM997 445.9h3v2.3h-3zM1003 445.9h3v2.3h-3zM1006 445.9h3v2.3h-3zM1012 445.9h3v2.3h-3zM1015 445.9h3v2.3h-3zM1018 445.9h3v2.3h-3zM1021 445.9h3v2.3h-3zM1024 445.9h3v2.3h-3zM1030 445.9h3v2.3h-3zM1033 445.9h3v2.3h-3zM1036 445.9h3v2.3h-3zM1042 445.9h3v2.3h-3zM1138 445.9h3v2.3h-3zM1144 445.9h3v2.3h-3zM1150 445.9h3v2.3h-3zM1153 445.9h3v2.3h-3zM1174 445.9h3v2.3h-3zM1177 445.9h3v2.3h-3zM1180 445.9h3v2.3h-3zM1183 445.9h3v2.3h-3zM1195 445.9h3v2.3h-3zM1198 445.9h3v2.3h-3zM1201 445.9h3v2.3h-3zM1204 445.9h3v2.3h-3zM1207 445.9h3v2.3h-3zM1210 445.9h3v2.3h-3zM1213 445.9h3v2.3h-3zM1216 445.9h3v2.3h-3zM1219 445.9h3v2.3h-3zM1225 445.9h3v2.3h-3zM1228 445.9h3v2.3h-3zM1231 445.9h3v2.3h-3zM1234 445.9h3v2.3h-3zM1243 445.9h3v2.3h-3zM1246 445.9h3v2.3h-3zM1249 445.9h3v2.3h-3zM1252 445.9h3v2.3h-3zM1255 445.9h3v2.3h-3zM1258 445.9h3v2.3h-3zM1261 445.9h3v2.3h-3zM1264 445.9h3v2.3h-3zM1267 445.9h3v2.3h-3zM1270 445.9h3v2.3h-3zM1273 445.9h3v2.3h-3zM1276 445.9h3v2.3h-3zM1282 445.9h3v2.3h-3zM1285 445.9h3v2.3h-3zM1288 445.9h3v2.3h-3zM1294 445.9h3v2.3h-3zM1297 445.9h3v2.3h-3zM1300 445.9h3v2.3h-3zM1303 445.9h3v2.3h-3zM1306 445.9h3v2.3h-3zM1309 445.9h3v2.3h-3zM1312 445.9h3v2.3h-3zM1315 445.9h3v2.3h-3zM1318 445.9h3v2.3h-3zM1324 445.9h3v2.3h-3zM1339 445.9h3v2.3h-3zM1342 445.9h3v2.3h-3zM1345 445.9h3v2.3h-3zM1348 445.9h3v2.3h-3zM1351 445.9h3v2.3h-3zM1354 445.9h3v2.3h-3zM1357 445.9h3v2.3h-3z" fill="#0bf"/><path d="M442 445.9h3v2.3h-3zM448 445.9h3v2.3h-3zM484 445.9h3v2.3h-3zM502 445.9h3v2.3h-3zM505 445.9h3v2.3h-3zM508 445.9h3v2.3h-3zM514 445.9h3v2.3h-3zM544 445.9h3v2.3h-3zM550 445.9h3v2.3h-3zM559 445.9h3v2.3h-3zM571 445.9h3v2.3h-3zM580 445.9h3v2.3h-3zM583 445.9h3v2.3h-3zM598 445.9h3v2.3h-3zM610 445.9h3v2.3h-3zM631 445.9h3v2.3h-3zM634 445.9h3v2.3h-3zM649 445.9h3v2.3h-3zM682 445.9h3v2.3h-3zM685 445.9h3v2.3h-3zM700 445.9h3v2.3h-3zM715 445.9h3v2.3h-3zM736 445.9h3v2.3h-3zM745 445.9h3v2.3h-3zM751 445.9h3v2.3h-3zM766 445.9h3v2.3h-3zM778 445.9h3v2.3h-3zM790 445.9h3v2.3h-3zM793 445.9h3v2.3h-3zM814 445.9h3v2.3h-3zM820 445.9h3v2.3h-3zM823 445.9h3v2.3h-3zM835 445.9h3v2.3h-3zM838 445.9h3v2.3h-3zM841 445.9h3v2.3h-3zM862 445.9h3v2.3h-3zM865 445.9h3v2.3h-3zM877 445.9h3v2.3h-3zM889 445.9h3v2.3h-3zM919 445.9h3v2.3h-3zM940 445.9h3v2.3h-3zM943 445.9h3v2.3h-3zM946 445.9h3v2.3h-3zM988 445.9h3v2.3h-3zM1000 445.9h3v2.3h-3zM1009 445.9h3v2.3h-3zM1027 445.9h3v2.3h-3zM1141 445.9h3v2.3h-3zM1147 445.9h3v2.3h-3zM1171 445.9h3v2.3h-3zM1222 445.9h3v2.3h-3zM1237 445.9h3v2.3h-3zM1240 445.9h3v2.3h-3zM1279 445.9h3v2.3h-3zM1291 445.9h3v2.3h-3zM1321 445.9h3v2.3h-3zM1327 445.9h3v2.3h-3zM1330 445.9h3v2.3h-3zM1333 445.9h3v2.3h-3zM1336 445.9h3v2.3h-3z" fill="#bf4"/></g>
<filter id="dj1" filterUnits="userSpaceOnUse" x="47.5" y="345.8" width="1321.2" height="110.8" color-interpolation-filters="sRGB"><feTurbulence type="fractalNoise" baseFrequency="0.91 0.0005" numOctaves="1" seed="5"/><feColorMatrix type="matrix" values="0 0 0 0 0.5 0 1 0 0 0 0 0 0 0 0 0 0 0 0 1" result="dm"/><feDisplacementMap in="SourceGraphic" in2="dm" scale="8" xChannelSelector="R" yChannelSelector="G"/></filter>
<clipPath id="kdj1"><rect x="55.5" y="345.8" width="1305.2" height="102.8"/></clipPath>
<filter id="dj2" filterUnits="userSpaceOnUse" x="47.5" y="849.8" width="1321.2" height="110.8" color-interpolation-filters="sRGB"><feTurbulence type="fractalNoise" baseFrequency="0.91 0.0005" numOctaves="1" seed="5"/><feColorMatrix type="matrix" values="0 0 0 0 0.5 0 1 0 0 0 0 0 0 0 0 0 0 0 0 1" result="dm"/><feDisplacementMap in="SourceGraphic" in2="dm" scale="8" xChannelSelector="R" yChannelSelector="G"/></filter>
<clipPath id="kdj2"><rect x="55.5" y="849.8" width="1305.2" height="102.8"/></clipPath>
</defs>
<g clip-path="url(#c1)"><g filter="url(#nz)">
<rect x="25.5" y="32.5" width="1365.2" height="421" fill="#000"/>
<rect x="25.5" y="37.5" width="82.6" height="411" fill="url(#n0)"/>
<rect x="107.5" y="37.5" width="6.4" height="411" fill="url(#n1)"/>
<rect x="113.3" y="37.5" width="67.4" height="411" fill="url(#n2)"/>
<rect x="180.2" y="37.5" width="6.4" height="411" fill="url(#n3)"/>
<rect x="186" y="37.5" width="23.9" height="411" fill="url(#n4)"/>
<rect x="209.2" y="37.5" width="6.4" height="411" fill="url(#n5)"/>
<rect x="215" y="37.5" width="15.1" height="411" fill="url(#n6)"/>
<rect x="229.6" y="37.5" width="6.4" height="411" fill="url(#n5)"/>
<rect x="235.4" y="37.5" width="35.5" height="411" fill="url(#n7)"/>
<rect x="270.3" y="37.5" width="3.5" height="411" fill="url(#n8)"/>
<rect x="273.2" y="37.5" width="29.7" height="411" fill="url(#n9)"/>
<rect x="302.2" y="37.5" width="3.5" height="411" fill="url(#n10)"/>
<rect x="305.1" y="37.5" width="15.1" height="411" fill="url(#n11)"/>
<rect x="319.7" y="37.5" width="3.5" height="411" fill="url(#n12)"/>
<rect x="322.6" y="37.5" width="5" height="411" fill="url(#n13)"/>
<rect x="326.9" y="37.5" width="5" height="411" fill="url(#n14)"/>
<rect x="331.3" y="37.5" width="5" height="411" fill="url(#n15)"/>
<rect x="335.7" y="37.5" width="5" height="411" fill="url(#n16)"/>
<rect x="340" y="37.5" width="6.4" height="411" fill="url(#n17)"/>
<rect x="345.8" y="37.5" width="6.4" height="411" fill="url(#n18)"/>
<rect x="351.6" y="37.5" width="6.4" height="411" fill="url(#n19)"/>
<rect x="357.4" y="37.5" width="6.4" height="411" fill="url(#n20)"/>
<rect x="363.3" y="37.5" width="6.4" height="411" fill="url(#n21)"/>
<rect x="369.1" y="37.5" width="6.4" height="411" fill="url(#n22)"/>
<rect x="374.9" y="37.5" width="6.4" height="411" fill="url(#n23)"/>
<rect x="380.7" y="37.5" width="6.4" height="411" fill="url(#n24)"/>
<rect x="386.5" y="37.5" width="6.4" height="411" fill="url(#n25)"/>
<rect x="392.3" y="37.5" width="6.4" height="411" fill="url(#n26)"/>
<rect x="398.1" y="37.5" width="6.4" height="411" fill="url(#n27)"/>
<rect x="403.9" y="37.5" width="6.4" height="411" fill="url(#n28)"/>
<rect x="409.8" y="37.5" width="6.4" height="411" fill="url(#n29)"/>
<rect x="415.6" y="37.5" width="7.9" height="411" fill="url(#n30)"/>
<rect x="422.8" y="37.5" width="7.9" height="411" fill="url(#n31)"/>
<rect x="430.1" y="37.5" width="3.5" height="411" fill="url(#n32)"/>
<rect x="433" y="37.5" width="6.4" height="411" fill="url(#n33)"/>
<rect x="438.8" y="37.5" width="6.4" height="411" fill="url(#n34)"/>
<rect x="444.6" y="37.5" width="6.4" height="411" fill="url(#n35)"/>
<rect x="450.4" y="37.5" width="6.4" height="411" fill="url(#n36)"/>
<rect x="456.3" y="37.5" width="6.4" height="411" fill="url(#n37)"/>
<rect x="462.1" y="37.5" width="32.6" height="411" fill="url(#n38)"/>
<rect x="494" y="37.5" width="3.5" height="411" fill="url(#n39)"/>
<rect x="496.9" y="37.5" width="44.2" height="411" fill="url(#n40)"/>
<rect x="540.5" y="37.5" width="6.4" height="411" fill="url(#n41)"/>
<rect x="546.4" y="37.5" width="12.2" height="411" fill="url(#n42)"/>
<rect x="558" y="37.5" width="3.5" height="411" fill="url(#n43)"/>
<rect x="560.9" y="37.5" width="29.7" height="411" fill="url(#n44)"/>
<rect x="590" y="37.5" width="3.5" height="411" fill="url(#n45)"/>
<rect x="592.9" y="37.5" width="50" height="411" fill="url(#n46)"/>
<rect x="642.3" y="37.5" width="3.5" height="411" fill="url(#n47)"/>
<rect x="645.2" y="37.5" width="9.3" height="411" fill="url(#n48)"/>
<rect x="653.9" y="37.5" width="3.5" height="411" fill="url(#n49)"/>
<rect x="656.8" y="37.5" width="5.9" height="411" fill="url(#n50)"/>
<rect x="662.1" y="37.5" width="5.9" height="411" fill="url(#n51)"/>
<rect x="667.5" y="37.5" width="5.9" height="411" fill="url(#n52)"/>
<rect x="672.8" y="37.5" width="5.9" height="411" fill="url(#n53)"/>
<rect x="678.1" y="37.5" width="5.9" height="411" fill="url(#n54)"/>
<rect x="683.4" y="37.5" width="5.9" height="411" fill="url(#n55)"/>
<rect x="688.8" y="37.5" width="3.5" height="411" fill="url(#n56)"/>
<rect x="691.7" y="37.5" width="26.8" height="411" fill="url(#n57)"/>
<rect x="717.8" y="37.5" width="3.5" height="411" fill="url(#n58)"/>
<rect x="720.7" y="37.5" width="44.2" height="411" fill="url(#n59)"/>
<rect x="764.3" y="37.5" width="6.4" height="411" fill="url(#n60)"/>
<rect x="770.1" y="37.5" width="67.4" height="411" fill="url(#n61)"/>
<rect x="837" y="37.5" width="6.4" height="411" fill="url(#n62)"/>
<rect x="842.8" y="37.5" width="23.8" height="411" fill="url(#n63)"/>
<rect x="866" y="37.5" width="6.4" height="411" fill="url(#n64)"/>
<rect x="871.9" y="37.5" width="26.8" height="411" fill="url(#n65)"/>
<rect x="898" y="37.5" width="6.4" height="411" fill="url(#n66)"/>
<rect x="903.8" y="37.5" width="6.4" height="411" fill="url(#n67)"/>
<rect x="909.6" y="37.5" width="6.4" height="411" fill="url(#n68)"/>
<rect x="915.4" y="37.5" width="6.4" height="411" fill="url(#n69)"/>
<rect x="921.3" y="37.5" width="6.4" height="411" fill="url(#n70)"/>
<rect x="927.1" y="37.5" width="6.4" height="411" fill="url(#n71)"/>
<rect x="932.9" y="37.5" width="6.4" height="411" fill="url(#n72)"/>
<rect x="938.7" y="37.5" width="6.4" height="411" fill="url(#n73)"/>
<rect x="944.5" y="37.5" width="6.4" height="411" fill="url(#n74)"/>
<rect x="950.3" y="37.5" width="6.4" height="411" fill="url(#n75)"/>
<rect x="956.1" y="37.5" width="6.4" height="411" fill="url(#n76)"/>
<rect x="962" y="37.5" width="6.4" height="411" fill="url(#n77)"/>
<rect x="967.8" y="37.5" width="35.5" height="411" fill="url(#n63)"/>
<rect x="1002.6" y="37.5" width="6.4" height="411" fill="url(#n78)"/>
<rect x="1008.4" y="37.5" width="6.4" height="411" fill="url(#n79)"/>
<rect x="1014.3" y="37.5" width="6.4" height="411" fill="url(#n80)"/>
<rect x="1020.1" y="37.5" width="6.4" height="411" fill="url(#n81)"/>
<rect x="1025.9" y="37.5" width="6.4" height="411" fill="url(#n82)"/>
<rect x="1031.7" y="37.5" width="6.4" height="411" fill="url(#n83)"/>
<rect x="1037.5" y="37.5" width="6.4" height="411" fill="url(#n84)"/>
<rect x="1043.3" y="37.5" width="6.4" height="411" fill="url(#n85)"/>
<rect x="1049.1" y="37.5" width="6.4" height="411" fill="url(#n86)"/>
<rect x="1055" y="37.5" width="116.8" height="411" fill="url(#n87)"/>
<rect x="1171.2" y="37.5" width="3.5" height="411" fill="url(#n88)"/>
<rect x="1174.1" y="37.5" width="9.3" height="411" fill="url(#n89)"/>
<rect x="1182.8" y="37.5" width="3.5" height="411" fill="url(#n90)"/>
<rect x="1185.7" y="37.5" width="18" height="411" fill="url(#n91)"/>
<rect x="1203.2" y="37.5" width="3.5" height="411" fill="url(#n92)"/>
<rect x="1206.1" y="37.5" width="23.8" height="411" fill="url(#n93)"/>
<rect x="1229.3" y="37.5" width="3.5" height="411" fill="url(#n94)"/>
<rect x="1232.2" y="37.5" width="26.8" height="411" fill="url(#n95)"/>
<rect x="1258.4" y="37.5" width="3.5" height="411" fill="url(#n96)"/>
<rect x="1261.3" y="37.5" width="55.8" height="411" fill="url(#n97)"/>
<rect x="1316.5" y="37.5" width="3.5" height="411" fill="url(#n98)"/>
<rect x="1319.4" y="37.5" width="18" height="411" fill="url(#n63)"/>
<rect x="1336.9" y="37.5" width="3.5" height="411" fill="url(#n99)"/>
<rect x="1339.8" y="37.5" width="50.9" height="411" fill="url(#n100)"/>
<polygon points="56.5,369.6 59.5,366.8 62.5,362.6 65.5,359 68.5,359 71.5,360.4 74.5,361.3 77.5,362.1 80.5,362.8 83.5,362.9 86.5,361.3 89.5,360.1 92.5,360.6 95.5,363.9 98.5,368.2 101.5,372.6 104.5,376.4 107.5,384.8 110.5,387.4 113.5,389.5 116.5,391.1 119.5,392.3 122.5,392.4 125.5,391.4 128.5,389.5 131.5,387.7 134.5,386.5 137.5,386.2 140.5,386.3 143.5,385.8 146.5,384.3 149.5,383.2 152.5,383.7 155.5,385 158.5,385.7 161.5,385.7 164.5,385.7 167.5,385.7 170.5,385.6 173.5,385.5 176.5,381.2 179.5,377 182.5,372.9 185.5,373.1 188.5,373.2 191.5,373.7 194.5,374.7 197.5,376.3 200.5,377.8 203.5,379.1 206.5,380.3 209.5,382.2 212.5,384.6 215.5,386.9 218.5,387.6 221.5,387.6 224.5,386.7 227.5,385.1 230.5,383.3 233.5,382.1 236.5,382 239.5,381.9 242.5,381.9 245.5,381.8 248.5,381.8 251.5,381.7 254.5,381.7 257.5,382.6 260.5,384.4 263.5,386.4 266.5,387.6 269.5,388 272.5,388.6 275.5,389.5 278.5,390.6 281.5,391.9 284.5,393.1 287.5,394.1 290.5,395 293.5,395.6 296.5,396.2 299.5,396.8 302.5,397.5 305.5,398.3 308.5,399 311.5,399.7 314.5,408.4 317.5,409.6 320.5,410.9 323.5,411.9 326.5,412.6 329.5,413 332.5,413.4 335.5,413.8 338.5,414.2 341.5,414.6 344.5,415 347.5,415.4 350.5,415.8 353.5,416.2 356.5,416.7 359.5,417.2 362.5,417.8 365.5,418.4 368.5,418.9 371.5,419.4 374.5,419.8 377.5,420.3 380.5,420.7 383.5,421.1 386.5,421.5 389.5,421.8 392.5,421.9 395.5,421.8 398.5,421.5 401.5,421.3 404.5,421.1 407.5,420.9 410.5,420.7 413.5,420.4 416.5,420 419.5,419.3 422.5,418.4 425.5,417.6 428.5,416.7 431.5,415.6 434.5,414.3 437.5,412.5 440.5,401 443.5,390.8 446.5,381.3 449.5,374.5 452.5,383.1 455.5,391.7 458.5,390.3 461.5,380 464.5,369.6 467.5,368.9 470.5,368.2 473.5,367.2 476.5,365.9 479.5,364.5 482.5,364.7 485.5,366.3 488.5,369 491.5,372.8 494.5,377.7 497.5,381.7 500.5,381.9 503.5,378.4 506.5,374.8 509.5,372.9 512.5,373 515.5,374.2 518.5,374.3 521.5,372.9 524.5,370.2 527.5,368.7 530.5,368.2 533.5,367.9 536.5,370.9 539.5,376.2 542.5,382.3 545.5,385.8 548.5,387.2 551.5,387.4 554.5,386.6 557.5,385.4 560.5,385 563.5,385.7 566.5,387.5 569.5,388.5 572.5,388.4 575.5,387.1 578.5,386.6 581.5,386.9 584.5,388.1 587.5,389 590.5,389.4 593.5,389.3 596.5,389 599.5,389.1 602.5,389.9 605.5,391.2 608.5,392.6 611.5,393.8 614.5,394.7 617.5,395.2 620.5,395.7 623.5,395.2 626.5,393.4 629.5,390.2 632.5,386.4 635.5,384.8 638.5,385.3 641.5,387.9 644.5,390.1 647.5,391.3 650.5,391.5 653.5,391.5 656.5,391.5 659.5,391.2 662.5,390.4 665.5,389.2 668.5,388.2 671.5,388.8 674.5,391.1 677.5,394.3 680.5,396.6 683.5,397.9 686.5,398.9 689.5,399.8 692.5,400.3 695.5,400.6 698.5,400.8 701.5,401 704.5,401.3 707.5,401.7 710.5,402.4 713.5,403.1 716.5,403.9 719.5,404.6 722.5,412.7 725.5,413 728.5,413.3 731.5,413.5 734.5,413.8 737.5,414 740.5,414.3 743.5,414.5 746.5,414.7 749.5,414.9 752.5,415 755.5,415 758.5,415 761.5,415 764.5,415 767.5,415 770.5,415 773.5,415 776.5,415 779.5,415 782.5,415 785.5,415 788.5,415 791.5,415 794.5,415 797.5,415 800.5,415 803.5,415 806.5,415 809.5,415 812.5,415 815.5,415 818.5,415 821.5,415 824.5,415 827.5,415 830.5,415 833.5,415 836.5,415 839.5,415 842.5,415 845.5,415 848.5,415 851.5,415 854.5,415 857.5,414.6 860.5,413.9 863.5,412.7 866.5,411.7 869.5,410.9 872.5,410.3 875.5,410 878.5,410 881.5,410.2 884.5,410.4 887.5,410.6 890.5,410.9 893.5,411.6 896.5,412.7 899.5,414.1 902.5,415.3 905.5,416.3 908.5,416.9 911.5,417.3 914.5,417.7 917.5,417.9 920.5,418.1 923.5,418.1 926.5,418.2 929.5,418.2 932.5,418.3 935.5,418.3 938.5,418.4 941.5,418.4 944.5,418.5 947.5,418.6 950.5,418.6 953.5,418.7 956.5,418.7 959.5,418.8 962.5,418.8 965.5,418.9 968.5,418.9 971.5,419 974.5,419 977.5,419.1 980.5,419.1 983.5,419 986.5,418.9 989.5,418.8 992.5,418.7 995.5,418.6 998.5,418.5 1001.5,418.4 1004.5,418.3 1007.5,418.2 1010.5,418.1 1013.5,418 1016.5,417.8 1019.5,417.5 1022.5,417.3 1025.5,417 1028.5,416.7 1031.5,416.5 1034.5,416.2 1037.5,415.9 1040.5,415.7 1043.5,415.4 1046.5,415.1 1049.5,414.9 1052.5,414.6 1055.5,414.4 1058.5,414.1 1061.5,413.9 1064.5,413.7 1067.5,413.5 1070.5,413.4 1073.5,413.2 1076.5,413 1079.5,412.9 1082.5,412.7 1085.5,412.6 1088.5,412.4 1091.5,412.2 1094.5,412.1 1097.5,411.9 1100.5,411.8 1103.5,411.6 1106.5,411.4 1109.5,411.2 1112.5,410.9 1115.5,410.7 1118.5,410.5 1121.5,410.2 1124.5,410 1127.5,409.7 1130.5,409.1 1133.5,408.5 1136.5,408 1139.5,407.8 1142.5,408 1145.5,408.4 1148.5,408.8 1151.5,409.3 1154.5,410 1157.5,410.7 1160.5,411.4 1163.5,412.1 1166.5,412.4 1169.5,412.5 1172.5,412.3 1175.5,412.2 1178.5,412 1181.5,411.9 1184.5,411.7 1187.5,411.6 1190.5,411.4 1193.5,411.3 1196.5,411.1 1199.5,410.8 1202.5,410.3 1205.5,409.6 1208.5,408.9 1211.5,408.2 1214.5,407.6 1217.5,407 1220.5,406.5 1223.5,406 1226.5,405.6 1229.5,405.2 1232.5,405 1235.5,404.9 1238.5,404.9 1241.5,404.8 1244.5,404.8 1247.5,404.7 1250.5,404.6 1253.5,404.6 1256.5,404.5 1259.5,405.1 1262.5,406.4 1265.5,408.3 1268.5,409.9 1271.5,411.2 1274.5,412.2 1277.5,413.2 1280.5,414.1 1283.5,414.6 1286.5,414.8 1289.5,414.8 1292.5,414.8 1295.5,414.8 1298.5,414.9 1301.5,414.9 1304.5,414.9 1307.5,414.9 1310.5,414.9 1313.5,415 1316.5,415 1319.5,415 1322.5,415 1325.5,415.1 1328.5,415.1 1331.5,415.1 1334.5,415.1 1337.5,415.1 1340.5,415.2 1343.5,415.2 1346.5,415.2 1349.5,415.2 1352.5,415.2 1355.5,415.3 1358.5,415.3 1358.5,419.1 1355.5,419.1 1352.5,419.1 1349.5,419 1346.5,419 1343.5,419 1340.5,419 1337.5,419 1334.5,418.9 1331.5,418.9 1328.5,418.9 1325.5,418.9 1322.5,418.8 1319.5,418.8 1316.5,418.8 1313.5,418.8 1310.5,418.8 1307.5,418.7 1304.5,418.7 1301.5,418.7 1298.5,418.7 1295.5,418.7 1292.5,418.6 1289.5,418.6 1286.5,418.6 1283.5,418.4 1280.5,417.9 1277.5,417 1274.5,416 1271.5,415 1268.5,413.7 1265.5,412.1 1262.5,410.2 1259.5,408.9 1256.5,408.3 1253.5,408.4 1250.5,408.5 1247.5,408.5 1244.5,408.6 1241.5,408.6 1238.5,408.7 1235.5,408.8 1232.5,408.8 1229.5,409 1226.5,409.4 1223.5,409.9 1220.5,410.3 1217.5,410.8 1214.5,411.4 1211.5,412.1 1208.5,412.8 1205.5,413.5 1202.5,414.1 1199.5,414.6 1196.5,414.9 1193.5,415.1 1190.5,415.2 1187.5,415.4 1184.5,415.5 1181.5,415.7 1178.5,415.8 1175.5,416 1172.5,416.2 1169.5,416.3 1166.5,416.2 1163.5,415.9 1160.5,415.2 1157.5,414.5 1154.5,413.8 1151.5,413.2 1148.5,412.6 1145.5,412.2 1142.5,411.8 1139.5,411.6 1136.5,411.8 1133.5,412.3 1130.5,413 1127.5,413.5 1124.5,413.8 1121.5,414.1 1118.5,414.3 1115.5,414.5 1112.5,414.8 1109.5,415 1106.5,415.2 1103.5,415.4 1100.5,415.6 1097.5,415.7 1094.5,415.9 1091.5,416.1 1088.5,416.2 1085.5,416.4 1082.5,416.5 1079.5,416.7 1076.5,416.9 1073.5,417 1070.5,417.2 1067.5,417.3 1064.5,417.5 1061.5,417.7 1058.5,417.9 1055.5,418.2 1052.5,418.4 1049.5,418.7 1046.5,419 1043.5,419.2 1040.5,419.5 1037.5,419.8 1034.5,420 1031.5,420.3 1028.5,420.6 1025.5,420.8 1022.5,421.1 1019.5,421.3 1016.5,421.6 1013.5,421.8 1010.5,421.9 1007.5,422 1004.5,422.1 1001.5,422.2 998.5,422.3 995.5,422.4 992.5,422.5 989.5,422.6 986.5,422.7 983.5,422.8 980.5,422.9 977.5,422.9 974.5,422.9 971.5,422.8 968.5,422.8 965.5,422.7 962.5,422.6 959.5,422.6 956.5,422.5 953.5,422.5 950.5,422.4 947.5,422.4 944.5,422.3 941.5,422.3 938.5,422.2 935.5,422.1 932.5,422.1 929.5,422 926.5,422 923.5,421.9 920.5,421.9 917.5,421.8 914.5,421.5 911.5,421.1 908.5,420.7 905.5,420.1 902.5,419.1 899.5,417.9 896.5,416.6 893.5,415.5 890.5,414.7 887.5,414.4 884.5,414.2 881.5,414 878.5,413.8 875.5,413.8 872.5,414.1 869.5,414.7 866.5,415.5 863.5,416.5 860.5,417.7 857.5,418.5 854.5,418.8 851.5,418.8 848.5,418.8 845.5,418.8 842.5,418.8 839.5,418.8 836.5,418.8 833.5,418.8 830.5,418.8 827.5,418.8 824.5,418.8 821.5,418.8 818.5,418.8 815.5,418.8 812.5,418.8 809.5,418.8 806.5,418.8 803.5,418.8 800.5,418.8 797.5,418.8 794.5,418.8 791.5,418.8 788.5,418.8 785.5,418.8 782.5,418.8 779.5,418.8 776.5,418.8 773.5,418.8 770.5,418.8 767.5,418.8 764.5,418.8 761.5,418.8 758.5,418.8 755.5,418.8 752.5,418.8 749.5,418.7 746.5,418.6 743.5,418.3 740.5,418.1 737.5,417.8 734.5,417.6 731.5,417.3 728.5,417.1 725.5,416.9 722.5,416.5 719.5,412.2 716.5,411.5 713.5,410.8 710.5,410 707.5,409.4 704.5,408.9 701.5,408.6 698.5,408.4 695.5,408.3 692.5,408 689.5,407.4 686.5,406.5 683.5,405.5 680.5,404.2 677.5,401.9 674.5,398.8 671.5,396.5 668.5,395.8 665.5,396.8 662.5,398 659.5,398.8 656.5,399.2 653.5,399.2 650.5,399.2 647.5,398.9 644.5,397.7 641.5,395.6 638.5,392.9 635.5,392.4 632.5,394 629.5,397.8 626.5,401 623.5,402.8 620.5,403.3 617.5,402.9 614.5,402.3 611.5,401.5 608.5,400.3 605.5,398.8 602.5,397.5 599.5,396.8 596.5,396.6 593.5,396.9 590.5,397 587.5,396.7 584.5,395.8 581.5,394.5 578.5,394.2 575.5,394.8 572.5,396 569.5,396.2 566.5,395.1 563.5,393.4 560.5,392.7 557.5,393 554.5,394.2 551.5,395.1 548.5,394.8 545.5,393.4 542.5,389.9 539.5,383.9 536.5,378.6 533.5,375.5 530.5,375.8 527.5,376.3 524.5,377.9 521.5,380.5 518.5,381.9 515.5,381.8 512.5,380.6 509.5,380.5 506.5,382.4 503.5,386.1 500.5,389.5 497.5,389.4 494.5,385.3 491.5,380.4 488.5,376.6 485.5,373.9 482.5,372.3 479.5,372.2 476.5,373.5 473.5,374.9 470.5,375.9 467.5,376.5 464.5,377.2 461.5,387.7 458.5,397.9 455.5,399.4 452.5,390.8 449.5,382.2 446.5,389 443.5,398.4 440.5,408.6 437.5,416.4 434.5,418.1 431.5,419.4 428.5,420.5 425.5,421.4 422.5,422.3 419.5,423.1 416.5,423.8 413.5,424.3 410.5,424.5 407.5,424.7 404.5,424.9 401.5,425.1 398.5,425.4 395.5,425.6 392.5,425.7 389.5,425.6 386.5,425.3 383.5,424.9 380.5,424.5 377.5,424.1 374.5,423.7 371.5,423.2 368.5,422.7 365.5,422.2 362.5,421.6 359.5,421 356.5,420.5 353.5,420 350.5,419.6 347.5,419.2 344.5,418.8 341.5,418.4 338.5,418 335.5,417.6 332.5,417.2 329.5,416.8 326.5,416.4 323.5,415.7 320.5,414.7 317.5,413.4 314.5,412.2 311.5,407.4 308.5,406.6 305.5,405.9 302.5,405.2 299.5,404.5 296.5,403.8 293.5,403.2 290.5,402.6 287.5,401.7 284.5,400.7 281.5,399.5 278.5,398.3 275.5,397.1 272.5,396.3 269.5,395.6 266.5,395.2 263.5,394 260.5,392 257.5,390.2 254.5,389.3 251.5,389.3 248.5,389.4 245.5,389.5 242.5,389.5 239.5,389.6 236.5,389.6 233.5,389.7 230.5,390.9 227.5,392.8 224.5,394.3 221.5,395.2 218.5,395.3 215.5,394.5 212.5,392.3 209.5,389.8 206.5,388 203.5,386.7 200.5,385.4 197.5,383.9 194.5,382.4 191.5,381.3 188.5,380.8 185.5,380.7 182.5,380.6 179.5,384.6 176.5,388.8 173.5,393.1 170.5,393.2 167.5,393.3 164.5,393.3 161.5,393.3 158.5,393.3 155.5,392.6 152.5,391.3 149.5,390.9 146.5,391.9 143.5,393.5 140.5,393.9 137.5,393.8 134.5,394.1 131.5,395.3 128.5,397.1 125.5,399 122.5,400 119.5,399.9 116.5,398.7 113.5,397.1 110.5,395.1 107.5,392.4 104.5,389.3 101.5,385.5 98.5,381.1 95.5,376.8 92.5,373.5 89.5,373 86.5,374.2 83.5,375.8 80.5,375.7 77.5,375 74.5,374.2 71.5,373.4 68.5,371.9 65.5,371.9 62.5,375.5 59.5,379.7 56.5,382.5" fill="#002700"/><polygon points="56.5,382.5 59.5,379.7 62.5,375.5 65.5,371.9 68.5,371.9 71.5,373.4 74.5,374.2 77.5,375 80.5,375.7 83.5,375.8 86.5,374.2 89.5,373 92.5,373.5 95.5,376.8 98.5,381.1 101.5,385.5 104.5,389.3 107.5,392.4 110.5,395.1 113.5,397.1 116.5,398.7 119.5,399.9 122.5,400 125.5,399 128.5,397.1 131.5,395.3 134.5,394.1 137.5,393.8 140.5,393.9 143.5,393.5 146.5,391.9 149.5,390.9 152.5,391.3 155.5,392.6 158.5,393.3 161.5,393.3 164.5,393.3 167.5,393.3 170.5,393.2 173.5,393.1 176.5,388.8 179.5,384.6 182.5,380.6 185.5,380.7 188.5,380.8 191.5,381.3 194.5,382.4 197.5,383.9 200.5,385.4 203.5,386.7 206.5,388 209.5,389.8 212.5,392.3 215.5,394.5 218.5,395.3 221.5,395.2 224.5,394.3 227.5,392.8 230.5,390.9 233.5,389.7 236.5,389.6 239.5,389.6 242.5,389.5 245.5,389.5 248.5,389.4 251.5,389.3 254.5,389.3 257.5,390.2 260.5,392 263.5,394 266.5,395.2 269.5,395.6 272.5,396.3 275.5,397.1 278.5,398.3 281.5,399.5 284.5,400.7 287.5,401.7 290.5,402.6 293.5,403.2 296.5,403.8 299.5,404.5 302.5,405.2 305.5,405.9 308.5,406.6 311.5,407.4 314.5,412.2 317.5,413.4 320.5,414.7 323.5,415.7 326.5,416.4 329.5,416.8 332.5,417.2 335.5,417.6 338.5,418 341.5,418.4 344.5,418.8 347.5,419.2 350.5,419.6 353.5,420 356.5,420.5 359.5,421 362.5,421.6 365.5,422.2 368.5,422.7 371.5,423.2 374.5,423.7 377.5,424.1 380.5,424.5 383.5,424.9 386.5,425.3 389.5,425.6 392.5,425.7 395.5,425.6 398.5,425.4 401.5,425.1 404.5,424.9 407.5,424.7 410.5,424.5 413.5,424.3 416.5,423.8 419.5,423.1 422.5,422.3 425.5,421.4 428.5,420.5 431.5,419.4 434.5,418.1 437.5,416.4 440.5,408.6 443.5,398.4 446.5,389 449.5,382.2 452.5,390.8 455.5,399.4 458.5,397.9 461.5,387.7 464.5,377.2 467.5,376.5 470.5,375.9 473.5,374.9 476.5,373.5 479.5,372.2 482.5,372.3 485.5,373.9 488.5,376.6 491.5,380.4 494.5,385.3 497.5,389.4 500.5,389.5 503.5,386.1 506.5,382.4 509.5,380.5 512.5,380.6 515.5,381.8 518.5,381.9 521.5,380.5 524.5,377.9 527.5,376.3 530.5,375.8 533.5,375.5 536.5,378.6 539.5,383.9 542.5,389.9 545.5,393.4 548.5,394.8 551.5,395.1 554.5,394.2 557.5,393 560.5,392.7 563.5,393.4 566.5,395.1 569.5,396.2 572.5,396 575.5,394.8 578.5,394.2 581.5,394.5 584.5,395.8 587.5,396.7 590.5,397 593.5,396.9 596.5,396.6 599.5,396.8 602.5,397.5 605.5,398.8 608.5,400.3 611.5,401.5 614.5,402.3 617.5,402.9 620.5,403.3 623.5,402.8 626.5,401 629.5,397.8 632.5,394 635.5,392.4 638.5,392.9 641.5,395.6 644.5,397.7 647.5,398.9 650.5,399.2 653.5,399.2 656.5,399.2 659.5,398.8 662.5,398 665.5,396.8 668.5,395.8 671.5,396.5 674.5,398.8 677.5,401.9 680.5,404.2 683.5,405.5 686.5,406.5 689.5,407.4 692.5,408 695.5,408.3 698.5,408.4 701.5,408.6 704.5,408.9 707.5,409.4 710.5,410 713.5,410.8 716.5,411.5 719.5,412.2 722.5,416.5 725.5,416.9 728.5,417.1 731.5,417.3 734.5,417.6 737.5,417.8 740.5,418.1 743.5,418.3 746.5,418.6 749.5,418.7 752.5,418.8 755.5,418.8 758.5,418.8 761.5,418.8 764.5,418.8 767.5,418.8 770.5,418.8 773.5,418.8 776.5,418.8 779.5,418.8 782.5,418.8 785.5,418.8 788.5,418.8 791.5,418.8 794.5,418.8 797.5,418.8 800.5,418.8 803.5,418.8 806.5,418.8 809.5,418.8 812.5,418.8 815.5,418.8 818.5,418.8 821.5,418.8 824.5,418.8 827.5,418.8 830.5,418.8 833.5,418.8 836.5,418.8 839.5,418.8 842.5,418.8 845.5,418.8 848.5,418.8 851.5,418.8 854.5,418.8 857.5,418.5 860.5,417.7 863.5,416.5 866.5,415.5 869.5,414.7 872.5,414.1 875.5,413.8 878.5,413.8 881.5,414 884.5,414.2 887.5,414.4 890.5,414.7 893.5,415.5 896.5,416.6 899.5,417.9 902.5,419.1 905.5,420.1 908.5,420.7 911.5,421.1 914.5,421.5 917.5,421.8 920.5,421.9 923.5,421.9 926.5,422 929.5,422 932.5,422.1 935.5,422.1 938.5,422.2 941.5,422.3 944.5,422.3 947.5,422.4 950.5,422.4 953.5,422.5 956.5,422.5 959.5,422.6 962.5,422.6 965.5,422.7 968.5,422.8 971.5,422.8 974.5,422.9 977.5,422.9 980.5,422.9 983.5,422.8 986.5,422.7 989.5,422.6 992.5,422.5 995.5,422.4 998.5,422.3 1001.5,422.2 1004.5,422.1 1007.5,422 1010.5,421.9 1013.5,421.8 1016.5,421.6 1019.5,421.3 1022.5,421.1 1025.5,420.8 1028.5,420.6 1031.5,420.3 1034.5,420 1037.5,419.8 1040.5,419.5 1043.5,419.2 1046.5,419 1049.5,418.7 1052.5,418.4 1055.5,418.2 1058.5,417.9 1061.5,417.7 1064.5,417.5 1067.5,417.3 1070.5,417.2 1073.5,417 1076.5,416.9 1079.5,416.7 1082.5,416.5 1085.5,416.4 1088.5,416.2 1091.5,416.1 1094.5,415.9 1097.5,415.7 1100.5,415.6 1103.5,415.4 1106.5,415.2 1109.5,415 1112.5,414.8 1115.5,414.5 1118.5,414.3 1121.5,414.1 1124.5,413.8 1127.5,413.5 1130.5,413 1133.5,412.3 1136.5,411.8 1139.5,411.6 1142.5,411.8 1145.5,412.2 1148.5,412.6 1151.5,413.2 1154.5,413.8 1157.5,414.5 1160.5,415.2 1163.5,415.9 1166.5,416.2 1169.5,416.3 1172.5,416.2 1175.5,416 1178.5,415.8 1181.5,415.7 1184.5,415.5 1187.5,415.4 1190.5,415.2 1193.5,415.1 1196.5,414.9 1199.5,414.6 1202.5,414.1 1205.5,413.5 1208.5,412.8 1211.5,412.1 1214.5,411.4 1217.5,410.8 1220.5,410.3 1223.5,409.9 1226.5,409.4 1229.5,409 1232.5,408.8 1235.5,408.8 1238.5,408.7 1241.5,408.6 1244.5,408.6 1247.5,408.5 1250.5,408.5 1253.5,408.4 1256.5,408.3 1259.5,408.9 1262.5,410.2 1265.5,412.1 1268.5,413.7 1271.5,415 1274.5,416 1277.5,417 1280.5,417.9 1283.5,418.4 1286.5,418.6 1289.5,418.6 1292.5,418.6 1295.5,418.7 1298.5,418.7 1301.5,418.7 1304.5,418.7 1307.5,418.7 1310.5,418.8 1313.5,418.8 1316.5,418.8 1319.5,418.8 1322.5,418.8 1325.5,418.9 1328.5,418.9 1331.5,418.9 1334.5,418.9 1337.5,419 1340.5,419 1343.5,419 1346.5,419 1349.5,419 1352.5,419.1 1355.5,419.1 1358.5,419.1 1358.5,421.2 1355.5,421.1 1352.5,421.1 1349.5,421.1 1346.5,421.1 1343.5,421.1 1340.5,421 1337.5,421 1334.5,421 1331.5,421 1328.5,420.9 1325.5,420.9 1322.5,420.9 1319.5,420.9 1316.5,420.9 1313.5,420.8 1310.5,420.8 1307.5,420.8 1304.5,420.8 1301.5,420.8 1298.5,420.7 1295.5,420.7 1292.5,420.7 1289.5,420.7 1286.5,420.6 1283.5,420.5 1280.5,419.9 1277.5,419.1 1274.5,418.1 1271.5,417 1268.5,415.8 1265.5,414.2 1262.5,412.3 1259.5,411 1256.5,410.4 1253.5,410.5 1250.5,410.5 1247.5,410.6 1244.5,410.6 1241.5,410.7 1238.5,410.8 1235.5,410.8 1232.5,410.9 1229.5,411.1 1226.5,411.4 1223.5,411.9 1220.5,412.4 1217.5,412.9 1214.5,413.5 1211.5,414.1 1208.5,414.8 1205.5,415.5 1202.5,416.2 1199.5,416.7 1196.5,417 1193.5,417.1 1190.5,417.3 1187.5,417.4 1184.5,417.6 1181.5,417.7 1178.5,417.9 1175.5,418.1 1172.5,418.2 1169.5,418.4 1166.5,418.3 1163.5,417.9 1160.5,417.3 1157.5,416.6 1154.5,415.8 1151.5,415.2 1148.5,414.7 1145.5,414.3 1142.5,413.8 1139.5,413.7 1136.5,413.8 1133.5,414.4 1130.5,415 1127.5,415.5 1124.5,415.9 1121.5,416.1 1118.5,416.4 1115.5,416.6 1112.5,416.8 1109.5,417.1 1106.5,417.3 1103.5,417.5 1100.5,417.6 1097.5,417.8 1094.5,418 1091.5,418.1 1088.5,418.3 1085.5,418.4 1082.5,418.6 1079.5,418.7 1076.5,418.9 1073.5,419.1 1070.5,419.2 1067.5,419.4 1064.5,419.5 1061.5,419.7 1058.5,420 1055.5,420.2 1052.5,420.5 1049.5,420.8 1046.5,421 1043.5,421.3 1040.5,421.5 1037.5,421.8 1034.5,422.1 1031.5,422.3 1028.5,422.6 1025.5,422.9 1022.5,423.1 1019.5,423.4 1016.5,423.6 1013.5,423.8 1010.5,424 1007.5,424.1 1004.5,424.2 1001.5,424.3 998.5,424.4 995.5,424.5 992.5,424.6 989.5,424.7 986.5,424.8 983.5,424.9 980.5,424.9 977.5,425 974.5,424.9 971.5,424.9 968.5,424.8 965.5,424.8 962.5,424.7 959.5,424.6 956.5,424.6 953.5,424.5 950.5,424.5 947.5,424.4 944.5,424.4 941.5,424.3 938.5,424.3 935.5,424.2 932.5,424.1 929.5,424.1 926.5,424 923.5,424 920.5,423.9 917.5,423.8 914.5,423.6 911.5,423.2 908.5,422.7 905.5,422.1 902.5,421.2 899.5,420 896.5,418.6 893.5,417.5 890.5,416.8 887.5,416.5 884.5,416.3 881.5,416.1 878.5,415.9 875.5,415.9 872.5,416.2 869.5,416.7 866.5,417.5 863.5,418.5 860.5,419.7 857.5,420.5 854.5,420.9 851.5,420.9 848.5,420.9 845.5,420.9 842.5,420.9 839.5,420.9 836.5,420.9 833.5,420.9 830.5,420.9 827.5,420.9 824.5,420.9 821.5,420.9 818.5,420.9 815.5,420.9 812.5,420.9 809.5,420.9 806.5,420.9 803.5,420.9 800.5,420.9 797.5,420.9 794.5,420.9 791.5,420.9 788.5,420.9 785.5,420.9 782.5,420.9 779.5,420.9 776.5,420.9 773.5,420.9 770.5,420.9 767.5,420.9 764.5,420.9 761.5,420.9 758.5,420.9 755.5,420.9 752.5,420.9 749.5,420.8 746.5,420.6 743.5,420.4 740.5,420.1 737.5,419.9 734.5,419.6 731.5,419.4 728.5,419.2 725.5,418.9 722.5,418.6 719.5,416.3 716.5,415.6 713.5,414.9 710.5,414.1 707.5,413.5 704.5,413 701.5,412.7 698.5,412.5 695.5,412.4 692.5,412.1 689.5,411.5 686.5,410.6 683.5,409.6 680.5,408.3 677.5,406 674.5,402.9 671.5,400.6 668.5,399.9 665.5,401 662.5,402.2 659.5,402.9 656.5,403.3 653.5,403.3 650.5,403.3 647.5,403 644.5,401.8 641.5,399.7 638.5,397 635.5,396.5 632.5,398.2 629.5,401.9 626.5,405.1 623.5,406.9 620.5,407.4 617.5,407 614.5,406.4 611.5,405.6 608.5,404.4 605.5,402.9 602.5,401.6 599.5,400.9 596.5,400.7 593.5,401 590.5,401.2 587.5,400.8 584.5,399.9 581.5,398.7 578.5,398.3 575.5,398.9 572.5,400.2 569.5,400.3 566.5,399.2 563.5,397.5 560.5,396.8 557.5,397.1 554.5,398.4 551.5,399.2 548.5,398.9 545.5,397.5 542.5,394 539.5,388 536.5,382.7 533.5,379.6 530.5,379.9 527.5,380.4 524.5,382 521.5,384.6 518.5,386.1 515.5,385.9 512.5,384.7 509.5,384.6 506.5,386.5 503.5,390.2 500.5,393.6 497.5,393.5 494.5,389.4 491.5,384.6 488.5,380.7 485.5,378 482.5,376.4 479.5,376.3 476.5,377.6 473.5,379 470.5,380 467.5,380.6 464.5,381.3 461.5,391.8 458.5,402.1 455.5,403.5 452.5,394.9 449.5,386.3 446.5,393.1 443.5,402.5 440.5,412.8 437.5,418.4 434.5,420.1 431.5,421.4 428.5,422.5 425.5,423.5 422.5,424.3 419.5,425.2 416.5,425.8 413.5,426.3 410.5,426.6 407.5,426.8 404.5,427 401.5,427.2 398.5,427.4 395.5,427.6 392.5,427.7 389.5,427.6 386.5,427.4 383.5,426.9 380.5,426.5 377.5,426.1 374.5,425.7 371.5,425.3 368.5,424.8 365.5,424.2 362.5,423.6 359.5,423 356.5,422.5 353.5,422.1 350.5,421.7 347.5,421.3 344.5,420.9 341.5,420.5 338.5,420.1 335.5,419.7 332.5,419.3 329.5,418.9 326.5,418.5 323.5,417.8 320.5,416.8 317.5,415.4 314.5,414.2 311.5,411.5 308.5,410.7 305.5,410 302.5,409.3 299.5,408.6 296.5,407.9 293.5,407.3 290.5,406.7 287.5,405.9 284.5,404.8 281.5,403.6 278.5,402.4 275.5,401.3 272.5,400.4 269.5,399.8 266.5,399.3 263.5,398.1 260.5,396.1 257.5,394.3 254.5,393.4 251.5,393.5 248.5,393.5 245.5,393.6 242.5,393.6 239.5,393.7 236.5,393.7 233.5,393.8 230.5,395 227.5,396.9 224.5,398.4 221.5,399.3 218.5,399.4 215.5,398.6 212.5,396.4 209.5,393.9 206.5,392.1 203.5,390.9 200.5,389.5 197.5,388 194.5,386.5 191.5,385.5 188.5,384.9 185.5,384.8 182.5,384.7 179.5,388.7 176.5,392.9 173.5,397.2 170.5,397.4 167.5,397.4 164.5,397.4 161.5,397.4 158.5,397.4 155.5,396.7 152.5,395.4 149.5,395 146.5,396.1 143.5,397.6 140.5,398 137.5,397.9 134.5,398.2 131.5,399.5 128.5,401.2 125.5,403.2 122.5,404.1 119.5,404 116.5,402.9 113.5,401.2 110.5,399.2 107.5,396.6 104.5,393.4 101.5,389.6 98.5,385.2 95.5,380.9 92.5,377.7 89.5,377.1 86.5,378.3 83.5,379.9 80.5,379.8 77.5,379.1 74.5,378.3 71.5,377.5 68.5,376 65.5,376 62.5,379.6 59.5,383.8 56.5,386.6" fill="#003e00"/><polygon points="56.5,386.6 59.5,383.8 62.5,379.6 65.5,376 68.5,376 71.5,377.5 74.5,378.3 77.5,379.1 80.5,379.8 83.5,379.9 86.5,378.3 89.5,377.1 92.5,377.7 95.5,380.9 98.5,385.2 101.5,389.6 104.5,393.4 107.5,396.6 110.5,399.2 113.5,401.2 116.5,402.9 119.5,404 122.5,404.1 125.5,403.2 128.5,401.2 131.5,399.5 134.5,398.2 137.5,397.9 140.5,398 143.5,397.6 146.5,396.1 149.5,395 152.5,395.4 155.5,396.7 158.5,397.4 161.5,397.4 164.5,397.4 167.5,397.4 170.5,397.4 173.5,397.2 176.5,392.9 179.5,388.7 182.5,384.7 185.5,384.8 188.5,384.9 191.5,385.5 194.5,386.5 197.5,388 200.5,389.5 203.5,390.9 206.5,392.1 209.5,393.9 212.5,396.4 215.5,398.6 218.5,399.4 221.5,399.3 224.5,398.4 227.5,396.9 230.5,395 233.5,393.8 236.5,393.7 239.5,393.7 242.5,393.6 245.5,393.6 248.5,393.5 251.5,393.5 254.5,393.4 257.5,394.3 260.5,396.1 263.5,398.1 266.5,399.3 269.5,399.8 272.5,400.4 275.5,401.3 278.5,402.4 281.5,403.6 284.5,404.8 287.5,405.9 290.5,406.7 293.5,407.3 296.5,407.9 299.5,408.6 302.5,409.3 305.5,410 308.5,410.7 311.5,411.5 314.5,414.2 317.5,415.4 320.5,416.8 323.5,417.8 326.5,418.5 329.5,418.9 332.5,419.3 335.5,419.7 338.5,420.1 341.5,420.5 344.5,420.9 347.5,421.3 350.5,421.7 353.5,422.1 356.5,422.5 359.5,423 362.5,423.6 365.5,424.2 368.5,424.8 371.5,425.3 374.5,425.7 377.5,426.1 380.5,426.5 383.5,426.9 386.5,427.4 389.5,427.6 392.5,427.7 395.5,427.6 398.5,427.4 401.5,427.2 404.5,427 407.5,426.8 410.5,426.6 413.5,426.3 416.5,425.8 419.5,425.2 422.5,424.3 425.5,423.5 428.5,422.5 431.5,421.4 434.5,420.1 437.5,418.4 440.5,412.8 443.5,402.5 446.5,393.1 449.5,386.3 452.5,394.9 455.5,403.5 458.5,402.1 461.5,391.8 464.5,381.3 467.5,380.6 470.5,380 473.5,379 476.5,377.6 479.5,376.3 482.5,376.4 485.5,378 488.5,380.7 491.5,384.6 494.5,389.4 497.5,393.5 500.5,393.6 503.5,390.2 506.5,386.5 509.5,384.6 512.5,384.7 515.5,385.9 518.5,386.1 521.5,384.6 524.5,382 527.5,380.4 530.5,379.9 533.5,379.6 536.5,382.7 539.5,388 542.5,394 545.5,397.5 548.5,398.9 551.5,399.2 554.5,398.4 557.5,397.1 560.5,396.8 563.5,397.5 566.5,399.2 569.5,400.3 572.5,400.2 575.5,398.9 578.5,398.3 581.5,398.7 584.5,399.9 587.5,400.8 590.5,401.2 593.5,401 596.5,400.7 599.5,400.9 602.5,401.6 605.5,402.9 608.5,404.4 611.5,405.6 614.5,406.4 617.5,407 620.5,407.4 623.5,406.9 626.5,405.1 629.5,401.9 632.5,398.2 635.5,396.5 638.5,397 641.5,399.7 644.5,401.8 647.5,403 650.5,403.3 653.5,403.3 656.5,403.3 659.5,402.9 662.5,402.2 665.5,401 668.5,399.9 671.5,400.6 674.5,402.9 677.5,406 680.5,408.3 683.5,409.6 686.5,410.6 689.5,411.5 692.5,412.1 695.5,412.4 698.5,412.5 701.5,412.7 704.5,413 707.5,413.5 710.5,414.1 713.5,414.9 716.5,415.6 719.5,416.3 722.5,418.6 725.5,418.9 728.5,419.2 731.5,419.4 734.5,419.6 737.5,419.9 740.5,420.1 743.5,420.4 746.5,420.6 749.5,420.8 752.5,420.9 755.5,420.9 758.5,420.9 761.5,420.9 764.5,420.9 767.5,420.9 770.5,420.9 773.5,420.9 776.5,420.9 779.5,420.9 782.5,420.9 785.5,420.9 788.5,420.9 791.5,420.9 794.5,420.9 797.5,420.9 800.5,420.9 803.5,420.9 806.5,420.9 809.5,420.9 812.5,420.9 815.5,420.9 818.5,420.9 821.5,420.9 824.5,420.9 827.5,420.9 830.5,420.9 833.5,420.9 836.5,420.9 839.5,420.9 842.5,420.9 845.5,420.9 848.5,420.9 851.5,420.9 854.5,420.9 857.5,420.5 860.5,419.7 863.5,418.5 866.5,417.5 869.5,416.7 872.5,416.2 875.5,415.9 878.5,415.9 881.5,416.1 884.5,416.3 887.5,416.5 890.5,416.8 893.5,417.5 896.5,418.6 899.5,420 902.5,421.2 905.5,422.1 908.5,422.7 911.5,423.2 914.5,423.6 917.5,423.8 920.5,423.9 923.5,424 926.5,424 929.5,424.1 932.5,424.1 935.5,424.2 938.5,424.3 941.5,424.3 944.5,424.4 947.5,424.4 950.5,424.5 953.5,424.5 956.5,424.6 959.5,424.6 962.5,424.7 965.5,424.8 968.5,424.8 971.5,424.9 974.5,424.9 977.5,425 980.5,424.9 983.5,424.9 986.5,424.8 989.5,424.7 992.5,424.6 995.5,424.5 998.5,424.4 1001.5,424.3 1004.5,424.2 1007.5,424.1 1010.5,424 1013.5,423.8 1016.5,423.6 1019.5,423.4 1022.5,423.1 1025.5,422.9 1028.5,422.6 1031.5,422.3 1034.5,422.1 1037.5,421.8 1040.5,421.5 1043.5,421.3 1046.5,421 1049.5,420.8 1052.5,420.5 1055.5,420.2 1058.5,420 1061.5,419.7 1064.5,419.5 1067.5,419.4 1070.5,419.2 1073.5,419.1 1076.5,418.9 1079.5,418.7 1082.5,418.6 1085.5,418.4 1088.5,418.3 1091.5,418.1 1094.5,418 1097.5,417.8 1100.5,417.6 1103.5,417.5 1106.5,417.3 1109.5,417.1 1112.5,416.8 1115.5,416.6 1118.5,416.4 1121.5,416.1 1124.5,415.9 1127.5,415.5 1130.5,415 1133.5,414.4 1136.5,413.8 1139.5,413.7 1142.5,413.8 1145.5,414.3 1148.5,414.7 1151.5,415.2 1154.5,415.8 1157.5,416.6 1160.5,417.3 1163.5,417.9 1166.5,418.3 1169.5,418.4 1172.5,418.2 1175.5,418.1 1178.5,417.9 1181.5,417.7 1184.5,417.6 1187.5,417.4 1190.5,417.3 1193.5,417.1 1196.5,417 1199.5,416.7 1202.5,416.2 1205.5,415.5 1208.5,414.8 1211.5,414.1 1214.5,413.5 1217.5,412.9 1220.5,412.4 1223.5,411.9 1226.5,411.4 1229.5,411.1 1232.5,410.9 1235.5,410.8 1238.5,410.8 1241.5,410.7 1244.5,410.6 1247.5,410.6 1250.5,410.5 1253.5,410.5 1256.5,410.4 1259.5,411 1262.5,412.3 1265.5,414.2 1268.5,415.8 1271.5,417 1274.5,418.1 1277.5,419.1 1280.5,419.9 1283.5,420.5 1286.5,420.6 1289.5,420.7 1292.5,420.7 1295.5,420.7 1298.5,420.7 1301.5,420.8 1304.5,420.8 1307.5,420.8 1310.5,420.8 1313.5,420.8 1316.5,420.9 1319.5,420.9 1322.5,420.9 1325.5,420.9 1328.5,420.9 1331.5,421 1334.5,421 1337.5,421 1340.5,421 1343.5,421.1 1346.5,421.1 1349.5,421.1 1352.5,421.1 1355.5,421.1 1358.5,421.2 1358.5,424.7 1355.5,424.7 1352.5,424.6 1349.5,424.6 1346.5,424.6 1343.5,424.6 1340.5,424.6 1337.5,424.5 1334.5,424.5 1331.5,424.5 1328.5,424.5 1325.5,424.4 1322.5,424.4 1319.5,424.4 1316.5,424.4 1313.5,424.4 1310.5,424.3 1307.5,424.3 1304.5,424.3 1301.5,424.3 1298.5,424.3 1295.5,424.2 1292.5,424.2 1289.5,424.2 1286.5,424.2 1283.5,424 1280.5,423.5 1277.5,422.6 1274.5,421.6 1271.5,420.5 1268.5,419.3 1265.5,417.7 1262.5,415.8 1259.5,414.5 1256.5,413.9 1253.5,414 1250.5,414 1247.5,414.1 1244.5,414.2 1241.5,414.2 1238.5,414.3 1235.5,414.3 1232.5,414.4 1229.5,414.6 1226.5,415 1223.5,415.4 1220.5,415.9 1217.5,416.4 1214.5,417 1211.5,417.6 1208.5,418.3 1205.5,419 1202.5,419.7 1199.5,420.2 1196.5,420.5 1193.5,420.7 1190.5,420.8 1187.5,421 1184.5,421.1 1181.5,421.3 1178.5,421.4 1175.5,421.6 1172.5,421.7 1169.5,421.9 1166.5,421.8 1163.5,421.5 1160.5,420.8 1157.5,420.1 1154.5,419.4 1151.5,418.7 1148.5,418.2 1145.5,417.8 1142.5,417.4 1139.5,417.2 1136.5,417.4 1133.5,417.9 1130.5,418.5 1127.5,419 1124.5,419.4 1121.5,419.6 1118.5,419.9 1115.5,420.1 1112.5,420.3 1109.5,420.6 1106.5,420.8 1103.5,421 1100.5,421.2 1097.5,421.3 1094.5,421.5 1091.5,421.6 1088.5,421.8 1085.5,422 1082.5,422.1 1079.5,422.3 1076.5,422.4 1073.5,422.6 1070.5,422.8 1067.5,422.9 1064.5,423.1 1061.5,423.3 1058.5,423.5 1055.5,423.7 1052.5,424 1049.5,424.3 1046.5,424.5 1043.5,424.8 1040.5,425.1 1037.5,425.3 1034.5,425.6 1031.5,425.9 1028.5,426.1 1025.5,426.4 1022.5,426.7 1019.5,426.9 1016.5,427.2 1013.5,427.4 1010.5,427.5 1007.5,427.6 1004.5,427.7 1001.5,427.8 998.5,427.9 995.5,428 992.5,428.1 989.5,428.2 986.5,428.3 983.5,428.4 980.5,428.5 977.5,428.5 974.5,428.4 971.5,428.4 968.5,428.3 965.5,428.3 962.5,428.2 959.5,428.2 956.5,428.1 953.5,428.1 950.5,428 947.5,427.9 944.5,427.9 941.5,427.8 938.5,427.8 935.5,427.7 932.5,427.7 929.5,427.6 926.5,427.6 923.5,427.5 920.5,427.5 917.5,427.3 914.5,427.1 911.5,426.7 908.5,426.3 905.5,425.6 902.5,424.7 899.5,423.5 896.5,422.1 893.5,421 890.5,420.3 887.5,420 884.5,419.8 881.5,419.6 878.5,419.4 875.5,419.4 872.5,419.7 869.5,420.3 866.5,421.1 863.5,422.1 860.5,423.2 857.5,424 854.5,424.4 851.5,424.4 848.5,424.4 845.5,424.4 842.5,424.4 839.5,424.4 836.5,424.4 833.5,424.4 830.5,424.4 827.5,424.4 824.5,424.4 821.5,424.4 818.5,424.4 815.5,424.4 812.5,424.4 809.5,424.4 806.5,424.4 803.5,424.4 800.5,424.4 797.5,424.4 794.5,424.4 791.5,424.4 788.5,424.4 785.5,424.4 782.5,424.4 779.5,424.4 776.5,424.4 773.5,424.4 770.5,424.4 767.5,424.4 764.5,424.4 761.5,424.4 758.5,424.4 755.5,424.4 752.5,424.4 749.5,424.3 746.5,424.1 743.5,423.9 740.5,423.7 737.5,423.4 734.5,423.2 731.5,422.9 728.5,422.7 725.5,422.4 722.5,422.1 719.5,421.6 716.5,420.9 713.5,420.2 710.5,419.4 707.5,418.8 704.5,418.3 701.5,418 698.5,417.8 695.5,417.7 692.5,417.4 689.5,416.8 686.5,415.9 683.5,414.9 680.5,413.6 677.5,411.3 674.5,408.2 671.5,405.9 668.5,405.2 665.5,406.2 662.5,407.4 659.5,408.2 656.5,408.6 653.5,408.6 650.5,408.6 647.5,408.3 644.5,407.1 641.5,405 638.5,402.3 635.5,401.8 632.5,403.4 629.5,407.2 626.5,410.4 623.5,412.2 620.5,412.7 617.5,412.3 614.5,411.7 611.5,410.9 608.5,409.7 605.5,408.2 602.5,406.9 599.5,406.2 596.5,406 593.5,406.3 590.5,406.4 587.5,406.1 584.5,405.1 581.5,403.9 578.5,403.6 575.5,404.2 572.5,405.4 569.5,405.5 566.5,404.5 563.5,402.7 560.5,402 557.5,402.4 554.5,403.6 551.5,404.5 548.5,404.2 545.5,402.8 542.5,399.3 539.5,393.2 536.5,388 533.5,384.9 530.5,385.2 527.5,385.7 524.5,387.3 521.5,389.9 518.5,391.3 515.5,391.2 512.5,390 509.5,389.9 506.5,391.8 503.5,395.5 500.5,398.9 497.5,398.8 494.5,394.7 491.5,389.8 488.5,386 485.5,383.3 482.5,381.7 479.5,381.6 476.5,382.9 473.5,384.3 470.5,385.3 467.5,385.9 464.5,386.6 461.5,397.1 458.5,407.3 455.5,408.8 452.5,400.2 449.5,391.5 446.5,398.4 443.5,407.8 440.5,418 437.5,421.9 434.5,423.7 431.5,425 428.5,426.1 425.5,427 422.5,427.8 419.5,428.7 416.5,429.4 413.5,429.8 410.5,430.1 407.5,430.3 404.5,430.5 401.5,430.7 398.5,430.9 395.5,431.1 392.5,431.3 389.5,431.2 386.5,430.9 383.5,430.5 380.5,430.1 377.5,429.6 374.5,429.2 371.5,428.8 368.5,428.3 365.5,427.8 362.5,427.1 359.5,426.6 356.5,426.1 353.5,425.6 350.5,425.2 347.5,424.8 344.5,424.4 341.5,424 338.5,423.6 335.5,423.2 332.5,422.8 329.5,422.4 326.5,422 323.5,421.3 320.5,420.3 317.5,419 314.5,417.7 311.5,416.8 308.5,416 305.5,415.3 302.5,414.6 299.5,413.9 296.5,413.2 293.5,412.6 290.5,412 287.5,411.1 284.5,410.1 281.5,408.9 278.5,407.7 275.5,406.5 272.5,405.7 269.5,405 266.5,404.6 263.5,403.4 260.5,401.4 257.5,399.6 254.5,398.7 251.5,398.7 248.5,398.8 245.5,398.8 242.5,398.9 239.5,399 236.5,399 233.5,399.1 230.5,400.3 227.5,402.2 224.5,403.7 221.5,404.6 218.5,404.7 215.5,403.9 212.5,401.7 209.5,399.2 206.5,397.4 203.5,396.1 200.5,394.8 197.5,393.3 194.5,391.8 191.5,390.7 188.5,390.2 185.5,390.1 182.5,390 179.5,394 176.5,398.2 173.5,402.5 170.5,402.6 167.5,402.7 164.5,402.7 161.5,402.7 158.5,402.7 155.5,402 152.5,400.7 149.5,400.3 146.5,401.3 143.5,402.9 140.5,403.3 137.5,403.2 134.5,403.5 131.5,404.7 128.5,406.5 125.5,408.4 122.5,409.4 119.5,409.3 116.5,408.1 113.5,406.5 110.5,404.5 107.5,401.8 104.5,398.7 101.5,394.9 98.5,390.5 95.5,386.2 92.5,382.9 89.5,382.4 86.5,383.6 83.5,385.2 80.5,385.1 77.5,384.4 74.5,383.6 71.5,382.8 68.5,381.3 65.5,381.3 62.5,384.9 59.5,389.1 56.5,391.9" fill="#005500"/>
</g></g>
<g clip-path="url(#kdj1)"><g filter="url(#dj1)"><use href="#base"/></g><use href="#gg"/></g>
<g clip-path="url(#kdj2)"><g filter="url(#dj2)"><use href="#base" y="504"/><path d="M64 914.3h3v4.7h-3zM70 943.7h3v7.6h-3zM76 917.9h3v4.1h-3zM79 943.7h3v7.6h-3zM88 916.1h3v7h-3zM217 944.9h3v12.6h-3zM232 918.4h3v4.7h-3zM235 918.4h3v4.7h-3zM244 919.6h3v7.6h-3zM250 923.1h3v4.7h-3zM253 908.5h3v8.8h-3zM274 925.5h3v6.5h-3zM277 925.5h3v7.6h-3zM280 927.3h3v6.5h-3zM283 927.8h3v6.5h-3zM286 927.8h3v7h-3zM289 928.4h3v7h-3zM307 925.5h3v8.8h-3zM310 924.9h3v10h-3zM316 923.7h3v12.9h-3zM319 929.6h3v9.4h-3zM322 930.2h3v9.4h-3zM328 932.5h3v8.2h-3zM340 928.4h3v29.1h-3zM346 929h3v28.5h-3zM352 931.4h3v9.4h-3zM358 945.5h3v12h-3zM361 947.2h3v10.3h-3zM364 946.6h3v10.9h-3zM367 947.8h3v9.7h-3zM370 945.5h3v12h-3zM373 946h3v11.5h-3zM376 943.1h3v14.4h-3zM379 945.5h3v12h-3zM382 946.6h3v10.9h-3zM385 950.7h3v6.8h-3zM388 946.6h3v10.9h-3zM391 934.9h3v22.6h-3zM394 946.6h3v10.9h-3zM397 941.3h3v16.2h-3zM400 940.2h3v17.3h-3zM403 940.8h3v16.7h-3zM406 940.8h3v16.7h-3zM409 941.9h3v15.6h-3zM412 941.9h3v15.6h-3zM415 941.3h3v16.2h-3zM418 943.1h3v14.4h-3zM421 945.5h3v12h-3zM424 943.7h3v13.8h-3zM427 943.7h3v13.8h-3zM430 944.9h3v12.6h-3zM433 944.3h3v13.2h-3zM436 944.3h3v13.2h-3zM439 944.3h3v13.2h-3zM445 927.3h3v7.6h-3zM451 949.6h3v7.9h-3zM451 926.1h3v9.4h-3zM454 949.6h3v7.9h-3zM454 926.7h3v7.6h-3zM457 949.6h3v7.9h-3zM457 926.1h3v7.6h-3zM460 926.7h3v8.8h-3zM466 949h3v8.5h-3zM469 949h3v8.5h-3zM475 949.6h3v7.9h-3zM481 928.4h3v7h-3zM484 949h3v8.5h-3zM484 929.6h3v7h-3zM493 928.4h3v8.8h-3zM496 949.6h3v7.9h-3zM496 927.8h3v7.6h-3zM499 949.6h3v7.9h-3zM499 927.3h3v8.2h-3zM499 915.5h3v7.6h-3zM505 926.1h3v8.8h-3zM511 927.3h3v8.2h-3zM511 913.7h3v5.9h-3zM517 926.7h3v8.2h-3zM520 926.7h3v8.8h-3zM520 913.7h3v9.4h-3zM523 927.3h3v8.2h-3zM526 926.7h3v9.4h-3zM526 912.6h3v7.6h-3zM529 926.1h3v10h-3zM532 926.7h3v10h-3zM535 926.7h3v9.4h-3zM538 926.1h3v8.2h-3zM541 926.7h3v8.8h-3zM544 926.7h3v8.8h-3zM547 927.8h3v8.2h-3zM550 950.2h3v7.3h-3zM550 926.7h3v8.2h-3zM553 927.3h3v8.8h-3zM556 950.2h3v7.3h-3zM556 926.1h3v9.4h-3zM559 924.3h3v11.2h-3zM562 926.1h3v8.2h-3zM565 926.7h3v9.4h-3zM568 924.9h3v10h-3zM571 926.1h3v7.6h-3zM574 924.9h3v8.8h-3zM577 924.9h3v9.4h-3zM580 926.1h3v8.8h-3zM580 912.6h3v4.7h-3zM583 926.7h3v8.8h-3zM586 926.1h3v10h-3zM589 927.3h3v8.2h-3zM592 926.7h3v8.8h-3zM595 926.7h3v10h-3zM598 926.7h3v9.4h-3zM601 924.9h3v9.4h-3zM604 926.7h3v8.8h-3zM607 926.7h3v9.4h-3zM610 925.5h3v9.4h-3zM613 927.3h3v9.4h-3zM616 927.3h3v9.4h-3zM619 926.1h3v10h-3zM622 925.5h3v10h-3zM625 925.5h3v9.4h-3zM628 926.1h3v8.2h-3zM631 924.9h3v10h-3zM631 911.4h3v4.7h-3zM634 927.3h3v7.6h-3zM634 911.4h3v4.7h-3zM637 926.7h3v8.2h-3zM640 926.1h3v8.2h-3zM643 925.5h3v8.8h-3zM646 924.9h3v8.2h-3zM649 924.3h3v9.4h-3zM652 925.5h3v9.4h-3zM655 925.5h3v9.4h-3zM658 926.7h3v9.4h-3zM661 927.3h3v8.2h-3zM664 927.3h3v7.6h-3zM667 926.7h3v7h-3zM670 927.3h3v8.2h-3zM673 926.7h3v8.2h-3zM676 927.3h3v9.4h-3zM679 927.3h3v7.6h-3zM682 927.8h3v8.2h-3zM685 925.5h3v12.3h-3zM688 927.3h3v9.4h-3zM691 929h3v7.6h-3zM694 929h3v7.6h-3zM697 928.4h3v8.2h-3zM700 927.3h3v10h-3zM703 928.4h3v7.6h-3zM706 928.4h3v11.2h-3zM709 930.8h3v8.2h-3zM712 930.2h3v7.6h-3zM715 930.8h3v7.6h-3zM718 931.4h3v8.2h-3zM721 931.4h3v10h-3zM724 931.4h3v9.4h-3zM727 930.8h3v7h-3zM730 930.2h3v8.2h-3zM733 930.2h3v6.5h-3zM736 930.8h3v6.5h-3zM739 930.2h3v7h-3zM742 930.2h3v8.8h-3zM745 929.6h3v8.8h-3zM748 931.4h3v8.8h-3zM751 931.4h3v7h-3zM754 930.2h3v10h-3zM757 931.4h3v7.6h-3zM760 931.4h3v8.2h-3zM763 930.8h3v8.2h-3zM766 930.8h3v8.8h-3zM769 930.2h3v10.6h-3zM772 930.8h3v10h-3zM775 930.8h3v9.4h-3zM778 929.6h3v11.7h-3zM781 930.2h3v8.2h-3zM784 929.6h3v11.2h-3zM787 928.4h3v10.6h-3zM790 930.2h3v10h-3zM793 929h3v11.2h-3zM796 930.8h3v7.6h-3zM799 930.8h3v7.6h-3zM802 930.8h3v9.4h-3zM805 929h3v10.6h-3zM808 929.6h3v10h-3zM811 929h3v10h-3zM814 930.8h3v10h-3zM817 930.8h3v9.4h-3zM820 929.6h3v9.4h-3zM823 930.8h3v10h-3zM826 930.2h3v9.4h-3zM829 930.2h3v11.2h-3zM832 929.6h3v10h-3zM835 929.6h3v10h-3zM838 930.2h3v11.2h-3zM841 930.8h3v8.8h-3zM844 931.4h3v8.2h-3zM847 929.6h3v8.8h-3zM850 928.4h3v11.2h-3zM853 929.6h3v8.2h-3zM856 929.6h3v8.8h-3zM859 927.8h3v9.4h-3zM862 926.7h3v9.4h-3zM865 927.8h3v8.2h-3zM868 927.3h3v9.4h-3zM871 926.7h3v8.8h-3zM874 926.7h3v10h-3zM877 924.9h3v10.6h-3zM880 926.1h3v11.2h-3zM883 928.4h3v8.8h-3zM886 926.7h3v10h-3zM889 924.9h3v10h-3zM892 924.9h3v10.6h-3zM895 927.3h3v8.8h-3zM898 927.8h3v10.6h-3zM901 930.2h3v8.8h-3zM904 930.8h3v10h-3zM907 931.4h3v8.8h-3zM910 930.8h3v10.6h-3zM913 931.4h3v9.4h-3zM916 932h3v9.4h-3zM919 933.1h3v8.8h-3zM922 933.1h3v8.2h-3zM925 932.5h3v8.8h-3zM928 931.4h3v8.8h-3zM931 931.4h3v10.6h-3zM934 930.8h3v9.4h-3zM937 932h3v8.2h-3zM940 932h3v9.4h-3zM943 932h3v9.4h-3zM946 931.4h3v8.8h-3zM949 933.1h3v8.2h-3zM952 931.4h3v10h-3zM955 933.1h3v9.4h-3zM958 934.3h3v8.8h-3zM961 933.7h3v8.8h-3zM964 932h3v10.6h-3zM967 932h3v9.4h-3zM970 933.7h3v10.6h-3zM973 932.5h3v10h-3zM976 933.1h3v8.8h-3zM979 933.1h3v10h-3zM982 933.7h3v9.4h-3zM985 933.1h3v8.8h-3zM988 933.1h3v10.6h-3zM991 933.1h3v7.6h-3zM994 933.1h3v7.6h-3zM997 932h3v8.2h-3zM1000 930.2h3v10h-3zM1003 931.4h3v11.2h-3zM1006 932.5h3v7.6h-3zM1009 931.4h3v8.8h-3zM1012 932.5h3v8.2h-3zM1015 933.1h3v6.5h-3zM1018 932h3v8.2h-3zM1021 931.4h3v8.8h-3zM1024 931.4h3v7.6h-3zM1027 931.4h3v5.9h-3zM1030 930.2h3v10h-3zM1033 930.8h3v7h-3zM1036 929h3v8.8h-3zM1039 929.6h3v8.2h-3zM1042 930.8h3v7.6h-3zM1045 930.8h3v7h-3zM1048 929.6h3v7h-3zM1051 930.2h3v6.5h-3zM1054 929.6h3v7.6h-3zM1057 928.4h3v8.2h-3zM1060 928.4h3v9.4h-3zM1063 927.8h3v8.8h-3zM1066 929h3v7h-3zM1069 927.8h3v8.8h-3zM1072 928.4h3v7.6h-3zM1075 927.8h3v6.5h-3zM1078 924.9h3v11.2h-3zM1081 927.3h3v8.8h-3zM1084 927.3h3v8.8h-3zM1087 927.8h3v7.6h-3zM1090 927.3h3v7h-3zM1093 926.7h3v7.6h-3zM1096 927.3h3v8.2h-3zM1099 926.7h3v8.8h-3zM1102 925.5h3v8.2h-3zM1105 926.7h3v9.4h-3zM1108 924.3h3v10.6h-3zM1111 926.1h3v8.8h-3zM1114 926.1h3v7h-3zM1117 924.9h3v8.8h-3zM1120 924.3h3v10.6h-3zM1123 925.5h3v10h-3zM1126 926.7h3v9.4h-3zM1129 925.5h3v7.6h-3zM1132 923.7h3v11.2h-3zM1135 922h3v10h-3zM1138 922h3v11.2h-3zM1141 923.7h3v9.4h-3zM1144 925.5h3v8.2h-3zM1147 924.9h3v10h-3zM1150 924.3h3v10.6h-3zM1153 925.5h3v8.8h-3zM1156 926.7h3v8.8h-3zM1159 927.3h3v10h-3zM1162 926.1h3v9.4h-3zM1165 926.1h3v9.4h-3zM1168 924.9h3v11.2h-3zM1171 926.7h3v8.2h-3zM1174 926.1h3v9.4h-3zM1177 926.1h3v10.6h-3zM1180 926.1h3v9.4h-3zM1183 926.7h3v9.4h-3zM1186 924.9h3v11.2h-3zM1189 927.3h3v9.4h-3zM1192 927.3h3v7.6h-3zM1195 926.7h3v6.5h-3zM1198 926.1h3v9.4h-3zM1201 924.3h3v10h-3zM1204 926.1h3v9.4h-3zM1207 925.5h3v8.8h-3zM1210 926.7h3v7.6h-3zM1213 925.5h3v10h-3zM1216 926.1h3v8.8h-3zM1219 926.1h3v9.4h-3zM1222 926.7h3v9.4h-3zM1225 925.5h3v9.4h-3zM1228 927.3h3v9.4h-3zM1231 927.8h3v8.2h-3zM1234 926.1h3v10.6h-3zM1237 926.1h3v10.6h-3zM1240 925.5h3v10.6h-3zM1243 926.1h3v10.6h-3zM1246 926.1h3v9.4h-3zM1249 926.1h3v11.2h-3zM1252 924.9h3v10.6h-3zM1255 926.1h3v10h-3zM1258 924.9h3v12.3h-3zM1261 924.3h3v12.9h-3zM1264 925.5h3v11.2h-3zM1267 927.8h3v10h-3zM1270 929.6h3v8.2h-3zM1273 928.4h3v10h-3zM1276 928.4h3v11.2h-3zM1279 929.6h3v10h-3zM1282 930.2h3v8.8h-3zM1285 928.4h3v8.8h-3zM1288 928.4h3v10h-3zM1291 928.4h3v9.4h-3zM1294 930.2h3v8.2h-3zM1297 929h3v8.8h-3zM1300 930.2h3v8.2h-3zM1303 929h3v8.8h-3zM1306 929.6h3v7.6h-3zM1309 927.8h3v10h-3zM1312 929.6h3v8.8h-3zM1315 929h3v8.8h-3zM1318 928.4h3v9.4h-3zM1321 928.4h3v9.4h-3zM1324 927.3h3v11.2h-3zM1327 929.6h3v8.2h-3zM1330 930.2h3v8.2h-3zM1333 927.8h3v10h-3zM1336 928.4h3v9.4h-3zM1339 929h3v9.4h-3zM1342 927.8h3v8.8h-3zM1345 928.4h3v9.4h-3zM1348 930.8h3v8.8h-3zM1351 930.2h3v8.2h-3zM1354 930.8h3v7.6h-3zM1357 928.4h3v10.6h-3z" fill="#000" shape-rendering="crispEdges"/></g><use href="#gg" y="504"/></g>
<rect x="55.5" y="37.5" width="1395" height="411" fill="none" stroke="#000" stroke-width="1.4"/>
<path d="M55.5 448.5v6.3M113.62 448.5v6.3M171.75 448.5v6.3M229.88 448.5v6.3M288 448.5v6.3M346.12 448.5v6.3M404.25 448.5v6.3M462.38 448.5v6.3M520.5 448.5v6.3M578.62 448.5v6.3M636.75 448.5v6.3M694.88 448.5v6.3M753 448.5v6.3M811.12 448.5v6.3M869.25 448.5v6.3M927.38 448.5v6.3M985.5 448.5v6.3M1043.62 448.5v6.3M1101.75 448.5v6.3M1159.88 448.5v6.3M1218 448.5v6.3M1276.12 448.5v6.3M1334.25 448.5v6.3M55.5 448.5h6.3M1450.5 448.5h-6.3M55.5 389.79h6.3M1450.5 389.79h-6.3M55.5 331.07h6.3M1450.5 331.07h-6.3M55.5 272.36h6.3M1450.5 272.36h-6.3M55.5 213.64h6.3M1450.5 213.64h-6.3M55.5 154.93h6.3M1450.5 154.93h-6.3M55.5 96.21h6.3M1450.5 96.21h-6.3M55.5 37.5h6.3M1450.5 37.5h-6.3" stroke="#000" stroke-width="1.4" fill="none"/>
<g font-size="16.67" text-anchor="middle">
<text x="55.5" y="473.4">0</text>
<text x="113.6" y="473.4">1</text>
<text x="171.8" y="473.4">2</text>
<text x="229.9" y="473.4">3</text>
<text x="288" y="473.4">4</text>
<text x="346.1" y="473.4">5</text>
<text x="404.2" y="473.4">6</text>
<text x="462.4" y="473.4">7</text>
<text x="520.5" y="473.4">8</text>
<text x="578.6" y="473.4">9</text>
<text x="635.5" y="473.4">10</text>
<text x="693.6" y="473.4">11</text>
<text x="751.7" y="473.4">12</text>
<text x="809.8" y="473.4">13</text>
<text x="868" y="473.4">14</text>
<text x="926.1" y="473.4">15</text>
<text x="984.2" y="473.4">16</text>
<text x="1042.3" y="473.4">17</text>
<text x="1100.5" y="473.4">18</text>
<text x="1158.6" y="473.4">19</text>
<text x="1216.7" y="473.4">20</text>
<text x="1274.8" y="473.4">21</text>
<text x="1333" y="473.4">22</text>
</g>
<g font-size="16.67" text-anchor="end">
<text x="49.8" y="454.2">0</text>
<text x="49.8" y="395.5">1</text>
<text x="49.8" y="336.8">2</text>
<text x="49.8" y="278.1">3</text>
<text x="49.8" y="219.3">4</text>
<text x="49.8" y="160.6">5</text>
<text x="49.8" y="101.9">6</text>
<text x="49.8" y="43.2">7</text>
</g>
<text x="752.2" y="27.9" font-size="21.62" font-weight="bold" fill="#424242" text-anchor="middle">Raw attenuated backscattering coefficient</text>
<text transform="translate(27.6 242) rotate(-90)" font-size="22.55" text-anchor="middle">Altitude (km)</text>
<rect x="55.5" y="541.5" width="1395" height="411" fill="none" stroke="#000" stroke-width="1.4"/>
<path d="M55.5 952.5v6.3M113.62 952.5v6.3M171.75 952.5v6.3M229.88 952.5v6.3M288 952.5v6.3M346.12 952.5v6.3M404.25 952.5v6.3M462.38 952.5v6.3M520.5 952.5v6.3M578.62 952.5v6.3M636.75 952.5v6.3M694.88 952.5v6.3M753 952.5v6.3M811.12 952.5v6.3M869.25 952.5v6.3M927.38 952.5v6.3M985.5 952.5v6.3M1043.62 952.5v6.3M1101.75 952.5v6.3M1159.88 952.5v6.3M1218 952.5v6.3M1276.12 952.5v6.3M1334.25 952.5v6.3M55.5 952.5h6.3M1450.5 952.5h-6.3M55.5 893.79h6.3M1450.5 893.79h-6.3M55.5 835.07h6.3M1450.5 835.07h-6.3M55.5 776.36h6.3M1450.5 776.36h-6.3M55.5 717.64h6.3M1450.5 717.64h-6.3M55.5 658.93h6.3M1450.5 658.93h-6.3M55.5 600.21h6.3M1450.5 600.21h-6.3M55.5 541.5h6.3M1450.5 541.5h-6.3" stroke="#000" stroke-width="1.4" fill="none"/>
<g font-size="16.67" text-anchor="middle">
<text x="55.5" y="977.4">0</text>
<text x="113.6" y="977.4">1</text>
<text x="171.8" y="977.4">2</text>
<text x="229.9" y="977.4">3</text>
<text x="288" y="977.4">4</text>
<text x="346.1" y="977.4">5</text>
<text x="404.2" y="977.4">6</text>
<text x="462.4" y="977.4">7</text>
<text x="520.5" y="977.4">8</text>
<text x="578.6" y="977.4">9</text>
<text x="635.5" y="977.4">10</text>
<text x="693.6" y="977.4">11</text>
<text x="751.7" y="977.4">12</text>
<text x="809.8" y="977.4">13</text>
<text x="868" y="977.4">14</text>
<text x="926.1" y="977.4">15</text>
<text x="984.2" y="977.4">16</text>
<text x="1042.3" y="977.4">17</text>
<text x="1100.5" y="977.4">18</text>
<text x="1158.6" y="977.4">19</text>
<text x="1216.7" y="977.4">20</text>
<text x="1274.8" y="977.4">21</text>
<text x="1333" y="977.4">22</text>
</g>
<g font-size="16.67" text-anchor="end">
<text x="49.8" y="958.2">0</text>
<text x="49.8" y="899.5">1</text>
<text x="49.8" y="840.8">2</text>
<text x="49.8" y="782.1">3</text>
<text x="49.8" y="723.3">4</text>
<text x="49.8" y="664.6">5</text>
<text x="49.8" y="605.9">6</text>
<text x="49.8" y="547.2">7</text>
</g>
<text x="752.2" y="531.9" font-size="21.62" font-weight="bold" fill="#424242" text-anchor="middle">Attenuated backscattering coefficient (SNR-screened)</text>
<text transform="translate(27.6 746) rotate(-90)" font-size="22.55" text-anchor="middle">Altitude (km)</text>
<text x="752.5" y="1005" font-size="22.2" text-anchor="middle">Time (UTC)</text>
<rect x="1504.3" y="708.9" width="22.2" height="9" fill="#e6e6ff" shape-rendering="crispEdges"/>
<rect x="1504.3" y="700.5" width="22.2" height="9" fill="#b0b0ff" shape-rendering="crispEdges"/>
<rect x="1504.3" y="692.1" width="22.2" height="9" fill="#8080ff" shape-rendering="crispEdges"/>
<rect x="1504.3" y="683.7" width="22.2" height="9" fill="#5050ff" shape-rendering="crispEdges"/>
<rect x="1504.3" y="675.3" width="22.2" height="9" fill="#2020ff" shape-rendering="crispEdges"/>
<rect x="1504.3" y="666.9" width="22.2" height="9" fill="#0000ff" shape-rendering="crispEdges"/>
<rect x="1504.3" y="658.5" width="22.2" height="9" fill="#0000fc" shape-rendering="crispEdges"/>
<rect x="1504.3" y="650.1" width="22.2" height="9" fill="#0012ff" shape-rendering="crispEdges"/>
<rect x="1504.3" y="641.7" width="22.2" height="9" fill="#0027ff" shape-rendering="crispEdges"/>
<rect x="1504.3" y="633.3" width="22.2" height="9" fill="#003cff" shape-rendering="crispEdges"/>
<rect x="1504.3" y="624.9" width="22.2" height="9" fill="#0051ff" shape-rendering="crispEdges"/>
<rect x="1504.3" y="616.5" width="22.2" height="9" fill="#0065ff" shape-rendering="crispEdges"/>
<rect x="1504.3" y="608.1" width="22.2" height="9" fill="#007aff" shape-rendering="crispEdges"/>
<rect x="1504.3" y="599.7" width="22.2" height="9" fill="#008fff" shape-rendering="crispEdges"/>
<rect x="1504.3" y="591.3" width="22.2" height="9" fill="#00a4ff" shape-rendering="crispEdges"/>
<rect x="1504.3" y="582.9" width="22.2" height="9" fill="#00b9ff" shape-rendering="crispEdges"/>
<rect x="1504.3" y="574.5" width="22.2" height="9" fill="#00ceff" shape-rendering="crispEdges"/>
<rect x="1504.3" y="566.1" width="22.2" height="9" fill="#00e2ff" shape-rendering="crispEdges"/>
<rect x="1504.3" y="557.7" width="22.2" height="9" fill="#00f7ff" shape-rendering="crispEdges"/>
<rect x="1504.3" y="549.3" width="22.2" height="9" fill="#0dfff2" shape-rendering="crispEdges"/>
<rect x="1504.3" y="540.9" width="22.2" height="9" fill="#22ffdd" shape-rendering="crispEdges"/>
<rect x="1504.3" y="532.5" width="22.2" height="9" fill="#37ffc8" shape-rendering="crispEdges"/>
<rect x="1504.3" y="524.1" width="22.2" height="9" fill="#4bffb4" shape-rendering="crispEdges"/>
<rect x="1504.3" y="515.7" width="22.2" height="9" fill="#60ff9f" shape-rendering="crispEdges"/>
<rect x="1504.3" y="507.3" width="22.2" height="9" fill="#75ff8a" shape-rendering="crispEdges"/>
<rect x="1504.3" y="498.9" width="22.2" height="9" fill="#8aff75" shape-rendering="crispEdges"/>
<rect x="1504.3" y="490.5" width="22.2" height="9" fill="#9fff60" shape-rendering="crispEdges"/>
<rect x="1504.3" y="482.1" width="22.2" height="9" fill="#b4ff4b" shape-rendering="crispEdges"/>
<rect x="1504.3" y="473.7" width="22.2" height="9" fill="#c8ff37" shape-rendering="crispEdges"/>
<rect x="1504.3" y="465.3" width="22.2" height="9" fill="#ddff22" shape-rendering="crispEdges"/>
<rect x="1504.3" y="456.9" width="22.2" height="9" fill="#f2ff0d" shape-rendering="crispEdges"/>
<rect x="1504.3" y="448.5" width="22.2" height="9" fill="#fff700" shape-rendering="crispEdges"/>
<rect x="1504.3" y="440.1" width="22.2" height="9" fill="#ffe200" shape-rendering="crispEdges"/>
<rect x="1504.3" y="431.7" width="22.2" height="9" fill="#ffce00" shape-rendering="crispEdges"/>
<rect x="1504.3" y="423.3" width="22.2" height="9" fill="#ffb900" shape-rendering="crispEdges"/>
<rect x="1504.3" y="414.9" width="22.2" height="9" fill="#ffa400" shape-rendering="crispEdges"/>
<rect x="1504.3" y="406.5" width="22.2" height="9" fill="#ff8f00" shape-rendering="crispEdges"/>
<rect x="1504.3" y="398.1" width="22.2" height="9" fill="#ff7a00" shape-rendering="crispEdges"/>
<rect x="1504.3" y="389.7" width="22.2" height="9" fill="#ff6500" shape-rendering="crispEdges"/>
<rect x="1504.3" y="381.3" width="22.2" height="9" fill="#ff5100" shape-rendering="crispEdges"/>
<rect x="1504.3" y="372.9" width="22.2" height="9" fill="#ff3c00" shape-rendering="crispEdges"/>
<rect x="1504.3" y="364.5" width="22.2" height="9" fill="#ff2700" shape-rendering="crispEdges"/>
<rect x="1504.3" y="356.1" width="22.2" height="9" fill="#ff1200" shape-rendering="crispEdges"/>
<rect x="1504.3" y="347.7" width="22.2" height="9" fill="#fc0000" shape-rendering="crispEdges"/>
<rect x="1504.3" y="339.3" width="22.2" height="9" fill="#e80000" shape-rendering="crispEdges"/>
<rect x="1504.3" y="330.9" width="22.2" height="9" fill="#d30000" shape-rendering="crispEdges"/>
<rect x="1504.3" y="322.5" width="22.2" height="9" fill="#be0000" shape-rendering="crispEdges"/>
<rect x="1504.3" y="314.1" width="22.2" height="9" fill="#a90000" shape-rendering="crispEdges"/>
<rect x="1504.3" y="305.7" width="22.2" height="9" fill="#940000" shape-rendering="crispEdges"/>
<rect x="1504.3" y="297.3" width="22.2" height="9" fill="#800000" shape-rendering="crispEdges"/>
<rect x="1504.3" y="297.3" width="22.2" height="420" fill="none" stroke="#000" stroke-width="1.4"/>
<text x="1531.6" y="304.6" font-size="21.3">1e-4</text>
<text x="1531.6" y="724.6" font-size="21.3">1e-7</text>
<text transform="translate(1581 509.3) rotate(-90)" font-size="21.3" text-anchor="middle">1/m/sr</text>
</svg>
</body></html>
